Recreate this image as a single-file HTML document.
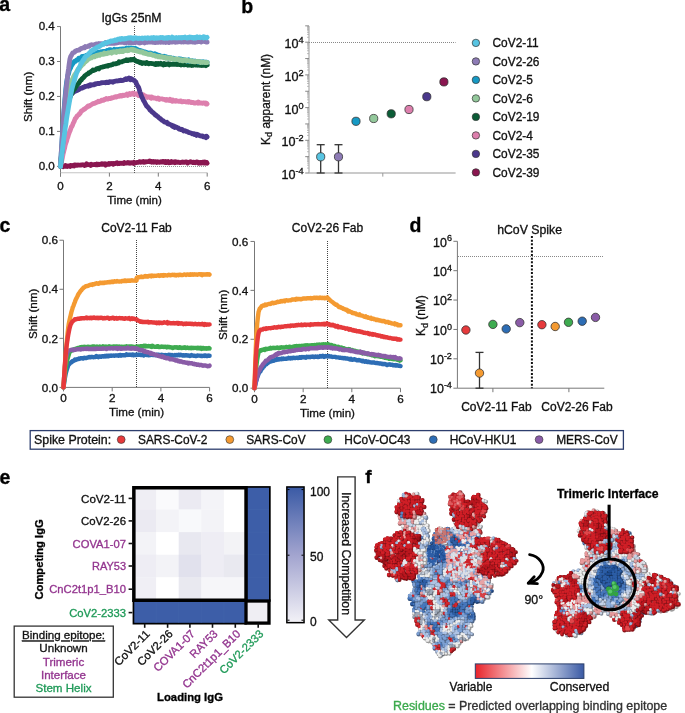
<!DOCTYPE html>
<html><head><meta charset="utf-8"><style>
html,body{margin:0;padding:0;background:#fff;width:685px;height:713px;overflow:hidden}
svg{position:absolute;left:0;top:0;font-family:"Liberation Sans", sans-serif;will-change:transform}
text{stroke-width:0.32px}
</style></head><body>
<svg width="685" height="713" viewBox="0 0 685 713">
<text x="-0.80" y="10.60" font-size="19.5" text-anchor="start" font-weight="bold" fill="#000" stroke="#000">a</text>
<text x="131.50" y="22.40" font-size="12.3" text-anchor="middle" font-weight="normal" fill="#111" stroke="#111">IgGs 25nM</text>
<line x1="60.50" y1="26.40" x2="60.50" y2="176.60" stroke="#7a7a7a" stroke-width="1"/>
<line x1="57.00" y1="26.55" x2="60.50" y2="26.55" stroke="#7a7a7a" stroke-width="1"/>
<text x="54.80" y="29.95" font-size="11.6" text-anchor="end" font-weight="normal" fill="#111" stroke="#111">0.4</text>
<line x1="57.00" y1="61.50" x2="60.50" y2="61.50" stroke="#7a7a7a" stroke-width="1"/>
<text x="54.80" y="64.90" font-size="11.6" text-anchor="end" font-weight="normal" fill="#111" stroke="#111">0.3</text>
<line x1="57.00" y1="96.45" x2="60.50" y2="96.45" stroke="#7a7a7a" stroke-width="1"/>
<text x="54.80" y="99.85" font-size="11.6" text-anchor="end" font-weight="normal" fill="#111" stroke="#111">0.2</text>
<line x1="57.00" y1="131.40" x2="60.50" y2="131.40" stroke="#7a7a7a" stroke-width="1"/>
<text x="54.80" y="134.80" font-size="11.6" text-anchor="end" font-weight="normal" fill="#111" stroke="#111">0.1</text>
<line x1="57.00" y1="166.35" x2="60.50" y2="166.35" stroke="#7a7a7a" stroke-width="1"/>
<text x="54.80" y="169.75" font-size="11.6" text-anchor="end" font-weight="normal" fill="#111" stroke="#111">0.0</text>
<line x1="60.50" y1="172.80" x2="207.30" y2="172.80" stroke="#c4c4c4" stroke-width="1.1"/>
<line x1="60.50" y1="172.80" x2="60.50" y2="176.60" stroke="#7a7a7a" stroke-width="1"/>
<text x="60.50" y="189.60" font-size="11.6" text-anchor="middle" font-weight="normal" fill="#111" stroke="#111">0</text>
<line x1="109.40" y1="172.80" x2="109.40" y2="176.60" stroke="#7a7a7a" stroke-width="1"/>
<text x="109.40" y="189.60" font-size="11.6" text-anchor="middle" font-weight="normal" fill="#111" stroke="#111">2</text>
<line x1="158.30" y1="172.80" x2="158.30" y2="176.60" stroke="#7a7a7a" stroke-width="1"/>
<text x="158.30" y="189.60" font-size="11.6" text-anchor="middle" font-weight="normal" fill="#111" stroke="#111">4</text>
<line x1="207.20" y1="172.80" x2="207.20" y2="176.60" stroke="#7a7a7a" stroke-width="1"/>
<text x="207.20" y="189.60" font-size="11.6" text-anchor="middle" font-weight="normal" fill="#111" stroke="#111">6</text>
<text x="134.50" y="203.70" font-size="11.5" text-anchor="middle" font-weight="normal" fill="#111" stroke="#111">Time (min)</text>
<text x="31.60" y="96.80" font-size="11.6" text-anchor="middle" font-weight="normal" fill="#111" stroke="#111" transform="rotate(-90 31.6 96.8)">Shift (nm)</text>
<line x1="134.50" y1="26.00" x2="134.50" y2="173.00" stroke="#555" stroke-width="1" stroke-dasharray="1,1"/>
<line x1="135.00" y1="166.50" x2="207.00" y2="166.50" stroke="#999" stroke-width="1" stroke-dasharray="1,1"/>
<path d="M60.50,166.35 L61.17,165.87 L61.85,166.25 L62.52,166.07 L63.19,166.68 L63.86,166.16 L64.54,166.14 L65.21,165.55 L65.88,166.34 L66.56,165.97 L67.23,166.55 L67.90,165.94 L68.58,166.09 L69.25,166.13 L69.92,166.53 L70.59,165.43 L71.27,165.56 L71.94,165.88 L72.61,165.52 L73.29,165.77 L73.96,165.98 L74.63,164.88 L75.30,164.83 L75.98,165.15 L76.65,165.28 L77.32,165.24 L78.00,165.02 L78.67,165.06 L79.34,165.08 L80.02,165.14 L80.69,165.02 L81.36,165.03 L82.03,164.84 L82.71,164.77 L83.38,164.81 L84.05,164.96 L84.73,165.47 L85.40,164.94 L86.07,165.07 L86.74,163.82 L87.42,164.57 L88.09,164.58 L88.76,164.66 L89.44,164.77 L90.11,164.68 L90.78,165.46 L91.46,164.27 L92.13,164.74 L92.80,164.69 L93.47,164.72 L94.15,164.72 L94.82,164.39 L95.49,164.43 L96.17,164.88 L96.84,164.17 L97.51,164.83 L98.18,164.50 L98.86,164.22 L99.53,164.55 L100.20,164.30 L100.88,164.37 L101.55,163.77 L102.22,164.29 L102.89,163.77 L103.57,163.88 L104.24,164.38 L104.91,163.85 L105.59,165.13 L106.26,164.52 L106.93,163.97 L107.61,164.22 L108.28,164.27 L108.95,163.47 L109.62,164.27 L110.30,163.52 L110.97,163.65 L111.64,163.44 L112.32,163.62 L112.99,164.27 L113.66,163.50 L114.33,163.82 L115.01,163.73 L115.68,163.43 L116.35,162.78 L117.03,162.77 L117.70,163.69 L118.37,163.26 L119.05,163.67 L119.72,163.11 L120.39,163.32 L121.06,163.44 L121.74,163.23 L122.41,163.22 L123.08,163.46 L123.76,163.53 L124.43,162.62 L125.10,163.17 L125.77,163.22 L126.45,162.98 L127.12,162.95 L127.79,162.48 L128.47,163.01 L129.14,162.77 L129.81,163.28 L130.49,163.21 L131.16,162.64 L131.83,162.97 L132.50,162.88 L133.18,163.30 L133.85,162.41 L133.85,163.66 L134.52,163.00 L135.20,162.93 L135.87,162.60 L136.54,162.54 L137.21,162.41 L137.89,162.35 L138.56,162.30 L139.23,161.76 L139.91,161.77 L140.58,162.26 L141.25,162.00 L141.93,161.99 L142.60,161.77 L143.27,161.50 L143.94,162.39 L144.62,162.01 L145.29,162.08 L145.96,161.77 L146.64,161.81 L147.31,161.72 L147.98,161.56 L148.65,161.56 L149.33,160.98 L150.00,161.75 L150.67,161.23 L151.35,161.39 L152.02,162.24 L152.69,162.14 L153.37,161.43 L154.04,162.20 L154.71,161.85 L155.38,161.68 L156.06,161.86 L156.73,162.45 L157.40,161.79 L158.08,161.98 L158.75,161.97 L159.42,162.34 L160.09,162.19 L160.77,161.75 L161.44,162.13 L162.11,161.72 L162.79,161.34 L163.46,161.55 L164.13,162.28 L164.81,162.50 L165.48,161.62 L166.15,162.57 L166.82,161.81 L167.50,162.32 L168.17,161.65 L168.84,162.84 L169.52,162.10 L170.19,162.16 L170.86,162.46 L171.53,161.61 L172.21,162.29 L172.88,162.44 L173.55,161.93 L174.23,161.92 L174.90,162.67 L175.57,161.74 L176.24,162.04 L176.92,162.45 L177.59,162.22 L178.26,162.11 L178.94,162.37 L179.61,162.62 L180.28,162.53 L180.96,162.43 L181.63,162.36 L182.30,161.88 L182.97,162.39 L183.65,162.18 L184.32,162.38 L184.99,162.17 L185.67,161.80 L186.34,161.90 L187.01,162.28 L187.68,162.99 L188.36,162.51 L189.03,162.03 L189.70,162.15 L190.38,161.62 L191.05,162.04 L191.72,162.07 L192.40,162.47 L193.07,162.15 L193.74,162.21 L194.41,162.58 L195.09,162.75 L195.76,162.66 L196.43,162.09 L197.11,161.82 L197.78,162.15 L198.45,163.11 L199.12,162.41 L199.80,162.97 L200.47,162.32 L201.14,162.29 L201.82,163.04 L202.49,162.31 L203.16,162.08 L203.84,162.85 L204.51,162.17 L205.18,162.85 L205.85,162.19 L206.53,162.39 L207.20,163.20" fill="none" stroke="#8a1650" stroke-width="4.8" stroke-linecap="round" stroke-linejoin="round"/>
<path d="M60.50,166.35 L61.17,163.36 L61.85,160.27 L62.52,157.13 L63.19,153.56 L63.86,150.85 L64.54,148.46 L65.21,145.13 L65.88,143.04 L66.56,141.13 L67.23,138.47 L67.90,136.90 L68.58,134.44 L69.25,132.60 L69.92,131.09 L70.59,129.17 L71.27,127.16 L71.94,126.36 L72.61,124.97 L73.29,122.99 L73.96,121.97 L74.63,120.10 L75.30,118.57 L75.98,117.94 L76.65,116.90 L77.32,115.62 L78.00,115.32 L78.67,114.86 L79.34,113.84 L80.02,113.59 L80.69,112.18 L81.36,111.00 L82.03,110.73 L82.71,110.34 L83.38,109.86 L84.05,109.04 L84.73,109.17 L85.40,108.12 L86.07,107.84 L86.74,107.40 L87.42,106.60 L88.09,105.90 L88.76,106.34 L89.44,106.08 L90.11,105.28 L90.78,105.10 L91.46,104.61 L92.13,104.14 L92.80,103.70 L93.47,103.56 L94.15,103.38 L94.82,103.27 L95.49,102.87 L96.17,102.69 L96.84,102.05 L97.51,101.97 L98.18,101.18 L98.86,101.77 L99.53,101.55 L100.20,101.04 L100.88,101.02 L101.55,100.13 L102.22,100.47 L102.89,100.03 L103.57,100.29 L104.24,99.38 L104.91,99.53 L105.59,99.18 L106.26,98.51 L106.93,99.12 L107.61,99.22 L108.28,98.79 L108.95,98.48 L109.62,98.44 L110.30,98.65 L110.97,98.09 L111.64,97.67 L112.32,98.08 L112.99,97.66 L113.66,97.42 L114.33,97.17 L115.01,96.76 L115.68,96.66 L116.35,96.97 L117.03,96.70 L117.70,96.33 L118.37,96.45 L119.05,96.35 L119.72,95.68 L120.39,95.50 L121.06,96.09 L121.74,96.04 L122.41,95.32 L123.08,95.20 L123.76,95.56 L124.43,95.43 L125.10,95.02 L125.77,95.03 L126.45,95.10 L127.12,94.07 L127.79,95.39 L128.47,94.48 L129.14,94.58 L129.81,93.52 L130.49,94.54 L131.16,94.30 L131.83,93.92 L132.50,93.25 L133.18,93.44 L133.85,93.18 L133.85,94.48 L134.52,94.02 L135.20,94.18 L135.87,94.14 L136.54,93.81 L137.21,94.57 L137.89,94.98 L138.56,95.52 L139.23,94.77 L139.91,95.26 L140.58,95.07 L141.25,95.60 L141.93,95.98 L142.60,95.73 L143.27,94.81 L143.94,96.47 L144.62,95.69 L145.29,95.98 L145.96,96.60 L146.64,96.58 L147.31,97.36 L147.98,96.83 L148.65,96.81 L149.33,97.04 L150.00,97.54 L150.67,97.07 L151.35,98.12 L152.02,97.10 L152.69,97.61 L153.37,98.01 L154.04,98.16 L154.71,97.95 L155.38,98.22 L156.06,98.40 L156.73,98.74 L157.40,98.78 L158.08,97.95 L158.75,98.18 L159.42,99.41 L160.09,98.91 L160.77,98.78 L161.44,98.84 L162.11,98.89 L162.79,99.03 L163.46,99.36 L164.13,99.45 L164.81,99.47 L165.48,100.02 L166.15,100.27 L166.82,99.53 L167.50,99.81 L168.17,100.16 L168.84,100.39 L169.52,100.47 L170.19,99.33 L170.86,100.49 L171.53,100.30 L172.21,101.27 L172.88,99.92 L173.55,101.15 L174.23,100.93 L174.90,100.87 L175.57,101.21 L176.24,100.56 L176.92,100.98 L177.59,101.19 L178.26,101.07 L178.94,101.41 L179.61,101.33 L180.28,101.00 L180.96,101.02 L181.63,101.86 L182.30,101.69 L182.97,101.73 L183.65,101.37 L184.32,101.64 L184.99,101.69 L185.67,101.76 L186.34,102.02 L187.01,101.84 L187.68,101.44 L188.36,102.21 L189.03,101.50 L189.70,102.12 L190.38,102.21 L191.05,102.50 L191.72,102.21 L192.40,102.64 L193.07,102.43 L193.74,102.78 L194.41,103.19 L195.09,103.09 L195.76,102.77 L196.43,102.66 L197.11,102.76 L197.78,103.17 L198.45,102.06 L199.12,103.11 L199.80,103.21 L200.47,102.95 L201.14,102.85 L201.82,103.18 L202.49,103.28 L203.16,102.97 L203.84,102.93 L204.51,103.40 L205.18,103.06 L205.85,103.89 L206.53,103.20 L207.20,103.86" fill="none" stroke="#dd7fad" stroke-width="4.8" stroke-linecap="round" stroke-linejoin="round"/>
<path d="M60.50,166.35 L61.17,158.16 L61.85,150.28 L62.52,142.02 L63.19,135.27 L63.86,128.37 L64.54,122.46 L65.21,116.59 L65.88,110.44 L66.56,106.27 L67.23,102.59 L67.90,99.37 L68.58,97.16 L69.25,96.68 L69.92,95.55 L70.59,94.59 L71.27,93.84 L71.94,93.69 L72.61,93.38 L73.29,92.11 L73.96,91.85 L74.63,91.09 L75.30,91.39 L75.98,90.92 L76.65,90.26 L77.32,90.32 L78.00,89.91 L78.67,89.70 L79.34,89.41 L80.02,88.71 L80.69,88.07 L81.36,88.03 L82.03,88.15 L82.71,87.52 L83.38,87.06 L84.05,87.26 L84.73,86.56 L85.40,86.33 L86.07,86.28 L86.74,86.24 L87.42,85.85 L88.09,86.29 L88.76,85.46 L89.44,85.04 L90.11,85.79 L90.78,84.70 L91.46,85.28 L92.13,84.88 L92.80,84.73 L93.47,84.74 L94.15,84.79 L94.82,83.98 L95.49,84.29 L96.17,83.60 L96.84,83.87 L97.51,83.38 L98.18,83.51 L98.86,83.51 L99.53,83.52 L100.20,83.31 L100.88,83.00 L101.55,82.66 L102.22,82.75 L102.89,82.56 L103.57,82.66 L104.24,82.62 L104.91,82.57 L105.59,82.88 L106.26,82.20 L106.93,82.22 L107.61,82.21 L108.28,82.69 L108.95,82.41 L109.62,81.74 L110.30,81.67 L110.97,81.94 L111.64,81.78 L112.32,81.60 L112.99,82.15 L113.66,81.59 L114.33,81.48 L115.01,81.18 L115.68,81.21 L116.35,80.84 L117.03,80.80 L117.70,80.99 L118.37,80.89 L119.05,80.43 L119.72,80.66 L120.39,80.33 L121.06,80.16 L121.74,80.70 L122.41,80.54 L123.08,80.26 L123.76,80.26 L124.43,79.52 L125.10,79.48 L125.77,78.85 L126.45,79.52 L127.12,78.62 L127.79,78.74 L128.47,79.02 L129.14,78.08 L129.81,78.60 L130.49,79.64 L131.16,78.56 L131.83,79.31 L132.50,79.43 L133.18,79.84 L133.85,80.45 L133.85,80.36 L134.52,80.56 L135.20,81.48 L135.87,81.95 L136.54,84.06 L137.21,85.09 L137.89,86.31 L138.56,87.34 L139.23,89.28 L139.91,91.86 L140.58,93.39 L141.25,95.59 L141.93,97.25 L142.60,98.44 L143.27,100.10 L143.94,101.07 L144.62,102.23 L145.29,103.54 L145.96,104.82 L146.64,106.10 L147.31,106.40 L147.98,107.38 L148.65,108.03 L149.33,108.84 L150.00,110.09 L150.67,110.27 L151.35,111.31 L152.02,111.92 L152.69,112.30 L153.37,112.98 L154.04,113.63 L154.71,114.04 L155.38,115.04 L156.06,115.07 L156.73,115.85 L157.40,116.42 L158.08,116.71 L158.75,117.48 L159.42,118.35 L160.09,118.44 L160.77,119.35 L161.44,119.58 L162.11,120.34 L162.79,120.52 L163.46,120.96 L164.13,121.91 L164.81,122.09 L165.48,122.08 L166.15,122.46 L166.82,122.24 L167.50,123.61 L168.17,123.33 L168.84,124.11 L169.52,124.04 L170.19,124.55 L170.86,124.75 L171.53,125.21 L172.21,126.17 L172.88,125.73 L173.55,126.84 L174.23,126.32 L174.90,127.46 L175.57,127.26 L176.24,126.96 L176.92,127.38 L177.59,127.91 L178.26,127.86 L178.94,129.02 L179.61,129.11 L180.28,129.50 L180.96,129.05 L181.63,129.39 L182.30,129.61 L182.97,130.30 L183.65,130.97 L184.32,130.61 L184.99,130.53 L185.67,131.15 L186.34,131.47 L187.01,131.42 L187.68,131.93 L188.36,132.31 L189.03,132.61 L189.70,132.63 L190.38,132.95 L191.05,133.13 L191.72,133.42 L192.40,133.78 L193.07,133.84 L193.74,133.61 L194.41,134.54 L195.09,134.05 L195.76,134.42 L196.43,135.36 L197.11,134.26 L197.78,134.77 L198.45,135.11 L199.12,135.22 L199.80,135.67 L200.47,135.88 L201.14,136.16 L201.82,135.87 L202.49,135.90 L203.16,136.72 L203.84,136.47 L204.51,137.00 L205.18,137.17 L205.85,137.62 L206.53,136.26 L207.20,136.99" fill="none" stroke="#4b388c" stroke-width="4.8" stroke-linecap="round" stroke-linejoin="round"/>
<path d="M60.50,166.35 L61.17,158.76 L61.85,152.15 L62.52,145.59 L63.19,138.87 L63.86,132.65 L64.54,125.98 L65.21,121.60 L65.88,116.97 L66.56,111.76 L67.23,107.38 L67.90,104.58 L68.58,101.61 L69.25,99.19 L69.92,97.57 L70.59,95.61 L71.27,94.32 L71.94,93.05 L72.61,91.95 L73.29,90.64 L73.96,88.60 L74.63,89.02 L75.30,87.34 L75.98,86.61 L76.65,85.90 L77.32,84.38 L78.00,83.98 L78.67,83.39 L79.34,82.32 L80.02,81.27 L80.69,80.05 L81.36,79.91 L82.03,78.77 L82.71,78.13 L83.38,77.70 L84.05,76.92 L84.73,76.03 L85.40,75.33 L86.07,74.91 L86.74,74.40 L87.42,73.92 L88.09,73.93 L88.76,72.92 L89.44,72.73 L90.11,72.33 L90.78,71.76 L91.46,71.22 L92.13,70.80 L92.80,70.10 L93.47,70.59 L94.15,70.32 L94.82,69.88 L95.49,69.90 L96.17,69.22 L96.84,68.58 L97.51,68.67 L98.18,68.23 L98.86,68.89 L99.53,67.79 L100.20,67.71 L100.88,67.36 L101.55,67.25 L102.22,67.11 L102.89,66.98 L103.57,66.53 L104.24,66.53 L104.91,66.44 L105.59,66.11 L106.26,65.99 L106.93,65.87 L107.61,66.18 L108.28,65.53 L108.95,65.31 L109.62,65.34 L110.30,65.22 L110.97,65.05 L111.64,64.77 L112.32,64.71 L112.99,64.11 L113.66,63.82 L114.33,63.96 L115.01,63.84 L115.68,63.77 L116.35,63.46 L117.03,63.57 L117.70,63.12 L118.37,63.06 L119.05,61.70 L119.72,62.34 L120.39,62.03 L121.06,61.98 L121.74,61.84 L122.41,61.50 L123.08,61.28 L123.76,60.94 L124.43,60.66 L125.10,60.55 L125.77,60.56 L126.45,59.77 L127.12,59.83 L127.79,60.57 L128.47,60.00 L129.14,60.01 L129.81,60.06 L130.49,59.48 L131.16,59.99 L131.83,59.43 L132.50,59.80 L133.18,59.88 L133.85,59.86 L133.85,59.19 L134.52,60.07 L135.20,60.33 L135.87,60.90 L136.54,61.33 L137.21,61.52 L137.89,61.39 L138.56,61.65 L139.23,62.30 L139.91,62.71 L140.58,62.22 L141.25,62.45 L141.93,63.44 L142.60,63.00 L143.27,63.09 L143.94,62.85 L144.62,63.10 L145.29,63.48 L145.96,63.15 L146.64,62.45 L147.31,62.79 L147.98,63.48 L148.65,63.77 L149.33,63.44 L150.00,63.51 L150.67,63.30 L151.35,63.48 L152.02,63.61 L152.69,63.63 L153.37,63.77 L154.04,64.07 L154.71,64.08 L155.38,64.54 L156.06,63.40 L156.73,64.20 L157.40,63.90 L158.08,63.47 L158.75,64.32 L159.42,64.09 L160.09,63.95 L160.77,63.23 L161.44,64.33 L162.11,64.37 L162.79,64.16 L163.46,64.97 L164.13,63.47 L164.81,64.58 L165.48,64.51 L166.15,64.18 L166.82,64.33 L167.50,64.27 L168.17,63.76 L168.84,64.10 L169.52,64.83 L170.19,63.89 L170.86,64.15 L171.53,64.47 L172.21,64.33 L172.88,64.31 L173.55,63.99 L174.23,64.43 L174.90,64.37 L175.57,64.26 L176.24,64.35 L176.92,64.60 L177.59,64.49 L178.26,64.29 L178.94,64.49 L179.61,64.70 L180.28,64.26 L180.96,64.88 L181.63,63.99 L182.30,64.16 L182.97,64.68 L183.65,64.78 L184.32,64.51 L184.99,64.82 L185.67,64.62 L186.34,64.37 L187.01,64.78 L187.68,65.16 L188.36,64.36 L189.03,64.68 L189.70,65.03 L190.38,65.12 L191.05,64.66 L191.72,65.37 L192.40,64.65 L193.07,65.21 L193.74,64.08 L194.41,64.57 L195.09,64.89 L195.76,65.03 L196.43,64.85 L197.11,65.07 L197.78,65.23 L198.45,64.59 L199.12,64.22 L199.80,64.55 L200.47,65.36 L201.14,64.95 L201.82,65.56 L202.49,64.93 L203.16,65.17 L203.84,65.35 L204.51,65.25 L205.18,64.95 L205.85,65.62 L206.53,65.07 L207.20,64.89" fill="none" stroke="#0b5c36" stroke-width="4.8" stroke-linecap="round" stroke-linejoin="round"/>
<path d="M60.50,166.35 L61.17,154.51 L61.85,143.35 L62.52,132.57 L63.19,122.34 L63.86,111.99 L64.54,103.32 L65.21,95.36 L65.88,88.26 L66.56,82.52 L67.23,78.87 L67.90,74.96 L68.58,73.74 L69.25,70.56 L69.92,69.20 L70.59,67.95 L71.27,65.96 L71.94,65.12 L72.61,63.82 L73.29,63.05 L73.96,61.93 L74.63,61.27 L75.30,61.33 L75.98,60.74 L76.65,59.97 L77.32,59.69 L78.00,59.92 L78.67,58.16 L79.34,59.10 L80.02,58.71 L80.69,58.11 L81.36,57.21 L82.03,56.51 L82.71,56.86 L83.38,56.64 L84.05,56.20 L84.73,56.12 L85.40,55.74 L86.07,55.90 L86.74,55.19 L87.42,55.00 L88.09,55.69 L88.76,54.77 L89.44,54.50 L90.11,54.19 L90.78,54.45 L91.46,54.44 L92.13,54.15 L92.80,53.51 L93.47,53.78 L94.15,53.60 L94.82,52.84 L95.49,53.29 L96.17,53.18 L96.84,52.78 L97.51,52.54 L98.18,52.14 L98.86,52.61 L99.53,52.69 L100.20,52.11 L100.88,51.74 L101.55,52.29 L102.22,51.85 L102.89,51.49 L103.57,51.40 L104.24,51.33 L104.91,51.33 L105.59,51.39 L106.26,51.33 L106.93,50.57 L107.61,51.19 L108.28,50.36 L108.95,51.06 L109.62,49.64 L110.30,51.01 L110.97,49.87 L111.64,50.57 L112.32,50.24 L112.99,50.14 L113.66,50.25 L114.33,49.26 L115.01,49.85 L115.68,50.22 L116.35,49.52 L117.03,49.43 L117.70,49.94 L118.37,49.33 L119.05,49.41 L119.72,49.10 L120.39,49.06 L121.06,49.22 L121.74,49.28 L122.41,48.80 L123.08,48.92 L123.76,49.42 L124.43,49.06 L125.10,48.98 L125.77,48.86 L126.45,48.00 L127.12,48.78 L127.79,48.46 L128.47,48.04 L129.14,48.35 L129.81,48.32 L130.49,48.01 L131.16,48.31 L131.83,48.27 L132.50,48.07 L133.18,48.12 L133.85,48.43 L133.85,48.59 L134.52,48.51 L135.20,48.29 L135.87,49.06 L136.54,48.88 L137.21,49.36 L137.89,49.83 L138.56,50.80 L139.23,50.15 L139.91,50.54 L140.58,51.19 L141.25,50.75 L141.93,51.15 L142.60,51.24 L143.27,51.76 L143.94,51.72 L144.62,52.14 L145.29,51.85 L145.96,52.34 L146.64,53.01 L147.31,52.69 L147.98,52.92 L148.65,53.19 L149.33,53.73 L150.00,53.15 L150.67,53.89 L151.35,53.34 L152.02,54.21 L152.69,54.16 L153.37,54.36 L154.04,54.46 L154.71,53.84 L155.38,54.99 L156.06,54.34 L156.73,54.95 L157.40,55.52 L158.08,55.06 L158.75,55.34 L159.42,55.46 L160.09,56.32 L160.77,55.89 L161.44,56.32 L162.11,56.37 L162.79,56.51 L163.46,56.59 L164.13,56.24 L164.81,56.75 L165.48,57.58 L166.15,56.74 L166.82,57.23 L167.50,57.34 L168.17,58.08 L168.84,57.50 L169.52,57.90 L170.19,57.56 L170.86,57.84 L171.53,57.84 L172.21,58.33 L172.88,58.91 L173.55,58.14 L174.23,58.43 L174.90,58.77 L175.57,58.95 L176.24,59.16 L176.92,59.55 L177.59,59.47 L178.26,59.22 L178.94,58.80 L179.61,59.26 L180.28,59.00 L180.96,59.91 L181.63,59.30 L182.30,59.92 L182.97,59.41 L183.65,59.58 L184.32,60.04 L184.99,60.09 L185.67,59.84 L186.34,60.55 L187.01,61.06 L187.68,60.20 L188.36,59.85 L189.03,61.20 L189.70,60.61 L190.38,61.13 L191.05,60.92 L191.72,61.21 L192.40,60.69 L193.07,61.21 L193.74,61.17 L194.41,61.51 L195.09,61.01 L195.76,61.46 L196.43,61.49 L197.11,61.45 L197.78,61.95 L198.45,61.56 L199.12,62.12 L199.80,61.74 L200.47,61.79 L201.14,61.90 L201.82,61.89 L202.49,62.09 L203.16,61.77 L203.84,61.98 L204.51,62.18 L205.18,62.15 L205.85,62.33 L206.53,62.20 L207.20,62.30" fill="none" stroke="#1699c4" stroke-width="4.8" stroke-linecap="round" stroke-linejoin="round"/>
<path d="M60.50,166.35 L61.17,158.07 L61.85,150.87 L62.52,142.30 L63.19,134.86 L63.86,128.21 L64.54,121.11 L65.21,114.75 L65.88,108.05 L66.56,103.68 L67.23,98.85 L67.90,95.05 L68.58,91.32 L69.25,88.51 L69.92,86.82 L70.59,84.66 L71.27,82.41 L71.94,80.63 L72.61,78.95 L73.29,77.47 L73.96,76.26 L74.63,74.78 L75.30,73.81 L75.98,73.29 L76.65,71.64 L77.32,70.77 L78.00,69.12 L78.67,69.08 L79.34,68.92 L80.02,67.12 L80.69,66.62 L81.36,65.87 L82.03,65.19 L82.71,64.10 L83.38,64.13 L84.05,62.95 L84.73,62.17 L85.40,61.80 L86.07,61.04 L86.74,60.91 L87.42,59.62 L88.09,59.22 L88.76,59.14 L89.44,58.37 L90.11,58.40 L90.78,57.69 L91.46,57.78 L92.13,57.23 L92.80,57.16 L93.47,56.62 L94.15,56.40 L94.82,56.80 L95.49,55.98 L96.17,55.52 L96.84,55.87 L97.51,55.25 L98.18,55.01 L98.86,54.96 L99.53,55.37 L100.20,54.65 L100.88,54.13 L101.55,54.35 L102.22,54.35 L102.89,54.36 L103.57,53.82 L104.24,53.06 L104.91,53.90 L105.59,53.35 L106.26,53.36 L106.93,53.75 L107.61,53.36 L108.28,52.74 L108.95,52.94 L109.62,52.65 L110.30,52.67 L110.97,52.18 L111.64,53.10 L112.32,52.15 L112.99,52.48 L113.66,51.76 L114.33,52.01 L115.01,52.05 L115.68,51.68 L116.35,52.44 L117.03,51.22 L117.70,51.42 L118.37,51.21 L119.05,51.90 L119.72,51.56 L120.39,50.67 L121.06,51.61 L121.74,51.45 L122.41,50.81 L123.08,51.50 L123.76,51.19 L124.43,50.41 L125.10,50.58 L125.77,50.29 L126.45,50.14 L127.12,50.63 L127.79,49.86 L128.47,50.60 L129.14,50.20 L129.81,50.02 L130.49,49.50 L131.16,49.87 L131.83,49.55 L132.50,49.34 L133.18,50.41 L133.85,50.29 L133.85,49.59 L134.52,49.89 L135.20,50.74 L135.87,50.62 L136.54,50.60 L137.21,51.13 L137.89,51.15 L138.56,51.60 L139.23,51.62 L139.91,51.89 L140.58,52.10 L141.25,51.71 L141.93,51.98 L142.60,51.84 L143.27,53.00 L143.94,53.09 L144.62,53.36 L145.29,52.92 L145.96,53.59 L146.64,53.76 L147.31,53.84 L147.98,54.34 L148.65,54.38 L149.33,54.37 L150.00,54.02 L150.67,54.16 L151.35,54.76 L152.02,54.91 L152.69,55.41 L153.37,55.44 L154.04,55.30 L154.71,55.51 L155.38,56.23 L156.06,56.06 L156.73,56.18 L157.40,56.40 L158.08,56.72 L158.75,56.51 L159.42,56.39 L160.09,57.10 L160.77,57.11 L161.44,56.60 L162.11,56.78 L162.79,57.31 L163.46,57.25 L164.13,57.80 L164.81,57.30 L165.48,57.53 L166.15,58.28 L166.82,57.99 L167.50,57.68 L168.17,57.96 L168.84,58.35 L169.52,58.45 L170.19,57.88 L170.86,58.67 L171.53,58.79 L172.21,58.55 L172.88,59.26 L173.55,59.08 L174.23,58.94 L174.90,59.59 L175.57,59.64 L176.24,58.92 L176.92,59.02 L177.59,59.18 L178.26,59.81 L178.94,59.53 L179.61,60.39 L180.28,59.93 L180.96,59.64 L181.63,60.46 L182.30,60.76 L182.97,60.13 L183.65,60.60 L184.32,59.67 L184.99,60.15 L185.67,60.44 L186.34,60.96 L187.01,60.27 L187.68,60.53 L188.36,60.56 L189.03,60.60 L189.70,61.27 L190.38,60.72 L191.05,60.74 L191.72,60.86 L192.40,61.62 L193.07,61.16 L193.74,61.73 L194.41,61.91 L195.09,61.92 L195.76,61.37 L196.43,61.66 L197.11,61.37 L197.78,61.83 L198.45,61.36 L199.12,61.92 L199.80,61.62 L200.47,62.56 L201.14,62.11 L201.82,62.26 L202.49,62.51 L203.16,62.38 L203.84,62.01 L204.51,62.20 L205.18,62.63 L205.85,62.63 L206.53,62.40 L207.20,62.61" fill="none" stroke="#93c89b" stroke-width="4.8" stroke-linecap="round" stroke-linejoin="round"/>
<path d="M60.50,166.35 L61.17,154.33 L61.85,143.70 L62.52,133.05 L63.19,122.80 L63.86,113.87 L64.54,105.84 L65.21,98.35 L65.88,91.83 L66.56,85.22 L67.23,79.36 L67.90,73.20 L68.58,68.64 L69.25,63.31 L69.92,58.91 L70.59,56.72 L71.27,55.72 L71.94,54.30 L72.61,53.00 L73.29,52.99 L73.96,52.24 L74.63,52.10 L75.30,51.11 L75.98,50.97 L76.65,50.51 L77.32,50.47 L78.00,50.23 L78.67,50.01 L79.34,50.06 L80.02,49.10 L80.69,48.78 L81.36,48.31 L82.03,48.39 L82.71,48.11 L83.38,47.70 L84.05,47.29 L84.73,47.65 L85.40,46.55 L86.07,46.87 L86.74,46.56 L87.42,46.49 L88.09,46.45 L88.76,45.82 L89.44,46.19 L90.11,45.25 L90.78,45.18 L91.46,44.66 L92.13,44.94 L92.80,44.86 L93.47,45.11 L94.15,44.70 L94.82,44.74 L95.49,44.29 L96.17,44.02 L96.84,44.28 L97.51,44.22 L98.18,43.86 L98.86,43.49 L99.53,43.61 L100.20,43.61 L100.88,44.00 L101.55,43.68 L102.22,44.11 L102.89,43.59 L103.57,43.83 L104.24,43.93 L104.91,43.59 L105.59,42.55 L106.26,43.33 L106.93,43.79 L107.61,42.86 L108.28,43.27 L108.95,43.14 L109.62,42.90 L110.30,43.26 L110.97,43.26 L111.64,43.33 L112.32,42.95 L112.99,43.41 L113.66,43.00 L114.33,43.38 L115.01,42.64 L115.68,42.61 L116.35,43.01 L117.03,42.76 L117.70,42.78 L118.37,42.60 L119.05,42.34 L119.72,42.37 L120.39,42.32 L121.06,42.44 L121.74,42.47 L122.41,42.00 L123.08,42.19 L123.76,42.43 L124.43,42.75 L125.10,42.16 L125.77,42.26 L126.45,42.55 L127.12,42.03 L127.79,42.01 L128.47,42.38 L129.14,42.64 L129.81,42.56 L130.49,42.05 L131.16,42.46 L131.83,42.67 L132.50,42.43 L133.18,42.05 L133.85,42.01 L133.85,42.53 L134.52,42.12 L135.20,42.58 L135.87,41.79 L136.54,42.22 L137.21,42.08 L137.89,41.88 L138.56,42.67 L139.23,42.19 L139.91,42.98 L140.58,42.78 L141.25,42.49 L141.93,42.47 L142.60,41.59 L143.27,42.00 L143.94,41.70 L144.62,42.94 L145.29,42.25 L145.96,41.96 L146.64,42.23 L147.31,42.35 L147.98,42.25 L148.65,42.07 L149.33,42.04 L150.00,42.01 L150.67,41.83 L151.35,42.06 L152.02,41.95 L152.69,42.15 L153.37,42.40 L154.04,42.13 L154.71,41.87 L155.38,42.59 L156.06,42.13 L156.73,42.28 L157.40,42.15 L158.08,41.44 L158.75,42.34 L159.42,41.91 L160.09,41.83 L160.77,42.29 L161.44,41.33 L162.11,41.54 L162.79,41.98 L163.46,42.31 L164.13,42.08 L164.81,42.02 L165.48,42.42 L166.15,41.55 L166.82,41.57 L167.50,42.08 L168.17,41.63 L168.84,42.59 L169.52,42.20 L170.19,41.59 L170.86,41.87 L171.53,42.17 L172.21,42.02 L172.88,41.92 L173.55,41.81 L174.23,41.60 L174.90,41.76 L175.57,42.26 L176.24,41.88 L176.92,42.06 L177.59,41.91 L178.26,41.95 L178.94,41.68 L179.61,41.41 L180.28,41.43 L180.96,41.99 L181.63,42.05 L182.30,41.81 L182.97,41.94 L183.65,42.06 L184.32,41.56 L184.99,41.43 L185.67,41.90 L186.34,41.70 L187.01,41.91 L187.68,42.11 L188.36,41.50 L189.03,41.95 L189.70,41.44 L190.38,41.86 L191.05,41.65 L191.72,41.92 L192.40,41.48 L193.07,42.04 L193.74,41.67 L194.41,42.07 L195.09,42.40 L195.76,41.49 L196.43,41.32 L197.11,41.93 L197.78,41.58 L198.45,41.58 L199.12,41.50 L199.80,41.45 L200.47,41.13 L201.14,42.08 L201.82,41.32 L202.49,41.11 L203.16,41.35 L203.84,41.49 L204.51,41.58 L205.18,41.63 L205.85,41.68 L206.53,42.10 L207.20,42.17" fill="none" stroke="#8d7bb5" stroke-width="4.8" stroke-linecap="round" stroke-linejoin="round"/>
<path d="M60.50,166.35 L61.17,160.76 L61.85,154.62 L62.52,149.34 L63.19,143.61 L63.86,138.28 L64.54,133.92 L65.21,128.24 L65.88,124.02 L66.56,118.63 L67.23,114.68 L67.90,110.89 L68.58,106.65 L69.25,102.82 L69.92,99.15 L70.59,95.38 L71.27,92.40 L71.94,88.99 L72.61,86.46 L73.29,84.07 L73.96,82.04 L74.63,79.77 L75.30,77.07 L75.98,74.92 L76.65,72.81 L77.32,71.72 L78.00,69.88 L78.67,68.64 L79.34,67.11 L80.02,66.38 L80.69,64.17 L81.36,63.43 L82.03,62.07 L82.71,60.81 L83.38,59.80 L84.05,59.34 L84.73,57.51 L85.40,56.88 L86.07,56.14 L86.74,55.74 L87.42,55.34 L88.09,54.69 L88.76,53.62 L89.44,52.90 L90.11,52.60 L90.78,51.26 L91.46,51.21 L92.13,50.48 L92.80,50.03 L93.47,50.18 L94.15,49.08 L94.82,48.81 L95.49,48.93 L96.17,47.89 L96.84,47.38 L97.51,47.02 L98.18,46.61 L98.86,47.00 L99.53,46.26 L100.20,45.97 L100.88,45.41 L101.55,45.02 L102.22,44.33 L102.89,44.09 L103.57,44.23 L104.24,43.35 L104.91,42.79 L105.59,42.89 L106.26,43.16 L106.93,42.61 L107.61,42.20 L108.28,42.41 L108.95,41.72 L109.62,41.88 L110.30,41.05 L110.97,40.94 L111.64,41.03 L112.32,41.25 L112.99,40.62 L113.66,40.77 L114.33,40.65 L115.01,39.95 L115.68,40.40 L116.35,40.46 L117.03,39.65 L117.70,39.21 L118.37,39.14 L119.05,39.28 L119.72,38.76 L120.39,39.41 L121.06,38.51 L121.74,38.43 L122.41,39.10 L123.08,38.76 L123.76,39.20 L124.43,39.04 L125.10,38.45 L125.77,38.92 L126.45,38.41 L127.12,38.27 L127.79,38.31 L128.47,37.99 L129.14,37.63 L129.81,38.15 L130.49,37.85 L131.16,37.66 L131.83,38.25 L132.50,38.30 L133.18,38.85 L133.85,37.94 L133.85,38.09 L134.52,38.27 L135.20,37.73 L135.87,37.90 L136.54,38.10 L137.21,38.36 L137.89,38.61 L138.56,38.28 L139.23,38.14 L139.91,38.30 L140.58,38.36 L141.25,38.37 L141.93,38.02 L142.60,38.76 L143.27,38.31 L143.94,38.17 L144.62,37.96 L145.29,37.94 L145.96,38.22 L146.64,38.32 L147.31,38.49 L147.98,37.74 L148.65,37.91 L149.33,38.01 L150.00,38.29 L150.67,38.41 L151.35,37.67 L152.02,38.03 L152.69,37.86 L153.37,37.43 L154.04,38.47 L154.71,38.22 L155.38,37.85 L156.06,37.75 L156.73,38.27 L157.40,37.95 L158.08,38.10 L158.75,38.08 L159.42,37.77 L160.09,37.82 L160.77,37.50 L161.44,37.67 L162.11,37.37 L162.79,38.09 L163.46,37.70 L164.13,38.26 L164.81,38.33 L165.48,38.24 L166.15,37.56 L166.82,37.72 L167.50,38.29 L168.17,37.35 L168.84,37.45 L169.52,37.80 L170.19,37.81 L170.86,37.73 L171.53,38.11 L172.21,36.97 L172.88,37.85 L173.55,37.76 L174.23,37.79 L174.90,37.89 L175.57,37.96 L176.24,37.56 L176.92,38.05 L177.59,37.98 L178.26,37.90 L178.94,37.38 L179.61,37.94 L180.28,37.93 L180.96,37.51 L181.63,37.96 L182.30,37.70 L182.97,37.31 L183.65,37.45 L184.32,37.56 L184.99,37.09 L185.67,37.69 L186.34,37.74 L187.01,38.10 L187.68,37.53 L188.36,37.33 L189.03,37.74 L189.70,36.93 L190.38,37.19 L191.05,37.21 L191.72,37.88 L192.40,37.40 L193.07,37.37 L193.74,38.13 L194.41,37.48 L195.09,37.55 L195.76,38.01 L196.43,37.30 L197.11,36.81 L197.78,37.21 L198.45,37.71 L199.12,37.52 L199.80,37.08 L200.47,37.69 L201.14,37.31 L201.82,37.41 L202.49,37.36 L203.16,36.89 L203.84,37.89 L204.51,37.03 L205.18,37.31 L205.85,37.42 L206.53,37.92 L207.20,37.29" fill="none" stroke="#57c4e2" stroke-width="4.8" stroke-linecap="round" stroke-linejoin="round"/>
<text x="241.30" y="13.40" font-size="19.5" text-anchor="start" font-weight="bold" fill="#000" stroke="#000">b</text>
<line x1="309.00" y1="26.00" x2="309.00" y2="173.00" stroke="#b8b8b8" stroke-width="1.4"/>
<line x1="309.00" y1="173.00" x2="455.60" y2="173.00" stroke="#b8b8b8" stroke-width="1.4"/>
<line x1="382.80" y1="173.00" x2="382.80" y2="176.60" stroke="#999" stroke-width="1"/>
<line x1="305.20" y1="173.00" x2="309.00" y2="173.00" stroke="#888" stroke-width="1"/>
<line x1="307.00" y1="168.08" x2="309.00" y2="168.08" stroke="#aaa" stroke-width="0.8"/>
<line x1="307.00" y1="165.20" x2="309.00" y2="165.20" stroke="#aaa" stroke-width="0.8"/>
<line x1="307.00" y1="163.16" x2="309.00" y2="163.16" stroke="#aaa" stroke-width="0.8"/>
<line x1="307.00" y1="161.57" x2="309.00" y2="161.57" stroke="#aaa" stroke-width="0.8"/>
<line x1="307.00" y1="160.28" x2="309.00" y2="160.28" stroke="#aaa" stroke-width="0.8"/>
<line x1="307.00" y1="159.18" x2="309.00" y2="159.18" stroke="#aaa" stroke-width="0.8"/>
<line x1="307.00" y1="158.23" x2="309.00" y2="158.23" stroke="#aaa" stroke-width="0.8"/>
<line x1="307.00" y1="157.40" x2="309.00" y2="157.40" stroke="#aaa" stroke-width="0.8"/>
<line x1="305.20" y1="156.65" x2="309.00" y2="156.65" stroke="#888" stroke-width="1"/>
<line x1="307.00" y1="151.73" x2="309.00" y2="151.73" stroke="#aaa" stroke-width="0.8"/>
<line x1="307.00" y1="148.85" x2="309.00" y2="148.85" stroke="#aaa" stroke-width="0.8"/>
<line x1="307.00" y1="146.81" x2="309.00" y2="146.81" stroke="#aaa" stroke-width="0.8"/>
<line x1="307.00" y1="145.22" x2="309.00" y2="145.22" stroke="#aaa" stroke-width="0.8"/>
<line x1="307.00" y1="143.93" x2="309.00" y2="143.93" stroke="#aaa" stroke-width="0.8"/>
<line x1="307.00" y1="142.83" x2="309.00" y2="142.83" stroke="#aaa" stroke-width="0.8"/>
<line x1="307.00" y1="141.88" x2="309.00" y2="141.88" stroke="#aaa" stroke-width="0.8"/>
<line x1="307.00" y1="141.05" x2="309.00" y2="141.05" stroke="#aaa" stroke-width="0.8"/>
<line x1="305.20" y1="140.30" x2="309.00" y2="140.30" stroke="#888" stroke-width="1"/>
<line x1="307.00" y1="135.38" x2="309.00" y2="135.38" stroke="#aaa" stroke-width="0.8"/>
<line x1="307.00" y1="132.50" x2="309.00" y2="132.50" stroke="#aaa" stroke-width="0.8"/>
<line x1="307.00" y1="130.46" x2="309.00" y2="130.46" stroke="#aaa" stroke-width="0.8"/>
<line x1="307.00" y1="128.87" x2="309.00" y2="128.87" stroke="#aaa" stroke-width="0.8"/>
<line x1="307.00" y1="127.58" x2="309.00" y2="127.58" stroke="#aaa" stroke-width="0.8"/>
<line x1="307.00" y1="126.48" x2="309.00" y2="126.48" stroke="#aaa" stroke-width="0.8"/>
<line x1="307.00" y1="125.53" x2="309.00" y2="125.53" stroke="#aaa" stroke-width="0.8"/>
<line x1="307.00" y1="124.70" x2="309.00" y2="124.70" stroke="#aaa" stroke-width="0.8"/>
<line x1="305.20" y1="123.95" x2="309.00" y2="123.95" stroke="#888" stroke-width="1"/>
<line x1="307.00" y1="119.03" x2="309.00" y2="119.03" stroke="#aaa" stroke-width="0.8"/>
<line x1="307.00" y1="116.15" x2="309.00" y2="116.15" stroke="#aaa" stroke-width="0.8"/>
<line x1="307.00" y1="114.11" x2="309.00" y2="114.11" stroke="#aaa" stroke-width="0.8"/>
<line x1="307.00" y1="112.52" x2="309.00" y2="112.52" stroke="#aaa" stroke-width="0.8"/>
<line x1="307.00" y1="111.23" x2="309.00" y2="111.23" stroke="#aaa" stroke-width="0.8"/>
<line x1="307.00" y1="110.13" x2="309.00" y2="110.13" stroke="#aaa" stroke-width="0.8"/>
<line x1="307.00" y1="109.18" x2="309.00" y2="109.18" stroke="#aaa" stroke-width="0.8"/>
<line x1="307.00" y1="108.35" x2="309.00" y2="108.35" stroke="#aaa" stroke-width="0.8"/>
<line x1="305.20" y1="107.60" x2="309.00" y2="107.60" stroke="#888" stroke-width="1"/>
<line x1="307.00" y1="102.68" x2="309.00" y2="102.68" stroke="#aaa" stroke-width="0.8"/>
<line x1="307.00" y1="99.80" x2="309.00" y2="99.80" stroke="#aaa" stroke-width="0.8"/>
<line x1="307.00" y1="97.76" x2="309.00" y2="97.76" stroke="#aaa" stroke-width="0.8"/>
<line x1="307.00" y1="96.17" x2="309.00" y2="96.17" stroke="#aaa" stroke-width="0.8"/>
<line x1="307.00" y1="94.88" x2="309.00" y2="94.88" stroke="#aaa" stroke-width="0.8"/>
<line x1="307.00" y1="93.78" x2="309.00" y2="93.78" stroke="#aaa" stroke-width="0.8"/>
<line x1="307.00" y1="92.83" x2="309.00" y2="92.83" stroke="#aaa" stroke-width="0.8"/>
<line x1="307.00" y1="92.00" x2="309.00" y2="92.00" stroke="#aaa" stroke-width="0.8"/>
<line x1="305.20" y1="91.25" x2="309.00" y2="91.25" stroke="#888" stroke-width="1"/>
<line x1="307.00" y1="86.33" x2="309.00" y2="86.33" stroke="#aaa" stroke-width="0.8"/>
<line x1="307.00" y1="83.45" x2="309.00" y2="83.45" stroke="#aaa" stroke-width="0.8"/>
<line x1="307.00" y1="81.41" x2="309.00" y2="81.41" stroke="#aaa" stroke-width="0.8"/>
<line x1="307.00" y1="79.82" x2="309.00" y2="79.82" stroke="#aaa" stroke-width="0.8"/>
<line x1="307.00" y1="78.53" x2="309.00" y2="78.53" stroke="#aaa" stroke-width="0.8"/>
<line x1="307.00" y1="77.43" x2="309.00" y2="77.43" stroke="#aaa" stroke-width="0.8"/>
<line x1="307.00" y1="76.48" x2="309.00" y2="76.48" stroke="#aaa" stroke-width="0.8"/>
<line x1="307.00" y1="75.65" x2="309.00" y2="75.65" stroke="#aaa" stroke-width="0.8"/>
<line x1="305.20" y1="74.90" x2="309.00" y2="74.90" stroke="#888" stroke-width="1"/>
<line x1="307.00" y1="69.98" x2="309.00" y2="69.98" stroke="#aaa" stroke-width="0.8"/>
<line x1="307.00" y1="67.10" x2="309.00" y2="67.10" stroke="#aaa" stroke-width="0.8"/>
<line x1="307.00" y1="65.06" x2="309.00" y2="65.06" stroke="#aaa" stroke-width="0.8"/>
<line x1="307.00" y1="63.47" x2="309.00" y2="63.47" stroke="#aaa" stroke-width="0.8"/>
<line x1="307.00" y1="62.18" x2="309.00" y2="62.18" stroke="#aaa" stroke-width="0.8"/>
<line x1="307.00" y1="61.08" x2="309.00" y2="61.08" stroke="#aaa" stroke-width="0.8"/>
<line x1="307.00" y1="60.13" x2="309.00" y2="60.13" stroke="#aaa" stroke-width="0.8"/>
<line x1="307.00" y1="59.30" x2="309.00" y2="59.30" stroke="#aaa" stroke-width="0.8"/>
<line x1="305.20" y1="58.55" x2="309.00" y2="58.55" stroke="#888" stroke-width="1"/>
<line x1="307.00" y1="53.63" x2="309.00" y2="53.63" stroke="#aaa" stroke-width="0.8"/>
<line x1="307.00" y1="50.75" x2="309.00" y2="50.75" stroke="#aaa" stroke-width="0.8"/>
<line x1="307.00" y1="48.71" x2="309.00" y2="48.71" stroke="#aaa" stroke-width="0.8"/>
<line x1="307.00" y1="47.12" x2="309.00" y2="47.12" stroke="#aaa" stroke-width="0.8"/>
<line x1="307.00" y1="45.83" x2="309.00" y2="45.83" stroke="#aaa" stroke-width="0.8"/>
<line x1="307.00" y1="44.73" x2="309.00" y2="44.73" stroke="#aaa" stroke-width="0.8"/>
<line x1="307.00" y1="43.78" x2="309.00" y2="43.78" stroke="#aaa" stroke-width="0.8"/>
<line x1="307.00" y1="42.95" x2="309.00" y2="42.95" stroke="#aaa" stroke-width="0.8"/>
<line x1="305.20" y1="42.20" x2="309.00" y2="42.20" stroke="#888" stroke-width="1"/>
<line x1="307.00" y1="37.28" x2="309.00" y2="37.28" stroke="#aaa" stroke-width="0.8"/>
<line x1="307.00" y1="34.40" x2="309.00" y2="34.40" stroke="#aaa" stroke-width="0.8"/>
<line x1="307.00" y1="32.36" x2="309.00" y2="32.36" stroke="#aaa" stroke-width="0.8"/>
<line x1="307.00" y1="30.77" x2="309.00" y2="30.77" stroke="#aaa" stroke-width="0.8"/>
<line x1="307.00" y1="29.48" x2="309.00" y2="29.48" stroke="#aaa" stroke-width="0.8"/>
<line x1="307.00" y1="28.38" x2="309.00" y2="28.38" stroke="#aaa" stroke-width="0.8"/>
<line x1="307.00" y1="27.43" x2="309.00" y2="27.43" stroke="#aaa" stroke-width="0.8"/>
<line x1="307.00" y1="26.60" x2="309.00" y2="26.60" stroke="#aaa" stroke-width="0.8"/>
<line x1="305.20" y1="25.85" x2="309.00" y2="25.85" stroke="#888" stroke-width="1"/>
<text x="303.6" y="48.20" font-size="12.6" text-anchor="end" fill="#111" stroke="#111">10<tspan font-size="9.2" dy="-4.9">4</tspan></text>
<text x="303.6" y="80.90" font-size="12.6" text-anchor="end" fill="#111" stroke="#111">10<tspan font-size="9.2" dy="-4.9">2</tspan></text>
<text x="303.6" y="113.60" font-size="12.6" text-anchor="end" fill="#111" stroke="#111">10<tspan font-size="9.2" dy="-4.9">0</tspan></text>
<text x="303.6" y="146.30" font-size="12.6" text-anchor="end" fill="#111" stroke="#111">10<tspan font-size="9.2" dy="-4.9">-2</tspan></text>
<text x="303.6" y="179.00" font-size="12.6" text-anchor="end" fill="#111" stroke="#111">10<tspan font-size="9.2" dy="-4.9">-4</tspan></text>
<line x1="309.00" y1="42.50" x2="455.60" y2="42.50" stroke="#888" stroke-width="1" stroke-dasharray="1,1"/>
<text x="269.70" y="99.40" font-size="11.9" text-anchor="middle" font-weight="normal" fill="#111" stroke="#111" transform="rotate(-90 269.7 99.4)">K<tspan font-size="9" dy="2.6">d</tspan><tspan dy="-2.6"> apparent (nM)</tspan></text>
<line x1="320.70" y1="144.70" x2="320.70" y2="173.00" stroke="#333" stroke-width="1.3"/>
<line x1="316.70" y1="144.70" x2="324.70" y2="144.70" stroke="#333" stroke-width="1.3"/>
<line x1="316.70" y1="173.00" x2="324.70" y2="173.00" stroke="#333" stroke-width="1.3"/>
<line x1="338.50" y1="144.70" x2="338.50" y2="173.00" stroke="#333" stroke-width="1.3"/>
<line x1="334.50" y1="144.70" x2="342.50" y2="144.70" stroke="#333" stroke-width="1.3"/>
<line x1="334.50" y1="173.00" x2="342.50" y2="173.00" stroke="#333" stroke-width="1.3"/>
<circle cx="320.7" cy="156.8" r="4.1" fill="#57c4e2" stroke="#333" stroke-width="0.8"/>
<circle cx="338.5" cy="156.8" r="4.1" fill="#8d7bb5" stroke="#333" stroke-width="0.8"/>
<circle cx="356.0" cy="121.3" r="4.1" fill="#1699c4" stroke="#333" stroke-width="0.8"/>
<circle cx="373.7" cy="118.5" r="4.1" fill="#93c89b" stroke="#333" stroke-width="0.8"/>
<circle cx="391.2" cy="113.8" r="4.1" fill="#0b5c36" stroke="#333" stroke-width="0.8"/>
<circle cx="409.0" cy="109.5" r="4.1" fill="#dd7fad" stroke="#333" stroke-width="0.8"/>
<circle cx="426.8" cy="96.7" r="4.1" fill="#4b388c" stroke="#333" stroke-width="0.8"/>
<circle cx="443.9" cy="81.9" r="4.1" fill="#8a1650" stroke="#333" stroke-width="0.8"/>
<circle cx="475.9" cy="42.90" r="3.7" fill="#57c4e2" stroke="#333" stroke-width="0.7"/>
<text x="492.50" y="47.20" font-size="11.9" text-anchor="start" font-weight="normal" fill="#111" stroke="#111">CoV2-11</text>
<circle cx="475.9" cy="61.40" r="3.7" fill="#8d7bb5" stroke="#333" stroke-width="0.7"/>
<text x="492.50" y="65.70" font-size="11.9" text-anchor="start" font-weight="normal" fill="#111" stroke="#111">CoV2-26</text>
<circle cx="475.9" cy="79.90" r="3.7" fill="#1699c4" stroke="#333" stroke-width="0.7"/>
<text x="492.50" y="84.20" font-size="11.9" text-anchor="start" font-weight="normal" fill="#111" stroke="#111">CoV2-5</text>
<circle cx="475.9" cy="98.40" r="3.7" fill="#93c89b" stroke="#333" stroke-width="0.7"/>
<text x="492.50" y="102.70" font-size="11.9" text-anchor="start" font-weight="normal" fill="#111" stroke="#111">CoV2-6</text>
<circle cx="475.9" cy="116.90" r="3.7" fill="#0b5c36" stroke="#333" stroke-width="0.7"/>
<text x="492.50" y="121.20" font-size="11.9" text-anchor="start" font-weight="normal" fill="#111" stroke="#111">CoV2-19</text>
<circle cx="475.9" cy="135.40" r="3.7" fill="#dd7fad" stroke="#333" stroke-width="0.7"/>
<text x="492.50" y="139.70" font-size="11.9" text-anchor="start" font-weight="normal" fill="#111" stroke="#111">CoV2-4</text>
<circle cx="475.9" cy="153.90" r="3.7" fill="#4b388c" stroke="#333" stroke-width="0.7"/>
<text x="492.50" y="158.20" font-size="11.9" text-anchor="start" font-weight="normal" fill="#111" stroke="#111">CoV2-35</text>
<circle cx="475.9" cy="172.40" r="3.7" fill="#8a1650" stroke="#333" stroke-width="0.7"/>
<text x="492.50" y="176.70" font-size="11.9" text-anchor="start" font-weight="normal" fill="#111" stroke="#111">CoV2-39</text>
<text x="-0.60" y="232.00" font-size="19.5" text-anchor="start" font-weight="bold" fill="#000" stroke="#000">c</text>
<text x="136.50" y="231.70" font-size="12.0" text-anchor="middle" font-weight="normal" fill="#111" stroke="#111">CoV2-11 Fab</text>
<line x1="63.50" y1="240.22" x2="63.50" y2="387.40" stroke="#777" stroke-width="1"/>
<line x1="63.50" y1="387.40" x2="209.60" y2="387.40" stroke="#777" stroke-width="1"/>
<line x1="59.50" y1="240.22" x2="63.50" y2="240.22" stroke="#777" stroke-width="1"/>
<text x="58.00" y="244.42" font-size="11.7" text-anchor="end" font-weight="normal" fill="#111" stroke="#111">0.6</text>
<line x1="59.50" y1="289.28" x2="63.50" y2="289.28" stroke="#777" stroke-width="1"/>
<text x="58.00" y="293.48" font-size="11.7" text-anchor="end" font-weight="normal" fill="#111" stroke="#111">0.4</text>
<line x1="59.50" y1="338.34" x2="63.50" y2="338.34" stroke="#777" stroke-width="1"/>
<text x="58.00" y="342.54" font-size="11.7" text-anchor="end" font-weight="normal" fill="#111" stroke="#111">0.2</text>
<line x1="59.50" y1="387.40" x2="63.50" y2="387.40" stroke="#777" stroke-width="1"/>
<text x="58.00" y="391.60" font-size="11.7" text-anchor="end" font-weight="normal" fill="#111" stroke="#111">0.0</text>
<line x1="63.50" y1="387.40" x2="63.50" y2="391.40" stroke="#777" stroke-width="1"/>
<text x="63.50" y="402.00" font-size="11.7" text-anchor="middle" font-weight="normal" fill="#111" stroke="#111">0</text>
<line x1="112.20" y1="387.40" x2="112.20" y2="391.40" stroke="#777" stroke-width="1"/>
<text x="112.20" y="402.00" font-size="11.7" text-anchor="middle" font-weight="normal" fill="#111" stroke="#111">2</text>
<line x1="160.90" y1="387.40" x2="160.90" y2="391.40" stroke="#777" stroke-width="1"/>
<text x="160.90" y="402.00" font-size="11.7" text-anchor="middle" font-weight="normal" fill="#111" stroke="#111">4</text>
<line x1="209.60" y1="387.40" x2="209.60" y2="391.40" stroke="#777" stroke-width="1"/>
<text x="209.60" y="402.00" font-size="11.7" text-anchor="middle" font-weight="normal" fill="#111" stroke="#111">6</text>
<text x="136.55" y="415.90" font-size="11.6" text-anchor="middle" font-weight="normal" fill="#111" stroke="#111">Time (min)</text>
<text x="37.00" y="313.81" font-size="11.6" text-anchor="middle" font-weight="normal" fill="#111" stroke="#111" transform="rotate(-90 37.0 313.80999999999995)">Shift (nm)</text>
<line x1="136.50" y1="240.00" x2="136.50" y2="387.40" stroke="#444" stroke-width="1" stroke-dasharray="1,1"/>
<path d="M63.50,387.40 L64.17,382.66 L64.84,378.28 L65.51,374.50 L66.18,371.83 L66.85,369.46 L67.52,367.45 L68.19,365.61 L68.86,364.23 L69.53,363.96 L70.20,363.15 L70.87,362.61 L71.54,362.12 L72.21,361.27 L72.88,361.22 L73.55,360.86 L74.22,360.40 L74.89,359.47 L75.56,359.94 L76.23,359.67 L76.90,359.13 L77.57,359.10 L78.24,359.14 L78.91,358.43 L79.58,358.72 L80.25,358.42 L80.92,358.13 L81.59,358.40 L82.27,358.26 L82.94,358.58 L83.61,357.92 L84.28,357.79 L84.95,358.12 L85.62,358.00 L86.29,358.01 L86.96,357.68 L87.63,357.65 L88.30,357.47 L88.97,357.02 L89.64,357.15 L90.31,357.30 L90.98,356.88 L91.65,357.05 L92.32,357.05 L92.99,357.14 L93.66,357.22 L94.33,357.01 L95.00,356.93 L95.67,356.95 L96.34,356.12 L97.01,356.69 L97.68,356.46 L98.35,357.12 L99.02,356.44 L99.69,356.47 L100.36,356.46 L101.03,356.84 L101.70,356.36 L102.37,356.23 L103.04,356.40 L103.71,356.49 L104.38,355.90 L105.05,355.88 L105.72,356.47 L106.39,355.76 L107.06,356.17 L107.73,355.69 L108.40,356.32 L109.07,355.93 L109.74,355.63 L110.41,355.82 L111.08,355.45 L111.75,355.75 L112.42,355.67 L113.09,355.53 L113.76,355.60 L114.43,355.75 L115.10,355.37 L115.77,355.37 L116.44,355.37 L117.11,355.52 L117.78,355.47 L118.46,355.72 L119.13,355.17 L119.80,355.04 L120.47,354.95 L121.14,355.68 L121.81,355.31 L122.48,355.09 L123.15,355.19 L123.82,355.39 L124.49,355.14 L125.16,355.31 L125.83,354.87 L126.50,354.34 L127.17,354.82 L127.84,354.95 L128.51,354.71 L129.18,354.82 L129.85,354.72 L130.52,354.61 L131.19,354.82 L131.86,355.02 L132.53,354.51 L133.20,354.66 L133.87,355.26 L134.54,355.04 L135.21,355.14 L135.88,354.68 L136.55,355.03 L136.55,354.51 L137.22,354.76 L137.89,354.60 L138.56,354.83 L139.23,354.67 L139.90,354.55 L140.57,354.84 L141.24,355.04 L141.91,354.89 L142.58,354.97 L143.25,354.91 L143.92,355.45 L144.59,354.83 L145.26,354.48 L145.93,354.71 L146.60,354.65 L147.27,355.15 L147.94,355.16 L148.61,355.27 L149.28,355.07 L149.95,355.00 L150.62,354.98 L151.29,354.87 L151.96,354.86 L152.63,354.93 L153.30,355.14 L153.97,354.81 L154.64,355.02 L155.32,355.27 L155.99,354.87 L156.66,355.04 L157.33,354.82 L158.00,354.61 L158.67,354.69 L159.34,355.03 L160.01,355.25 L160.68,355.07 L161.35,354.82 L162.02,355.32 L162.69,354.92 L163.36,355.36 L164.03,355.11 L164.70,355.42 L165.37,355.07 L166.04,355.16 L166.71,355.34 L167.38,355.64 L168.05,355.12 L168.72,354.78 L169.39,355.65 L170.06,354.92 L170.73,354.99 L171.40,355.55 L172.07,354.94 L172.74,355.20 L173.41,355.54 L174.08,355.48 L174.75,355.06 L175.42,355.52 L176.09,354.89 L176.76,355.29 L177.43,355.26 L178.10,354.87 L178.77,354.78 L179.44,355.30 L180.11,355.09 L180.78,354.78 L181.45,355.00 L182.12,355.34 L182.79,355.64 L183.46,355.22 L184.13,355.42 L184.80,355.63 L185.47,355.24 L186.14,355.27 L186.81,355.41 L187.48,355.62 L188.15,355.53 L188.82,355.52 L189.49,356.00 L190.16,355.39 L190.83,355.67 L191.51,355.05 L192.18,355.63 L192.85,355.51 L193.52,355.76 L194.19,355.74 L194.86,355.78 L195.53,356.09 L196.20,356.01 L196.87,355.88 L197.54,355.48 L198.21,355.62 L198.88,355.59 L199.55,355.69 L200.22,355.79 L200.89,356.03 L201.56,355.73 L202.23,356.02 L202.90,355.89 L203.57,355.72 L204.24,355.93 L204.91,355.48 L205.58,355.54 L206.25,355.86 L206.92,356.15 L207.59,356.09 L208.26,355.52 L208.93,355.71 L209.60,355.79" fill="none" stroke="#2d6db5" stroke-width="4.4" stroke-linecap="round" stroke-linejoin="round"/>
<path d="M63.50,387.40 L64.17,380.56 L64.84,375.47 L65.51,370.29 L66.18,365.24 L66.85,361.53 L67.52,358.89 L68.19,356.59 L68.86,354.28 L69.53,352.40 L70.20,350.94 L70.87,350.29 L71.54,350.65 L72.21,349.96 L72.88,350.10 L73.55,349.34 L74.22,349.20 L74.89,349.53 L75.56,348.85 L76.23,348.55 L76.90,348.31 L77.57,348.04 L78.24,348.18 L78.91,347.73 L79.58,347.83 L80.25,347.16 L80.92,347.51 L81.59,347.01 L82.27,347.25 L82.94,346.89 L83.61,347.16 L84.28,346.84 L84.95,347.29 L85.62,346.96 L86.29,347.09 L86.96,347.16 L87.63,346.91 L88.30,346.62 L88.97,347.04 L89.64,346.92 L90.31,346.94 L90.98,347.17 L91.65,346.88 L92.32,346.63 L92.99,346.44 L93.66,346.50 L94.33,346.49 L95.00,346.77 L95.67,347.11 L96.34,346.86 L97.01,346.55 L97.68,347.00 L98.35,346.85 L99.02,347.08 L99.69,346.50 L100.36,346.75 L101.03,346.91 L101.70,346.91 L102.37,347.25 L103.04,346.37 L103.71,346.98 L104.38,346.81 L105.05,346.68 L105.72,346.56 L106.39,346.92 L107.06,346.65 L107.73,346.96 L108.40,346.97 L109.07,346.38 L109.74,346.94 L110.41,346.67 L111.08,346.90 L111.75,347.04 L112.42,346.68 L113.09,346.61 L113.76,346.42 L114.43,346.46 L115.10,346.91 L115.77,346.61 L116.44,346.35 L117.11,346.38 L117.78,346.70 L118.46,347.01 L119.13,346.53 L119.80,347.30 L120.47,346.81 L121.14,346.71 L121.81,346.77 L122.48,347.13 L123.15,347.13 L123.82,346.90 L124.49,346.69 L125.16,346.78 L125.83,346.92 L126.50,346.25 L127.17,346.60 L127.84,346.61 L128.51,346.58 L129.18,346.42 L129.85,346.84 L130.52,346.34 L131.19,346.48 L131.86,346.48 L132.53,346.57 L133.20,346.85 L133.87,347.21 L134.54,346.97 L135.21,347.10 L135.88,346.77 L136.55,347.05 L136.55,347.03 L137.22,346.61 L137.89,346.45 L138.56,346.41 L139.23,346.84 L139.90,346.33 L140.57,346.20 L141.24,346.38 L141.91,346.12 L142.58,346.36 L143.25,346.50 L143.92,345.68 L144.59,346.15 L145.26,345.67 L145.93,346.38 L146.60,346.04 L147.27,346.17 L147.94,346.33 L148.61,345.98 L149.28,346.35 L149.95,346.32 L150.62,346.79 L151.29,345.99 L151.96,346.80 L152.63,345.88 L153.30,346.48 L153.97,346.44 L154.64,346.83 L155.32,346.91 L155.99,346.89 L156.66,346.65 L157.33,346.20 L158.00,346.29 L158.67,347.04 L159.34,346.66 L160.01,346.96 L160.68,346.65 L161.35,346.90 L162.02,346.75 L162.69,346.80 L163.36,346.69 L164.03,346.98 L164.70,346.74 L165.37,346.79 L166.04,347.07 L166.71,347.45 L167.38,346.80 L168.05,347.10 L168.72,347.18 L169.39,346.96 L170.06,347.28 L170.73,347.23 L171.40,347.54 L172.07,347.39 L172.74,347.94 L173.41,347.64 L174.08,347.52 L174.75,347.23 L175.42,347.41 L176.09,347.48 L176.76,347.19 L177.43,347.61 L178.10,347.82 L178.77,347.97 L179.44,347.12 L180.11,347.30 L180.78,347.57 L181.45,348.12 L182.12,347.84 L182.79,347.73 L183.46,347.79 L184.13,347.45 L184.80,347.24 L185.47,347.96 L186.14,347.94 L186.81,347.90 L187.48,347.58 L188.15,347.99 L188.82,347.89 L189.49,347.99 L190.16,347.78 L190.83,348.26 L191.51,347.68 L192.18,348.16 L192.85,347.95 L193.52,348.06 L194.19,347.89 L194.86,347.84 L195.53,347.84 L196.20,347.89 L196.87,348.17 L197.54,347.80 L198.21,348.33 L198.88,347.73 L199.55,348.24 L200.22,348.51 L200.89,347.81 L201.56,348.91 L202.23,348.71 L202.90,347.95 L203.57,347.85 L204.24,348.54 L204.91,348.46 L205.58,348.30 L206.25,348.70 L206.92,348.21 L207.59,348.61 L208.26,348.57 L208.93,348.02 L209.60,348.39" fill="none" stroke="#3eab50" stroke-width="4.4" stroke-linecap="round" stroke-linejoin="round"/>
<path d="M63.50,387.40 L64.17,376.72 L64.84,367.30 L65.51,360.56 L66.18,357.18 L66.85,354.45 L67.52,351.87 L68.19,351.22 L68.86,350.43 L69.53,350.54 L70.20,350.27 L70.87,350.00 L71.54,349.67 L72.21,349.78 L72.88,349.67 L73.55,350.20 L74.22,349.51 L74.89,349.83 L75.56,349.66 L76.23,349.65 L76.90,349.27 L77.57,349.13 L78.24,349.24 L78.91,349.30 L79.58,349.07 L80.25,349.08 L80.92,349.43 L81.59,348.84 L82.27,348.93 L82.94,348.94 L83.61,349.05 L84.28,348.93 L84.95,348.81 L85.62,348.72 L86.29,349.00 L86.96,348.55 L87.63,348.64 L88.30,348.94 L88.97,348.60 L89.64,348.98 L90.31,349.03 L90.98,348.97 L91.65,348.78 L92.32,349.04 L92.99,349.07 L93.66,349.00 L94.33,348.71 L95.00,348.63 L95.67,349.11 L96.34,348.69 L97.01,348.38 L97.68,348.87 L98.35,348.91 L99.02,348.86 L99.69,348.66 L100.36,348.63 L101.03,348.85 L101.70,348.73 L102.37,348.70 L103.04,348.29 L103.71,348.70 L104.38,348.65 L105.05,348.65 L105.72,348.69 L106.39,349.07 L107.06,348.46 L107.73,348.39 L108.40,348.43 L109.07,348.28 L109.74,348.53 L110.41,348.32 L111.08,348.25 L111.75,348.21 L112.42,348.41 L113.09,348.63 L113.76,348.41 L114.43,348.28 L115.10,348.10 L115.77,348.60 L116.44,348.17 L117.11,347.98 L117.78,348.85 L118.46,348.34 L119.13,348.58 L119.80,348.05 L120.47,348.83 L121.14,348.55 L121.81,348.85 L122.48,348.54 L123.15,348.53 L123.82,348.53 L124.49,348.26 L125.16,348.45 L125.83,348.55 L126.50,348.59 L127.17,348.41 L127.84,347.65 L128.51,348.20 L129.18,348.52 L129.85,348.60 L130.52,348.66 L131.19,348.74 L131.86,348.12 L132.53,348.59 L133.20,348.55 L133.87,348.27 L134.54,348.71 L135.21,348.34 L135.88,348.74 L136.55,348.50 L136.55,348.94 L137.22,348.51 L137.89,348.97 L138.56,349.37 L139.23,349.85 L139.90,349.88 L140.57,349.99 L141.24,350.31 L141.91,349.97 L142.58,350.35 L143.25,351.15 L143.92,350.84 L144.59,351.76 L145.26,351.27 L145.93,351.67 L146.60,352.19 L147.27,351.97 L147.94,352.20 L148.61,352.62 L149.28,352.68 L149.95,352.92 L150.62,353.66 L151.29,353.00 L151.96,353.63 L152.63,354.04 L153.30,353.95 L153.97,354.14 L154.64,354.87 L155.32,354.69 L155.99,354.70 L156.66,355.10 L157.33,355.23 L158.00,355.88 L158.67,356.00 L159.34,356.14 L160.01,356.02 L160.68,356.63 L161.35,356.70 L162.02,357.01 L162.69,356.34 L163.36,356.87 L164.03,356.94 L164.70,357.78 L165.37,357.64 L166.04,358.08 L166.71,358.33 L167.38,358.13 L168.05,357.87 L168.72,358.44 L169.39,358.68 L170.06,359.32 L170.73,359.28 L171.40,359.38 L172.07,359.05 L172.74,359.58 L173.41,359.49 L174.08,359.82 L174.75,359.89 L175.42,360.52 L176.09,360.55 L176.76,360.15 L177.43,360.58 L178.10,361.28 L178.77,360.97 L179.44,361.11 L180.11,361.79 L180.78,361.34 L181.45,361.62 L182.12,361.69 L182.79,362.21 L183.46,362.11 L184.13,362.26 L184.80,362.13 L185.47,362.65 L186.14,362.75 L186.81,362.90 L187.48,362.75 L188.15,363.38 L188.82,362.88 L189.49,362.93 L190.16,363.27 L190.83,363.11 L191.51,363.15 L192.18,363.36 L192.85,363.96 L193.52,364.10 L194.19,363.77 L194.86,364.35 L195.53,364.31 L196.20,364.25 L196.87,364.81 L197.54,364.60 L198.21,364.50 L198.88,364.76 L199.55,365.24 L200.22,365.00 L200.89,365.06 L201.56,364.95 L202.23,365.49 L202.90,365.72 L203.57,365.64 L204.24,365.38 L204.91,365.42 L205.58,365.63 L206.25,365.72 L206.92,366.05 L207.59,366.34 L208.26,365.96 L208.93,366.15 L209.60,365.66" fill="none" stroke="#8a5ca7" stroke-width="4.4" stroke-linecap="round" stroke-linejoin="round"/>
<path d="M63.50,387.40 L64.17,376.76 L64.84,366.72 L65.51,357.31 L66.18,348.63 L66.85,340.95 L67.52,334.02 L68.19,328.12 L68.86,323.39 L69.53,320.22 L70.20,317.17 L70.87,314.50 L71.54,311.59 L72.21,309.44 L72.88,306.94 L73.55,305.69 L74.22,303.63 L74.89,301.95 L75.56,300.03 L76.23,298.59 L76.90,297.34 L77.57,296.01 L78.24,294.49 L78.91,293.38 L79.58,292.53 L80.25,291.52 L80.92,290.59 L81.59,290.00 L82.27,289.05 L82.94,288.56 L83.61,287.52 L84.28,287.29 L84.95,286.87 L85.62,286.36 L86.29,286.10 L86.96,286.02 L87.63,285.96 L88.30,285.66 L88.97,285.43 L89.64,285.03 L90.31,284.73 L90.98,284.77 L91.65,284.41 L92.32,284.88 L92.99,284.24 L93.66,284.14 L94.33,284.39 L95.00,283.59 L95.67,283.69 L96.34,283.19 L97.01,283.34 L97.68,283.46 L98.35,283.88 L99.02,283.49 L99.69,282.93 L100.36,282.63 L101.03,282.91 L101.70,283.12 L102.37,282.67 L103.04,282.85 L103.71,283.02 L104.38,282.43 L105.05,282.82 L105.72,282.56 L106.39,282.66 L107.06,282.13 L107.73,282.34 L108.40,282.30 L109.07,282.14 L109.74,281.85 L110.41,282.19 L111.08,281.74 L111.75,282.11 L112.42,281.58 L113.09,282.02 L113.76,281.89 L114.43,281.29 L115.10,281.39 L115.77,281.50 L116.44,281.51 L117.11,280.94 L117.78,281.42 L118.46,281.39 L119.13,281.55 L119.80,281.45 L120.47,281.35 L121.14,281.43 L121.81,280.88 L122.48,280.98 L123.15,281.11 L123.82,281.12 L124.49,280.61 L125.16,281.05 L125.83,280.55 L126.50,281.05 L127.17,280.93 L127.84,280.53 L128.51,280.84 L129.18,280.57 L129.85,280.85 L130.52,280.60 L131.19,280.51 L131.86,280.19 L132.53,280.61 L133.20,280.61 L133.87,280.60 L134.54,280.65 L135.21,280.69 L135.88,280.58 L136.55,280.48 L136.55,278.11 L137.22,277.30 L137.89,277.17 L138.56,277.20 L139.23,277.33 L139.90,277.04 L140.57,276.99 L141.24,276.58 L141.91,276.83 L142.58,277.05 L143.25,276.97 L143.92,276.75 L144.59,276.29 L145.26,276.00 L145.93,276.59 L146.60,276.33 L147.27,276.17 L147.94,276.60 L148.61,275.86 L149.28,276.04 L149.95,275.83 L150.62,275.73 L151.29,276.32 L151.96,275.64 L152.63,276.13 L153.30,275.79 L153.97,276.01 L154.64,275.76 L155.32,275.89 L155.99,275.89 L156.66,275.71 L157.33,275.55 L158.00,275.56 L158.67,275.32 L159.34,275.92 L160.01,275.80 L160.68,275.32 L161.35,275.59 L162.02,275.13 L162.69,275.39 L163.36,275.82 L164.03,275.08 L164.70,275.44 L165.37,275.22 L166.04,275.35 L166.71,275.37 L167.38,275.44 L168.05,274.91 L168.72,275.09 L169.39,274.90 L170.06,275.18 L170.73,275.22 L171.40,275.17 L172.07,274.83 L172.74,274.78 L173.41,274.96 L174.08,274.64 L174.75,275.28 L175.42,275.01 L176.09,275.48 L176.76,274.88 L177.43,274.83 L178.10,274.94 L178.77,275.24 L179.44,274.78 L180.11,274.71 L180.78,274.84 L181.45,275.15 L182.12,275.10 L182.79,275.02 L183.46,274.77 L184.13,274.42 L184.80,274.64 L185.47,274.65 L186.14,274.91 L186.81,274.34 L187.48,274.33 L188.15,274.66 L188.82,274.71 L189.49,274.82 L190.16,274.33 L190.83,274.80 L191.51,274.46 L192.18,274.29 L192.85,274.68 L193.52,274.33 L194.19,274.30 L194.86,274.54 L195.53,274.51 L196.20,274.37 L196.87,274.58 L197.54,274.73 L198.21,274.52 L198.88,274.13 L199.55,274.25 L200.22,274.27 L200.89,274.74 L201.56,274.34 L202.23,275.13 L202.90,274.40 L203.57,274.31 L204.24,274.41 L204.91,274.60 L205.58,274.48 L206.25,274.64 L206.92,274.13 L207.59,274.14 L208.26,274.49 L208.93,274.19 L209.60,274.62" fill="none" stroke="#f49a31" stroke-width="4.4" stroke-linecap="round" stroke-linejoin="round"/>
<path d="M63.50,387.40 L64.17,376.43 L64.84,366.03 L65.51,356.45 L66.18,349.00 L66.85,343.93 L67.52,339.38 L68.19,335.13 L68.86,331.60 L69.53,328.35 L70.20,325.91 L70.87,323.96 L71.54,322.93 L72.21,321.75 L72.88,321.22 L73.55,320.62 L74.22,320.02 L74.89,319.16 L75.56,319.39 L76.23,319.29 L76.90,318.99 L77.57,318.91 L78.24,318.67 L78.91,318.86 L79.58,318.73 L80.25,318.31 L80.92,318.53 L81.59,318.14 L82.27,318.34 L82.94,318.13 L83.61,318.36 L84.28,318.22 L84.95,318.23 L85.62,318.07 L86.29,317.51 L86.96,318.25 L87.63,317.88 L88.30,317.89 L88.97,318.02 L89.64,318.20 L90.31,317.68 L90.98,317.64 L91.65,318.18 L92.32,317.76 L92.99,317.94 L93.66,317.51 L94.33,317.50 L95.00,318.00 L95.67,318.03 L96.34,318.15 L97.01,317.73 L97.68,317.85 L98.35,318.16 L99.02,317.76 L99.69,318.05 L100.36,317.87 L101.03,317.64 L101.70,317.85 L102.37,317.95 L103.04,318.48 L103.71,318.30 L104.38,317.92 L105.05,318.32 L105.72,318.20 L106.39,317.95 L107.06,317.65 L107.73,317.63 L108.40,318.12 L109.07,318.71 L109.74,318.35 L110.41,318.27 L111.08,318.20 L111.75,318.21 L112.42,317.74 L113.09,317.65 L113.76,318.09 L114.43,318.81 L115.10,318.35 L115.77,318.20 L116.44,317.93 L117.11,318.67 L117.78,318.55 L118.46,318.26 L119.13,318.13 L119.80,318.06 L120.47,318.30 L121.14,318.30 L121.81,318.08 L122.48,318.20 L123.15,318.58 L123.82,318.63 L124.49,318.81 L125.16,318.20 L125.83,318.38 L126.50,318.34 L127.17,318.35 L127.84,318.57 L128.51,318.33 L129.18,318.07 L129.85,318.89 L130.52,319.19 L131.19,318.81 L131.86,318.31 L132.53,318.90 L133.20,318.52 L133.87,318.77 L134.54,318.73 L135.21,319.24 L135.88,319.18 L136.55,319.24 L136.55,319.71 L137.22,319.95 L137.89,320.52 L138.56,320.80 L139.23,321.08 L139.90,321.37 L140.57,321.88 L141.24,321.56 L141.91,321.92 L142.58,321.68 L143.25,322.05 L143.92,322.02 L144.59,321.84 L145.26,322.14 L145.93,321.96 L146.60,322.03 L147.27,322.12 L147.94,321.74 L148.61,322.56 L149.28,322.39 L149.95,322.10 L150.62,322.29 L151.29,322.39 L151.96,322.30 L152.63,322.48 L153.30,322.42 L153.97,322.41 L154.64,322.60 L155.32,322.71 L155.99,322.55 L156.66,323.13 L157.33,322.73 L158.00,322.92 L158.67,322.51 L159.34,323.17 L160.01,322.54 L160.68,322.68 L161.35,322.96 L162.02,323.06 L162.69,322.86 L163.36,322.75 L164.03,322.27 L164.70,322.63 L165.37,322.64 L166.04,322.70 L166.71,322.96 L167.38,322.16 L168.05,323.37 L168.72,322.95 L169.39,322.76 L170.06,323.25 L170.73,323.19 L171.40,323.19 L172.07,323.13 L172.74,323.23 L173.41,322.86 L174.08,323.36 L174.75,323.44 L175.42,323.23 L176.09,323.34 L176.76,323.16 L177.43,322.89 L178.10,323.74 L178.77,322.98 L179.44,323.61 L180.11,323.30 L180.78,323.45 L181.45,323.63 L182.12,323.46 L182.79,323.59 L183.46,324.22 L184.13,323.78 L184.80,323.79 L185.47,324.03 L186.14,323.43 L186.81,323.84 L187.48,323.60 L188.15,323.60 L188.82,323.87 L189.49,323.82 L190.16,323.66 L190.83,323.89 L191.51,324.08 L192.18,323.65 L192.85,324.15 L193.52,324.20 L194.19,323.87 L194.86,324.13 L195.53,323.79 L196.20,324.19 L196.87,324.30 L197.54,324.19 L198.21,324.14 L198.88,324.01 L199.55,324.38 L200.22,324.31 L200.89,324.13 L201.56,324.21 L202.23,323.74 L202.90,324.41 L203.57,324.15 L204.24,324.82 L204.91,324.04 L205.58,324.27 L206.25,324.72 L206.92,324.66 L207.59,324.39 L208.26,324.67 L208.93,324.57 L209.60,324.45" fill="none" stroke="#e63a3c" stroke-width="4.4" stroke-linecap="round" stroke-linejoin="round"/>
<text x="327.50" y="231.70" font-size="12.0" text-anchor="middle" font-weight="normal" fill="#111" stroke="#111">CoV2-26 Fab</text>
<line x1="254.50" y1="241.44" x2="254.50" y2="388.20" stroke="#777" stroke-width="1"/>
<line x1="254.50" y1="388.20" x2="400.48" y2="388.20" stroke="#777" stroke-width="1"/>
<line x1="250.50" y1="241.44" x2="254.50" y2="241.44" stroke="#777" stroke-width="1"/>
<text x="248.30" y="245.64" font-size="11.7" text-anchor="end" font-weight="normal" fill="#111" stroke="#111">0.6</text>
<line x1="250.50" y1="290.36" x2="254.50" y2="290.36" stroke="#777" stroke-width="1"/>
<text x="248.30" y="294.56" font-size="11.7" text-anchor="end" font-weight="normal" fill="#111" stroke="#111">0.4</text>
<line x1="250.50" y1="339.28" x2="254.50" y2="339.28" stroke="#777" stroke-width="1"/>
<text x="248.30" y="343.48" font-size="11.7" text-anchor="end" font-weight="normal" fill="#111" stroke="#111">0.2</text>
<line x1="250.50" y1="388.20" x2="254.50" y2="388.20" stroke="#777" stroke-width="1"/>
<text x="248.30" y="392.40" font-size="11.7" text-anchor="end" font-weight="normal" fill="#111" stroke="#111">0.0</text>
<line x1="254.50" y1="388.20" x2="254.50" y2="392.20" stroke="#777" stroke-width="1"/>
<text x="254.50" y="402.80" font-size="11.7" text-anchor="middle" font-weight="normal" fill="#111" stroke="#111">0</text>
<line x1="303.16" y1="388.20" x2="303.16" y2="392.20" stroke="#777" stroke-width="1"/>
<text x="303.16" y="402.80" font-size="11.7" text-anchor="middle" font-weight="normal" fill="#111" stroke="#111">2</text>
<line x1="351.82" y1="388.20" x2="351.82" y2="392.20" stroke="#777" stroke-width="1"/>
<text x="351.82" y="402.80" font-size="11.7" text-anchor="middle" font-weight="normal" fill="#111" stroke="#111">4</text>
<line x1="400.48" y1="388.20" x2="400.48" y2="392.20" stroke="#777" stroke-width="1"/>
<text x="400.48" y="402.80" font-size="11.7" text-anchor="middle" font-weight="normal" fill="#111" stroke="#111">6</text>
<text x="327.49" y="416.70" font-size="11.6" text-anchor="middle" font-weight="normal" fill="#111" stroke="#111">Time (min)</text>
<text x="227.50" y="314.82" font-size="11.6" text-anchor="middle" font-weight="normal" fill="#111" stroke="#111" transform="rotate(-90 227.5 314.82)">Shift (nm)</text>
<line x1="327.50" y1="241.00" x2="327.50" y2="388.20" stroke="#444" stroke-width="1" stroke-dasharray="1,1"/>
<path d="M254.50,388.20 L255.17,385.36 L255.84,382.27 L256.51,380.17 L257.18,377.45 L257.85,375.92 L258.52,374.11 L259.19,372.62 L259.86,371.83 L260.53,371.24 L261.20,369.38 L261.87,368.89 L262.54,368.25 L263.21,366.89 L263.87,366.51 L264.54,365.45 L265.21,364.51 L265.88,364.33 L266.55,364.24 L267.22,363.07 L267.89,362.99 L268.56,362.28 L269.23,362.06 L269.90,361.80 L270.57,361.46 L271.24,361.37 L271.91,361.08 L272.58,360.53 L273.25,360.89 L273.92,360.64 L274.59,360.07 L275.26,359.73 L275.93,359.98 L276.60,359.12 L277.27,359.75 L277.94,359.30 L278.61,359.61 L279.28,359.02 L279.95,359.01 L280.62,359.11 L281.29,359.26 L281.95,358.60 L282.62,359.04 L283.29,358.40 L283.96,358.83 L284.63,358.88 L285.30,358.83 L285.97,358.66 L286.64,358.81 L287.31,358.56 L287.98,358.59 L288.65,357.83 L289.32,358.28 L289.99,358.45 L290.66,357.89 L291.33,357.89 L292.00,358.30 L292.67,358.10 L293.34,357.68 L294.01,357.89 L294.68,357.94 L295.35,357.99 L296.02,357.88 L296.69,357.90 L297.36,357.65 L298.03,357.98 L298.70,357.70 L299.37,357.33 L300.04,357.71 L300.70,357.17 L301.37,357.72 L302.04,357.05 L302.71,357.38 L303.38,357.34 L304.05,357.05 L304.72,357.43 L305.39,357.34 L306.06,357.64 L306.73,356.65 L307.40,356.98 L308.07,356.84 L308.74,357.11 L309.41,357.00 L310.08,357.22 L310.75,356.78 L311.42,356.79 L312.09,356.82 L312.76,356.55 L313.43,356.92 L314.10,357.13 L314.77,356.57 L315.44,356.52 L316.11,356.88 L316.78,356.70 L317.45,356.54 L318.12,357.09 L318.78,356.78 L319.45,356.87 L320.12,356.06 L320.79,356.55 L321.46,356.64 L322.13,356.05 L322.80,355.78 L323.47,356.28 L324.14,356.93 L324.81,356.72 L325.48,356.04 L326.15,356.23 L326.82,356.14 L327.49,356.09 L327.49,356.61 L328.16,356.42 L328.83,356.06 L329.50,356.31 L330.17,356.66 L330.84,356.44 L331.51,356.53 L332.18,356.93 L332.85,356.91 L333.52,356.88 L334.19,356.89 L334.86,356.82 L335.53,356.96 L336.20,357.34 L336.86,357.42 L337.53,357.39 L338.20,357.37 L338.87,357.36 L339.54,357.72 L340.21,357.81 L340.88,357.77 L341.55,357.93 L342.22,357.90 L342.89,357.93 L343.56,358.30 L344.23,358.29 L344.90,358.05 L345.57,358.49 L346.24,358.47 L346.91,358.44 L347.58,358.63 L348.25,358.67 L348.92,359.15 L349.59,358.94 L350.26,359.44 L350.93,358.82 L351.60,359.71 L352.27,359.84 L352.94,359.64 L353.61,359.64 L354.28,359.25 L354.94,359.39 L355.61,359.73 L356.28,359.95 L356.95,360.31 L357.62,360.27 L358.29,360.33 L358.96,359.92 L359.63,360.28 L360.30,360.47 L360.97,360.59 L361.64,360.90 L362.31,361.23 L362.98,360.72 L363.65,361.36 L364.32,361.34 L364.99,361.70 L365.66,361.09 L366.33,361.29 L367.00,361.94 L367.67,362.14 L368.34,361.65 L369.01,361.79 L369.68,362.32 L370.35,362.24 L371.02,362.50 L371.69,362.37 L372.36,362.35 L373.03,362.63 L373.69,362.34 L374.36,362.65 L375.03,362.81 L375.70,363.05 L376.37,362.85 L377.04,362.97 L377.71,363.10 L378.38,363.28 L379.05,363.41 L379.72,363.57 L380.39,363.57 L381.06,363.54 L381.73,363.95 L382.40,363.70 L383.07,364.21 L383.74,363.97 L384.41,364.01 L385.08,363.87 L385.75,364.55 L386.42,364.49 L387.09,365.03 L387.76,364.60 L388.43,364.67 L389.10,364.47 L389.77,364.30 L390.44,364.77 L391.11,364.81 L391.77,364.87 L392.44,364.74 L393.11,365.24 L393.78,365.40 L394.45,365.22 L395.12,365.44 L395.79,364.99 L396.46,365.52 L397.13,365.32 L397.80,365.56 L398.47,365.77 L399.14,365.61 L399.81,365.88 L400.48,366.07" fill="none" stroke="#2d6db5" stroke-width="4.4" stroke-linecap="round" stroke-linejoin="round"/>
<path d="M254.50,388.20 L255.17,378.82 L255.84,370.96 L256.51,364.55 L257.18,359.57 L257.85,355.69 L258.52,352.49 L259.19,351.32 L259.86,351.16 L260.53,350.23 L261.20,350.48 L261.87,350.13 L262.54,349.68 L263.21,349.71 L263.87,349.27 L264.54,349.89 L265.21,349.09 L265.88,348.78 L266.55,349.30 L267.22,348.99 L267.89,348.93 L268.56,348.51 L269.23,348.69 L269.90,348.44 L270.57,347.76 L271.24,348.44 L271.91,348.18 L272.58,348.08 L273.25,347.72 L273.92,347.96 L274.59,348.12 L275.26,347.95 L275.93,348.05 L276.60,347.80 L277.27,347.43 L277.94,347.83 L278.61,348.33 L279.28,347.81 L279.95,347.96 L280.62,347.45 L281.29,347.25 L281.95,347.59 L282.62,347.36 L283.29,347.56 L283.96,347.61 L284.63,347.47 L285.30,347.40 L285.97,346.85 L286.64,347.06 L287.31,347.08 L287.98,347.22 L288.65,346.94 L289.32,346.63 L289.99,346.87 L290.66,346.94 L291.33,347.06 L292.00,347.48 L292.67,346.80 L293.34,346.61 L294.01,346.56 L294.68,346.31 L295.35,346.80 L296.02,346.93 L296.69,345.97 L297.36,346.34 L298.03,346.20 L298.70,346.04 L299.37,346.18 L300.04,345.98 L300.70,346.67 L301.37,346.10 L302.04,345.73 L302.71,346.28 L303.38,345.67 L304.05,345.80 L304.72,345.40 L305.39,345.67 L306.06,345.33 L306.73,345.86 L307.40,345.32 L308.07,345.55 L308.74,345.56 L309.41,345.49 L310.08,345.40 L310.75,345.81 L311.42,345.31 L312.09,345.61 L312.76,345.13 L313.43,345.09 L314.10,345.41 L314.77,345.06 L315.44,345.26 L316.11,345.26 L316.78,344.70 L317.45,344.59 L318.12,344.61 L318.78,345.03 L319.45,344.55 L320.12,345.12 L320.79,344.93 L321.46,344.50 L322.13,344.66 L322.80,344.57 L323.47,344.20 L324.14,345.07 L324.81,344.94 L325.48,344.27 L326.15,344.89 L326.82,344.56 L327.49,344.78 L327.49,344.88 L328.16,344.18 L328.83,344.74 L329.50,344.97 L330.17,344.94 L330.84,345.38 L331.51,344.93 L332.18,345.81 L332.85,345.78 L333.52,346.08 L334.19,346.06 L334.86,345.88 L335.53,346.74 L336.20,346.64 L336.86,346.96 L337.53,347.29 L338.20,346.76 L338.87,347.12 L339.54,347.11 L340.21,347.88 L340.88,347.72 L341.55,347.51 L342.22,348.17 L342.89,348.34 L343.56,348.22 L344.23,348.41 L344.90,348.69 L345.57,349.03 L346.24,349.34 L346.91,349.32 L347.58,349.58 L348.25,349.69 L348.92,349.07 L349.59,349.21 L350.26,349.82 L350.93,350.02 L351.60,350.25 L352.27,349.99 L352.94,350.55 L353.61,350.50 L354.28,350.80 L354.94,350.60 L355.61,351.30 L356.28,351.48 L356.95,351.43 L357.62,351.35 L358.29,351.70 L358.96,351.71 L359.63,352.25 L360.30,352.08 L360.97,352.80 L361.64,352.37 L362.31,353.33 L362.98,352.74 L363.65,353.01 L364.32,352.83 L364.99,353.34 L365.66,353.68 L366.33,353.82 L367.00,353.86 L367.67,354.31 L368.34,353.89 L369.01,354.07 L369.68,354.56 L370.35,354.68 L371.02,354.56 L371.69,355.14 L372.36,354.66 L373.03,355.27 L373.69,355.72 L374.36,355.70 L375.03,356.23 L375.70,355.60 L376.37,355.95 L377.04,356.12 L377.71,355.93 L378.38,356.36 L379.05,356.21 L379.72,356.57 L380.39,356.66 L381.06,356.87 L381.73,356.74 L382.40,356.71 L383.07,357.19 L383.74,357.38 L384.41,357.17 L385.08,357.86 L385.75,357.81 L386.42,358.16 L387.09,358.08 L387.76,358.04 L388.43,358.45 L389.10,358.86 L389.77,358.27 L390.44,358.30 L391.11,358.72 L391.77,358.81 L392.44,359.12 L393.11,359.02 L393.78,359.27 L394.45,359.12 L395.12,359.04 L395.79,359.30 L396.46,359.23 L397.13,359.76 L397.80,359.99 L398.47,360.16 L399.14,360.02 L399.81,360.65 L400.48,360.30" fill="none" stroke="#3eab50" stroke-width="4.4" stroke-linecap="round" stroke-linejoin="round"/>
<path d="M254.50,388.20 L255.17,385.36 L255.84,381.82 L256.51,379.14 L257.18,377.02 L257.85,374.06 L258.52,371.62 L259.19,370.74 L259.86,369.38 L260.53,368.20 L261.20,366.64 L261.87,366.09 L262.54,364.97 L263.21,363.93 L263.87,363.38 L264.54,362.40 L265.21,361.81 L265.88,360.74 L266.55,360.34 L267.22,360.43 L267.89,359.87 L268.56,358.81 L269.23,358.72 L269.90,357.59 L270.57,357.21 L271.24,357.17 L271.91,356.64 L272.58,356.60 L273.25,356.42 L273.92,356.03 L274.59,355.38 L275.26,355.05 L275.93,354.32 L276.60,353.94 L277.27,354.56 L277.94,353.36 L278.61,353.82 L279.28,353.14 L279.95,353.35 L280.62,353.19 L281.29,353.06 L281.95,352.62 L282.62,352.52 L283.29,352.05 L283.96,352.30 L284.63,352.24 L285.30,351.89 L285.97,351.71 L286.64,351.51 L287.31,351.94 L287.98,351.33 L288.65,351.16 L289.32,351.32 L289.99,351.36 L290.66,351.27 L291.33,350.59 L292.00,350.61 L292.67,350.72 L293.34,350.80 L294.01,350.37 L294.68,350.58 L295.35,350.15 L296.02,349.94 L296.69,349.94 L297.36,349.99 L298.03,349.75 L298.70,349.59 L299.37,349.90 L300.04,349.59 L300.70,349.83 L301.37,349.79 L302.04,349.66 L302.71,348.98 L303.38,348.84 L304.05,349.07 L304.72,349.02 L305.39,349.44 L306.06,349.31 L306.73,348.81 L307.40,348.77 L308.07,348.60 L308.74,349.28 L309.41,348.63 L310.08,348.43 L310.75,348.03 L311.42,348.26 L312.09,348.29 L312.76,348.27 L313.43,348.12 L314.10,348.39 L314.77,348.20 L315.44,348.39 L316.11,347.99 L316.78,347.91 L317.45,348.21 L318.12,347.86 L318.78,347.33 L319.45,347.76 L320.12,347.81 L320.79,347.54 L321.46,347.26 L322.13,347.74 L322.80,347.77 L323.47,347.74 L324.14,347.25 L324.81,347.10 L325.48,347.52 L326.15,347.42 L326.82,347.61 L327.49,347.45 L327.49,347.28 L328.16,347.32 L328.83,347.61 L329.50,347.56 L330.17,347.63 L330.84,347.99 L331.51,347.66 L332.18,347.90 L332.85,348.45 L333.52,348.40 L334.19,348.27 L334.86,348.54 L335.53,348.59 L336.20,348.13 L336.86,348.64 L337.53,348.66 L338.20,348.94 L338.87,349.03 L339.54,349.52 L340.21,348.88 L340.88,349.07 L341.55,349.25 L342.22,350.01 L342.89,349.86 L343.56,349.91 L344.23,350.17 L344.90,349.82 L345.57,350.06 L346.24,349.81 L346.91,350.12 L347.58,349.86 L348.25,350.48 L348.92,350.65 L349.59,350.15 L350.26,351.01 L350.93,351.07 L351.60,350.59 L352.27,351.16 L352.94,351.20 L353.61,351.39 L354.28,351.35 L354.94,351.76 L355.61,352.01 L356.28,351.86 L356.95,351.86 L357.62,352.28 L358.29,352.13 L358.96,352.41 L359.63,352.19 L360.30,351.52 L360.97,352.60 L361.64,352.66 L362.31,352.35 L362.98,352.98 L363.65,352.68 L364.32,353.43 L364.99,353.07 L365.66,353.38 L366.33,353.50 L367.00,353.46 L367.67,353.20 L368.34,353.59 L369.01,353.87 L369.68,354.21 L370.35,354.47 L371.02,354.30 L371.69,353.97 L372.36,354.30 L373.03,354.45 L373.69,354.21 L374.36,354.48 L375.03,354.69 L375.70,354.95 L376.37,355.16 L377.04,354.93 L377.71,355.18 L378.38,354.73 L379.05,355.25 L379.72,355.45 L380.39,355.31 L381.06,355.93 L381.73,355.74 L382.40,355.96 L383.07,355.85 L383.74,356.00 L384.41,356.54 L385.08,356.06 L385.75,356.39 L386.42,356.43 L387.09,356.69 L387.76,356.88 L388.43,356.86 L389.10,356.92 L389.77,357.04 L390.44,356.77 L391.11,357.13 L391.77,357.35 L392.44,357.35 L393.11,357.04 L393.78,357.35 L394.45,357.56 L395.12,357.08 L395.79,358.28 L396.46,358.17 L397.13,358.09 L397.80,358.58 L398.47,358.36 L399.14,358.61 L399.81,358.25 L400.48,358.47" fill="none" stroke="#8a5ca7" stroke-width="4.4" stroke-linecap="round" stroke-linejoin="round"/>
<path d="M254.50,388.20 L255.17,366.12 L255.84,347.81 L256.51,333.36 L257.18,323.73 L257.85,317.60 L258.52,312.15 L259.19,310.09 L259.86,308.41 L260.53,308.02 L261.20,306.92 L261.87,305.86 L262.54,305.86 L263.21,305.43 L263.87,305.35 L264.54,305.47 L265.21,304.59 L265.88,305.04 L266.55,304.98 L267.22,304.34 L267.89,304.21 L268.56,304.04 L269.23,303.97 L269.90,303.82 L270.57,303.96 L271.24,303.48 L271.91,302.91 L272.58,302.77 L273.25,303.29 L273.92,302.98 L274.59,303.12 L275.26,302.60 L275.93,302.70 L276.60,302.20 L277.27,301.88 L277.94,301.72 L278.61,302.04 L279.28,301.78 L279.95,301.75 L280.62,301.06 L281.29,300.97 L281.95,301.42 L282.62,300.83 L283.29,300.83 L283.96,300.73 L284.63,301.24 L285.30,300.49 L285.97,300.40 L286.64,300.28 L287.31,300.44 L287.98,300.63 L288.65,300.33 L289.32,300.36 L289.99,300.32 L290.66,300.27 L291.33,300.12 L292.00,299.40 L292.67,299.56 L293.34,299.58 L294.01,299.41 L294.68,299.32 L295.35,299.67 L296.02,299.14 L296.69,298.67 L297.36,299.37 L298.03,299.14 L298.70,298.93 L299.37,298.97 L300.04,299.20 L300.70,298.98 L301.37,299.23 L302.04,298.97 L302.71,298.60 L303.38,298.44 L304.05,298.60 L304.72,298.52 L305.39,298.51 L306.06,298.67 L306.73,298.34 L307.40,298.15 L308.07,298.13 L308.74,298.29 L309.41,298.32 L310.08,298.24 L310.75,297.98 L311.42,298.57 L312.09,298.16 L312.76,298.19 L313.43,298.01 L314.10,297.69 L314.77,297.61 L315.44,298.11 L316.11,297.92 L316.78,297.68 L317.45,297.86 L318.12,298.05 L318.78,298.14 L319.45,297.83 L320.12,297.49 L320.79,297.98 L321.46,297.84 L322.13,297.77 L322.80,298.10 L323.47,297.96 L324.14,297.74 L324.81,298.30 L325.48,297.94 L326.15,297.74 L326.82,297.84 L327.49,298.22 L327.49,297.52 L328.16,298.74 L328.83,298.85 L329.50,299.60 L330.17,300.36 L330.84,300.98 L331.51,301.42 L332.18,301.80 L332.85,302.39 L333.52,303.02 L334.19,303.64 L334.86,303.91 L335.53,304.70 L336.20,304.78 L336.86,304.81 L337.53,305.70 L338.20,306.09 L338.87,307.05 L339.54,306.75 L340.21,307.31 L340.88,307.24 L341.55,307.91 L342.22,308.18 L342.89,308.24 L343.56,308.95 L344.23,309.13 L344.90,309.13 L345.57,309.84 L346.24,309.71 L346.91,309.92 L347.58,310.93 L348.25,311.49 L348.92,310.89 L349.59,311.30 L350.26,311.71 L350.93,312.01 L351.60,312.11 L352.27,312.96 L352.94,312.91 L353.61,312.88 L354.28,313.33 L354.94,313.36 L355.61,313.51 L356.28,314.29 L356.95,314.20 L357.62,314.55 L358.29,314.78 L358.96,315.06 L359.63,314.45 L360.30,315.32 L360.97,315.36 L361.64,315.52 L362.31,315.72 L362.98,315.87 L363.65,316.43 L364.32,316.66 L364.99,316.89 L365.66,316.39 L366.33,317.36 L367.00,317.09 L367.67,317.25 L368.34,317.83 L369.01,317.77 L369.68,317.97 L370.35,318.43 L371.02,317.86 L371.69,318.87 L372.36,318.56 L373.03,318.91 L373.69,318.74 L374.36,319.35 L375.03,319.15 L375.70,319.45 L376.37,320.06 L377.04,319.66 L377.71,319.76 L378.38,320.20 L379.05,320.26 L379.72,320.63 L380.39,320.41 L381.06,320.74 L381.73,321.16 L382.40,320.90 L383.07,321.18 L383.74,321.04 L384.41,321.13 L385.08,321.76 L385.75,322.18 L386.42,321.92 L387.09,322.07 L387.76,321.94 L388.43,322.18 L389.10,322.87 L389.77,322.76 L390.44,322.79 L391.11,323.31 L391.77,323.36 L392.44,323.57 L393.11,323.68 L393.78,323.77 L394.45,323.39 L395.12,324.48 L395.79,323.79 L396.46,324.03 L397.13,324.35 L397.80,325.27 L398.47,324.68 L399.14,325.19 L399.81,325.19 L400.48,325.26" fill="none" stroke="#f49a31" stroke-width="4.4" stroke-linecap="round" stroke-linejoin="round"/>
<path d="M254.50,388.20 L255.17,373.07 L255.84,358.62 L256.51,348.65 L257.18,342.79 L257.85,337.19 L258.52,333.47 L259.19,331.27 L259.86,330.71 L260.53,329.77 L261.20,329.68 L261.87,329.52 L262.54,329.52 L263.21,329.10 L263.87,328.63 L264.54,328.71 L265.21,328.65 L265.88,328.96 L266.55,328.23 L267.22,328.47 L267.89,328.36 L268.56,328.20 L269.23,328.15 L269.90,328.16 L270.57,328.20 L271.24,327.98 L271.91,327.88 L272.58,327.86 L273.25,327.75 L273.92,327.41 L274.59,327.28 L275.26,327.46 L275.93,327.60 L276.60,327.28 L277.27,327.46 L277.94,327.22 L278.61,326.68 L279.28,327.03 L279.95,326.97 L280.62,327.18 L281.29,326.72 L281.95,326.61 L282.62,326.70 L283.29,326.88 L283.96,326.36 L284.63,326.32 L285.30,326.24 L285.97,326.18 L286.64,326.22 L287.31,326.11 L287.98,325.96 L288.65,326.00 L289.32,326.05 L289.99,326.22 L290.66,325.56 L291.33,325.75 L292.00,325.43 L292.67,325.56 L293.34,325.80 L294.01,325.35 L294.68,325.50 L295.35,325.65 L296.02,325.20 L296.69,325.02 L297.36,325.37 L298.03,325.05 L298.70,324.79 L299.37,325.17 L300.04,325.13 L300.70,324.98 L301.37,324.54 L302.04,325.17 L302.71,324.93 L303.38,325.03 L304.05,324.73 L304.72,324.53 L305.39,324.64 L306.06,324.98 L306.73,324.60 L307.40,324.67 L308.07,324.67 L308.74,324.69 L309.41,324.61 L310.08,325.05 L310.75,324.24 L311.42,324.32 L312.09,324.54 L312.76,324.46 L313.43,324.46 L314.10,324.16 L314.77,324.20 L315.44,324.16 L316.11,324.26 L316.78,324.35 L317.45,324.25 L318.12,323.88 L318.78,324.18 L319.45,324.16 L320.12,324.28 L320.79,324.36 L321.46,324.40 L322.13,324.01 L322.80,324.29 L323.47,324.06 L324.14,323.69 L324.81,324.53 L325.48,324.22 L326.15,324.15 L326.82,323.43 L327.49,324.07 L327.49,324.14 L328.16,324.43 L328.83,324.03 L329.50,324.79 L330.17,325.19 L330.84,324.71 L331.51,325.19 L332.18,325.12 L332.85,324.83 L333.52,325.51 L334.19,325.64 L334.86,325.42 L335.53,326.45 L336.20,326.13 L336.86,326.13 L337.53,326.05 L338.20,327.25 L338.87,326.64 L339.54,326.95 L340.21,327.25 L340.88,327.06 L341.55,327.56 L342.22,327.53 L342.89,327.92 L343.56,327.81 L344.23,328.04 L344.90,328.16 L345.57,328.68 L346.24,328.41 L346.91,328.58 L347.58,328.53 L348.25,329.12 L348.92,329.67 L349.59,328.98 L350.26,329.52 L350.93,329.30 L351.60,329.93 L352.27,330.25 L352.94,330.48 L353.61,330.09 L354.28,330.70 L354.94,330.69 L355.61,330.53 L356.28,330.88 L356.95,331.35 L357.62,331.38 L358.29,331.26 L358.96,331.57 L359.63,331.20 L360.30,331.74 L360.97,331.87 L361.64,332.11 L362.31,331.95 L362.98,332.49 L363.65,332.77 L364.32,332.76 L364.99,332.70 L365.66,333.09 L366.33,333.11 L367.00,333.10 L367.67,332.96 L368.34,333.70 L369.01,333.40 L369.68,334.20 L370.35,333.78 L371.02,334.07 L371.69,334.50 L372.36,334.05 L373.03,334.77 L373.69,334.45 L374.36,334.46 L375.03,334.49 L375.70,334.86 L376.37,335.39 L377.04,335.32 L377.71,335.12 L378.38,335.70 L379.05,335.54 L379.72,335.68 L380.39,335.88 L381.06,336.55 L381.73,336.17 L382.40,336.27 L383.07,336.52 L383.74,337.07 L384.41,336.68 L385.08,337.07 L385.75,337.35 L386.42,337.09 L387.09,337.38 L387.76,337.61 L388.43,337.76 L389.10,337.99 L389.77,337.84 L390.44,337.99 L391.11,338.19 L391.77,338.33 L392.44,338.67 L393.11,338.74 L393.78,338.53 L394.45,338.90 L395.12,338.85 L395.79,338.68 L396.46,338.75 L397.13,339.45 L397.80,339.26 L398.47,339.62 L399.14,339.30 L399.81,339.68 L400.48,339.65" fill="none" stroke="#e63a3c" stroke-width="4.4" stroke-linecap="round" stroke-linejoin="round"/>
<text x="409.40" y="231.90" font-size="19.5" text-anchor="start" font-weight="bold" fill="#000" stroke="#000">d</text>
<text x="529.60" y="233.70" font-size="12.3" text-anchor="middle" font-weight="normal" fill="#111" stroke="#111">hCoV Spike</text>
<line x1="457.40" y1="241.30" x2="457.40" y2="388.20" stroke="#777" stroke-width="1"/>
<line x1="457.40" y1="388.20" x2="604.30" y2="388.20" stroke="#777" stroke-width="1"/>
<line x1="492.90" y1="388.20" x2="492.90" y2="392.20" stroke="#777" stroke-width="1"/>
<line x1="568.90" y1="388.20" x2="568.90" y2="392.20" stroke="#777" stroke-width="1"/>
<line x1="453.40" y1="241.30" x2="457.40" y2="241.30" stroke="#777" stroke-width="1"/>
<text x="451.9" y="246.50" font-size="12.4" text-anchor="end" fill="#111" stroke="#111">10<tspan font-size="9.0" dy="-5.1">6</tspan></text>
<line x1="453.40" y1="270.68" x2="457.40" y2="270.68" stroke="#777" stroke-width="1"/>
<text x="451.9" y="275.88" font-size="12.4" text-anchor="end" fill="#111" stroke="#111">10<tspan font-size="9.0" dy="-5.1">4</tspan></text>
<line x1="453.40" y1="300.06" x2="457.40" y2="300.06" stroke="#777" stroke-width="1"/>
<text x="451.9" y="305.26" font-size="12.4" text-anchor="end" fill="#111" stroke="#111">10<tspan font-size="9.0" dy="-5.1">2</tspan></text>
<line x1="453.40" y1="329.44" x2="457.40" y2="329.44" stroke="#777" stroke-width="1"/>
<text x="451.9" y="334.64" font-size="12.4" text-anchor="end" fill="#111" stroke="#111">10<tspan font-size="9.0" dy="-5.1">0</tspan></text>
<line x1="453.40" y1="358.82" x2="457.40" y2="358.82" stroke="#777" stroke-width="1"/>
<text x="451.9" y="364.02" font-size="12.4" text-anchor="end" fill="#111" stroke="#111">10<tspan font-size="9.0" dy="-5.1">-2</tspan></text>
<line x1="453.40" y1="388.20" x2="457.40" y2="388.20" stroke="#777" stroke-width="1"/>
<text x="451.9" y="393.40" font-size="12.4" text-anchor="end" fill="#111" stroke="#111">10<tspan font-size="9.0" dy="-5.1">-4</tspan></text>
<line x1="458.00" y1="256.50" x2="604.00" y2="256.50" stroke="#888" stroke-width="1" stroke-dasharray="1,1"/>
<line x1="531.90" y1="236.10" x2="531.90" y2="388.20" stroke="#111" stroke-width="2" stroke-dasharray="2,1.6"/>
<text x="425.00" y="315.60" font-size="11.9" text-anchor="middle" font-weight="normal" fill="#111" stroke="#111" transform="rotate(-90 425.0 315.6)">K<tspan font-size="9" dy="2.6">d</tspan><tspan dy="-2.6"> (nM)</tspan></text>
<text x="496.40" y="411.20" font-size="12.0" text-anchor="middle" font-weight="normal" fill="#111" stroke="#111">CoV2-11 Fab</text>
<text x="577.00" y="411.20" font-size="12.0" text-anchor="middle" font-weight="normal" fill="#111" stroke="#111">CoV2-26 Fab</text>
<line x1="479.50" y1="352.40" x2="479.50" y2="388.20" stroke="#333" stroke-width="1.3"/>
<line x1="475.50" y1="352.40" x2="483.50" y2="352.40" stroke="#333" stroke-width="1.3"/>
<line x1="475.50" y1="388.20" x2="483.50" y2="388.20" stroke="#333" stroke-width="1.3"/>
<circle cx="465.9" cy="330.0" r="4.2" fill="#e63a3c" stroke="#333" stroke-width="0.8"/>
<circle cx="479.5" cy="373.1" r="4.2" fill="#f49a31" stroke="#333" stroke-width="0.8"/>
<circle cx="492.9" cy="324.4" r="4.2" fill="#3eab50" stroke="#333" stroke-width="0.8"/>
<circle cx="506.2" cy="328.9" r="4.2" fill="#2d6db5" stroke="#333" stroke-width="0.8"/>
<circle cx="519.8" cy="322.6" r="4.2" fill="#8a5ca7" stroke="#333" stroke-width="0.8"/>
<circle cx="541.9" cy="324.7" r="4.2" fill="#e63a3c" stroke="#333" stroke-width="0.8"/>
<circle cx="555.2" cy="326.5" r="4.2" fill="#f49a31" stroke="#333" stroke-width="0.8"/>
<circle cx="568.5" cy="322.3" r="4.2" fill="#3eab50" stroke="#333" stroke-width="0.8"/>
<circle cx="582.2" cy="321.2" r="4.2" fill="#2d6db5" stroke="#333" stroke-width="0.8"/>
<circle cx="595.5" cy="317.4" r="4.2" fill="#8a5ca7" stroke="#333" stroke-width="0.8"/>
<rect x="30.2" y="430.6" width="593.2" height="18.6" fill="none" stroke="#2d3e6e" stroke-width="1.3"/>
<text x="34.00" y="444.00" font-size="12.4" text-anchor="start" font-weight="normal" fill="#111" stroke="#111">Spike Protein:</text>
<circle cx="121.2" cy="439.6" r="3.9" fill="#e63a3c" stroke="#333" stroke-width="0.6"/>
<text x="138.00" y="444.00" font-size="11.9" text-anchor="start" font-weight="normal" fill="#111" stroke="#111">SARS-CoV-2</text>
<circle cx="229.8" cy="439.6" r="3.9" fill="#f49a31" stroke="#333" stroke-width="0.6"/>
<text x="246.20" y="444.00" font-size="11.9" text-anchor="start" font-weight="normal" fill="#111" stroke="#111">SARS-CoV</text>
<circle cx="327.9" cy="439.6" r="3.9" fill="#3eab50" stroke="#333" stroke-width="0.6"/>
<text x="344.30" y="444.00" font-size="11.9" text-anchor="start" font-weight="normal" fill="#111" stroke="#111">HCoV-OC43</text>
<circle cx="433.3" cy="439.6" r="3.9" fill="#2d6db5" stroke="#333" stroke-width="0.6"/>
<text x="449.70" y="444.00" font-size="11.9" text-anchor="start" font-weight="normal" fill="#111" stroke="#111">HCoV-HKU1</text>
<circle cx="539.1" cy="439.6" r="3.9" fill="#8a5ca7" stroke="#333" stroke-width="0.6"/>
<text x="556.20" y="444.00" font-size="11.9" text-anchor="start" font-weight="normal" fill="#111" stroke="#111">MERS-CoV</text>
<text x="-0.60" y="483.80" font-size="19.5" text-anchor="start" font-weight="bold" fill="#000" stroke="#000">e</text>
<rect x="133.50" y="486.90" width="22.90" height="22.90" fill="#efeef4"/>
<rect x="156.10" y="486.90" width="22.90" height="22.90" fill="#fafafc"/>
<rect x="178.70" y="486.90" width="22.90" height="22.90" fill="#ebeaf2"/>
<rect x="201.30" y="486.90" width="22.90" height="22.90" fill="#f4f4f8"/>
<rect x="223.90" y="486.90" width="22.90" height="22.90" fill="#ffffff"/>
<rect x="133.50" y="509.50" width="22.90" height="22.90" fill="#ebeaf2"/>
<rect x="156.10" y="509.50" width="22.90" height="22.90" fill="#f3f3f7"/>
<rect x="178.70" y="509.50" width="22.90" height="22.90" fill="#f8f9fb"/>
<rect x="201.30" y="509.50" width="22.90" height="22.90" fill="#f3f3f7"/>
<rect x="223.90" y="509.50" width="22.90" height="22.90" fill="#ffffff"/>
<rect x="133.50" y="532.10" width="22.90" height="22.90" fill="#f3f3f7"/>
<rect x="156.10" y="532.10" width="22.90" height="22.90" fill="#ffffff"/>
<rect x="178.70" y="532.10" width="22.90" height="22.90" fill="#e8e8f0"/>
<rect x="201.30" y="532.10" width="22.90" height="22.90" fill="#eeedf4"/>
<rect x="223.90" y="532.10" width="22.90" height="22.90" fill="#f3f3f6"/>
<rect x="133.50" y="554.70" width="22.90" height="22.90" fill="#eeedf4"/>
<rect x="156.10" y="554.70" width="22.90" height="22.90" fill="#f3f3f7"/>
<rect x="178.70" y="554.70" width="22.90" height="22.90" fill="#e1e1ed"/>
<rect x="201.30" y="554.70" width="22.90" height="22.90" fill="#eeedf4"/>
<rect x="223.90" y="554.70" width="22.90" height="22.90" fill="#e9e9f0"/>
<rect x="133.50" y="577.30" width="22.90" height="22.90" fill="#f0eff5"/>
<rect x="156.10" y="577.30" width="22.90" height="22.90" fill="#ffffff"/>
<rect x="178.70" y="577.30" width="22.90" height="22.90" fill="#e9e9f0"/>
<rect x="201.30" y="577.30" width="22.90" height="22.90" fill="#f6f6f9"/>
<rect x="223.90" y="577.30" width="22.90" height="22.90" fill="#f6f6f9"/>
<rect x="246.0" y="486.95" width="23.85" height="114" fill="#3d5ea8" stroke="#000" stroke-width="1.7"/>
<rect x="133.45" y="600.5" width="112.55" height="23.15" fill="#3d5ea8" stroke="#000" stroke-width="1.7"/>
<line x1="248.00" y1="509.50" x2="269.00" y2="509.50" stroke="#4566ad" stroke-width="0.5"/>
<line x1="248.00" y1="532.10" x2="269.00" y2="532.10" stroke="#4566ad" stroke-width="0.5"/>
<line x1="248.00" y1="554.70" x2="269.00" y2="554.70" stroke="#4566ad" stroke-width="0.5"/>
<line x1="248.00" y1="577.30" x2="269.00" y2="577.30" stroke="#4566ad" stroke-width="0.5"/>
<line x1="156.10" y1="602.30" x2="156.10" y2="622.80" stroke="#4566ad" stroke-width="0.5"/>
<line x1="178.70" y1="602.30" x2="178.70" y2="622.80" stroke="#4566ad" stroke-width="0.5"/>
<line x1="201.30" y1="602.30" x2="201.30" y2="622.80" stroke="#4566ad" stroke-width="0.5"/>
<line x1="223.90" y1="602.30" x2="223.90" y2="622.80" stroke="#4566ad" stroke-width="0.5"/>
<rect x="133.85" y="487.75" width="112.2" height="112.5" fill="none" stroke="#000" stroke-width="3.5"/>
<rect x="246.0" y="601.0" width="23.0" height="22.1" fill="#efeef3" stroke="#000" stroke-width="3.3"/>
<line x1="128.60" y1="498.40" x2="132.40" y2="498.40" stroke="#111" stroke-width="1.6"/>
<text x="126.00" y="502.60" font-size="11.3" text-anchor="end" font-weight="normal" fill="#111" stroke="#111" textLength="45.0" lengthAdjust="spacingAndGlyphs">CoV2-11</text>
<line x1="144.70" y1="623.60" x2="144.70" y2="627.80" stroke="#111" stroke-width="1.6"/>
<text x="150.60" y="634.60" font-size="11.3" text-anchor="end" font-weight="normal" fill="#111" stroke="#111" transform="rotate(-45 150.6 634.6)" textLength="45.0" lengthAdjust="spacingAndGlyphs">CoV2-11</text>
<line x1="128.60" y1="520.90" x2="132.40" y2="520.90" stroke="#111" stroke-width="1.6"/>
<text x="126.00" y="525.10" font-size="11.3" text-anchor="end" font-weight="normal" fill="#111" stroke="#111" textLength="45.0" lengthAdjust="spacingAndGlyphs">CoV2-26</text>
<line x1="167.60" y1="623.60" x2="167.60" y2="627.80" stroke="#111" stroke-width="1.6"/>
<text x="173.50" y="634.60" font-size="11.3" text-anchor="end" font-weight="normal" fill="#111" stroke="#111" transform="rotate(-45 173.5 634.6)" textLength="45.0" lengthAdjust="spacingAndGlyphs">CoV2-26</text>
<line x1="128.60" y1="543.50" x2="132.40" y2="543.50" stroke="#111" stroke-width="1.6"/>
<text x="126.00" y="547.70" font-size="11.3" text-anchor="end" font-weight="normal" fill="#93358f" stroke="#93358f" textLength="53.4" lengthAdjust="spacingAndGlyphs">COVA1-07</text>
<line x1="189.90" y1="623.60" x2="189.90" y2="627.80" stroke="#111" stroke-width="1.6"/>
<text x="195.80" y="634.60" font-size="11.3" text-anchor="end" font-weight="normal" fill="#93358f" stroke="#93358f" transform="rotate(-45 195.8 634.6)" textLength="53.4" lengthAdjust="spacingAndGlyphs">COVA1-07</text>
<line x1="128.60" y1="566.00" x2="132.40" y2="566.00" stroke="#111" stroke-width="1.6"/>
<text x="126.00" y="570.20" font-size="11.3" text-anchor="end" font-weight="normal" fill="#93358f" stroke="#93358f" textLength="34.0" lengthAdjust="spacingAndGlyphs">RAY53</text>
<line x1="212.50" y1="623.60" x2="212.50" y2="627.80" stroke="#111" stroke-width="1.6"/>
<text x="218.40" y="634.60" font-size="11.3" text-anchor="end" font-weight="normal" fill="#93358f" stroke="#93358f" transform="rotate(-45 218.4 634.6)" textLength="34.0" lengthAdjust="spacingAndGlyphs">RAY53</text>
<line x1="128.60" y1="589.20" x2="132.40" y2="589.20" stroke="#111" stroke-width="1.6"/>
<text x="126.00" y="593.40" font-size="11.3" text-anchor="end" font-weight="normal" fill="#93358f" stroke="#93358f" textLength="76.8" lengthAdjust="spacingAndGlyphs">CnC2t1p1_B10</text>
<line x1="235.30" y1="623.60" x2="235.30" y2="627.80" stroke="#111" stroke-width="1.6"/>
<text x="241.20" y="634.60" font-size="11.3" text-anchor="end" font-weight="normal" fill="#93358f" stroke="#93358f" transform="rotate(-45 241.20000000000002 634.6)" textLength="76.8" lengthAdjust="spacingAndGlyphs">CnC2t1p1_B10</text>
<line x1="128.60" y1="612.60" x2="132.40" y2="612.60" stroke="#111" stroke-width="1.6"/>
<text x="126.00" y="616.80" font-size="11.3" text-anchor="end" font-weight="normal" fill="#1f9a58" stroke="#1f9a58" textLength="56.8" lengthAdjust="spacingAndGlyphs">CoV2-2333</text>
<line x1="258.20" y1="623.60" x2="258.20" y2="627.80" stroke="#111" stroke-width="1.6"/>
<text x="264.10" y="634.60" font-size="11.3" text-anchor="end" font-weight="normal" fill="#1f9a58" stroke="#1f9a58" transform="rotate(-45 264.09999999999997 634.6)" textLength="56.8" lengthAdjust="spacingAndGlyphs">CoV2-2333</text>
<text x="43.40" y="559.40" font-size="11.2" text-anchor="middle" font-weight="bold" fill="#000" stroke="#000" transform="rotate(-90 43.4 559.4)">Competing IgG</text>
<text x="190.00" y="700.60" font-size="11.3" text-anchor="middle" font-weight="bold" fill="#000" stroke="#000">Loading IgG</text>
<rect x="14.2" y="626.1" width="99.1" height="71.1" fill="none" stroke="#333" stroke-width="1.3"/>
<text x="63.50" y="639.40" font-size="11.6" text-anchor="middle" font-weight="normal" fill="#111" stroke="#111" text-decoration="underline">Binding epitope:</text>
<text x="63.50" y="652.40" font-size="11.6" text-anchor="middle" font-weight="normal" fill="#111" stroke="#111">Unknown</text>
<text x="63.50" y="665.80" font-size="11.6" text-anchor="middle" font-weight="normal" fill="#93358f" stroke="#93358f">Trimeric</text>
<text x="63.50" y="679.00" font-size="11.6" text-anchor="middle" font-weight="normal" fill="#93358f" stroke="#93358f">Interface</text>
<text x="63.50" y="692.20" font-size="11.6" text-anchor="middle" font-weight="normal" fill="#1f9a58" stroke="#1f9a58">Stem Helix</text>
<defs><linearGradient id="cb" x1="0" y1="0" x2="0" y2="1"><stop offset="0" stop-color="#3a5aa5"/><stop offset="0.5" stop-color="#a2a4cf"/><stop offset="1" stop-color="#f3f2f7"/></linearGradient><linearGradient id="rb" x1="0" y1="0" x2="1" y2="0"><stop offset="0" stop-color="#e8222a"/><stop offset="0.52" stop-color="#ffffff"/><stop offset="1" stop-color="#3a5aa5"/></linearGradient></defs>
<rect x="286.85" y="486.95" width="17.2" height="135.7" fill="url(#cb)" stroke="#000" stroke-width="1.5"/>
<line x1="287.50" y1="489.60" x2="289.50" y2="489.60" stroke="#000" stroke-width="1"/>
<line x1="301.50" y1="489.60" x2="303.50" y2="489.60" stroke="#000" stroke-width="1"/>
<line x1="287.50" y1="555.20" x2="289.50" y2="555.20" stroke="#000" stroke-width="1"/>
<line x1="301.50" y1="555.20" x2="303.50" y2="555.20" stroke="#000" stroke-width="1"/>
<line x1="287.50" y1="620.20" x2="289.50" y2="620.20" stroke="#000" stroke-width="1"/>
<line x1="301.50" y1="620.20" x2="303.50" y2="620.20" stroke="#000" stroke-width="1"/>
<text x="310.00" y="495.90" font-size="12.0" text-anchor="start" font-weight="normal" fill="#111" stroke="#111">100</text>
<text x="310.00" y="561.00" font-size="12.0" text-anchor="start" font-weight="normal" fill="#111" stroke="#111">50</text>
<text x="310.00" y="625.50" font-size="12.0" text-anchor="start" font-weight="normal" fill="#111" stroke="#111">0</text>
<path d="M337.7,476.9 L355.1,476.9 L355.1,620 L364.3,620 L346.5,637.4 L328.8,620 L337.7,620 Z" fill="#fff" stroke="#333" stroke-width="1.4" stroke-linejoin="miter"/>
<text x="341.80" y="492.00" font-size="12.3" text-anchor="start" font-weight="normal" fill="#111" stroke="#111" transform="rotate(90 341.8 492.0)">Increased Competition</text>
<text x="365.20" y="483.00" font-size="19.0" text-anchor="start" font-weight="bold" fill="#000" stroke="#000">f</text>
<path d="M462.0 522.3h0M457.3 526.9h0M459.3 526.7h0M441.2 529.0h0M456.3 529.3h0M464.7 528.4h0M446.3 543.5h0M478.6 546.6h0M471.5 548.7h0M474.3 549.8h0M476.2 549.2h0M479.0 549.3h0M482.6 549.6h0M485.0 549.4h0M487.0 548.7h0M471.2 550.9h0M477.0 552.1h0M472.4 553.7h0M476.6 554.7h0M457.2 555.9h0M471.2 556.8h0M473.9 557.3h0M454.4 559.1h0M474.5 559.3h0M464.2 561.1h0M476.7 561.3h0M467.0 564.4h0M477.3 564.1h0M466.6 566.8h0M469.5 567.1h0M473.8 566.9h0M446.2 569.7h0M424.3 571.0h0M429.7 574.0h0M446.8 574.3h0M421.6 576.4h0M424.0 576.9h0M426.9 576.3h0M429.0 576.2h0M471.6 577.3h0M471.9 581.9h0M474.4 584.7h0M476.6 583.5h0M471.7 586.1h0M474.6 586.4h0M427.6 589.3h0M428.9 589.2h0M451.5 589.3h0M436.7 591.8h0M456.1 592.1h0M471.2 591.5h0M436.5 593.9h0M431.6 597.3h0M429.9 598.5h0M431.2 599.7h0M434.7 602.3h0M437.4 601.9h0M434.4 607.0h0M439.1 606.3h0M434.5 608.8h0M438.9 608.7h0M443.8 608.5h0M418.8 611.7h0M421.7 613.7h0M424.5 617.1h0M437.6 619.1h0M423.7 622.2h0M457.4 622.2h0M459.6 621.9h0M424.2 624.4h0M457.4 624.0h0M421.9 627.3h0M424.5 626.0h0M444.6 626.9h0M452.1 625.9h0M470.0 626.0h0M422.1 629.3h0M444.7 628.9h0M446.4 629.8h0M449.0 628.7h0M452.4 629.1h0M469.2 628.8h0M444.2 631.4h0M449.4 632.4h0M462.6 634.4h0M432.4 636.6h0M433.9 637.3h0M459.1 637.0h0M466.3 637.4h0M427.2 638.6h0M431.6 639.2h0M459.0 638.5h0M428.7 641.1h0M432.5 642.4h0M437.2 640.9h0M457.2 644.1h0M459.3 643.5h0M449.1 647.3h0M457.6 646.2h0M449.3 649.8h0M439.6 651.7h0M444.0 651.9h0M449.7 652.2h0M438.8 653.9h0M440.2 656.3h0" stroke="#9b9b9b" stroke-width="4.6" stroke-linecap="round"/>
<path d="M459.5 524.1h0M461.5 524.1h0M462.0 526.3h0M463.7 526.1h0M467.0 526.4h0M469.9 526.6h0M454.4 528.5h0M459.2 529.6h0M461.4 528.9h0M466.9 528.6h0M464.6 531.3h0M444.7 541.7h0M442.1 544.6h0M444.6 543.4h0M473.7 551.8h0M484.1 551.0h0M455.2 554.9h0M454.1 556.8h0M476.4 556.3h0M467.0 559.9h0M470.1 558.7h0M477.3 559.7h0M466.3 561.2h0M475.1 561.0h0M464.5 564.4h0M471.7 566.9h0M476.3 566.2h0M426.2 569.8h0M471.5 569.8h0M421.2 572.2h0M444.5 571.6h0M446.2 571.5h0M444.7 573.9h0M458.6 574.5h0M445.0 575.9h0M477.3 581.8h0M471.6 583.7h0M478.9 583.4h0M478.9 586.5h0M431.2 588.7h0M436.5 588.6h0M453.8 589.0h0M456.4 589.0h0M471.9 589.9h0M434.9 591.1h0M455.1 591.6h0M458.8 592.2h0M473.9 592.4h0M481.5 591.8h0M426.4 594.4h0M435.0 593.8h0M459.5 594.1h0M426.3 596.0h0M428.7 597.1h0M434.7 595.9h0M433.6 599.1h0M434.8 603.9h0M437.2 604.6h0M437.0 606.9h0M441.3 606.8h0M437.6 609.1h0M442.5 608.8h0M416.5 611.7h0M434.6 612.1h0M442.6 611.0h0M413.9 613.8h0M432.5 614.7h0M434.8 613.5h0M441.1 614.3h0M434.0 615.9h0M433.8 619.1h0M454.6 624.1h0M471.1 624.5h0M449.0 626.4h0M471.6 626.2h0M420.1 629.3h0M446.7 632.0h0M451.9 631.0h0M464.6 634.8h0M436.6 636.9h0M461.2 636.8h0M464.9 636.4h0M424.7 638.5h0M430.2 638.9h0M437.3 638.5h0M438.9 639.5h0M467.5 638.9h0M427.4 641.1h0M454.6 644.1h0M442.5 651.5h0M443.6 654.4h0M446.4 654.0h0M449.6 653.8h0M441.2 655.8h0" stroke="#9b9b9b" stroke-width="3.8" stroke-linecap="round"/>
<path d="M438.6 529.2h0M437.5 530.9h0M456.5 539.9h0M471.6 544.2h0M476.3 546.0h0M447.5 549.9h0M449.6 549.3h0M431.4 556.4h0M481.3 558.4h0M482.5 561.0h0M483.9 562.2h0M474.4 563.8h0M460.0 566.0h0M462.3 566.2h0M489.5 566.1h0M470.0 568.4h0M436.3 572.3h0M487.2 573.8h0M474.8 579.6h0M422.0 589.7h0M467.3 589.7h0M439.0 591.3h0M438.8 593.9h0M422.3 597.1h0M424.9 596.7h0M452.2 597.2h0M454.8 595.9h0M441.6 599.7h0M443.8 598.8h0M447.1 599.9h0M431.2 601.3h0M446.5 601.6h0M429.8 604.7h0M446.4 605.9h0M454.2 606.4h0M470.1 607.0h0M421.4 608.9h0M459.9 613.9h0M462.3 613.6h0M416.2 618.8h0M449.7 619.0h0M438.9 623.5h0M446.2 624.2h0M447.0 627.4h0M466.2 627.3h0M429.6 628.8h0M431.2 630.9h0M434.2 631.1h0M432.2 634.0h0M450.0 638.6h0M452.5 639.9h0M434.8 646.3h0M439.0 649.6h0M454.3 649.0h0M451.3 651.4h0" stroke="#8b191d" stroke-width="3.8" stroke-linecap="round"/>
<path d="M447.6 528.7h0M448.6 529.0h0M470.0 532.2h0M435.1 533.9h0M436.9 534.9h0M446.7 533.8h0M469.9 533.8h0M471.8 533.8h0M476.7 534.1h0M451.7 536.3h0M476.7 536.6h0M441.8 539.0h0M459.7 539.2h0M466.5 539.4h0M469.9 538.5h0M439.1 542.1h0M468.8 542.1h0M459.4 544.0h0M467.1 543.7h0M466.3 546.2h0M434.1 548.4h0M438.6 549.8h0M455.1 548.9h0M460.1 548.4h0M461.5 548.7h0M464.4 549.0h0M440.1 551.2h0M441.9 552.2h0M459.6 551.7h0M462.4 552.2h0M464.7 552.2h0M446.5 554.6h0M436.8 558.4h0M442.2 559.1h0M446.3 562.1h0M486.4 568.7h0M479.5 571.7h0M486.5 571.8h0M488.7 571.2h0M491.5 571.7h0M436.6 573.9h0M481.7 573.9h0M484.8 574.0h0M480.1 576.3h0M483.9 579.8h0M465.1 581.0h0M466.1 582.1h0M417.6 584.0h0M418.9 584.3h0M427.2 584.5h0M446.9 584.2h0M462.3 584.0h0M484.2 583.4h0M417.2 586.1h0M447.4 586.7h0M486.7 586.1h0M489.0 586.3h0M417.1 589.2h0M486.5 589.9h0M488.9 589.7h0M416.6 591.1h0M489.0 592.4h0M417.1 594.3h0M418.6 593.5h0M474.6 597.3h0M469.9 599.8h0M452.6 602.1h0M456.9 600.9h0M414.1 604.6h0M426.6 604.5h0M454.7 603.5h0M462.3 603.6h0M464.6 603.9h0M415.1 607.2h0M426.8 606.2h0M461.9 606.1h0M466.2 605.9h0M471.9 606.8h0M414.2 609.3h0M427.4 609.5h0M462.3 608.8h0M464.3 608.4h0M423.9 612.1h0M449.9 611.4h0M451.8 614.0h0M466.8 614.3h0M468.7 613.5h0M472.3 613.4h0M473.6 613.9h0M448.8 616.5h0M456.4 617.2h0M469.9 618.6h0M471.8 619.0h0M473.9 618.9h0M441.9 622.3h0M432.4 623.5h0M429.7 626.5h0M434.5 627.3h0M436.1 626.6h0M437.4 631.1h0M438.7 632.1h0M453.8 639.8h0M441.4 644.4h0M441.6 646.4h0" stroke="#2e4e7c" stroke-width="3.8" stroke-linecap="round"/>
<path d="M452.7 529.2h0M469.0 529.5h0M454.2 531.9h0M461.2 531.4h0M481.7 542.4h0M481.8 544.6h0M441.1 546.9h0M482.6 547.1h0M443.7 548.8h0M480.1 551.1h0M452.3 553.5h0M468.8 554.2h0M479.4 553.8h0M481.1 554.3h0M483.6 554.2h0M426.2 556.0h0M451.6 556.2h0M458.8 556.2h0M478.8 556.7h0M457.5 559.5h0M479.7 558.5h0M486.6 559.2h0M461.8 561.2h0M480.0 561.3h0M486.5 561.3h0M436.5 563.6h0M439.9 564.8h0M480.0 564.5h0M482.1 563.6h0M434.7 567.2h0M423.7 569.6h0M429.2 569.4h0M432.3 569.6h0M444.3 568.8h0M459.9 569.7h0M464.5 569.6h0M476.9 568.5h0M456.1 571.6h0M460.1 570.9h0M464.6 571.5h0M466.4 571.6h0M469.5 572.1h0M471.6 571.8h0M451.7 573.6h0M453.8 573.7h0M469.4 574.7h0M431.7 577.4h0M452.5 576.0h0M457.2 576.9h0M459.3 577.0h0M470.1 576.4h0M490.2 577.3h0M489.2 579.9h0M478.9 581.0h0M437.0 584.6h0M454.9 584.3h0M456.9 586.3h0M449.9 588.9h0M460.1 589.9h0M464.2 588.3h0M482.0 589.3h0M424.5 592.1h0M448.6 592.3h0M464.3 590.9h0M442.4 594.6h0M447.4 594.8h0M457.0 594.3h0M462.6 593.4h0M468.6 594.5h0M484.6 594.4h0M439.3 596.8h0M442.1 596.8h0M459.2 596.8h0M439.0 599.2h0M462.2 598.8h0M467.1 598.4h0M441.7 604.3h0M431.5 606.3h0M446.4 608.9h0M431.3 612.1h0M446.5 612.1h0M431.6 616.3h0M431.5 618.6h0M439.8 619.4h0M459.3 618.6h0M463.9 618.9h0M426.8 621.2h0M435.0 621.4h0M436.4 620.9h0M463.8 622.2h0M426.2 623.8h0M448.7 623.8h0M452.2 623.6h0M461.9 624.5h0M466.7 624.5h0M442.1 626.4h0M457.0 625.9h0M424.5 629.2h0M441.8 629.6h0M419.6 631.8h0M422.4 631.8h0M467.2 631.2h0M468.8 631.7h0M443.8 633.5h0M450.2 634.1h0M472.2 634.4h0M429.0 636.8h0M469.0 637.0h0M438.9 641.5h0M458.9 641.9h0M446.3 651.2h0" stroke="#728096" stroke-width="3.8" stroke-linecap="round"/>
<path d="M471.5 529.2h0M445.0 531.7h0M444.5 533.9h0M457.0 534.7h0M459.4 534.3h0M479.2 534.8h0M446.2 536.9h0M448.7 539.0h0M473.6 539.2h0M449.6 541.9h0M472.5 541.1h0M477.0 540.9h0M438.8 543.5h0M437.1 547.2h0M438.9 546.7h0M450.0 546.0h0M468.9 547.3h0M452.2 549.9h0M467.2 549.5h0M435.1 552.1h0M455.0 551.3h0M431.5 553.4h0M435.1 554.0h0M448.9 554.1h0M459.8 554.0h0M462.5 554.5h0M486.4 556.9h0M449.7 559.6h0M432.3 561.0h0M436.5 561.8h0M424.1 563.9h0M428.7 563.7h0M431.8 564.2h0M444.9 564.9h0M449.0 563.4h0M486.5 564.1h0M422.4 567.2h0M424.4 566.9h0M429.2 566.4h0M441.6 566.8h0M449.4 566.9h0M454.5 565.9h0M481.4 566.0h0M484.0 565.8h0M434.0 569.6h0M439.0 568.8h0M452.0 568.5h0M462.0 568.3h0M480.0 569.6h0M433.8 574.1h0M440.1 573.4h0M461.3 577.4h0M467.1 577.3h0M486.6 576.6h0M424.3 578.5h0M430.0 579.7h0M431.6 579.8h0M448.6 579.0h0M452.0 578.6h0M453.9 578.4h0M457.3 579.7h0M458.8 579.3h0M487.5 578.7h0M446.1 580.9h0M451.6 581.6h0M454.5 581.2h0M469.2 581.0h0M489.0 581.5h0M451.8 583.3h0M457.2 584.7h0M458.7 584.9h0M466.2 584.7h0M414.6 586.0h0M427.3 586.5h0M448.6 587.2h0M461.5 587.2h0M484.2 587.1h0M414.4 589.2h0M444.1 589.2h0M446.6 589.6h0M413.8 591.6h0M422.5 591.9h0M444.6 590.9h0M484.2 590.9h0M486.1 592.4h0M449.7 594.8h0M486.9 593.7h0M489.7 593.7h0M418.8 596.9h0M448.8 596.8h0M477.2 596.1h0M416.6 600.9h0M419.1 600.9h0M422.5 602.4h0M426.3 600.9h0M449.8 601.5h0M461.2 601.4h0M464.5 601.7h0M466.3 601.5h0M419.3 603.7h0M444.1 603.7h0M419.6 606.1h0M416.8 608.7h0M427.5 612.2h0M429.2 611.6h0M469.3 612.4h0M427.4 613.3h0M429.8 614.7h0M444.0 616.6h0M447.2 616.4h0M464.3 616.4h0M442.6 619.9h0M444.5 619.8h0M451.5 619.2h0M466.4 619.3h0M432.3 621.7h0M440.0 622.0h0M444.6 622.0h0M466.4 621.7h0M464.9 624.4h0M439.2 626.8h0M464.5 626.5h0M459.9 629.9h0M461.3 628.6h0M464.1 629.1h0M426.2 631.3h0M429.3 634.1h0M441.3 637.0h0M446.5 636.3h0M448.7 636.3h0M441.2 639.0h0M446.1 639.1h0M457.3 639.3h0M447.5 642.2h0M454.6 641.7h0M456.8 640.9h0M439.9 643.5h0M444.3 646.5h0M442.2 648.5h0" stroke="#51688b" stroke-width="3.8" stroke-linecap="round"/>
<path d="M440.0 532.3h0M448.8 533.6h0M467.6 534.6h0M463.9 536.8h0M462.2 539.9h0M464.2 539.8h0M459.7 541.9h0M476.7 544.5h0M480.0 544.4h0M471.7 546.9h0M473.8 546.4h0M446.3 551.8h0M481.2 557.1h0M433.7 559.1h0M439.7 561.4h0M441.3 561.7h0M451.9 561.4h0M459.2 564.7h0M472.4 564.0h0M485.2 568.9h0M448.9 571.9h0M451.8 571.7h0M449.6 573.6h0M457.0 574.5h0M439.0 576.9h0M439.1 579.0h0M469.9 579.0h0M472.3 578.4h0M431.7 582.2h0M439.7 581.4h0M442.0 583.8h0M444.7 584.4h0M442.5 586.1h0M444.3 586.8h0M454.5 587.1h0M467.7 585.9h0M435.0 589.5h0M441.7 588.9h0M476.5 589.9h0M477.6 592.0h0M451.7 594.1h0M454.3 594.2h0M467.3 594.6h0M475.1 593.6h0M413.8 596.0h0M466.7 596.4h0M429.2 601.9h0M444.0 602.0h0M431.8 604.3h0M447.7 604.0h0M449.4 604.0h0M456.5 604.7h0M456.9 607.2h0M432.1 608.3h0M445.0 613.6h0M419.4 619.0h0M416.5 621.3h0M417.4 624.7h0M418.7 624.5h0M419.9 627.3h0M459.2 626.9h0M434.7 634.8h0M423.7 636.4h0M451.8 641.9h0M436.3 646.6h0M439.6 646.5h0M436.7 649.4h0M452.3 649.9h0" stroke="#8b191d" stroke-width="4.6" stroke-linecap="round"/>
<path d="M441.7 532.3h0M452.3 531.0h0M456.3 531.4h0M459.5 532.4h0M467.4 531.9h0M462.5 533.4h0M447.3 542.3h0M474.4 544.5h0M484.3 544.7h0M484.2 546.6h0M469.9 549.1h0M450.0 552.3h0M470.1 551.6h0M482.2 551.8h0M428.8 554.4h0M457.6 553.9h0M486.5 554.4h0M429.8 557.1h0M467.6 557.3h0M468.8 556.8h0M425.0 559.5h0M427.2 558.3h0M428.9 559.3h0M452.0 558.7h0M458.8 559.6h0M461.4 558.9h0M464.5 558.4h0M484.5 559.4h0M423.9 560.9h0M427.0 562.0h0M429.9 561.9h0M454.1 561.0h0M456.6 561.4h0M459.7 561.8h0M434.6 564.7h0M462.4 564.1h0M437.2 567.2h0M464.5 567.1h0M478.7 567.0h0M449.3 568.4h0M466.2 569.9h0M474.5 569.4h0M432.0 572.3h0M454.3 572.2h0M461.4 571.1h0M474.1 571.1h0M432.1 573.9h0M462.5 574.1h0M464.9 573.4h0M466.7 574.8h0M471.9 573.8h0M441.9 577.3h0M447.5 576.5h0M449.7 576.8h0M475.0 576.6h0M435.0 578.4h0M436.5 578.7h0M441.1 578.3h0M443.8 579.4h0M477.2 579.7h0M434.4 582.1h0M436.4 582.2h0M432.2 583.7h0M434.4 583.8h0M438.9 584.9h0M468.8 584.8h0M429.9 587.0h0M431.3 586.6h0M433.6 587.0h0M437.3 585.8h0M440.1 586.0h0M451.2 587.2h0M464.3 587.3h0M469.1 585.8h0M482.2 586.9h0M438.8 588.7h0M461.8 589.4h0M470.1 589.1h0M447.1 592.1h0M451.9 591.0h0M461.2 591.4h0M466.7 592.0h0M470.0 592.0h0M412.1 594.2h0M424.5 593.9h0M444.8 594.6h0M464.0 593.5h0M471.4 593.8h0M476.5 594.2h0M479.4 594.7h0M482.5 593.4h0M437.3 597.3h0M445.0 596.4h0M447.5 596.1h0M461.3 597.3h0M464.3 595.8h0M469.2 596.0h0M481.3 597.1h0M483.7 597.0h0M486.7 597.3h0M417.7 598.5h0M419.7 599.3h0M427.3 599.2h0M437.6 599.6h0M460.0 598.4h0M464.3 598.9h0M482.1 598.6h0M483.7 599.0h0M438.7 602.2h0M441.9 601.9h0M440.1 603.9h0M471.2 609.0h0M445.1 611.0h0M425.0 614.8h0M427.3 617.3h0M441.1 617.1h0M426.1 618.5h0M456.5 619.1h0M462.4 618.4h0M449.9 622.0h0M451.6 622.4h0M453.6 621.0h0M462.2 622.3h0M445.1 624.7h0M458.9 624.4h0M469.2 624.6h0M454.6 627.4h0M453.8 629.1h0M467.5 628.5h0M424.2 631.9h0M441.7 631.3h0M453.9 631.8h0M457.3 631.5h0M465.1 632.1h0M424.4 634.2h0M427.5 634.6h0M446.1 633.6h0M451.2 634.3h0M455.0 634.9h0M456.7 633.5h0M458.7 633.4h0M466.7 633.5h0M469.9 633.8h0M426.2 636.8h0M456.7 637.1h0M434.3 644.8h0M449.9 643.6h0M452.2 643.9h0M447.3 646.3h0M443.8 649.9h0M446.7 648.6h0M437.4 651.8h0" stroke="#728096" stroke-width="4.6" stroke-linecap="round"/>
<path d="M447.6 531.1h0M471.8 531.7h0M451.1 534.8h0M474.4 533.5h0M442.0 536.8h0M443.9 537.1h0M448.8 536.4h0M457.0 536.7h0M467.0 537.2h0M468.6 536.7h0M471.7 536.4h0M474.1 536.6h0M478.7 536.8h0M476.5 539.4h0M478.6 538.8h0M462.5 542.4h0M437.5 544.8h0M452.0 544.9h0M461.6 543.6h0M469.4 544.8h0M434.3 546.6h0M451.5 546.2h0M462.6 547.0h0M463.8 546.5h0M431.6 548.7h0M437.2 551.9h0M436.6 553.6h0M445.0 553.6h0M465.2 554.1h0M436.8 556.2h0M449.0 557.2h0M444.4 561.6h0M487.1 566.4h0M482.0 568.5h0M489.6 568.9h0M482.0 572.1h0M484.7 572.0h0M479.1 573.6h0M464.7 576.7h0M482.7 576.6h0M483.7 576.7h0M422.4 579.3h0M464.0 579.7h0M481.6 579.6h0M413.7 581.4h0M416.6 581.8h0M419.8 580.8h0M429.2 582.0h0M449.4 582.3h0M461.7 582.2h0M484.8 582.1h0M486.7 582.2h0M487.5 583.5h0M489.0 583.7h0M419.7 591.2h0M409.8 598.7h0M412.1 599.1h0M452.4 598.9h0M454.1 598.6h0M457.3 599.9h0M480.0 598.6h0M413.8 601.1h0M454.0 601.1h0M469.7 602.0h0M478.9 601.3h0M424.7 604.8h0M451.7 603.5h0M460.1 604.9h0M466.5 604.4h0M469.9 603.5h0M422.3 607.2h0M424.7 606.7h0M451.4 606.2h0M464.5 606.8h0M423.7 608.3h0M449.6 609.6h0M451.3 608.8h0M461.8 611.5h0M463.8 612.1h0M449.1 613.5h0M452.1 615.9h0M454.0 616.0h0M459.4 616.5h0M473.6 616.5h0M429.3 624.1h0M434.9 624.0h0M436.2 624.4h0M436.9 629.8h0M438.7 629.8h0" stroke="#2e4e7c" stroke-width="4.6" stroke-linecap="round"/>
<path d="M449.2 531.2h0M441.3 533.6h0M454.2 533.9h0M460.0 537.1h0M461.7 535.8h0M444.4 539.2h0M447.3 539.3h0M471.5 539.3h0M441.7 542.1h0M474.7 540.9h0M479.7 541.6h0M449.9 543.8h0M437.4 549.5h0M441.1 549.2h0M427.2 552.3h0M428.6 552.3h0M432.1 551.8h0M444.9 551.8h0M451.8 551.7h0M456.6 551.5h0M467.1 551.5h0M427.6 553.6h0M467.0 554.6h0M434.8 557.2h0M461.8 555.9h0M464.5 556.8h0M483.9 556.1h0M439.2 559.8h0M435.1 562.0h0M422.5 563.6h0M426.3 564.1h0M441.5 564.1h0M446.1 564.9h0M451.3 564.4h0M454.3 563.7h0M456.6 564.3h0M484.3 564.2h0M426.4 566.2h0M431.2 566.0h0M438.6 567.2h0M444.8 566.2h0M446.4 566.5h0M452.4 566.5h0M456.3 566.7h0M437.3 568.5h0M441.5 569.3h0M454.9 568.8h0M456.2 568.9h0M434.6 571.4h0M439.1 571.7h0M441.2 571.6h0M441.2 573.4h0M475.1 573.3h0M489.3 574.8h0M491.1 573.9h0M419.3 576.6h0M435.1 577.1h0M436.8 576.9h0M454.8 577.4h0M476.4 577.1h0M420.1 578.6h0M427.3 579.4h0M447.0 579.0h0M461.4 578.9h0M479.4 578.8h0M442.5 581.0h0M444.9 581.9h0M456.2 580.9h0M459.7 582.2h0M481.6 582.1h0M414.5 584.5h0M429.7 583.8h0M449.7 584.7h0M464.0 584.1h0M482.3 583.4h0M459.9 585.9h0M424.2 589.3h0M484.0 589.1h0M414.6 593.9h0M410.1 596.1h0M411.4 597.0h0M416.5 596.6h0M457.5 596.7h0M472.4 596.3h0M479.6 596.4h0M414.8 599.4h0M422.5 598.7h0M425.1 599.9h0M448.6 598.3h0M424.6 601.2h0M482.3 601.7h0M417.3 604.7h0M421.8 604.0h0M417.4 606.3h0M428.8 607.1h0M450.1 607.4h0M419.7 609.8h0M428.7 608.5h0M467.6 609.1h0M468.6 609.4h0M414.3 611.5h0M421.4 611.3h0M467.4 611.9h0M471.8 611.6h0M446.7 614.0h0M464.0 614.8h0M430.2 617.0h0M461.8 616.9h0M466.3 616.6h0M428.6 618.6h0M447.4 618.7h0M454.6 619.6h0M429.6 620.9h0M446.8 622.1h0M469.6 621.9h0M472.3 621.2h0M442.2 624.3h0M461.3 626.7h0M456.4 628.5h0M428.8 631.1h0M459.4 631.1h0M461.6 631.4h0M418.7 634.3h0M436.4 633.8h0M439.5 633.8h0M441.8 634.2h0M439.9 636.8h0M444.0 637.0h0M452.3 636.8h0M454.1 636.0h0M445.0 639.0h0M441.9 641.3h0M443.9 642.1h0M448.8 642.0h0M437.0 644.3h0M444.3 644.1h0M446.9 644.6h0M434.8 648.4h0" stroke="#51688b" stroke-width="4.6" stroke-linecap="round"/>
<path d="M473.8 531.0h0M439.1 534.8h0M465.0 534.0h0M439.9 554.6h0M476.8 571.3h0M476.1 574.1h0M467.0 578.5h0M422.3 586.8h0M459.1 602.3h0M419.1 616.1h0M426.9 629.3h0M432.1 629.7h0M421.8 634.8h0M461.5 641.4h0" stroke="#996466" stroke-width="3.8" stroke-linecap="round"/>
<path d="M434.8 537.2h0M436.1 536.6h0M438.6 536.6h0M454.1 536.4h0M439.7 538.7h0M451.4 541.4h0M453.9 542.1h0M431.9 543.5h0M434.9 544.6h0M456.4 544.0h0M432.2 547.0h0M454.9 546.3h0M429.5 548.5h0M446.2 557.0h0M443.7 559.1h0M421.6 581.6h0M424.7 581.6h0M424.1 586.5h0M419.9 589.5h0M492.0 591.1h0M476.1 599.0h0M472.3 602.1h0M477.0 602.1h0M472.5 603.4h0M459.0 606.9h0M454.5 609.2h0M457.2 608.7h0M458.8 608.5h0M451.8 611.0h0M454.7 611.7h0M457.1 611.3h0M459.7 610.9h0M469.5 617.1h0" stroke="#1f3e6d" stroke-width="3.8" stroke-linecap="round"/>
<path d="M433.9 538.9h0M452.2 539.5h0M453.7 539.7h0M434.7 542.0h0M437.5 541.0h0M457.3 541.6h0M464.8 541.9h0M466.8 542.1h0M455.1 543.4h0M464.6 544.9h0M429.7 547.1h0M457.7 546.7h0M460.0 545.9h0M456.4 548.6h0M441.2 553.4h0M438.6 555.8h0M442.0 556.3h0M444.3 557.0h0M446.5 558.4h0M426.3 581.8h0M422.5 584.4h0M425.0 584.3h0M418.7 586.9h0M472.2 599.6h0M474.0 599.2h0M473.8 601.1h0M412.4 604.2h0M454.2 614.2h0M457.5 614.8h0M472.5 616.9h0M434.3 628.7h0" stroke="#1f3e6d" stroke-width="4.6" stroke-linecap="round"/>
<path d="M436.7 539.3h0M474.2 554.2h0M431.1 558.4h0M449.4 562.3h0M474.9 581.7h0M441.1 591.3h0M422.1 593.9h0M444.1 606.6h0M426.3 627.0h0M431.5 627.2h0" stroke="#996466" stroke-width="4.6" stroke-linecap="round"/>
<path d="M444.7 545.8h0M446.8 546.6h0M472.6 558.4h0M469.0 562.2h0M472.4 562.0h0M469.2 563.6h0M422.0 574.5h0M479.1 589.4h0M429.0 591.1h0M432.3 591.3h0M478.6 591.7h0M431.5 593.4h0M436.8 611.1h0M438.6 611.0h0M417.6 614.4h0M436.6 613.3h0M417.1 615.9h0M421.4 616.0h0M438.9 616.1h0M422.5 619.0h0M422.0 621.5h0M422.1 623.5h0M461.5 639.4h0M442.1 654.3h0" stroke="#686e79" stroke-width="4.6" stroke-linecap="round"/>
<path d="M426.8 572.0h0M428.9 572.1h0M477.7 586.9h0M474.9 588.5h0M427.2 592.3h0M429.2 594.2h0M419.3 614.1h0M440.1 614.4h0M414.3 617.2h0M436.2 617.4h0M423.7 619.6h0M418.8 621.2h0M434.3 638.3h0M465.2 639.6h0M433.6 641.5h0M451.4 646.6h0M454.0 646.3h0" stroke="#686e79" stroke-width="3.8" stroke-linecap="round"/>
<path d="M423.8 573.7h0" stroke="#848990" stroke-width="3.8" stroke-linecap="round"/>
<path d="M426.9 573.4h0" stroke="#848990" stroke-width="4.6" stroke-linecap="round"/>
<path d="M404.8 511.4h0M405.1 514.2h0M412.6 513.2h0M407.8 515.3h0M418.5 515.8h0M419.8 515.6h0M423.0 515.9h0M418.0 518.5h0M420.0 518.0h0M422.7 519.1h0M416.0 521.5h0M425.3 521.1h0M415.6 523.3h0M423.2 523.1h0M425.4 523.6h0M417.8 526.8h0M419.8 526.8h0M422.0 526.8h0M426.0 526.5h0M417.3 528.6h0M427.6 528.3h0M408.5 533.6h0M410.0 533.4h0M416.1 533.2h0M414.5 536.8h0M422.6 535.9h0M415.3 538.5h0M424.9 538.3h0M427.6 538.7h0M410.8 540.5h0M418.4 541.5h0M423.2 541.0h0M425.6 541.8h0M426.0 548.9h0M423.3 550.4h0M425.0 551.0h0M422.1 553.1h0M424.9 554.1h0M425.4 555.3h0" stroke="#9d9d9d" stroke-width="3.8" stroke-linecap="round"/>
<path d="M409.6 510.6h0M414.9 511.3h0M399.6 513.7h0M407.0 513.8h0M423.3 513.9h0M409.7 515.5h0M425.6 516.8h0M417.7 521.4h0M421.0 520.8h0M418.3 523.4h0M403.4 526.8h0M427.6 525.8h0M410.5 529.0h0M420.6 528.6h0M409.7 531.5h0M413.0 531.2h0M417.4 531.3h0M420.6 531.4h0M428.5 530.9h0M419.7 534.2h0M422.0 533.6h0M408.4 535.7h0M411.0 535.3h0M412.0 536.5h0M425.5 536.5h0M412.3 538.1h0M412.0 541.6h0M420.0 541.8h0M428.2 540.6h0M419.8 543.0h0M422.3 543.3h0M425.7 543.4h0M417.5 550.7h0" stroke="#9d9d9d" stroke-width="4.6" stroke-linecap="round"/>
<path d="M412.4 510.4h0M414.6 514.1h0M424.5 513.7h0M399.5 516.4h0M405.8 516.0h0M407.8 517.9h0M413.2 519.0h0M415.1 518.1h0M412.9 523.2h0M405.9 526.7h0M408.0 526.3h0M405.5 528.3h0M408.1 529.3h0M412.7 528.9h0M415.9 530.9h0" stroke="#996566" stroke-width="3.8" stroke-linecap="round"/>
<path d="M417.7 510.3h0M418.2 513.3h0M426.1 518.0h0M423.3 521.8h0M424.6 528.9h0M425.8 530.8h0M418.0 533.9h0M424.6 534.1h0M427.8 536.3h0M410.8 538.0h0M414.7 544.2h0M417.5 543.7h0M427.5 543.8h0M418.0 548.1h0M420.1 548.9h0" stroke="#6f7e95" stroke-width="4.6" stroke-linecap="round"/>
<path d="M420.6 511.1h0M418.0 535.6h0M420.5 539.1h0M422.2 537.9h0M420.4 546.4h0" stroke="#3b5881" stroke-width="4.6" stroke-linecap="round"/>
<path d="M422.1 511.5h0M409.7 513.6h0M419.8 514.1h0M421.0 523.2h0M422.4 529.3h0M402.5 531.3h0M423.4 531.5h0M427.1 532.9h0M415.7 541.6h0M423.4 546.0h0M425.9 545.4h0M422.8 549.0h0" stroke="#6f7e95" stroke-width="3.8" stroke-linecap="round"/>
<path d="M403.0 513.5h0M412.4 515.3h0M415.2 516.2h0M400.2 518.1h0M401.0 521.5h0M405.8 521.7h0M412.8 521.0h0M400.0 523.6h0M402.7 523.3h0M405.3 523.5h0M415.7 528.0h0M405.3 530.9h0M407.1 531.8h0M405.3 533.2h0M412.4 534.0h0" stroke="#996566" stroke-width="4.6" stroke-linecap="round"/>
<path d="M403.3 515.6h0M402.7 518.9h0M405.4 517.9h0M409.6 518.8h0M403.3 521.1h0M408.4 524.4h0M411.0 526.1h0M412.1 525.5h0M414.6 526.3h0" stroke="#848b97" stroke-width="3.8" stroke-linecap="round"/>
<path d="M408.3 521.7h0M410.0 521.1h0M410.3 524.4h0" stroke="#848b97" stroke-width="4.6" stroke-linecap="round"/>
<path d="M419.6 536.5h0M418.3 538.1h0M418.1 546.5h0" stroke="#3b5881" stroke-width="3.8" stroke-linecap="round"/>
<path d="M465.4 513.8h0M474.0 515.2h0M463.4 517.7h0M465.9 520.7h0M458.1 522.9h0M465.0 523.6h0M469.0 523.3h0M459.0 525.4h0M463.7 525.6h0M475.0 525.7h0M465.2 528.9h0M468.7 528.6h0M473.4 528.7h0M475.7 527.7h0M468.6 530.6h0M479.0 530.9h0M465.2 534.0h0M468.4 533.0h0M480.4 532.7h0M446.6 551.0h0M462.1 553.8h0M471.4 555.2h0M456.7 558.8h0M469.1 558.2h0M457.9 560.2h0M458.9 561.0h0M472.6 560.2h0M467.2 567.5h0M475.0 567.3h0M454.2 570.1h0M451.4 572.7h0M452.8 575.8h0M474.2 578.8h0M480.8 589.5h0M476.5 592.3h0M478.8 592.1h0M481.7 595.0h0M484.7 595.0h0M483.9 597.1h0" stroke="#8e2a2d" stroke-width="4.6" stroke-linecap="round"/>
<path d="M456.0 516.4h0M460.4 515.1h0M467.5 515.7h0M466.5 518.1h0M471.0 519.1h0M470.4 520.9h0M473.7 520.0h0M476.0 520.4h0M478.0 520.6h0M473.9 522.7h0M476.6 522.8h0M465.6 525.0h0M468.6 526.3h0M478.2 525.9h0M481.1 526.6h0M456.4 528.4h0M478.4 528.5h0M480.6 527.7h0M456.4 530.2h0M458.7 530.2h0M460.6 530.2h0M471.2 530.6h0M455.4 533.1h0M457.5 532.9h0M461.6 533.5h0M462.9 532.7h0M466.2 535.5h0M473.8 538.1h0M475.5 537.8h0M477.8 540.4h0M473.3 543.6h0M467.8 545.9h0M469.2 545.6h0M450.2 547.5h0M467.7 547.5h0M454.4 553.4h0M459.6 553.7h0M464.1 553.1h0M466.5 552.6h0M469.8 553.1h0M454.4 558.6h0M455.3 561.2h0M456.8 563.7h0M457.2 564.9h0M458.9 565.8h0M450.0 568.0h0M451.5 567.3h0M455.0 568.1h0M464.0 568.4h0M459.6 571.2h0M467.8 569.8h0M461.6 572.3h0M464.5 573.3h0M469.2 572.7h0M459.7 574.8h0M462.6 576.2h0M451.5 578.3h0M469.3 577.5h0M454.6 580.0h0M484.3 574.0h0M486.5 574.9h0M488.7 574.2h0M478.6 581.4h0M489.2 581.8h0M479.6 585.3h0M491.9 584.9h0M479.4 586.5h0M484.6 592.3h0M479.0 594.7h0M486.8 596.6h0" stroke="#919397" stroke-width="3.8" stroke-linecap="round"/>
<path d="M457.6 515.3h0M471.5 533.9h0M462.5 536.4h0M471.6 535.8h0M461.2 538.7h0M463.3 537.8h0M465.2 538.2h0M468.5 538.1h0M470.5 538.7h0M468.8 540.9h0M465.2 543.5h0M465.4 550.0h0M467.6 549.9h0M449.5 553.0h0M451.4 552.7h0M456.7 553.3h0M449.3 555.4h0M447.4 558.0h0M447.3 561.1h0M449.1 560.6h0M447.9 565.4h0M449.7 564.8h0M455.0 565.5h0M447.6 568.1h0M462.0 567.9h0M472.4 573.3h0M456.9 575.1h0M456.5 577.7h0M459.2 577.3h0M461.5 578.6h0M459.4 580.5h0M462.5 581.1h0M464.3 580.1h0M480.6 574.9h0M476.2 577.6h0M484.5 576.6h0M486.3 577.2h0M489.5 576.7h0M488.8 580.1h0M483.4 586.6h0M489.5 587.0h0M483.9 589.2h0" stroke="#996b6c" stroke-width="3.8" stroke-linecap="round"/>
<path d="M463.0 515.9h0M465.9 515.5h0M475.0 515.7h0M460.2 520.4h0M468.9 521.5h0M461.0 522.5h0M462.5 522.7h0M461.6 525.2h0M473.0 525.8h0M460.4 528.1h0M463.9 530.8h0M480.2 531.1h0M447.5 547.7h0M459.4 556.0h0M461.7 555.7h0M466.6 555.0h0M469.4 555.8h0M459.7 557.6h0M464.8 563.7h0M457.8 568.7h0M457.6 569.8h0M447.6 572.7h0M449.3 572.4h0M476.0 581.3h0M474.7 586.6h0M476.5 587.5h0M474.2 589.5h0M481.1 592.1h0M485.8 594.4h0M481.8 596.7h0" stroke="#8e2a2d" stroke-width="3.8" stroke-linecap="round"/>
<path d="M470.3 515.1h0M455.4 518.1h0M460.5 517.9h0M467.6 518.4h0M472.5 518.7h0M475.6 518.8h0M456.0 520.3h0M458.3 520.5h0M462.6 521.3h0M455.4 522.5h0M470.8 524.0h0M477.7 522.6h0M470.0 525.9h0M457.6 527.8h0M471.1 528.7h0M473.1 531.5h0M476.4 531.2h0M476.4 533.2h0M477.8 532.5h0M478.8 535.6h0M470.5 541.2h0M473.8 541.2h0M476.2 540.7h0M471.3 542.5h0M448.9 551.1h0M447.1 552.5h0M452.9 555.2h0M455.2 554.8h0M457.1 556.1h0M464.7 556.0h0M452.2 557.9h0M462.0 558.5h0M464.5 558.7h0M466.8 558.0h0M462.7 560.0h0M464.2 560.6h0M458.9 563.5h0M462.7 562.5h0M472.8 562.3h0M474.3 563.0h0M451.4 566.1h0M464.8 565.7h0M475.0 565.2h0M460.3 568.6h0M469.0 568.3h0M450.0 570.5h0M452.1 569.8h0M464.5 571.2h0M469.5 570.0h0M472.3 570.8h0M454.1 572.8h0M457.0 573.1h0M460.0 573.4h0M467.3 573.7h0M454.2 575.6h0M463.9 575.8h0M466.7 574.8h0M469.9 576.0h0M454.3 577.8h0M464.0 577.4h0M467.6 578.2h0M456.9 579.7h0M476.6 579.2h0M486.1 582.1h0M486.4 584.0h0M488.8 585.2h0M480.9 587.0h0M478.7 596.4h0M488.3 597.4h0M481.7 599.8h0" stroke="#919397" stroke-width="4.6" stroke-linecap="round"/>
<path d="M458.5 518.2h0M473.9 533.8h0M458.0 535.7h0M461.0 536.5h0M467.7 536.6h0M472.9 535.1h0M475.8 535.0h0M452.2 547.9h0M452.7 551.2h0M455.2 550.9h0M457.7 551.2h0M447.7 555.9h0M450.2 557.8h0M449.7 562.6h0M452.0 563.1h0M455.3 562.9h0M461.9 565.0h0M462.5 569.9h0M471.7 574.9h0M452.3 580.7h0M479.4 574.1h0M473.6 576.5h0M479.5 579.9h0M484.4 580.0h0M486.7 580.0h0M482.2 582.2h0M484.2 581.4h0M481.3 584.1h0M484.0 583.9h0M486.1 586.7h0M491.2 587.0h0M486.4 591.4h0M478.8 599.4h0" stroke="#996b6c" stroke-width="4.6" stroke-linecap="round"/>
<path d="M463.1 527.6h0M465.5 530.2h0M450.4 574.8h0M474.5 584.3h0M475.7 584.8h0" stroke="#667791" stroke-width="4.6" stroke-linecap="round"/>
<path d="M463.4 540.6h0M466.0 541.3h0M463.7 542.9h0M457.5 548.1h0M464.1 548.3h0M459.3 550.1h0M481.7 579.0h0M489.2 590.3h0M488.3 591.4h0" stroke="#9e9d9d" stroke-width="4.6" stroke-linecap="round"/>
<path d="M439.7 528.4h0M439.3 531.0h0M441.7 529.6h0M443.4 529.9h0M439.2 532.2h0M441.1 532.9h0M449.5 539.7h0" stroke="#906a66" stroke-width="3.8" stroke-linecap="round"/>
<path d="M436.6 530.0h0M448.4 529.5h0M449.1 533.3h0M434.2 535.6h0M441.8 535.0h0M443.5 535.5h0M448.4 534.5h0M441.6 537.8h0M443.7 537.8h0M440.7 540.4h0M447.1 540.3h0M436.4 543.4h0" stroke="#844d49" stroke-width="3.8" stroke-linecap="round"/>
<path d="M445.8 529.9h0M437.1 532.9h0M444.2 532.8h0M445.8 532.8h0M436.1 535.8h0M439.0 534.9h0M445.7 534.8h0M452.0 535.5h0M436.6 537.2h0M445.9 538.5h0M439.7 540.9h0M444.5 539.5h0M438.7 543.1h0M441.5 543.6h0M443.2 542.8h0M445.7 542.3h0" stroke="#844d49" stroke-width="4.6" stroke-linecap="round"/>
<path d="M438.3 537.9h0M436.6 540.5h0" stroke="#743231" stroke-width="3.8" stroke-linecap="round"/>
<path d="M449.3 537.1h0" stroke="#906a66" stroke-width="4.6" stroke-linecap="round"/>
<path d="M441.2 545.3h0M436.1 547.6h0M441.2 546.8h0M436.6 549.2h0M438.7 549.1h0M441.3 549.5h0M443.3 549.9h0M428.5 551.7h0M433.7 552.1h0M444.1 551.6h0M431.6 556.8h0M431.3 560.2h0M436.5 559.6h0M438.2 559.3h0M441.3 560.4h0M439.2 561.8h0M441.0 561.9h0" stroke="#1d3e6e" stroke-width="3.8" stroke-linecap="round"/>
<path d="M431.8 547.4h0M431.3 549.3h0M436.7 551.7h0M436.2 554.1h0M442.2 554.8h0M444.2 560.2h0" stroke="#143463" stroke-width="3.8" stroke-linecap="round"/>
<path d="M434.3 547.0h0M429.0 550.0h0M434.6 549.4h0M439.0 552.4h0M440.7 551.9h0M438.5 554.8h0M436.0 556.6h0M438.6 557.0h0M444.2 556.4h0" stroke="#143463" stroke-width="4.6" stroke-linecap="round"/>
<path d="M438.3 547.4h0M444.3 547.4h0M430.8 552.0h0M429.3 554.2h0M431.0 554.5h0M433.3 555.1h0M444.2 554.3h0M429.5 557.0h0M433.2 557.0h0M442.1 557.9h0M429.5 559.6h0M434.7 560.1h0M429.2 561.5h0M430.8 562.0h0M433.2 562.1h0M435.8 561.9h0M434.2 564.8h0" stroke="#1d3e6e" stroke-width="4.6" stroke-linecap="round"/>
<path d="M459.5 548.5h0M461.4 547.8h0M462.8 550.5h0M479.7 577.2h0M481.2 576.7h0M485.9 589.4h0" stroke="#9e9d9d" stroke-width="3.8" stroke-linecap="round"/>
<path d="M472.6 558.5h0M474.4 582.8h0M475.9 590.3h0M478.9 589.6h0" stroke="#667791" stroke-width="3.8" stroke-linecap="round"/>
<path d="M452.0 561.0h0M469.2 561.1h0M467.2 562.8h0M469.8 563.0h0" stroke="#88161b" stroke-width="4.6" stroke-linecap="round"/>
<path d="M467.8 560.8h0M467.7 565.4h0M469.9 565.1h0M472.4 565.4h0M472.2 567.5h0" stroke="#88161b" stroke-width="3.8" stroke-linecap="round"/>
<path d="M461.2 521.5h0M456.6 526.2h0M458.6 526.0h0M440.5 528.3h0M455.5 528.6h0M464.0 527.7h0M445.6 542.8h0M477.9 545.9h0M470.7 548.0h0M473.6 549.0h0M475.4 548.5h0M478.3 548.5h0M481.9 548.9h0M484.3 548.7h0M486.3 548.0h0M470.5 550.2h0M476.2 551.4h0M471.7 553.0h0M475.8 553.9h0M456.5 555.2h0M470.5 556.0h0M473.1 556.5h0M453.7 558.3h0M473.8 558.6h0M463.5 560.3h0M475.9 560.6h0M466.3 563.7h0M476.5 563.4h0M465.9 566.1h0M468.8 566.4h0M473.0 566.1h0M445.5 569.0h0M423.6 570.3h0M428.9 573.3h0M446.0 573.5h0M420.8 575.7h0M423.3 576.2h0M426.2 575.6h0M428.2 575.5h0M470.9 576.6h0M471.1 581.2h0M473.7 584.0h0M475.9 582.8h0M471.0 585.4h0M473.8 585.7h0M426.9 588.6h0M428.1 588.5h0M450.8 588.5h0M436.0 591.1h0M455.4 591.3h0M470.4 590.7h0M435.8 593.2h0M430.9 596.6h0M429.1 597.8h0M430.5 598.9h0M434.0 601.6h0M436.7 601.1h0M433.7 606.2h0M438.3 605.6h0M433.7 608.0h0M438.1 608.0h0M443.1 607.8h0M418.0 611.0h0M421.0 613.0h0M423.8 616.4h0M436.9 618.3h0M422.9 621.5h0M456.7 621.5h0M458.9 621.2h0M423.4 623.7h0M456.6 623.2h0M421.2 626.6h0M423.8 625.2h0M443.9 626.1h0M451.4 625.1h0M469.3 625.3h0M421.4 628.5h0M443.9 628.2h0M445.7 629.1h0M448.3 627.9h0M451.6 628.4h0M468.5 628.0h0M443.5 630.7h0M448.7 631.6h0M461.9 633.7h0M431.7 635.9h0M433.2 636.6h0M458.4 636.3h0M465.6 636.6h0M426.5 637.9h0M430.9 638.5h0M458.3 637.7h0M428.0 640.3h0M431.8 641.6h0M436.5 640.2h0M456.4 643.4h0M458.6 642.8h0M448.3 646.5h0M456.9 645.4h0M448.6 649.0h0M438.8 651.0h0M443.2 651.2h0M448.9 651.5h0M438.1 653.2h0M439.4 655.6h0" stroke="#ececec" stroke-width="3.0" stroke-linecap="round"/>
<path d="M458.9 523.5h0M460.9 523.5h0M461.4 525.7h0M463.1 525.5h0M466.4 525.8h0M469.3 526.0h0M453.8 527.9h0M458.6 529.0h0M460.8 528.2h0M466.3 527.9h0M464.0 530.7h0M444.1 541.1h0M441.5 544.0h0M444.0 542.7h0M473.1 551.2h0M483.5 550.4h0M454.6 554.3h0M453.5 556.2h0M475.8 555.7h0M466.4 559.3h0M469.5 558.1h0M476.7 559.1h0M465.7 560.6h0M474.5 560.4h0M463.9 563.8h0M471.1 566.3h0M475.7 565.6h0M425.6 569.2h0M470.9 569.2h0M420.6 571.6h0M443.9 571.0h0M445.6 570.9h0M444.1 573.3h0M458.0 573.9h0M444.4 575.3h0M476.7 581.2h0M471.0 583.1h0M478.3 582.8h0M478.3 585.9h0M430.5 588.1h0M435.9 588.0h0M453.2 588.4h0M455.8 588.4h0M471.3 589.3h0M434.3 590.5h0M454.5 591.0h0M458.2 591.6h0M473.3 591.8h0M480.9 591.2h0M425.8 593.8h0M434.4 593.2h0M458.9 593.5h0M425.7 595.4h0M428.1 596.5h0M434.1 595.3h0M433.0 598.5h0M434.2 603.3h0M436.6 604.0h0M436.4 606.3h0M440.7 606.2h0M437.0 608.5h0M441.9 608.2h0M415.9 611.1h0M434.0 611.5h0M442.0 610.4h0M413.3 613.2h0M431.9 614.1h0M434.1 612.9h0M440.5 613.6h0M433.4 615.3h0M433.2 618.5h0M454.0 623.5h0M470.5 623.9h0M448.4 625.7h0M471.0 625.6h0M419.5 628.7h0M446.1 631.4h0M451.3 630.4h0M464.0 634.1h0M436.0 636.3h0M460.6 636.2h0M464.3 635.7h0M424.0 637.9h0M429.6 638.3h0M436.7 637.9h0M438.3 638.8h0M466.9 638.2h0M426.8 640.5h0M454.0 643.5h0M441.9 650.8h0M443.0 653.8h0M445.8 653.4h0M449.0 653.2h0M440.6 655.2h0" stroke="#ececec" stroke-width="2.4" stroke-linecap="round"/>
<path d="M438.0 528.6h0M436.9 530.3h0M455.9 539.3h0M471.0 543.6h0M475.7 545.4h0M446.9 549.3h0M449.0 548.7h0M430.8 555.8h0M480.7 557.8h0M481.9 560.4h0M483.3 561.6h0M473.8 563.2h0M459.4 565.4h0M461.7 565.6h0M488.9 565.5h0M469.4 567.8h0M435.7 571.7h0M486.6 573.2h0M474.2 579.0h0M421.4 589.1h0M466.7 589.1h0M438.3 590.7h0M438.2 593.3h0M421.7 596.5h0M424.3 596.1h0M451.6 596.6h0M454.2 595.2h0M441.0 599.1h0M443.2 598.2h0M446.5 599.3h0M430.6 600.7h0M445.9 600.9h0M429.2 604.1h0M445.8 605.3h0M453.6 605.8h0M469.5 606.4h0M420.8 608.3h0M459.3 613.3h0M461.7 613.0h0M415.6 618.2h0M449.1 618.4h0M438.3 622.9h0M445.6 623.6h0M446.4 626.8h0M465.6 626.7h0M429.0 628.2h0M430.6 630.3h0M433.6 630.5h0M431.6 633.4h0M449.4 638.0h0M451.9 639.3h0M434.2 645.7h0M438.4 649.0h0M453.6 648.4h0M450.7 650.8h0" stroke="#d3262d" stroke-width="2.4" stroke-linecap="round"/>
<path d="M447.0 528.1h0M448.0 528.3h0M469.4 531.6h0M434.5 533.3h0M436.3 534.3h0M446.1 533.2h0M469.2 533.2h0M471.2 533.2h0M476.1 533.5h0M451.1 535.7h0M476.1 536.0h0M441.2 538.4h0M459.1 538.6h0M465.9 538.8h0M469.3 537.9h0M438.4 541.5h0M468.2 541.5h0M458.8 543.4h0M466.4 543.1h0M465.7 545.6h0M433.5 547.8h0M438.0 549.2h0M454.5 548.3h0M459.4 547.8h0M460.9 548.1h0M463.8 548.4h0M439.5 550.6h0M441.3 551.6h0M459.0 551.1h0M461.8 551.6h0M464.1 551.6h0M445.8 553.9h0M436.2 557.7h0M441.6 558.5h0M445.6 561.5h0M485.8 568.1h0M478.9 571.1h0M485.9 571.2h0M488.1 570.6h0M490.9 571.1h0M436.0 573.3h0M481.1 573.3h0M484.2 573.4h0M479.5 575.6h0M483.3 579.2h0M464.5 580.4h0M465.5 581.4h0M417.0 583.4h0M418.3 583.7h0M426.6 583.9h0M446.2 583.6h0M461.7 583.4h0M483.6 582.8h0M416.6 585.5h0M446.8 586.1h0M486.1 585.5h0M488.4 585.7h0M416.5 588.6h0M485.9 589.3h0M488.3 589.0h0M416.0 590.5h0M488.4 591.8h0M416.5 593.7h0M418.0 592.9h0M474.0 596.7h0M469.3 599.2h0M452.0 601.5h0M456.3 600.3h0M413.5 604.0h0M426.0 603.9h0M454.1 602.9h0M461.7 603.0h0M464.0 603.3h0M414.5 606.6h0M426.2 605.6h0M461.3 605.5h0M465.5 605.2h0M471.3 606.2h0M413.6 608.7h0M426.8 608.9h0M461.7 608.2h0M463.6 607.8h0M423.3 611.5h0M449.3 610.8h0M451.2 613.4h0M466.2 613.7h0M468.1 612.9h0M471.7 612.8h0M473.0 613.3h0M448.2 615.9h0M455.8 616.6h0M469.3 618.0h0M471.2 618.4h0M473.2 618.3h0M441.3 621.7h0M431.8 622.9h0M429.1 625.9h0M433.9 626.7h0M435.5 626.0h0M436.8 630.5h0M438.1 631.5h0M453.2 639.2h0M440.7 643.8h0M441.0 645.8h0" stroke="#4677bd" stroke-width="2.4" stroke-linecap="round"/>
<path d="M452.1 528.6h0M468.4 528.9h0M453.6 531.3h0M460.6 530.8h0M481.1 541.8h0M481.2 544.0h0M440.5 546.3h0M482.0 546.4h0M443.1 548.2h0M479.5 550.5h0M451.7 552.9h0M468.2 553.6h0M478.8 553.2h0M480.5 553.7h0M483.0 553.6h0M425.6 555.4h0M451.0 555.5h0M458.2 555.6h0M478.2 556.1h0M456.9 558.9h0M479.1 557.9h0M486.0 558.6h0M461.2 560.6h0M479.4 560.6h0M485.9 560.7h0M435.9 563.0h0M439.3 564.2h0M479.4 563.9h0M481.4 562.9h0M434.0 566.6h0M423.1 569.0h0M428.6 568.8h0M431.7 569.0h0M443.7 568.2h0M459.2 569.0h0M463.9 569.0h0M476.3 567.9h0M455.5 571.0h0M459.5 570.3h0M463.9 570.9h0M465.8 571.0h0M468.9 571.5h0M471.0 571.2h0M451.1 573.0h0M453.2 573.1h0M468.8 574.1h0M431.1 576.7h0M451.9 575.4h0M456.6 576.3h0M458.7 576.4h0M469.5 575.8h0M489.6 576.7h0M488.6 579.3h0M478.3 580.4h0M436.4 584.0h0M454.3 583.7h0M456.3 585.7h0M449.3 588.3h0M459.5 589.3h0M463.5 587.7h0M481.4 588.7h0M423.9 591.4h0M448.0 591.7h0M463.7 590.3h0M441.7 594.0h0M446.8 594.2h0M456.4 593.7h0M462.0 592.8h0M468.0 593.9h0M484.0 593.8h0M438.7 596.2h0M441.5 596.2h0M458.6 596.2h0M438.4 598.6h0M461.6 598.2h0M466.5 597.8h0M441.1 603.6h0M430.9 605.7h0M445.7 608.3h0M430.7 611.5h0M445.9 611.5h0M431.0 615.7h0M430.9 618.0h0M439.2 618.8h0M458.7 618.0h0M463.3 618.3h0M426.2 620.5h0M434.4 620.8h0M435.8 620.3h0M463.2 621.6h0M425.6 623.2h0M448.1 623.2h0M451.6 623.0h0M461.3 623.9h0M466.1 623.9h0M441.5 625.8h0M456.4 625.3h0M423.8 628.6h0M441.2 629.0h0M419.0 631.2h0M421.8 631.2h0M466.6 630.6h0M468.2 631.1h0M443.2 632.9h0M449.6 633.5h0M471.6 633.8h0M428.4 636.2h0M468.4 636.4h0M438.3 640.9h0M458.3 641.3h0M445.7 650.5h0" stroke="#aec3e4" stroke-width="2.4" stroke-linecap="round"/>
<path d="M470.9 528.6h0M444.4 531.0h0M443.9 533.3h0M456.4 534.1h0M458.8 533.7h0M478.6 534.2h0M445.6 536.3h0M448.1 538.4h0M473.0 538.6h0M449.0 541.3h0M471.9 540.5h0M476.4 540.3h0M438.2 542.9h0M436.5 546.6h0M438.3 546.1h0M449.4 545.3h0M468.3 546.7h0M451.6 549.2h0M466.6 548.9h0M434.4 551.5h0M454.4 550.7h0M430.9 552.8h0M434.5 553.4h0M448.3 553.5h0M459.2 553.4h0M461.9 553.9h0M485.8 556.3h0M449.1 559.0h0M431.7 560.4h0M435.9 561.2h0M423.5 563.3h0M428.1 563.1h0M431.2 563.6h0M444.3 564.3h0M448.4 562.8h0M485.9 563.5h0M421.8 566.6h0M423.8 566.3h0M428.6 565.8h0M441.0 566.2h0M448.8 566.3h0M453.9 565.3h0M480.7 565.4h0M483.4 565.2h0M433.4 569.0h0M438.3 568.2h0M451.4 567.9h0M461.4 567.7h0M479.4 569.0h0M433.2 573.5h0M439.5 572.8h0M460.7 576.8h0M466.5 576.7h0M486.0 576.0h0M423.7 577.9h0M429.4 579.1h0M430.9 579.2h0M448.0 578.4h0M451.3 578.0h0M453.2 577.8h0M456.7 579.1h0M458.2 578.7h0M486.9 578.1h0M445.5 580.3h0M451.0 581.0h0M453.9 580.6h0M468.6 580.4h0M488.4 580.9h0M451.2 582.7h0M456.6 584.1h0M458.1 584.3h0M465.6 584.1h0M414.0 585.4h0M426.7 585.9h0M448.0 586.6h0M460.8 586.6h0M483.6 586.5h0M413.8 588.6h0M443.5 588.6h0M446.0 589.0h0M413.2 591.0h0M421.8 591.3h0M444.0 590.3h0M483.6 590.3h0M485.5 591.7h0M449.1 594.2h0M486.3 593.1h0M489.1 593.1h0M418.2 596.3h0M448.2 596.2h0M476.6 595.5h0M416.0 600.3h0M418.5 600.3h0M421.9 601.8h0M425.7 600.3h0M449.2 600.9h0M460.6 600.8h0M463.9 601.1h0M465.7 600.8h0M418.7 603.1h0M443.5 603.0h0M419.0 605.5h0M416.2 608.1h0M426.9 611.6h0M428.6 611.0h0M468.7 611.8h0M426.7 612.7h0M429.2 614.0h0M443.4 616.0h0M446.6 615.8h0M463.7 615.7h0M442.0 619.3h0M443.9 619.2h0M450.9 618.6h0M465.7 618.7h0M431.7 621.1h0M439.4 621.4h0M444.0 621.4h0M465.8 621.1h0M464.3 623.8h0M438.6 626.2h0M463.9 625.9h0M459.3 629.3h0M460.7 628.0h0M463.5 628.5h0M425.6 630.7h0M428.7 633.5h0M440.7 636.4h0M445.9 635.7h0M448.0 635.7h0M440.6 638.4h0M445.5 638.5h0M456.7 638.7h0M446.9 641.6h0M453.9 641.1h0M456.2 640.3h0M439.3 642.9h0M443.7 645.9h0M441.6 647.8h0" stroke="#7b9fd3" stroke-width="2.4" stroke-linecap="round"/>
<path d="M439.3 531.5h0M448.0 532.9h0M466.8 533.8h0M463.1 536.1h0M461.4 539.1h0M463.5 539.1h0M459.0 541.2h0M475.9 543.8h0M479.3 543.7h0M470.9 546.1h0M473.0 545.6h0M445.6 551.0h0M480.5 556.4h0M433.0 558.4h0M439.0 560.7h0M440.5 561.0h0M451.2 560.6h0M458.5 564.0h0M471.6 563.3h0M484.4 568.2h0M448.2 571.2h0M451.1 570.9h0M448.8 572.9h0M456.2 573.8h0M438.2 576.1h0M438.4 578.3h0M469.1 578.2h0M471.5 577.7h0M431.0 581.5h0M439.0 580.7h0M441.2 583.1h0M443.9 583.6h0M441.8 585.4h0M443.5 586.0h0M453.8 586.4h0M466.9 585.1h0M434.3 588.8h0M441.0 588.1h0M475.8 589.1h0M476.8 591.2h0M451.0 593.4h0M453.6 593.5h0M466.6 593.9h0M474.4 592.9h0M413.1 595.2h0M465.9 595.7h0M428.5 601.1h0M443.2 601.3h0M431.1 603.5h0M446.9 603.2h0M448.7 603.3h0M455.7 604.0h0M456.2 606.5h0M431.4 607.6h0M444.3 612.9h0M418.7 618.2h0M415.8 620.5h0M416.7 624.0h0M417.9 623.8h0M419.2 626.6h0M458.4 626.2h0M433.9 634.0h0M423.0 635.7h0M451.1 641.2h0M435.6 645.8h0M438.9 645.8h0M436.0 648.6h0M451.6 649.1h0" stroke="#d3262d" stroke-width="3.0" stroke-linecap="round"/>
<path d="M440.9 531.5h0M451.5 530.3h0M455.6 530.7h0M458.8 531.7h0M466.6 531.2h0M461.8 532.7h0M446.6 541.6h0M473.6 543.7h0M483.6 544.0h0M483.4 545.9h0M469.1 548.3h0M449.3 551.6h0M469.4 550.9h0M481.4 551.1h0M428.1 553.7h0M456.9 553.2h0M485.8 553.7h0M429.1 556.3h0M466.9 556.5h0M468.0 556.0h0M424.2 558.8h0M426.5 557.6h0M428.2 558.6h0M451.3 558.0h0M458.0 558.8h0M460.7 558.2h0M463.7 557.7h0M483.8 558.7h0M423.1 560.2h0M426.3 561.3h0M429.2 561.2h0M453.4 560.2h0M455.9 560.7h0M459.0 561.0h0M433.9 563.9h0M461.7 563.3h0M436.5 566.5h0M463.7 566.4h0M477.9 566.2h0M448.6 567.7h0M465.4 569.1h0M473.7 568.6h0M431.3 571.5h0M453.6 571.5h0M460.7 570.3h0M473.4 570.4h0M431.3 573.1h0M461.7 573.4h0M464.1 572.7h0M465.9 574.1h0M471.2 573.1h0M441.2 576.6h0M446.7 575.8h0M448.9 576.1h0M474.2 575.9h0M434.2 577.7h0M435.8 578.0h0M440.4 577.6h0M443.1 578.7h0M476.4 579.0h0M433.7 581.4h0M435.7 581.5h0M431.4 583.0h0M433.7 583.0h0M438.2 584.1h0M468.0 584.1h0M429.2 586.3h0M430.5 585.9h0M432.9 586.2h0M436.6 585.1h0M439.4 585.2h0M450.4 586.5h0M463.6 586.6h0M468.3 585.1h0M481.4 586.1h0M438.1 588.0h0M461.0 588.6h0M469.3 588.4h0M446.4 591.3h0M451.2 590.3h0M460.4 590.6h0M466.0 591.3h0M469.2 591.2h0M411.3 593.5h0M423.8 593.1h0M444.1 593.9h0M463.3 592.8h0M470.6 593.1h0M475.7 593.5h0M478.7 593.9h0M481.8 592.7h0M436.6 596.5h0M444.3 595.7h0M446.8 595.3h0M460.6 596.6h0M463.6 595.1h0M468.5 595.3h0M480.6 596.4h0M482.9 596.3h0M486.0 596.6h0M416.9 597.8h0M419.0 598.6h0M426.5 598.5h0M436.8 598.8h0M459.3 597.6h0M463.5 598.2h0M481.3 597.8h0M482.9 598.2h0M438.0 601.5h0M441.1 601.1h0M439.4 603.1h0M470.5 608.3h0M444.4 610.2h0M424.3 614.0h0M426.6 616.6h0M440.4 616.4h0M425.4 617.7h0M455.8 618.4h0M461.7 617.7h0M449.2 621.3h0M450.8 621.6h0M452.9 620.3h0M461.5 621.6h0M444.4 624.0h0M458.2 623.7h0M468.5 623.8h0M453.9 626.6h0M453.1 628.4h0M466.8 627.7h0M423.5 631.2h0M441.0 630.6h0M453.2 631.0h0M456.6 630.8h0M464.4 631.3h0M423.7 633.5h0M426.8 633.9h0M445.4 632.8h0M450.5 633.6h0M454.3 634.2h0M455.9 632.8h0M458.0 632.7h0M466.0 632.7h0M469.2 633.1h0M425.4 636.1h0M456.0 636.4h0M433.6 644.1h0M449.2 642.9h0M451.5 643.1h0M446.6 645.5h0M443.0 649.2h0M445.9 647.9h0M436.7 651.0h0" stroke="#aec3e4" stroke-width="3.0" stroke-linecap="round"/>
<path d="M446.8 530.3h0M471.1 530.9h0M450.4 534.1h0M473.7 532.7h0M441.3 536.1h0M443.2 536.4h0M448.0 535.6h0M456.2 535.9h0M466.3 536.4h0M467.8 536.0h0M471.0 535.7h0M473.3 535.8h0M477.9 536.1h0M475.7 538.7h0M477.9 538.0h0M461.8 541.7h0M436.7 544.1h0M451.2 544.2h0M460.9 542.9h0M468.7 544.0h0M433.6 545.8h0M450.8 545.4h0M461.9 546.2h0M463.1 545.7h0M430.9 548.0h0M436.4 551.1h0M435.9 552.9h0M444.3 552.9h0M464.4 553.4h0M436.1 555.5h0M448.3 556.4h0M443.7 560.9h0M486.4 565.6h0M481.3 567.8h0M488.9 568.2h0M481.3 571.4h0M483.9 571.2h0M478.3 572.9h0M464.0 576.0h0M481.9 575.8h0M482.9 576.0h0M421.6 578.5h0M463.3 579.0h0M480.9 578.9h0M413.0 580.6h0M415.9 581.0h0M419.0 580.1h0M428.5 581.3h0M448.6 581.6h0M461.0 581.4h0M484.0 581.3h0M486.0 581.4h0M486.7 582.7h0M488.2 583.0h0M419.0 590.5h0M409.1 597.9h0M411.3 598.4h0M451.6 598.2h0M453.3 597.8h0M456.5 599.2h0M479.2 597.9h0M413.1 600.3h0M453.3 600.4h0M468.9 601.3h0M478.2 600.6h0M424.0 604.0h0M451.0 602.8h0M459.4 604.2h0M465.8 603.7h0M469.1 602.8h0M421.5 606.5h0M423.9 605.9h0M450.7 605.5h0M463.7 606.1h0M422.9 607.6h0M448.9 608.9h0M450.6 608.1h0M461.0 610.7h0M463.1 611.4h0M448.4 612.7h0M451.4 615.2h0M453.3 615.3h0M458.6 615.8h0M472.9 615.7h0M428.6 623.4h0M434.1 623.3h0M435.5 623.6h0M436.2 629.1h0M438.0 629.1h0" stroke="#4677bd" stroke-width="3.0" stroke-linecap="round"/>
<path d="M448.5 530.4h0M440.6 532.9h0M453.5 533.2h0M459.3 536.4h0M460.9 535.1h0M443.7 538.5h0M446.6 538.6h0M470.8 538.6h0M440.9 541.4h0M474.0 540.1h0M478.9 540.8h0M449.2 543.1h0M436.7 548.7h0M440.4 548.5h0M426.4 551.6h0M427.9 551.5h0M431.4 551.0h0M444.1 551.1h0M451.0 551.0h0M455.9 550.8h0M466.3 550.7h0M426.8 552.8h0M466.2 553.9h0M434.1 556.5h0M461.1 555.2h0M463.8 556.1h0M483.2 555.4h0M438.4 559.0h0M434.3 561.2h0M421.7 562.9h0M425.5 563.4h0M440.8 563.4h0M445.4 564.1h0M450.6 563.7h0M453.6 563.0h0M455.9 563.6h0M483.5 563.5h0M425.7 565.4h0M430.5 565.3h0M437.9 566.5h0M444.1 565.5h0M445.7 565.8h0M451.6 565.8h0M455.5 565.9h0M436.5 567.8h0M440.8 568.6h0M454.2 568.1h0M455.4 568.1h0M433.9 570.7h0M438.3 571.0h0M440.4 570.8h0M440.5 572.7h0M474.4 572.6h0M488.5 574.0h0M490.4 573.2h0M418.6 575.9h0M434.3 576.4h0M436.1 576.2h0M454.1 576.7h0M475.7 576.3h0M419.4 577.9h0M426.6 578.7h0M446.2 578.3h0M460.7 578.1h0M478.7 578.0h0M441.8 580.3h0M444.1 581.1h0M455.5 580.1h0M459.0 581.4h0M480.8 581.4h0M413.7 583.8h0M428.9 583.1h0M448.9 584.0h0M463.3 583.4h0M481.6 582.6h0M459.2 585.2h0M423.5 588.6h0M483.2 588.4h0M413.9 593.2h0M409.3 595.3h0M410.6 596.3h0M415.8 595.9h0M456.8 596.0h0M471.6 595.6h0M478.9 595.7h0M414.1 598.7h0M421.7 597.9h0M424.4 599.1h0M447.9 597.6h0M423.9 600.5h0M481.6 601.0h0M416.6 604.0h0M421.1 603.3h0M416.7 605.5h0M428.0 606.3h0M449.3 606.6h0M418.9 609.1h0M428.0 607.8h0M466.9 608.3h0M467.9 608.7h0M413.6 610.8h0M420.7 610.6h0M466.6 611.2h0M471.0 610.8h0M446.0 613.3h0M463.2 614.1h0M429.4 616.3h0M461.0 616.2h0M465.5 615.9h0M427.9 617.9h0M446.7 618.0h0M453.9 618.8h0M428.8 620.2h0M446.1 621.4h0M468.8 621.1h0M471.5 620.5h0M441.5 623.5h0M460.6 626.0h0M455.7 627.8h0M428.1 630.4h0M458.7 630.4h0M460.9 630.6h0M418.0 633.6h0M435.6 633.0h0M438.7 633.1h0M441.1 633.5h0M439.2 636.0h0M443.3 636.2h0M451.5 636.1h0M453.4 635.3h0M444.3 638.3h0M441.2 640.5h0M443.1 641.4h0M448.1 641.3h0M436.3 643.6h0M443.6 643.4h0M446.2 643.9h0M434.1 647.6h0" stroke="#7b9fd3" stroke-width="3.0" stroke-linecap="round"/>
<path d="M473.2 530.4h0M438.5 534.2h0M464.4 533.4h0M439.3 554.0h0M476.2 570.7h0M475.5 573.5h0M466.4 577.9h0M421.7 586.2h0M458.5 601.7h0M418.5 615.4h0M426.3 628.7h0M431.4 629.1h0M421.2 634.2h0M460.9 640.8h0" stroke="#e8999b" stroke-width="2.4" stroke-linecap="round"/>
<path d="M434.2 536.6h0M435.5 535.9h0M438.0 536.0h0M453.5 535.7h0M439.1 538.1h0M450.8 540.8h0M453.3 541.5h0M431.3 542.8h0M434.3 544.0h0M455.8 543.4h0M431.6 546.4h0M454.3 545.7h0M428.9 547.9h0M445.6 556.4h0M443.1 558.5h0M421.0 581.0h0M424.1 581.0h0M423.5 585.9h0M419.3 588.9h0M491.4 590.5h0M475.5 598.4h0M471.7 601.5h0M476.4 601.4h0M471.9 602.8h0M458.4 606.3h0M453.9 608.6h0M456.6 608.0h0M458.2 607.9h0M451.2 610.4h0M454.0 611.1h0M456.5 610.7h0M459.1 610.3h0M468.9 616.5h0" stroke="#2f5fa6" stroke-width="2.4" stroke-linecap="round"/>
<path d="M433.2 538.1h0M451.4 538.8h0M452.9 539.0h0M433.9 541.3h0M436.8 540.2h0M456.6 540.9h0M464.1 541.2h0M466.0 541.3h0M454.4 542.7h0M463.9 544.1h0M429.0 546.4h0M456.9 546.0h0M459.3 545.2h0M455.7 547.8h0M440.4 552.7h0M437.9 555.1h0M441.2 555.6h0M443.6 556.2h0M445.7 557.7h0M425.5 581.1h0M421.8 583.6h0M424.3 583.5h0M418.0 586.2h0M471.5 598.8h0M473.2 598.4h0M473.1 600.4h0M411.7 603.5h0M453.5 613.4h0M456.7 614.0h0M471.8 616.1h0M433.6 627.9h0" stroke="#2f5fa6" stroke-width="3.0" stroke-linecap="round"/>
<path d="M436.0 538.5h0M473.5 553.4h0M430.4 557.7h0M448.7 561.6h0M474.2 580.9h0M440.4 590.6h0M421.4 593.1h0M443.4 605.9h0M425.6 626.2h0M430.8 626.4h0" stroke="#e8999b" stroke-width="3.0" stroke-linecap="round"/>
<path d="M443.9 545.1h0M446.1 545.9h0M471.9 557.7h0M468.3 561.4h0M471.7 561.2h0M468.5 562.9h0M421.3 573.8h0M478.4 588.6h0M428.2 590.3h0M431.6 590.6h0M477.9 591.0h0M430.7 592.6h0M436.1 610.4h0M437.9 610.3h0M416.8 613.7h0M435.8 612.6h0M416.3 615.2h0M420.7 615.3h0M438.2 615.4h0M421.8 618.3h0M421.3 620.8h0M421.4 622.8h0M460.8 638.7h0M441.4 653.6h0" stroke="#9ea8b8" stroke-width="3.0" stroke-linecap="round"/>
<path d="M426.2 571.4h0M428.3 571.5h0M477.1 586.3h0M474.3 587.9h0M426.6 591.7h0M428.6 593.6h0M418.7 613.5h0M439.5 613.7h0M413.7 616.6h0M435.6 616.8h0M423.1 619.0h0M418.2 620.6h0M433.7 637.7h0M464.5 639.0h0M433.0 640.9h0M450.7 646.0h0M453.4 645.7h0" stroke="#9ea8b8" stroke-width="2.4" stroke-linecap="round"/>
<path d="M423.1 573.1h0" stroke="#c9d0db" stroke-width="2.4" stroke-linecap="round"/>
<path d="M426.2 572.6h0" stroke="#c9d0db" stroke-width="3.0" stroke-linecap="round"/>
<path d="M404.2 510.7h0M404.5 513.6h0M411.9 512.6h0M407.2 514.7h0M417.9 515.2h0M419.2 515.0h0M422.4 515.3h0M417.4 517.9h0M419.4 517.4h0M422.1 518.5h0M415.3 520.9h0M424.6 520.5h0M415.0 522.7h0M422.5 522.5h0M424.8 523.0h0M417.2 526.2h0M419.2 526.2h0M421.4 526.2h0M425.4 525.9h0M416.7 528.0h0M427.0 527.7h0M407.9 533.0h0M409.4 532.8h0M415.5 532.6h0M413.9 536.2h0M422.0 535.2h0M414.7 537.9h0M424.3 537.7h0M427.0 538.1h0M410.2 539.9h0M417.8 540.8h0M422.6 540.4h0M425.0 541.2h0M425.4 548.3h0M422.7 549.8h0M424.4 550.4h0M421.5 552.5h0M424.3 553.5h0M424.8 554.7h0" stroke="#eeeeee" stroke-width="2.4" stroke-linecap="round"/>
<path d="M408.8 509.9h0M414.2 510.6h0M398.9 513.0h0M406.3 513.1h0M422.5 513.2h0M408.9 514.8h0M424.9 516.1h0M417.0 520.7h0M420.2 520.1h0M417.5 522.7h0M402.6 526.1h0M426.9 525.1h0M409.7 528.3h0M419.8 527.8h0M409.0 530.8h0M412.3 530.4h0M416.7 530.6h0M419.8 530.7h0M427.8 530.2h0M419.0 533.5h0M421.3 532.9h0M407.6 534.9h0M410.3 534.6h0M411.3 535.8h0M424.8 535.7h0M411.6 537.4h0M411.2 540.9h0M419.3 541.1h0M427.5 539.9h0M419.1 542.3h0M421.6 542.5h0M425.0 542.6h0M416.7 550.0h0" stroke="#eeeeee" stroke-width="3.0" stroke-linecap="round"/>
<path d="M411.8 509.8h0M414.0 513.5h0M423.9 513.1h0M398.9 515.8h0M405.1 515.4h0M407.2 517.2h0M412.6 518.4h0M414.5 517.5h0M412.3 522.6h0M405.3 526.0h0M407.4 525.7h0M404.9 527.7h0M407.5 528.7h0M412.1 528.3h0M415.3 530.3h0" stroke="#e89a9c" stroke-width="2.4" stroke-linecap="round"/>
<path d="M417.0 509.6h0M417.5 512.6h0M425.3 517.3h0M422.5 521.1h0M423.8 528.1h0M425.1 530.1h0M417.3 533.2h0M423.9 533.3h0M427.1 535.5h0M410.1 537.3h0M413.9 543.5h0M416.8 543.0h0M426.8 543.1h0M417.3 547.4h0M419.4 548.2h0" stroke="#a9c0e2" stroke-width="3.0" stroke-linecap="round"/>
<path d="M419.8 510.3h0M417.2 534.9h0M419.8 538.3h0M421.5 537.1h0M419.6 545.7h0" stroke="#5a86c4" stroke-width="3.0" stroke-linecap="round"/>
<path d="M421.5 510.9h0M409.1 513.0h0M419.2 513.5h0M420.4 522.6h0M421.8 528.7h0M401.9 530.7h0M422.8 530.9h0M426.5 532.3h0M415.1 541.0h0M422.8 545.4h0M425.2 544.8h0M422.2 548.4h0" stroke="#a9c0e2" stroke-width="2.4" stroke-linecap="round"/>
<path d="M402.3 512.8h0M411.7 514.6h0M414.5 515.5h0M399.4 517.4h0M400.3 520.7h0M405.1 520.9h0M412.0 520.3h0M399.3 522.9h0M401.9 522.6h0M404.6 522.8h0M414.9 527.3h0M404.5 530.2h0M406.4 531.1h0M404.5 532.5h0M411.7 533.2h0" stroke="#e89a9c" stroke-width="3.0" stroke-linecap="round"/>
<path d="M402.7 515.0h0M402.1 518.3h0M404.8 517.3h0M409.0 518.2h0M402.7 520.5h0M407.8 523.7h0M410.4 525.5h0M411.4 524.9h0M414.0 525.7h0" stroke="#c9d4e6" stroke-width="2.4" stroke-linecap="round"/>
<path d="M407.6 520.9h0M409.3 520.4h0M409.5 523.6h0" stroke="#c9d4e6" stroke-width="3.0" stroke-linecap="round"/>
<path d="M419.0 535.9h0M417.7 537.5h0M417.5 545.9h0" stroke="#5a86c4" stroke-width="2.4" stroke-linecap="round"/>
<path d="M464.7 513.1h0M473.2 514.5h0M462.6 517.0h0M465.1 520.0h0M457.3 522.1h0M464.3 522.9h0M468.2 522.5h0M458.3 524.6h0M462.9 524.8h0M474.3 525.0h0M464.4 528.1h0M467.9 527.8h0M472.7 528.0h0M474.9 526.9h0M467.8 529.8h0M478.3 530.2h0M464.5 533.2h0M467.7 532.3h0M479.7 531.9h0M445.9 550.3h0M461.4 553.0h0M470.7 554.4h0M456.0 558.0h0M468.4 557.4h0M457.1 559.5h0M458.2 560.3h0M471.8 559.5h0M466.5 566.7h0M474.3 566.6h0M453.5 569.3h0M450.7 572.0h0M452.1 575.1h0M473.5 578.1h0M480.1 588.8h0M475.8 591.6h0M478.0 591.4h0M481.0 594.3h0M483.9 594.3h0M483.1 596.4h0" stroke="#d84045" stroke-width="3.0" stroke-linecap="round"/>
<path d="M455.4 515.8h0M459.8 514.5h0M466.9 515.1h0M465.9 517.5h0M470.4 518.5h0M469.8 520.3h0M473.1 519.4h0M475.4 519.7h0M477.4 520.0h0M473.3 522.1h0M476.0 522.2h0M465.0 524.4h0M467.9 525.7h0M477.5 525.2h0M480.5 525.9h0M455.8 527.8h0M477.8 527.9h0M480.0 527.1h0M455.8 529.6h0M458.1 529.6h0M460.0 529.6h0M470.5 530.0h0M454.8 532.4h0M456.9 532.3h0M460.9 532.9h0M462.3 532.1h0M465.6 534.9h0M473.2 537.4h0M474.9 537.2h0M477.2 539.8h0M472.7 543.0h0M467.2 545.3h0M468.6 545.0h0M449.6 546.9h0M467.1 546.9h0M453.7 552.8h0M459.0 553.1h0M463.5 552.5h0M465.9 552.0h0M469.2 552.5h0M453.8 558.0h0M454.7 560.6h0M456.2 563.1h0M456.6 564.3h0M458.3 565.2h0M449.4 567.4h0M450.9 566.7h0M454.4 567.5h0M463.4 567.8h0M459.0 570.6h0M467.2 569.2h0M461.0 571.6h0M463.9 572.7h0M468.6 572.1h0M459.1 574.1h0M462.0 575.6h0M450.9 577.7h0M468.7 576.9h0M454.0 579.4h0M483.7 573.4h0M485.9 574.3h0M488.1 573.6h0M477.9 580.8h0M488.6 581.2h0M479.0 584.7h0M491.3 584.3h0M478.8 585.9h0M484.0 591.6h0M478.4 594.1h0M486.2 596.0h0" stroke="#dcdfe6" stroke-width="2.4" stroke-linecap="round"/>
<path d="M456.9 514.7h0M470.9 533.3h0M461.9 535.8h0M470.9 535.2h0M460.6 538.1h0M462.7 537.2h0M464.6 537.6h0M467.9 537.5h0M469.9 538.1h0M468.2 540.3h0M464.6 542.9h0M464.8 549.4h0M467.0 549.3h0M448.9 552.4h0M450.8 552.1h0M456.1 552.7h0M448.6 554.8h0M446.8 557.4h0M446.7 560.5h0M448.5 560.0h0M447.3 564.8h0M449.1 564.2h0M454.4 564.9h0M447.0 567.5h0M461.4 567.3h0M471.8 572.7h0M456.2 574.5h0M455.9 577.1h0M458.6 576.7h0M460.9 578.0h0M458.8 579.9h0M461.9 580.4h0M463.7 579.5h0M480.0 574.3h0M475.6 577.0h0M483.9 576.0h0M485.7 576.6h0M488.9 576.1h0M488.2 579.5h0M482.8 586.0h0M488.9 586.4h0M483.3 588.6h0" stroke="#e8a3a5" stroke-width="2.4" stroke-linecap="round"/>
<path d="M462.3 515.3h0M465.3 514.9h0M474.4 515.1h0M459.6 519.8h0M468.3 520.9h0M460.4 521.9h0M461.9 522.1h0M461.0 524.6h0M472.4 525.2h0M459.7 527.5h0M463.3 530.2h0M479.6 530.5h0M446.9 547.1h0M458.8 555.4h0M461.1 555.1h0M466.0 554.4h0M468.8 555.2h0M459.1 557.0h0M464.2 563.1h0M457.2 568.1h0M457.0 569.2h0M447.0 572.1h0M448.7 571.8h0M475.4 580.7h0M474.1 586.0h0M475.9 586.9h0M473.6 588.9h0M480.5 591.5h0M485.2 593.8h0M481.2 596.1h0" stroke="#d84045" stroke-width="2.4" stroke-linecap="round"/>
<path d="M469.6 514.3h0M454.7 517.3h0M459.8 517.2h0M466.9 517.7h0M471.8 517.9h0M474.9 518.0h0M455.2 519.5h0M457.5 519.7h0M461.9 520.5h0M454.6 521.8h0M470.1 523.3h0M477.0 521.8h0M469.3 525.1h0M456.9 527.1h0M470.3 528.0h0M472.4 530.8h0M475.6 530.5h0M475.6 532.5h0M477.1 531.7h0M478.1 534.8h0M469.7 540.5h0M473.1 540.4h0M475.4 540.0h0M470.5 541.7h0M448.1 550.4h0M446.4 551.7h0M452.2 554.5h0M454.4 554.0h0M456.4 555.3h0M464.0 555.3h0M451.5 557.2h0M461.3 557.8h0M463.8 558.0h0M466.0 557.3h0M461.9 559.3h0M463.4 559.8h0M458.1 562.8h0M462.0 561.7h0M472.0 561.6h0M473.5 562.3h0M450.6 565.3h0M464.0 564.9h0M474.3 564.4h0M459.6 567.8h0M468.3 567.6h0M449.3 569.8h0M451.4 569.1h0M463.7 570.4h0M468.7 569.3h0M471.6 570.1h0M453.3 572.0h0M456.3 572.3h0M459.2 572.7h0M466.6 573.0h0M453.5 574.8h0M463.1 575.0h0M466.0 574.0h0M469.1 575.2h0M453.6 577.0h0M463.3 576.7h0M466.8 577.4h0M456.2 579.0h0M475.8 578.5h0M485.4 581.4h0M485.6 583.3h0M488.1 584.5h0M480.1 586.3h0M478.0 595.7h0M487.5 596.7h0M480.9 599.1h0" stroke="#dcdfe6" stroke-width="3.0" stroke-linecap="round"/>
<path d="M457.7 517.5h0M473.1 533.1h0M457.3 535.0h0M460.3 535.7h0M466.9 535.8h0M472.2 534.4h0M475.0 534.3h0M451.5 547.1h0M452.0 550.5h0M454.4 550.1h0M457.0 550.5h0M447.0 555.1h0M449.4 557.1h0M448.9 561.9h0M451.3 562.3h0M454.6 562.2h0M461.2 564.3h0M461.7 569.2h0M471.0 574.1h0M451.5 579.9h0M478.6 573.4h0M472.8 575.7h0M478.8 579.2h0M483.7 579.2h0M485.9 579.3h0M481.4 581.5h0M483.4 580.6h0M480.5 583.4h0M483.2 583.1h0M485.3 586.0h0M490.5 586.3h0M485.7 590.7h0M478.1 598.7h0" stroke="#e8a3a5" stroke-width="3.0" stroke-linecap="round"/>
<path d="M462.4 526.9h0M464.7 529.4h0M449.6 574.1h0M473.8 583.6h0M474.9 584.1h0" stroke="#9cb5dc" stroke-width="3.0" stroke-linecap="round"/>
<path d="M462.7 539.9h0M465.3 540.6h0M462.9 542.1h0M456.7 547.3h0M463.4 547.5h0M458.6 549.4h0M480.9 578.3h0M488.4 589.6h0M487.6 590.6h0" stroke="#f0eeee" stroke-width="3.0" stroke-linecap="round"/>
<path d="M439.1 527.8h0M438.7 530.3h0M441.1 529.0h0M442.8 529.3h0M438.6 531.5h0M440.5 532.3h0M448.9 539.1h0" stroke="#dba19c" stroke-width="2.4" stroke-linecap="round"/>
<path d="M436.0 529.4h0M447.8 528.9h0M448.5 532.7h0M433.6 535.0h0M441.2 534.4h0M442.9 534.9h0M447.8 533.9h0M441.0 537.1h0M443.1 537.2h0M440.1 539.7h0M446.5 539.7h0M435.8 542.8h0" stroke="#c97570" stroke-width="2.4" stroke-linecap="round"/>
<path d="M445.1 529.1h0M436.4 532.2h0M443.4 532.1h0M445.0 532.0h0M435.4 535.1h0M438.3 534.2h0M445.0 534.1h0M451.3 534.7h0M435.8 536.4h0M445.2 537.8h0M438.9 540.1h0M443.8 538.8h0M438.0 542.4h0M440.7 542.8h0M442.5 542.0h0M445.0 541.6h0" stroke="#c97570" stroke-width="3.0" stroke-linecap="round"/>
<path d="M437.7 537.3h0M436.0 539.9h0" stroke="#b04d4b" stroke-width="2.4" stroke-linecap="round"/>
<path d="M448.6 536.3h0" stroke="#dba19c" stroke-width="3.0" stroke-linecap="round"/>
<path d="M440.6 544.7h0M435.5 547.0h0M440.6 546.2h0M436.0 548.6h0M438.1 548.5h0M440.7 548.9h0M442.7 549.3h0M427.8 551.1h0M433.1 551.5h0M443.5 550.9h0M431.0 556.2h0M430.7 559.6h0M435.9 559.0h0M437.6 558.7h0M440.7 559.8h0M438.6 561.1h0M440.4 561.3h0" stroke="#2c5ea7" stroke-width="2.4" stroke-linecap="round"/>
<path d="M431.2 546.8h0M430.7 548.7h0M436.1 551.1h0M435.6 553.5h0M441.6 554.2h0M443.6 559.6h0" stroke="#1f4f96" stroke-width="2.4" stroke-linecap="round"/>
<path d="M433.6 546.2h0M428.2 549.2h0M433.8 548.6h0M438.3 551.7h0M439.9 551.2h0M437.8 554.0h0M435.3 555.9h0M437.8 556.3h0M443.4 555.7h0" stroke="#1f4f96" stroke-width="3.0" stroke-linecap="round"/>
<path d="M437.5 546.6h0M443.5 546.6h0M430.1 551.3h0M428.6 553.4h0M430.2 553.7h0M432.5 554.4h0M443.5 553.6h0M428.7 556.3h0M432.5 556.3h0M441.4 557.1h0M428.8 558.8h0M434.0 559.4h0M428.5 560.8h0M430.1 561.3h0M432.4 561.4h0M435.1 561.1h0M433.5 564.1h0" stroke="#2c5ea7" stroke-width="3.0" stroke-linecap="round"/>
<path d="M458.9 547.9h0M460.8 547.2h0M462.1 549.9h0M479.1 576.6h0M480.6 576.1h0M485.2 588.8h0" stroke="#f0eeee" stroke-width="2.4" stroke-linecap="round"/>
<path d="M472.0 557.9h0M473.8 582.2h0M475.3 589.7h0M478.3 589.0h0" stroke="#9cb5dc" stroke-width="2.4" stroke-linecap="round"/>
<path d="M451.3 560.2h0M468.5 560.3h0M466.4 562.1h0M469.1 562.2h0" stroke="#cf2229" stroke-width="3.0" stroke-linecap="round"/>
<path d="M467.2 560.1h0M467.1 564.8h0M469.3 564.5h0M471.7 564.8h0M471.6 566.9h0" stroke="#cf2229" stroke-width="2.4" stroke-linecap="round"/>
<path d="M404.0 495.0h0M404.9 496.7h0M415.2 506.2h0M454.1 514.6h0M397.3 543.5h0M382.0 545.6h0M405.3 546.3h0M391.5 550.9h0M397.4 568.9h0M392.2 571.1h0M394.6 571.0h0M397.6 570.2h0M397.5 580.1h0M514.6 559.1h0M503.8 563.4h0" stroke="#687991" stroke-width="4.6" stroke-linecap="round"/>
<path d="M406.2 493.6h0M409.2 494.6h0M409.8 497.2h0M415.0 497.3h0M419.2 497.4h0M404.8 499.2h0M406.4 499.6h0M412.3 499.4h0M414.3 499.1h0M419.1 498.8h0M422.7 500.0h0M406.7 501.6h0M412.4 501.8h0M416.8 502.1h0M419.3 502.1h0M398.9 504.3h0M404.1 504.1h0M408.9 504.7h0M412.5 504.0h0M415.1 504.0h0M418.9 504.3h0M396.4 507.2h0M405.0 507.1h0M406.3 506.6h0M409.3 507.0h0M419.4 506.9h0M421.8 506.2h0M402.1 508.7h0M404.9 510.0h0M409.4 508.6h0M418.8 509.2h0M421.6 509.1h0M422.1 511.2h0M407.4 513.6h0M412.1 513.6h0M421.2 513.9h0M404.3 516.8h0M410.0 516.8h0M458.4 494.1h0M451.0 496.5h0M454.3 496.5h0M455.6 496.9h0M462.1 496.8h0M463.3 496.0h0M481.1 501.8h0M458.9 503.8h0M461.2 503.6h0M480.9 503.8h0M483.0 504.0h0M452.0 506.9h0M456.8 506.2h0M465.6 506.9h0M469.2 506.7h0M476.4 506.7h0M478.9 505.9h0M485.8 506.4h0M451.0 509.9h0M456.6 509.3h0M458.1 508.8h0M468.8 509.9h0M456.0 512.4h0M458.4 512.0h0M461.6 512.0h0M464.3 511.7h0M466.7 512.3h0M473.0 511.0h0M458.8 514.4h0M464.3 513.7h0M465.5 514.4h0M468.7 513.7h0M458.2 517.5h0M476.7 516.7h0M478.3 516.0h0M481.1 516.1h0M484.3 516.5h0M456.5 519.9h0M460.7 518.8h0M463.9 519.3h0M466.4 519.0h0M469.3 519.7h0M473.4 518.4h0M476.9 518.5h0M481.2 520.0h0M456.9 522.5h0M459.4 522.4h0M460.6 521.1h0M465.9 521.9h0M473.4 522.1h0M479.5 521.6h0M461.5 523.9h0M468.3 524.8h0M475.8 524.7h0M468.0 526.0h0M471.6 529.6h0M404.7 530.7h0M400.4 532.4h0M397.5 535.3h0M399.5 535.5h0M402.0 535.1h0M416.4 536.0h0M389.4 538.6h0M394.1 538.6h0M398.9 538.9h0M412.0 538.1h0M389.8 540.6h0M392.9 541.1h0M396.8 540.5h0M405.3 541.4h0M406.6 540.2h0M379.5 543.7h0M385.0 542.7h0M387.5 542.9h0M402.1 542.7h0M407.0 543.4h0M412.1 543.0h0M384.5 545.8h0M389.1 546.3h0M397.7 545.8h0M402.0 546.0h0M407.5 545.5h0M414.6 546.3h0M417.2 546.2h0M419.1 546.0h0M379.5 548.6h0M391.7 547.4h0M394.5 548.9h0M397.4 548.8h0M398.9 547.4h0M419.8 547.5h0M386.4 551.4h0M388.8 550.0h0M397.1 550.9h0M387.8 552.5h0M388.9 552.7h0M394.6 552.6h0M389.1 555.1h0M392.6 556.3h0M394.1 555.9h0M414.1 555.5h0M392.1 558.0h0M404.5 558.4h0M407.5 558.3h0M391.5 561.4h0M402.1 559.9h0M407.5 560.7h0M412.8 560.8h0M392.1 563.2h0M394.6 562.6h0M399.2 563.5h0M401.7 562.9h0M412.7 562.5h0M394.0 565.9h0M389.1 567.5h0M399.8 568.8h0M405.0 567.5h0M414.3 567.7h0M390.1 571.0h0M400.2 571.2h0M403.9 571.3h0M409.1 570.0h0M412.2 570.0h0M416.7 571.3h0M397.7 573.1h0M412.6 572.6h0M414.1 573.4h0M416.7 572.8h0M399.5 575.2h0M396.4 578.7h0M399.6 580.0h0M496.3 539.4h0M498.8 539.7h0M476.4 541.2h0M499.2 541.2h0M479.6 543.7h0M482.4 543.7h0M483.8 544.0h0M487.3 544.0h0M488.5 543.6h0M492.5 544.1h0M499.1 544.4h0M501.4 543.6h0M506.4 544.3h0M479.8 546.3h0M489.0 545.7h0M492.2 547.2h0M501.3 546.1h0M488.6 549.6h0M491.1 549.5h0M498.9 549.3h0M486.2 551.4h0M488.5 551.2h0M494.0 552.2h0M499.3 551.1h0M504.3 550.8h0M506.5 552.1h0M509.0 551.9h0M482.5 554.8h0M485.0 553.9h0M489.6 554.4h0M494.5 553.6h0M499.4 554.3h0M504.5 554.7h0M508.9 553.6h0M483.5 557.2h0M489.2 556.2h0M491.6 556.4h0M499.8 556.5h0M503.5 556.6h0M506.3 557.0h0M509.2 556.5h0M484.5 559.1h0M489.0 558.3h0M497.4 559.3h0M499.3 558.7h0M504.2 559.4h0M509.2 558.4h0M511.8 559.3h0M487.5 562.2h0M488.8 561.9h0M494.8 561.4h0M497.0 561.9h0M502.5 561.2h0M510.1 561.8h0M516.7 560.8h0M492.3 564.2h0M493.7 563.9h0M499.7 564.3h0M508.6 563.8h0M481.8 566.8h0M496.6 566.6h0M499.8 566.7h0M511.8 566.4h0M478.5 568.6h0M498.8 569.8h0M501.6 569.6h0M504.9 568.9h0M508.9 568.8h0M500.0 571.2h0M502.0 572.2h0M489.7 574.5h0M491.6 573.9h0M494.9 575.9h0" stroke="#891319" stroke-width="3.8" stroke-linecap="round"/>
<path d="M413.8 494.9h0M406.9 496.6h0M414.3 512.3h0M471.0 507.1h0M473.9 516.0h0M405.4 533.3h0M405.0 536.3h0M405.4 537.6h0M392.4 553.1h0M392.1 572.8h0M394.7 575.0h0" stroke="#9b6b6b" stroke-width="4.6" stroke-linecap="round"/>
<path d="M417.3 494.0h0M399.1 501.1h0M483.7 501.0h0M409.3 543.0h0M405.2 561.4h0M404.5 563.4h0M406.4 563.4h0M404.5 565.2h0M491.7 559.5h0" stroke="#99999d" stroke-width="4.6" stroke-linecap="round"/>
<path d="M411.8 497.1h0M417.1 497.2h0M401.5 499.1h0M409.0 498.8h0M416.9 498.8h0M402.4 501.5h0M404.7 502.4h0M409.5 501.9h0M414.1 502.3h0M422.1 501.6h0M401.7 504.8h0M407.2 503.6h0M421.3 505.0h0M399.0 506.8h0M402.2 506.1h0M411.8 506.2h0M417.2 507.1h0M424.3 507.0h0M397.3 509.4h0M407.0 508.7h0M412.2 509.4h0M413.8 509.8h0M416.3 509.8h0M396.7 512.1h0M404.9 511.9h0M407.3 511.9h0M408.8 511.6h0M411.7 511.4h0M408.8 514.8h0M407.6 517.0h0M411.7 516.6h0M478.4 495.0h0M458.0 497.1h0M473.9 497.0h0M475.7 497.4h0M478.3 496.9h0M451.4 499.7h0M453.2 498.7h0M455.5 499.5h0M458.3 499.8h0M460.6 499.9h0M463.1 499.2h0M478.7 498.8h0M480.6 499.8h0M450.8 501.9h0M454.1 501.9h0M456.3 502.0h0M458.0 501.0h0M462.0 501.0h0M463.0 501.4h0M451.2 504.0h0M453.2 503.7h0M455.7 504.5h0M463.9 504.5h0M466.3 504.7h0M478.4 505.0h0M453.7 507.1h0M459.2 506.6h0M480.9 506.3h0M484.2 506.1h0M466.9 509.9h0M473.1 509.9h0M476.4 509.8h0M478.7 508.7h0M480.8 508.4h0M484.2 508.9h0M486.2 508.5h0M468.0 512.0h0M471.4 512.5h0M477.0 511.5h0M479.4 511.9h0M481.0 511.4h0M455.7 513.7h0M461.6 514.3h0M476.3 513.8h0M478.6 513.8h0M456.7 516.4h0M461.0 516.8h0M463.3 516.7h0M467.0 516.6h0M458.4 519.2h0M470.9 519.9h0M478.7 519.5h0M463.8 521.2h0M469.0 521.1h0M471.9 521.9h0M475.7 521.8h0M456.6 524.4h0M458.5 524.6h0M463.2 524.3h0M466.7 523.9h0M471.0 524.2h0M474.2 523.9h0M458.1 526.9h0M465.9 526.1h0M471.5 526.3h0M397.2 533.3h0M401.4 532.8h0M407.6 533.4h0M409.3 532.7h0M409.0 536.4h0M412.8 535.4h0M387.7 538.5h0M396.8 537.9h0M402.9 537.9h0M407.8 538.8h0M409.7 538.8h0M385.1 539.9h0M387.4 540.0h0M394.9 540.1h0M402.0 539.9h0M410.2 540.2h0M412.6 541.2h0M382.2 543.3h0M389.1 543.7h0M391.8 543.9h0M394.2 542.7h0M400.4 543.6h0M403.9 543.3h0M377.3 545.5h0M380.2 546.3h0M387.7 545.8h0M395.0 545.7h0M400.2 545.8h0M409.8 545.7h0M411.6 546.1h0M376.7 547.6h0M384.3 547.7h0M387.0 548.4h0M389.2 548.0h0M401.9 548.3h0M404.3 548.8h0M407.3 547.5h0M409.0 548.1h0M411.5 548.0h0M417.2 547.5h0M379.4 550.3h0M381.7 551.0h0M385.4 550.6h0M393.9 550.2h0M382.7 553.7h0M383.9 553.3h0M397.4 552.5h0M414.1 553.8h0M387.6 555.3h0M411.7 555.7h0M416.4 555.2h0M409.5 558.3h0M411.4 557.6h0M414.3 558.7h0M394.5 560.5h0M409.4 560.0h0M389.2 565.8h0M391.4 565.6h0M396.6 566.1h0M399.6 565.9h0M412.6 565.8h0M414.5 566.2h0M386.5 568.4h0M392.6 567.4h0M394.4 568.8h0M402.5 568.7h0M407.0 568.8h0M409.1 567.9h0M412.2 568.0h0M417.5 567.8h0M402.7 570.3h0M407.8 570.0h0M415.3 570.2h0M398.9 573.8h0M401.9 572.7h0M407.9 572.5h0M409.3 573.4h0M389.1 575.1h0M392.9 575.6h0M396.5 576.0h0M399.5 577.9h0M481.6 539.6h0M484.6 539.1h0M478.9 541.0h0M481.7 541.8h0M484.0 541.1h0M486.4 541.4h0M488.5 541.8h0M496.7 540.8h0M477.1 543.3h0M497.4 544.6h0M503.9 543.5h0M476.0 546.5h0M494.3 545.9h0M499.8 546.3h0M503.6 546.9h0M487.0 548.4h0M502.1 549.0h0M504.9 548.9h0M506.1 549.4h0M509.2 548.6h0M491.6 551.4h0M497.2 551.3h0M501.4 550.9h0M486.2 554.5h0M491.0 554.2h0M497.5 553.4h0M502.1 554.3h0M506.0 553.5h0M486.1 556.8h0M493.9 556.3h0M496.4 556.0h0M502.0 557.1h0M486.5 559.0h0M494.8 558.4h0M502.2 558.9h0M484.2 560.8h0M492.1 561.0h0M499.3 561.7h0M503.6 561.5h0M506.5 562.2h0M512.5 561.8h0M513.5 561.4h0M483.6 564.8h0M486.2 564.2h0M488.9 564.1h0M497.1 563.7h0M507.0 563.5h0M511.1 564.4h0M514.7 563.3h0M509.4 565.9h0M497.5 568.9h0M506.8 568.5h0M491.5 571.8h0M504.6 571.0h0M506.3 571.6h0M486.6 573.6h0M493.5 573.4h0M503.6 573.7h0M489.9 577.0h0" stroke="#891319" stroke-width="4.6" stroke-linecap="round"/>
<path d="M417.7 504.9h0M454.2 516.1h0M381.6 547.5h0M380.3 558.9h0M402.6 566.2h0M395.2 572.6h0M493.7 538.3h0M486.3 546.7h0M506.4 565.7h0" stroke="#687991" stroke-width="3.8" stroke-linecap="round"/>
<path d="M398.9 509.6h0M417.2 512.0h0M404.4 514.5h0M417.7 513.7h0M456.4 495.0h0M475.5 499.3h0M466.3 501.6h0M471.7 502.1h0M475.9 504.3h0M474.3 506.2h0M454.0 508.9h0M472.0 509.8h0M451.8 511.2h0M453.3 511.7h0M470.9 514.3h0M471.9 517.1h0M406.9 536.2h0M414.4 537.7h0M417.3 537.9h0M416.4 541.0h0M415.4 542.9h0M401.8 550.3h0M405.4 550.5h0M409.1 550.9h0M377.5 554.0h0M400.3 553.0h0M402.5 553.9h0M404.6 552.8h0M377.7 556.1h0M400.0 555.9h0M401.6 555.0h0M404.6 556.3h0M407.4 555.2h0M389.7 558.7h0M396.9 558.8h0M381.9 561.1h0M390.1 560.0h0M397.4 560.3h0M399.3 561.1h0M396.4 562.5h0M384.3 566.2h0M387.5 565.4h0M406.8 576.4h0M404.3 578.5h0M410.0 578.4h0M414.3 577.6h0M501.5 542.1h0M513.6 549.6h0M513.7 551.3h0M516.0 552.2h0M511.7 554.7h0M514.3 553.8h0M514.1 555.9h0M487.1 565.8h0M488.8 566.3h0M491.3 566.9h0M494.2 566.0h0M481.2 569.5h0M486.7 568.4h0M478.7 571.6h0M481.8 572.0h0M484.6 571.1h0M488.8 570.7h0M493.8 571.4h0M497.1 571.0h0M497.5 574.4h0" stroke="#7a0e13" stroke-width="3.8" stroke-linecap="round"/>
<path d="M399.8 511.0h0M402.5 511.0h0M419.4 511.4h0M400.1 513.8h0M419.8 513.5h0M453.6 494.8h0M473.1 498.6h0M468.3 501.7h0M473.2 501.9h0M476.3 501.7h0M478.7 502.2h0M468.9 504.9h0M470.9 503.8h0M474.5 503.4h0M451.5 513.8h0M468.7 516.8h0M454.0 519.8h0M394.8 535.6h0M419.2 536.3h0M391.4 538.8h0M414.1 541.4h0M417.9 543.5h0M376.4 550.8h0M399.5 550.7h0M407.5 550.7h0M411.5 551.3h0M379.4 552.7h0M407.4 553.9h0M409.4 552.7h0M411.6 553.0h0M379.9 555.1h0M381.7 555.7h0M383.9 556.4h0M397.6 556.1h0M409.1 556.2h0M376.8 557.7h0M384.0 558.2h0M387.7 558.5h0M395.3 558.7h0M400.1 558.0h0M402.0 558.5h0M379.9 559.9h0M386.8 563.5h0M390.4 562.7h0M404.4 573.8h0M401.8 576.1h0M405.4 575.9h0M409.6 575.2h0M411.9 576.0h0M414.0 575.8h0M402.6 577.5h0M406.6 578.6h0M412.5 578.8h0M476.8 539.0h0M512.4 549.2h0M512.1 551.1h0M511.3 555.9h0M485.0 566.9h0M483.6 569.8h0M490.0 569.5h0M492.4 568.5h0M494.1 568.2h0M487.2 571.5h0M483.7 573.4h0M498.8 574.5h0M501.8 574.4h0" stroke="#7a0e13" stroke-width="4.6" stroke-linecap="round"/>
<path d="M402.5 513.7h0M497.1 548.5h0" stroke="#3b5881" stroke-width="4.6" stroke-linecap="round"/>
<path d="M414.6 514.0h0M461.6 528.8h0M421.7 556.2h0M419.4 557.5h0M419.2 559.9h0M422.7 566.2h0M419.9 570.3h0M479.7 551.1h0M481.0 550.8h0M484.1 551.2h0M476.5 553.4h0M478.9 555.7h0M482.1 557.0h0M481.0 561.6h0M478.6 563.5h0M479.0 567.0h0" stroke="#996566" stroke-width="3.8" stroke-linecap="round"/>
<path d="M401.8 516.6h0" stroke="#3b5881" stroke-width="3.8" stroke-linecap="round"/>
<path d="M414.8 517.2h0M468.8 529.6h0M420.4 556.3h0M422.0 560.5h0M414.6 563.1h0M479.2 554.2h0M479.4 562.2h0M481.1 564.2h0" stroke="#996566" stroke-width="4.6" stroke-linecap="round"/>
<path d="M486.2 501.7h0M399.2 541.4h0M392.9 546.0h0M491.2 539.2h0M491.9 542.0h0M507.1 559.5h0M501.9 566.4h0M504.3 566.5h0" stroke="#99999d" stroke-width="3.8" stroke-linecap="round"/>
<path d="M460.8 506.3h0M463.3 509.2h0M483.5 511.5h0M406.6 566.2h0M409.0 565.2h0M487.4 538.9h0M489.1 538.7h0M509.1 546.2h0" stroke="#952d30" stroke-width="4.6" stroke-linecap="round"/>
<path d="M463.8 506.9h0M461.9 508.8h0M485.6 511.5h0M482.0 513.8h0M484.0 513.5h0M409.3 563.7h0M494.5 542.2h0M494.7 543.4h0M507.3 547.1h0" stroke="#952d30" stroke-width="3.8" stroke-linecap="round"/>
<path d="M473.8 514.5h0M473.9 527.1h0M381.6 558.4h0M484.9 546.3h0M497.1 546.8h0M494.6 549.1h0M502.5 563.9h0" stroke="#9b6b6b" stroke-width="3.8" stroke-linecap="round"/>
<path d="M460.8 526.7h0M481.9 547.3h0M479.0 548.4h0M482.4 548.4h0M477.4 551.7h0M476.7 556.6h0M479.3 558.7h0M481.7 559.7h0" stroke="#848b97" stroke-width="4.6" stroke-linecap="round"/>
<path d="M463.9 527.1h0M463.9 528.7h0M466.8 528.8h0M422.3 558.2h0M484.4 549.2h0M477.5 565.9h0" stroke="#848b97" stroke-width="3.8" stroke-linecap="round"/>
<path d="M419.1 538.9h0M384.7 563.0h0" stroke="#650b10" stroke-width="4.6" stroke-linecap="round"/>
<path d="M418.9 539.9h0M384.3 560.5h0M386.5 560.0h0" stroke="#650b10" stroke-width="3.8" stroke-linecap="round"/>
<path d="M419.7 543.8h0M421.9 545.8h0" stroke="#6f7e95" stroke-width="3.8" stroke-linecap="round"/>
<path d="M415.3 549.0h0M415.3 550.8h0M422.7 550.8h0M424.8 550.1h0M416.8 553.0h0M420.3 553.8h0M415.2 561.2h0M425.4 560.1h0M422.3 563.1h0M416.4 566.0h0M419.7 567.4h0" stroke="#9d9d9d" stroke-width="4.6" stroke-linecap="round"/>
<path d="M421.6 548.1h0M423.9 548.1h0" stroke="#6f7e95" stroke-width="4.6" stroke-linecap="round"/>
<path d="M417.7 551.3h0M419.0 550.8h0M422.0 553.3h0M417.7 558.4h0M417.6 560.7h0M417.8 562.5h0M419.5 563.6h0M425.2 563.5h0M419.9 564.9h0" stroke="#9d9d9d" stroke-width="3.8" stroke-linecap="round"/>
<path d="M477.5 549.0h0" stroke="#89161c" stroke-width="3.8" stroke-linecap="round"/>
<path d="M460.3 492.6h0M452.6 497.9h0M462.3 497.5h0M460.3 498.9h0M450.7 502.9h0M455.2 501.6h0M458.1 502.3h0M460.7 502.6h0M450.0 504.3h0M452.4 504.5h0M455.9 505.3h0M459.7 504.7h0" stroke="#923b3e" stroke-width="4.6" stroke-linecap="round"/>
<path d="M455.6 495.3h0M454.7 497.6h0M453.4 499.4h0M453.2 502.4h0" stroke="#842428" stroke-width="3.8" stroke-linecap="round"/>
<path d="M458.3 494.3h0M450.0 496.9h0M458.2 497.7h0M459.9 497.1h0M450.7 499.9h0M457.4 500.3h0M455.0 507.8h0" stroke="#923b3e" stroke-width="3.8" stroke-linecap="round"/>
<path d="M460.7 494.6h0M462.1 494.9h0" stroke="#995c5d" stroke-width="4.6" stroke-linecap="round"/>
<path d="M454.6 499.2h0" stroke="#842428" stroke-width="4.6" stroke-linecap="round"/>
<path d="M458.4 503.9h0" stroke="#995c5d" stroke-width="3.8" stroke-linecap="round"/>
<path d="M403.3 494.2h0M404.1 496.0h0M414.5 505.5h0M453.4 513.8h0M396.6 542.7h0M381.3 544.9h0M404.6 545.6h0M390.7 550.1h0M396.6 568.2h0M391.5 570.4h0M393.9 570.3h0M396.8 569.4h0M396.7 579.4h0M513.9 558.3h0M503.1 562.6h0" stroke="#9fb8dd" stroke-width="3.0" stroke-linecap="round"/>
<path d="M405.6 493.0h0M408.6 494.0h0M409.2 496.6h0M414.4 496.7h0M418.6 496.8h0M404.2 498.6h0M405.8 499.0h0M411.7 498.8h0M413.7 498.5h0M418.4 498.2h0M422.0 499.4h0M406.1 501.0h0M411.8 501.2h0M416.2 501.5h0M418.7 501.5h0M398.3 503.7h0M403.4 503.5h0M408.2 504.0h0M411.9 503.4h0M414.5 503.4h0M418.3 503.7h0M395.8 506.6h0M404.3 506.5h0M405.7 506.0h0M408.6 506.4h0M418.8 506.3h0M421.2 505.6h0M401.5 508.1h0M404.3 509.4h0M408.8 508.0h0M418.2 508.6h0M421.0 508.5h0M421.5 510.6h0M406.8 513.0h0M411.5 513.0h0M420.6 513.3h0M403.7 516.2h0M409.4 516.2h0M457.8 493.5h0M450.4 495.9h0M453.7 495.8h0M455.0 496.3h0M461.4 496.2h0M462.7 495.3h0M480.5 501.2h0M458.3 503.2h0M460.6 503.0h0M480.3 503.2h0M482.4 503.4h0M451.4 506.3h0M456.2 505.6h0M464.9 506.3h0M468.6 506.1h0M475.8 506.1h0M478.3 505.3h0M485.2 505.8h0M450.4 509.3h0M456.0 508.7h0M457.5 508.2h0M468.2 509.3h0M455.4 511.8h0M457.8 511.4h0M461.0 511.4h0M463.7 511.0h0M466.1 511.7h0M472.4 510.4h0M458.2 513.8h0M463.7 513.1h0M464.9 513.8h0M468.1 513.1h0M457.6 516.9h0M476.1 516.1h0M477.7 515.4h0M480.5 515.5h0M483.7 515.9h0M455.9 519.3h0M460.1 518.2h0M463.3 518.7h0M465.8 518.3h0M468.7 519.1h0M472.7 517.8h0M476.3 517.9h0M480.6 519.4h0M456.3 521.9h0M458.8 521.8h0M459.9 520.5h0M465.3 521.3h0M472.8 521.5h0M478.8 521.0h0M460.9 523.3h0M467.7 524.2h0M475.2 524.1h0M467.4 525.3h0M470.9 529.0h0M404.1 530.1h0M399.8 531.8h0M396.9 534.7h0M398.8 534.9h0M401.4 534.5h0M415.8 535.4h0M388.8 538.0h0M393.5 538.0h0M398.3 538.3h0M411.4 537.4h0M389.2 540.0h0M392.3 540.5h0M396.2 539.9h0M404.7 540.8h0M406.0 539.6h0M378.8 543.1h0M384.4 542.1h0M386.9 542.3h0M401.5 542.0h0M406.4 542.8h0M411.5 542.4h0M383.9 545.2h0M388.5 545.7h0M397.1 545.2h0M401.4 545.4h0M406.9 544.9h0M414.0 545.7h0M416.6 545.6h0M418.5 545.4h0M378.9 548.0h0M391.1 546.8h0M393.9 548.3h0M396.8 548.1h0M398.3 546.8h0M419.2 546.9h0M385.8 550.8h0M388.2 549.4h0M396.5 550.3h0M387.2 551.9h0M388.3 552.1h0M394.0 552.0h0M388.5 554.5h0M392.0 555.7h0M393.5 555.3h0M413.5 554.8h0M391.4 557.4h0M403.9 557.8h0M406.9 557.7h0M390.9 560.8h0M401.5 559.3h0M406.9 560.1h0M412.2 560.2h0M391.5 562.6h0M394.0 562.0h0M398.6 562.9h0M401.1 562.3h0M412.1 561.9h0M393.4 565.3h0M388.5 566.9h0M399.2 568.2h0M404.4 566.8h0M413.6 567.1h0M389.5 570.4h0M399.6 570.6h0M403.3 570.7h0M408.5 569.4h0M411.6 569.4h0M416.1 570.7h0M397.0 572.5h0M412.0 571.9h0M413.5 572.8h0M416.1 572.2h0M398.9 574.6h0M395.8 578.1h0M399.0 579.4h0M495.7 538.8h0M498.2 539.1h0M475.8 540.6h0M498.6 540.6h0M479.0 543.1h0M481.8 543.1h0M483.2 543.4h0M486.6 543.4h0M487.9 543.0h0M491.9 543.5h0M498.4 543.8h0M500.8 543.0h0M505.8 543.7h0M479.2 545.6h0M488.4 545.1h0M491.5 546.6h0M500.7 545.5h0M487.9 549.0h0M490.5 548.9h0M498.3 548.7h0M485.6 550.8h0M487.9 550.6h0M493.4 551.5h0M498.7 550.5h0M503.7 550.1h0M505.9 551.5h0M508.3 551.3h0M481.9 554.2h0M484.4 553.3h0M489.0 553.8h0M493.9 552.9h0M498.8 553.7h0M503.9 554.1h0M508.3 553.0h0M482.9 556.6h0M488.6 555.6h0M491.0 555.8h0M499.2 555.9h0M502.9 556.0h0M505.7 556.4h0M508.5 555.9h0M483.8 558.5h0M488.4 557.7h0M496.8 558.6h0M498.7 558.1h0M503.6 558.8h0M508.6 557.8h0M511.2 558.7h0M486.9 561.6h0M488.2 561.3h0M494.2 560.7h0M496.4 561.3h0M501.8 560.6h0M509.4 561.2h0M516.1 560.1h0M491.7 563.6h0M493.1 563.3h0M499.1 563.7h0M508.0 563.2h0M481.2 566.2h0M496.0 565.9h0M499.2 566.1h0M511.2 565.8h0M477.9 568.0h0M498.2 569.1h0M501.0 569.0h0M504.3 568.3h0M508.3 568.2h0M499.4 570.6h0M501.4 571.6h0M489.1 573.9h0M491.0 573.3h0M494.3 575.3h0" stroke="#d01e26" stroke-width="2.4" stroke-linecap="round"/>
<path d="M413.1 494.2h0M406.2 495.8h0M413.6 511.6h0M470.3 506.4h0M473.2 515.3h0M404.7 532.5h0M404.3 535.6h0M404.7 536.9h0M391.7 552.4h0M391.4 572.1h0M394.0 574.2h0" stroke="#eba3a3" stroke-width="3.0" stroke-linecap="round"/>
<path d="M416.5 493.3h0M398.4 500.4h0M483.0 500.3h0M408.6 542.3h0M404.4 560.7h0M403.8 562.7h0M405.7 562.6h0M403.8 564.4h0M490.9 558.8h0" stroke="#e9e9ee" stroke-width="3.0" stroke-linecap="round"/>
<path d="M411.0 496.4h0M416.3 496.5h0M400.8 498.4h0M408.3 498.1h0M416.2 498.0h0M401.7 500.7h0M403.9 501.7h0M408.8 501.2h0M413.3 501.6h0M421.3 500.8h0M401.0 504.1h0M406.5 502.9h0M420.6 504.3h0M398.3 506.1h0M401.4 505.3h0M411.1 505.4h0M416.4 506.4h0M423.5 506.2h0M396.6 508.6h0M406.3 508.0h0M411.5 508.7h0M413.1 509.1h0M415.6 509.1h0M396.0 511.3h0M404.1 511.2h0M406.6 511.2h0M408.0 510.9h0M411.0 510.7h0M408.1 514.0h0M406.9 516.3h0M411.0 515.9h0M477.7 494.2h0M457.3 496.4h0M473.2 496.2h0M475.0 496.7h0M477.6 496.2h0M450.6 499.0h0M452.4 497.9h0M454.8 498.8h0M457.5 499.0h0M459.9 499.2h0M462.4 498.4h0M478.0 498.0h0M479.8 499.1h0M450.1 501.1h0M453.4 501.1h0M455.6 501.2h0M457.3 500.3h0M461.2 500.3h0M462.3 500.7h0M450.5 503.3h0M452.4 503.0h0M454.9 503.8h0M463.2 503.7h0M465.6 504.0h0M477.6 504.2h0M453.0 506.3h0M458.5 505.9h0M480.2 505.6h0M483.5 505.3h0M466.1 509.2h0M472.4 509.2h0M475.7 509.0h0M478.0 507.9h0M480.0 507.7h0M483.4 508.2h0M485.5 507.8h0M467.2 511.2h0M470.7 511.7h0M476.3 510.7h0M478.6 511.2h0M480.3 510.7h0M454.9 513.0h0M460.8 513.6h0M475.6 513.1h0M477.9 513.1h0M455.9 515.7h0M460.3 516.0h0M462.6 515.9h0M466.2 515.9h0M457.7 518.5h0M470.1 519.2h0M478.0 518.8h0M463.1 520.5h0M468.3 520.4h0M471.2 521.1h0M474.9 521.0h0M455.9 523.7h0M457.7 523.9h0M462.5 523.5h0M466.0 523.2h0M470.3 523.4h0M473.5 523.1h0M457.3 526.1h0M465.2 525.4h0M470.8 525.5h0M396.4 532.5h0M400.7 532.1h0M406.8 532.7h0M408.6 532.0h0M408.3 535.7h0M412.0 534.7h0M387.0 537.7h0M396.0 537.1h0M402.2 537.2h0M407.0 538.1h0M409.0 538.1h0M384.4 539.1h0M386.7 539.2h0M394.2 539.3h0M401.3 539.1h0M409.5 539.4h0M411.8 540.5h0M381.5 542.5h0M388.3 543.0h0M391.0 543.2h0M393.4 542.0h0M399.6 542.9h0M403.2 542.6h0M376.6 544.7h0M379.5 545.6h0M387.0 545.1h0M394.2 545.0h0M399.5 545.1h0M409.1 544.9h0M410.8 545.3h0M376.0 546.8h0M383.6 547.0h0M386.2 547.7h0M388.5 547.3h0M401.1 547.6h0M403.6 548.1h0M406.5 546.8h0M408.3 547.4h0M410.8 547.2h0M416.5 546.7h0M378.7 549.6h0M381.0 550.3h0M384.6 549.8h0M393.1 549.5h0M382.0 552.9h0M383.2 552.6h0M396.6 551.8h0M413.3 553.0h0M386.8 554.6h0M410.9 554.9h0M415.7 554.5h0M408.7 557.6h0M410.6 556.9h0M413.5 558.0h0M393.7 559.8h0M408.7 559.2h0M388.5 565.1h0M390.7 564.9h0M395.9 565.4h0M398.9 565.2h0M411.8 565.1h0M413.7 565.5h0M385.8 567.7h0M391.9 566.7h0M393.6 568.1h0M401.8 567.9h0M406.2 568.1h0M408.3 567.1h0M411.4 567.2h0M416.8 567.1h0M401.9 569.6h0M407.0 569.2h0M414.6 569.4h0M398.1 573.0h0M401.1 571.9h0M407.1 571.8h0M408.6 572.6h0M388.4 574.4h0M392.1 574.9h0M395.8 575.3h0M398.8 577.2h0M480.9 538.8h0M483.9 538.4h0M478.2 540.3h0M480.9 541.1h0M483.2 540.4h0M485.6 540.7h0M487.8 541.1h0M495.9 540.1h0M476.4 542.6h0M496.6 543.9h0M503.2 542.7h0M475.3 545.7h0M493.5 545.1h0M499.1 545.5h0M502.9 546.2h0M486.2 547.7h0M501.3 548.3h0M504.1 548.2h0M505.4 548.6h0M508.5 547.9h0M490.8 550.7h0M496.4 550.6h0M500.7 550.1h0M485.5 553.8h0M490.2 553.5h0M496.8 552.7h0M501.3 553.5h0M505.2 552.8h0M485.3 556.1h0M493.2 555.5h0M495.7 555.3h0M501.2 556.3h0M485.8 558.3h0M494.0 557.7h0M501.4 558.1h0M483.4 560.1h0M491.4 560.2h0M498.6 561.0h0M502.8 560.7h0M505.8 561.4h0M511.8 561.0h0M512.8 560.7h0M482.9 564.0h0M485.5 563.5h0M488.1 563.4h0M496.3 563.0h0M506.2 562.7h0M510.4 563.7h0M514.0 562.5h0M508.6 565.1h0M496.8 568.2h0M506.0 567.7h0M490.7 571.1h0M503.9 570.2h0M505.5 570.8h0M485.9 572.9h0M492.7 572.7h0M502.9 572.9h0M489.1 576.3h0" stroke="#d01e26" stroke-width="3.0" stroke-linecap="round"/>
<path d="M417.1 504.3h0M453.6 515.5h0M380.9 546.8h0M379.7 558.3h0M402.0 565.6h0M394.6 572.0h0M493.1 537.7h0M485.7 546.1h0M505.8 565.1h0" stroke="#9fb8dd" stroke-width="2.4" stroke-linecap="round"/>
<path d="M398.3 509.0h0M416.6 511.4h0M403.8 513.9h0M417.1 513.0h0M455.8 494.4h0M474.9 498.7h0M465.7 501.0h0M471.1 501.5h0M475.3 503.7h0M473.7 505.5h0M453.4 508.3h0M471.4 509.2h0M451.2 510.6h0M452.7 511.1h0M470.3 513.7h0M471.3 516.5h0M406.3 535.6h0M413.8 537.1h0M416.6 537.3h0M415.8 540.4h0M414.8 542.3h0M401.2 549.7h0M404.8 549.9h0M408.5 550.3h0M376.9 553.3h0M399.7 552.4h0M401.9 553.3h0M404.0 552.2h0M377.1 555.5h0M399.3 555.3h0M401.0 554.4h0M404.0 555.7h0M406.8 554.6h0M389.0 558.1h0M396.3 558.2h0M381.3 560.4h0M389.5 559.4h0M396.8 559.7h0M398.7 560.5h0M395.8 561.9h0M383.7 565.5h0M386.9 564.8h0M406.2 575.8h0M403.7 577.9h0M409.4 577.8h0M413.7 577.0h0M500.9 541.5h0M513.0 549.0h0M513.1 550.7h0M515.4 551.6h0M511.1 554.1h0M513.7 553.2h0M513.5 555.3h0M486.5 565.2h0M488.2 565.7h0M490.7 566.3h0M493.6 565.4h0M480.6 568.9h0M486.1 567.8h0M478.1 571.0h0M481.2 571.4h0M484.0 570.5h0M488.2 570.1h0M493.2 570.7h0M496.5 570.4h0M496.9 573.8h0" stroke="#b9161e" stroke-width="2.4" stroke-linecap="round"/>
<path d="M399.1 510.3h0M401.7 510.3h0M418.6 510.7h0M399.4 513.1h0M419.1 512.8h0M452.9 494.1h0M472.4 497.8h0M467.5 501.0h0M472.5 501.1h0M475.6 501.0h0M478.0 501.4h0M468.2 504.1h0M470.2 503.0h0M473.8 502.7h0M450.8 513.0h0M467.9 516.0h0M453.3 519.1h0M394.1 534.9h0M418.5 535.6h0M390.7 538.1h0M413.4 540.7h0M417.2 542.8h0M375.7 550.1h0M398.7 550.0h0M406.8 550.0h0M410.8 550.6h0M378.6 552.0h0M406.7 553.2h0M408.7 551.9h0M410.8 552.3h0M379.1 554.3h0M381.0 555.0h0M383.2 555.6h0M396.9 555.4h0M408.4 555.5h0M376.0 556.9h0M383.2 557.5h0M387.0 557.8h0M394.6 558.0h0M399.4 557.3h0M401.2 557.8h0M379.2 559.2h0M386.1 562.8h0M389.6 561.9h0M403.6 573.1h0M401.0 575.3h0M404.7 575.1h0M408.9 574.5h0M411.1 575.3h0M413.3 575.1h0M401.8 576.8h0M405.9 577.8h0M411.8 578.0h0M476.0 538.3h0M511.6 548.4h0M511.4 550.3h0M510.6 555.1h0M484.3 566.2h0M482.8 569.0h0M489.2 568.8h0M491.7 567.8h0M493.4 567.5h0M486.4 570.7h0M482.9 572.6h0M498.0 573.7h0M501.1 573.6h0" stroke="#b9161e" stroke-width="3.0" stroke-linecap="round"/>
<path d="M401.8 512.9h0M496.4 547.8h0" stroke="#5a86c4" stroke-width="3.0" stroke-linecap="round"/>
<path d="M414.0 513.4h0M460.9 528.2h0M421.1 555.6h0M418.8 556.9h0M418.6 559.3h0M422.0 565.6h0M419.3 569.7h0M479.1 550.5h0M480.4 550.2h0M483.5 550.6h0M475.9 552.8h0M478.3 555.1h0M481.5 556.4h0M480.4 561.0h0M478.0 562.9h0M478.4 566.4h0" stroke="#e89a9c" stroke-width="2.4" stroke-linecap="round"/>
<path d="M401.2 516.0h0" stroke="#5a86c4" stroke-width="2.4" stroke-linecap="round"/>
<path d="M414.0 516.5h0M468.1 528.8h0M419.6 555.6h0M421.2 559.7h0M413.9 562.4h0M478.5 553.5h0M478.7 561.4h0M480.4 563.4h0" stroke="#e89a9c" stroke-width="3.0" stroke-linecap="round"/>
<path d="M485.6 501.1h0M398.5 540.8h0M392.3 545.3h0M490.6 538.6h0M491.3 541.4h0M506.5 558.9h0M501.3 565.8h0M503.7 565.9h0" stroke="#e9e9ee" stroke-width="2.4" stroke-linecap="round"/>
<path d="M460.1 505.5h0M462.5 508.4h0M482.8 510.8h0M405.9 565.4h0M408.3 564.4h0M486.6 538.2h0M488.4 538.0h0M508.4 545.5h0" stroke="#e2454a" stroke-width="3.0" stroke-linecap="round"/>
<path d="M463.2 506.3h0M461.3 508.2h0M485.0 510.9h0M481.4 513.2h0M483.4 512.9h0M408.7 563.1h0M493.8 541.6h0M494.1 542.8h0M506.7 546.5h0" stroke="#e2454a" stroke-width="2.4" stroke-linecap="round"/>
<path d="M473.2 513.9h0M473.3 526.5h0M381.0 557.8h0M484.2 545.7h0M496.4 546.2h0M494.0 548.5h0M501.9 563.3h0" stroke="#eba3a3" stroke-width="2.4" stroke-linecap="round"/>
<path d="M460.0 525.9h0M481.1 546.6h0M478.3 547.7h0M481.7 547.7h0M476.6 550.9h0M475.9 555.8h0M478.5 558.0h0M481.0 558.9h0" stroke="#c9d4e6" stroke-width="3.0" stroke-linecap="round"/>
<path d="M463.3 526.5h0M463.3 528.1h0M466.2 528.2h0M421.7 557.6h0M483.8 548.5h0M476.9 565.3h0" stroke="#c9d4e6" stroke-width="2.4" stroke-linecap="round"/>
<path d="M418.3 538.1h0M384.0 562.3h0" stroke="#9a1219" stroke-width="3.0" stroke-linecap="round"/>
<path d="M418.3 539.3h0M383.6 559.9h0M385.9 559.4h0" stroke="#9a1219" stroke-width="2.4" stroke-linecap="round"/>
<path d="M419.1 543.2h0M421.3 545.2h0" stroke="#a9c0e2" stroke-width="2.4" stroke-linecap="round"/>
<path d="M414.6 548.2h0M414.5 550.1h0M422.0 550.0h0M424.1 549.4h0M416.0 552.3h0M419.5 553.0h0M414.5 560.5h0M424.7 559.4h0M421.5 562.4h0M415.6 565.2h0M419.0 566.7h0" stroke="#eeeeee" stroke-width="3.0" stroke-linecap="round"/>
<path d="M420.9 547.3h0M423.1 547.4h0" stroke="#a9c0e2" stroke-width="3.0" stroke-linecap="round"/>
<path d="M417.1 550.7h0M418.4 550.2h0M421.4 552.7h0M417.1 557.8h0M417.0 560.1h0M417.2 561.8h0M418.9 563.0h0M424.6 562.9h0M419.3 564.3h0" stroke="#eeeeee" stroke-width="2.4" stroke-linecap="round"/>
<path d="M476.9 548.3h0" stroke="#d0222b" stroke-width="2.4" stroke-linecap="round"/>
<path d="M459.5 491.9h0M451.8 497.2h0M461.5 496.8h0M459.6 498.2h0M449.9 502.2h0M454.4 500.9h0M457.4 501.5h0M459.9 501.9h0M449.2 503.6h0M451.6 503.8h0M455.2 504.5h0M458.9 504.0h0" stroke="#de5a5e" stroke-width="3.0" stroke-linecap="round"/>
<path d="M455.0 494.7h0M454.1 497.0h0M452.8 498.8h0M452.6 501.8h0" stroke="#c8383d" stroke-width="2.4" stroke-linecap="round"/>
<path d="M457.7 493.7h0M449.4 496.3h0M457.5 497.1h0M459.3 496.5h0M450.0 499.3h0M456.8 499.7h0M454.4 507.1h0" stroke="#de5a5e" stroke-width="2.4" stroke-linecap="round"/>
<path d="M460.0 493.8h0M461.4 494.1h0" stroke="#e98c8e" stroke-width="3.0" stroke-linecap="round"/>
<path d="M453.9 498.5h0" stroke="#c8383d" stroke-width="3.0" stroke-linecap="round"/>
<path d="M457.8 503.3h0" stroke="#e98c8e" stroke-width="2.4" stroke-linecap="round"/>
<path d="M588.3 511.8h0M588.4 514.0h0M593.5 513.3h0M589.4 515.8h0M589.7 518.1h0M583.2 521.6h0M582.0 523.3h0M589.3 523.2h0M589.3 526.3h0M606.7 525.7h0M588.8 529.3h0M591.9 529.2h0M593.2 528.6h0M594.4 531.2h0M613.6 530.5h0M616.3 530.7h0M590.9 533.2h0M622.3 534.1h0M611.5 535.9h0M619.7 535.8h0M623.7 536.2h0M591.2 539.3h0M619.7 539.4h0M624.8 538.4h0M626.9 538.7h0M601.6 540.5h0M614.1 540.7h0M617.3 540.5h0M624.6 541.6h0M626.3 540.6h0M610.8 544.0h0M623.8 542.9h0M626.9 543.3h0M629.4 543.2h0M631.3 544.1h0M603.5 546.2h0M626.2 546.9h0M629.4 546.7h0M630.8 545.7h0M591.7 549.3h0M594.1 548.3h0M624.8 548.6h0M627.0 548.8h0M633.6 549.2h0M591.8 553.5h0M634.3 553.2h0M638.5 554.3h0M586.5 555.5h0M588.3 556.0h0M619.1 556.7h0M629.4 556.6h0M586.5 558.9h0M588.4 558.7h0M596.1 557.9h0M613.8 558.0h0M618.8 557.9h0M589.3 561.4h0M614.3 561.4h0M616.5 560.7h0M583.3 563.2h0M589.5 566.6h0M592.1 568.5h0M598.4 568.4h0M609.3 568.0h0M620.7 568.1h0M586.8 570.8h0M589.3 570.8h0M619.7 571.4h0M646.3 570.6h0M589.7 573.7h0M616.1 573.2h0M576.6 576.7h0M593.5 575.4h0M596.7 576.1h0M613.8 575.5h0M616.7 575.8h0M619.3 575.9h0M626.8 575.4h0M654.0 576.0h0M656.4 575.4h0M606.5 579.3h0M611.7 578.8h0M621.1 579.3h0M657.3 579.4h0M661.9 578.0h0M557.2 580.7h0M558.2 581.8h0M561.8 581.0h0M609.3 580.6h0M614.3 581.8h0M616.1 580.5h0M620.9 580.8h0M623.3 581.0h0M561.2 583.6h0M607.1 583.3h0M610.8 583.5h0M614.0 583.8h0M626.4 583.7h0M638.7 584.1h0M658.8 583.6h0M601.6 586.0h0M603.5 586.4h0M616.0 586.0h0M630.9 586.5h0M641.2 586.8h0M658.4 585.7h0M660.9 586.3h0M663.3 585.6h0M667.3 586.8h0M554.6 588.4h0M564.1 588.9h0M565.9 588.9h0M608.9 588.4h0M611.8 591.3h0M614.8 591.5h0M624.3 591.8h0M660.7 591.0h0M621.9 594.0h0M646.5 593.8h0M663.5 593.5h0M668.5 593.7h0M670.9 594.3h0M607.2 596.5h0M624.0 596.5h0M639.7 595.9h0M644.5 596.7h0M658.4 595.9h0M660.9 596.8h0M663.2 596.0h0M666.7 596.3h0M669.5 595.4h0M671.1 595.7h0M674.5 595.9h0M558.7 598.9h0M581.7 598.4h0M604.7 597.9h0M606.9 598.9h0M629.7 598.8h0M637.0 598.5h0M561.6 601.3h0M582.3 601.3h0M601.2 600.7h0M631.6 600.5h0M578.5 603.1h0M628.5 603.6h0M647.3 603.8h0M564.4 606.8h0M566.4 605.7h0M614.2 606.3h0M628.3 605.9h0M667.0 606.3h0M668.3 606.0h0M671.8 606.5h0M616.0 608.2h0M572.2 611.2h0M574.8 611.2h0M593.9 610.6h0M596.2 611.4h0M608.6 611.0h0M660.8 611.6h0M599.6 613.2h0M611.6 613.7h0M616.1 613.6h0M611.1 615.9h0M629.6 616.8h0M631.9 615.9h0M562.2 618.4h0M563.4 617.9h0M573.4 618.7h0M624.0 618.5h0M566.6 620.9h0M576.5 621.0h0M578.7 621.8h0M558.8 623.0h0M574.4 624.2h0M623.4 623.6h0M561.1 626.9h0M566.5 626.7h0M568.7 626.7h0M571.0 625.7h0M624.3 626.1h0M559.5 628.3h0M562.0 629.2h0M563.7 627.9h0M566.9 627.9h0M631.8 628.2h0M576.0 631.0h0M567.3 634.0h0M571.7 634.2h0M573.3 634.3h0" stroke="#996566" stroke-width="3.8" stroke-linecap="round"/>
<path d="M593.8 510.9h0M587.3 517.9h0M591.6 519.2h0M581.9 521.1h0M589.1 521.6h0M591.7 521.8h0M601.9 520.9h0M592.1 523.7h0M587.2 526.8h0M587.2 528.5h0M606.5 528.2h0M612.1 530.4h0M594.1 533.7h0M612.0 533.3h0M613.6 532.9h0M616.6 533.3h0M619.4 533.2h0M623.3 533.3h0M588.4 536.3h0M592.1 535.5h0M621.8 535.9h0M588.2 537.8h0M609.2 538.5h0M621.7 538.6h0M629.6 541.9h0M631.9 540.6h0M596.4 544.4h0M601.1 545.7h0M628.4 549.0h0M624.0 550.7h0M633.6 551.3h0M586.8 553.5h0M629.3 554.0h0M631.9 553.0h0M636.2 554.2h0M596.6 556.2h0M615.9 556.7h0M631.0 555.9h0M634.5 556.2h0M629.1 558.6h0M631.6 558.6h0M582.2 560.5h0M584.3 561.2h0M586.6 560.8h0M611.6 561.5h0M639.3 561.4h0M581.9 563.0h0M588.5 562.9h0M612.1 563.1h0M584.7 568.7h0M589.4 568.0h0M596.3 568.1h0M619.6 569.3h0M591.9 570.9h0M622.1 571.0h0M619.0 573.2h0M621.2 573.9h0M574.8 575.3h0M599.7 576.4h0M602.0 576.3h0M603.3 575.7h0M576.8 578.2h0M579.0 578.8h0M609.4 579.3h0M616.5 579.2h0M628.5 579.3h0M634.6 579.0h0M607.1 581.0h0M618.4 580.6h0M627.1 581.4h0M636.2 581.8h0M656.9 580.4h0M559.7 583.5h0M615.7 583.6h0M609.4 585.6h0M586.8 588.9h0M589.6 588.8h0M653.5 588.2h0M660.9 589.2h0M666.5 588.1h0M668.5 589.0h0M555.9 590.4h0M566.2 591.2h0M616.4 590.9h0M626.5 591.8h0M636.4 590.5h0M638.3 591.6h0M654.0 591.6h0M666.2 590.5h0M624.5 593.1h0M629.5 593.5h0M641.6 593.9h0M651.4 594.3h0M656.4 593.0h0M661.5 593.9h0M667.1 593.8h0M558.9 596.5h0M562.1 596.4h0M564.0 595.9h0M586.2 596.8h0M591.1 596.2h0M608.6 596.9h0M629.4 596.0h0M634.4 595.8h0M635.9 595.8h0M642.1 596.4h0M646.1 595.9h0M649.1 596.6h0M652.2 596.6h0M676.4 596.7h0M564.5 598.3h0M578.8 598.3h0M584.5 598.8h0M585.8 599.2h0M588.9 598.2h0M609.7 598.6h0M625.9 599.1h0M639.4 597.8h0M651.3 598.5h0M653.7 598.0h0M664.6 598.8h0M676.1 598.7h0M559.7 600.8h0M570.9 601.8h0M585.8 601.1h0M588.9 601.5h0M604.0 601.6h0M627.3 600.5h0M629.3 600.8h0M654.4 600.7h0M601.1 602.9h0M603.4 604.3h0M623.5 603.1h0M632.3 603.1h0M656.5 603.5h0M658.3 603.6h0M599.2 606.3h0M600.8 605.7h0M616.5 605.6h0M632.3 605.5h0M656.0 606.3h0M658.3 605.8h0M662.3 606.0h0M595.8 608.6h0M598.7 609.1h0M601.0 608.7h0M604.4 607.8h0M606.3 608.9h0M656.7 609.0h0M662.0 608.7h0M599.4 611.7h0M600.7 611.5h0M651.7 611.2h0M576.1 613.9h0M590.7 613.4h0M597.1 612.9h0M614.1 613.9h0M564.0 616.9h0M594.4 616.6h0M613.4 615.4h0M617.3 615.9h0M576.5 618.2h0M578.4 618.7h0M631.0 618.1h0M557.1 621.4h0M558.6 620.6h0M573.7 621.7h0M631.0 620.7h0M556.9 623.8h0M627.0 624.3h0M559.0 625.7h0M564.3 626.8h0M573.7 626.8h0M627.0 625.9h0M572.1 629.1h0M574.0 628.2h0M627.0 628.1h0M561.8 630.5h0M564.2 630.4h0M573.5 631.4h0M577.1 632.8h0" stroke="#996566" stroke-width="4.6" stroke-linecap="round"/>
<path d="M597.2 511.7h0M591.1 513.4h0M601.0 513.7h0M604.1 513.9h0M591.7 516.0h0M593.5 516.5h0M596.8 516.4h0M593.3 518.4h0M599.3 519.4h0M587.0 520.7h0M593.5 521.7h0M597.3 521.3h0M604.0 521.8h0M600.9 523.4h0M603.3 523.9h0M606.1 523.0h0M583.6 526.4h0M604.2 526.6h0M608.5 528.3h0M586.1 530.5h0M603.6 530.8h0M607.0 530.4h0M583.8 536.3h0M609.0 536.7h0M626.9 536.1h0M628.7 536.9h0M601.3 539.0h0M631.1 538.1h0M590.9 541.4h0M596.2 541.8h0M619.5 541.0h0M614.5 542.9h0M586.6 546.3h0M590.8 545.5h0M633.7 546.4h0M589.7 547.9h0M621.1 548.0h0M632.1 548.2h0M618.5 551.0h0M620.9 550.4h0M626.5 550.5h0M608.4 554.2h0M618.6 553.3h0M604.1 555.4h0M611.0 555.8h0M614.4 555.5h0M621.0 556.0h0M624.0 555.9h0M621.3 558.1h0M596.6 561.8h0M619.3 561.2h0M594.8 563.9h0M608.3 563.6h0M592.0 566.1h0M593.8 565.5h0M599.8 566.8h0M609.2 566.3h0M617.3 566.5h0M640.8 566.3h0M644.7 565.9h0M604.2 569.0h0M644.3 568.1h0M646.1 569.1h0M581.1 571.9h0M602.2 571.0h0M603.4 571.7h0M609.6 571.1h0M616.9 571.2h0M630.9 570.5h0M573.5 573.8h0M576.3 573.1h0M578.7 574.0h0M581.2 574.0h0M584.6 573.8h0M606.3 572.9h0M626.7 573.8h0M644.4 573.5h0M647.0 574.0h0M584.7 576.5h0M588.8 576.2h0M591.2 576.9h0M646.7 576.1h0M658.6 576.0h0M581.1 579.0h0M589.2 578.6h0M599.3 579.3h0M647.2 578.2h0M649.2 578.4h0M651.2 578.5h0M564.3 581.4h0M569.3 581.7h0M579.0 581.4h0M581.1 581.1h0M586.4 580.6h0M591.7 581.5h0M611.5 581.8h0M638.5 580.9h0M643.8 581.6h0M648.7 581.6h0M563.3 583.8h0M567.0 584.2h0M581.1 583.4h0M591.6 583.5h0M599.1 583.3h0M603.3 583.3h0M609.5 583.0h0M618.9 582.8h0M621.1 583.0h0M623.8 583.5h0M641.7 584.4h0M643.2 583.6h0M651.7 584.0h0M654.2 583.0h0M656.0 583.4h0M669.4 584.0h0M554.0 586.4h0M555.9 585.7h0M561.4 586.1h0M564.8 585.8h0M591.3 585.6h0M593.6 585.8h0M598.6 585.6h0M619.3 585.5h0M622.0 586.3h0M623.4 586.2h0M649.2 586.5h0M651.6 586.7h0M653.6 586.1h0M656.4 585.5h0M556.8 589.3h0M559.7 588.7h0M568.9 589.0h0M573.3 589.2h0M584.6 589.4h0M592.0 588.0h0M594.5 588.5h0M596.9 588.8h0M599.1 588.3h0M606.7 588.5h0M625.9 588.2h0M631.8 588.7h0M651.1 588.6h0M663.5 588.4h0M563.3 591.6h0M568.7 591.1h0M573.6 591.7h0M594.3 591.8h0M602.3 591.5h0M603.7 591.7h0M606.6 590.3h0M621.1 591.3h0M641.8 591.8h0M646.8 591.7h0M651.9 590.4h0M558.2 593.1h0M562.2 593.8h0M566.3 594.3h0M571.8 593.9h0M606.8 593.5h0M616.1 594.3h0M631.8 594.2h0M633.7 593.8h0M636.2 593.3h0M639.7 593.2h0M569.2 596.9h0M578.4 596.0h0M602.3 596.6h0M604.5 595.5h0M611.1 595.7h0M618.5 595.5h0M631.1 596.2h0M654.3 596.7h0M568.6 599.4h0M576.0 599.4h0M591.0 598.9h0M613.6 599.2h0M631.1 598.8h0M642.2 598.3h0M659.6 599.2h0M661.5 599.4h0M668.2 598.5h0M671.4 598.2h0M565.9 600.5h0M576.4 601.7h0M607.2 601.8h0M608.7 600.7h0M610.8 600.7h0M621.8 601.2h0M623.3 600.5h0M634.1 601.5h0M636.0 601.8h0M645.9 600.5h0M659.1 600.8h0M664.7 600.8h0M677.0 601.8h0M561.1 604.0h0M563.8 604.0h0M567.1 604.2h0M571.6 603.0h0M573.5 603.6h0M576.1 603.8h0M584.7 604.1h0M587.2 604.1h0M588.7 603.3h0M622.0 603.1h0M626.1 604.0h0M644.7 603.1h0M649.0 603.8h0M652.2 603.8h0M663.3 603.2h0M668.5 603.5h0M674.5 603.4h0M562.0 606.6h0M572.3 606.9h0M595.7 606.5h0M603.7 605.9h0M625.9 606.5h0M633.8 606.9h0M639.2 606.1h0M648.8 605.6h0M663.7 606.2h0M674.2 605.7h0M676.4 606.7h0M576.3 609.4h0M612.2 608.6h0M614.4 609.0h0M634.0 608.3h0M635.8 608.3h0M654.2 609.2h0M664.6 608.4h0M671.8 609.4h0M577.2 611.9h0M589.3 610.6h0M616.1 611.9h0M654.5 611.8h0M663.6 610.7h0M666.3 610.6h0M588.3 612.8h0M625.9 614.4h0M649.0 613.0h0M557.1 615.9h0M559.2 616.4h0M566.1 615.5h0M591.7 616.6h0M624.6 616.5h0M581.3 618.7h0M591.7 617.8h0M619.5 618.8h0M633.4 618.8h0M589.0 621.6h0M621.2 621.5h0M633.4 621.6h0M563.8 623.6h0M565.8 624.0h0M578.4 623.9h0M584.5 623.3h0M622.1 623.0h0M633.4 626.1h0M568.4 628.6h0M557.2 630.6h0M571.6 630.5h0M569.0 632.9h0M579.1 633.0h0" stroke="#9d9d9d" stroke-width="4.6" stroke-linecap="round"/>
<path d="M586.8 513.4h0M586.2 515.9h0M591.4 530.7h0M611.0 538.8h0M614.5 537.9h0M604.4 541.7h0M609.0 540.9h0M599.6 543.5h0M603.4 544.1h0M605.9 544.1h0M597.3 546.7h0M599.2 546.0h0M598.4 549.1h0M592.1 551.3h0M593.6 553.0h0M591.8 556.5h0M636.2 556.6h0M636.9 559.1h0M593.5 561.0h0M599.5 570.6h0M591.1 573.1h0M601.0 574.4h0M624.2 574.3h0M619.8 578.5h0M624.3 579.1h0M626.0 578.2h0M629.6 581.0h0M633.8 580.6h0M658.7 580.7h0M661.6 580.5h0M666.2 581.1h0M663.6 583.5h0M666.4 584.3h0M613.5 586.8h0M614.6 588.4h0M638.7 589.0h0M591.3 590.9h0M658.4 591.3h0M587.1 592.8h0M675.8 594.0h0M562.3 598.2h0M578.9 601.9h0M606.5 610.4h0M659.4 610.7h0M571.1 614.2h0M594.8 614.0h0M608.4 613.9h0M569.3 616.7h0M556.0 617.9h0M558.3 619.4h0M571.5 618.9h0M627.0 618.0h0M628.8 619.1h0M554.5 624.4h0M629.3 623.2h0M629.0 625.6h0M631.1 626.2h0" stroke="#848b97" stroke-width="4.6" stroke-linecap="round"/>
<path d="M596.6 513.2h0M599.2 516.5h0M596.1 518.3h0M599.1 521.7h0M584.2 523.6h0M586.7 523.2h0M594.0 523.5h0M598.7 522.8h0M582.1 525.5h0M591.5 525.5h0M579.8 528.7h0M580.7 528.9h0M583.9 528.5h0M596.5 529.3h0M611.9 528.7h0M614.0 529.1h0M578.6 531.0h0M581.1 530.4h0M583.7 530.8h0M609.0 530.5h0M582.0 534.1h0M584.3 533.3h0M596.3 533.7h0M609.0 533.3h0M582.0 536.9h0M594.7 536.6h0M630.8 536.2h0M583.4 539.2h0M585.8 538.0h0M594.1 537.8h0M604.2 539.0h0M607.0 538.8h0M589.1 540.9h0M593.7 540.9h0M599.3 540.6h0M620.8 541.5h0M589.8 544.3h0M590.8 544.2h0M593.4 543.0h0M621.2 543.3h0M588.4 545.6h0M594.6 546.1h0M622.1 546.6h0M623.8 546.5h0M586.3 548.1h0M604.7 547.9h0M607.3 547.9h0M588.4 551.4h0M616.0 551.3h0M628.5 551.4h0M630.9 550.6h0M589.8 554.0h0M613.4 553.4h0M616.0 553.0h0M622.0 552.9h0M624.4 553.7h0M626.6 554.0h0M599.1 556.2h0M602.0 556.4h0M606.0 555.3h0M626.5 556.1h0M603.9 558.0h0M612.0 558.7h0M608.5 561.7h0M629.5 561.4h0M631.2 561.4h0M634.6 560.8h0M635.7 560.6h0M591.8 563.8h0M596.4 562.9h0M613.6 563.6h0M616.5 563.0h0M618.6 563.7h0M627.1 563.7h0M629.0 564.0h0M639.5 563.6h0M641.1 562.9h0M601.2 565.4h0M603.9 565.4h0M611.3 566.5h0M618.7 566.9h0M622.3 566.7h0M626.5 565.6h0M629.1 565.9h0M639.6 566.4h0M582.3 569.4h0M601.8 568.9h0M606.6 568.3h0M611.7 568.4h0M616.8 568.7h0M623.3 569.1h0M639.2 568.0h0M641.4 568.9h0M583.3 570.6h0M606.9 570.9h0M614.4 571.6h0M624.6 571.0h0M643.2 571.3h0M587.2 574.0h0M603.6 573.8h0M614.2 572.9h0M628.6 573.9h0M648.7 573.9h0M579.1 576.7h0M581.5 575.7h0M611.2 576.2h0M628.6 576.3h0M649.3 575.8h0M651.4 576.7h0M568.4 578.0h0M572.0 579.2h0M584.4 578.9h0M594.0 579.1h0M596.8 578.3h0M600.9 578.8h0M603.6 579.4h0M632.2 578.0h0M635.8 578.6h0M643.4 579.2h0M654.2 578.8h0M577.1 580.7h0M583.9 581.7h0M588.4 580.9h0M604.4 581.2h0M641.7 581.7h0M645.8 581.0h0M556.3 584.2h0M587.1 583.2h0M588.3 583.0h0M600.9 583.0h0M648.4 584.1h0M559.5 585.9h0M567.2 586.8h0M568.6 586.3h0M586.8 586.4h0M597.1 586.6h0M606.2 586.2h0M626.8 586.6h0M628.3 586.4h0M669.4 585.7h0M562.1 588.4h0M601.3 588.2h0M603.5 589.2h0M617.3 589.3h0M618.5 588.2h0M622.0 589.0h0M623.3 588.4h0M640.9 589.4h0M673.8 588.1h0M553.6 591.4h0M559.4 590.9h0M562.3 591.1h0M570.9 591.8h0M609.7 591.4h0M618.5 590.7h0M629.7 590.3h0M631.2 590.9h0M634.0 591.7h0M664.3 590.4h0M556.0 593.6h0M564.8 592.9h0M568.8 592.9h0M574.6 592.8h0M575.7 593.0h0M579.1 593.7h0M594.2 593.2h0M601.4 593.4h0M603.5 594.3h0M608.9 593.5h0M611.2 593.9h0M613.6 593.8h0M618.8 593.9h0M644.6 593.2h0M653.9 593.0h0M678.9 593.8h0M556.7 596.1h0M567.1 596.9h0M576.5 596.2h0M581.2 595.6h0M583.5 596.5h0M593.5 596.5h0M613.8 595.8h0M616.8 595.7h0M621.9 596.1h0M657.3 596.4h0M567.3 597.9h0M599.7 599.1h0M611.0 599.4h0M616.5 598.3h0M623.3 598.4h0M644.1 598.9h0M645.7 598.8h0M648.7 598.0h0M656.5 598.4h0M665.7 599.4h0M674.0 598.0h0M564.1 601.2h0M568.4 601.7h0M584.6 601.7h0M613.7 601.1h0M639.2 600.9h0M649.0 601.3h0M651.1 601.7h0M657.0 601.1h0M661.1 601.4h0M667.1 601.0h0M674.2 601.9h0M568.6 604.1h0M581.6 604.0h0M606.3 603.9h0M612.3 604.2h0M614.7 603.0h0M616.3 604.3h0M633.5 603.9h0M635.9 603.0h0M638.3 604.3h0M653.5 603.8h0M661.0 604.2h0M666.1 603.4h0M672.3 603.1h0M676.0 603.8h0M568.3 605.4h0M574.3 606.0h0M577.0 605.6h0M579.4 606.4h0M594.5 606.6h0M607.1 606.5h0M619.1 605.8h0M636.3 605.4h0M641.0 606.7h0M644.2 605.9h0M646.2 605.6h0M652.0 605.4h0M654.2 606.0h0M564.4 608.3h0M565.8 608.0h0M572.3 609.0h0M573.4 608.1h0M593.6 609.3h0M608.2 609.1h0M618.2 609.3h0M631.9 608.8h0M639.0 608.0h0M644.0 608.2h0M649.2 608.4h0M666.2 608.1h0M669.8 608.6h0M673.2 609.0h0M569.4 611.7h0M587.0 611.5h0M591.4 611.1h0M611.3 611.4h0M614.2 611.4h0M619.0 611.0h0M630.9 611.9h0M633.8 610.5h0M648.2 610.8h0M568.3 612.8h0M619.2 613.6h0M629.2 612.9h0M631.9 613.5h0M634.3 613.0h0M652.3 613.8h0M562.3 616.7h0M579.0 616.9h0M619.7 615.6h0M621.7 616.2h0M626.2 615.5h0M634.5 615.4h0M616.1 618.9h0M621.5 618.3h0M561.2 621.8h0M564.5 621.6h0M581.3 621.3h0M586.6 620.8h0M623.3 620.5h0M561.8 622.9h0M576.6 623.2h0M586.3 623.5h0M581.3 625.6h0M576.5 628.8h0M578.5 628.5h0M633.7 628.8h0M566.6 630.8h0M568.4 631.2h0M578.7 630.7h0" stroke="#9d9d9d" stroke-width="3.8" stroke-linecap="round"/>
<path d="M598.5 512.9h0M601.0 516.1h0M602.0 518.9h0M596.2 523.3h0M598.4 528.7h0M603.5 534.0h0M626.6 534.1h0M600.9 536.4h0M599.4 537.9h0M585.9 543.9h0M617.0 544.2h0M609.7 546.4h0M614.3 546.1h0M614.7 549.3h0M607.1 551.5h0M609.3 551.7h0M611.6 551.6h0M613.9 550.7h0M609.7 555.9h0M626.0 558.6h0M607.2 560.9h0M602.2 563.8h0M634.0 562.8h0M636.1 563.3h0M597.2 565.8h0M606.5 565.9h0M632.1 565.4h0M637.1 566.5h0M628.7 569.1h0M631.0 567.9h0M633.7 568.9h0M636.3 568.6h0M573.6 571.8h0M578.8 570.8h0M631.6 573.7h0M633.9 573.2h0M638.5 573.0h0M568.7 576.6h0M607.2 575.7h0M609.3 576.4h0M637.0 575.6h0M639.0 576.0h0M564.1 577.9h0M566.2 578.0h0M638.5 578.2h0M641.0 578.8h0M600.9 581.1h0M651.9 581.5h0M669.6 581.5h0M571.5 584.3h0M574.3 583.6h0M579.2 583.6h0M584.2 583.8h0M645.9 583.8h0M671.1 583.4h0M576.2 585.5h0M644.2 585.6h0M671.0 586.4h0M674.0 586.3h0M570.9 588.8h0M582.3 588.5h0M643.3 588.9h0M648.5 589.2h0M584.0 591.8h0M596.4 591.6h0M599.1 591.4h0M644.4 591.5h0M574.4 595.6h0M572.0 599.0h0M574.8 597.9h0M618.6 598.6h0M573.7 600.9h0M591.9 601.1h0M668.2 601.1h0M592.2 603.2h0M598.6 602.9h0M618.9 604.2h0M642.2 603.2h0M584.4 605.9h0M592.1 605.7h0M611.0 606.5h0M568.8 608.7h0M579.3 608.3h0M582.0 609.2h0M584.5 608.2h0M586.9 607.9h0M591.0 607.9h0M622.0 609.4h0M629.7 609.2h0M641.2 609.3h0M645.7 609.4h0M566.2 610.6h0M584.7 611.9h0M623.3 611.3h0M629.5 611.0h0M646.6 611.0h0M561.4 613.1h0M566.0 612.9h0M578.5 613.5h0M586.3 614.1h0M636.6 613.8h0M582.3 615.5h0M583.4 616.7h0M588.2 618.3h0M636.5 618.1h0M581.3 624.1h0M582.0 628.6h0M581.2 633.0h0" stroke="#6f7e95" stroke-width="4.6" stroke-linecap="round"/>
<path d="M604.4 516.1h0M604.5 518.2h0M594.6 526.1h0M597.0 526.4h0M599.2 525.8h0M601.6 526.0h0M601.4 529.1h0M603.4 527.8h0M596.8 531.0h0M598.7 531.4h0M602.3 531.3h0M601.4 533.7h0M607.2 533.7h0M596.6 536.3h0M604.7 536.9h0M606.4 536.0h0M596.2 539.0h0M619.5 543.4h0M611.3 546.4h0M617.2 546.4h0M619.7 546.2h0M616.3 549.2h0M618.3 548.5h0M607.1 553.5h0M611.2 553.5h0M599.3 558.8h0M600.8 559.2h0M606.9 558.2h0M609.6 557.9h0M623.3 558.4h0M598.9 561.1h0M626.2 560.8h0M599.6 564.1h0M606.0 564.3h0M631.9 563.5h0M614.6 566.6h0M624.8 565.9h0M614.2 569.2h0M626.1 568.1h0M611.6 571.3h0M626.8 571.3h0M628.8 570.9h0M633.9 571.2h0M636.1 570.9h0M641.2 571.2h0M612.1 572.8h0M641.1 573.5h0M566.3 576.7h0M570.7 576.6h0M631.3 575.4h0M633.8 575.8h0M641.6 576.0h0M643.7 575.8h0M561.5 578.4h0M574.8 579.4h0M590.8 578.8h0M566.8 581.3h0M571.5 581.6h0M573.7 580.5h0M594.7 580.6h0M596.8 581.2h0M599.3 580.5h0M653.6 581.0h0M554.1 583.1h0M569.7 583.4h0M577.2 583.7h0M594.3 584.1h0M595.8 583.9h0M572.0 585.5h0M574.2 586.0h0M583.2 586.0h0M588.9 585.8h0M646.6 586.9h0M576.9 588.3h0M646.3 589.0h0M577.1 591.3h0M649.2 590.3h0M582.1 593.9h0M583.9 593.3h0M597.1 594.3h0M599.0 593.0h0M571.5 596.8h0M596.6 596.9h0M593.9 597.9h0M595.8 599.1h0M599.0 601.1h0M616.4 601.6h0M619.7 600.8h0M640.9 601.7h0M644.7 601.3h0M670.8 601.4h0M608.7 603.9h0M581.5 606.6h0M587.0 606.6h0M589.3 605.8h0M609.3 606.4h0M621.2 605.4h0M623.5 606.7h0M562.3 608.1h0M589.7 607.9h0M623.3 609.3h0M625.8 608.4h0M578.3 610.9h0M581.9 610.4h0M621.5 611.6h0M627.3 611.5h0M636.9 611.1h0M639.2 611.2h0M563.8 614.2h0M583.8 613.2h0M621.7 613.9h0M623.5 613.2h0M645.9 613.0h0M588.6 616.8h0M636.8 615.6h0M584.3 618.0h0M584.2 620.7h0M577.1 626.0h0M579.8 625.6h0M584.2 625.9h0M581.5 630.6h0" stroke="#6f7e95" stroke-width="3.8" stroke-linecap="round"/>
<path d="M588.9 531.8h0M586.1 534.4h0M598.4 551.4h0M603.7 551.0h0M600.9 553.9h0M604.2 553.9h0M593.8 571.7h0M599.8 573.7h0M586.7 576.8h0M631.3 583.4h0M634.6 584.0h0M635.8 586.0h0M671.3 590.4h0M674.2 590.5h0M589.1 593.6h0M648.3 594.3h0M621.8 598.3h0M558.4 611.8h0M557.3 614.4h0M571.6 616.8h0M574.5 616.0h0M576.0 615.6h0M568.9 618.6h0" stroke="#89161c" stroke-width="3.8" stroke-linecap="round"/>
<path d="M588.4 532.9h0M586.2 535.5h0M628.9 538.0h0M601.3 549.0h0M596.2 551.5h0M601.0 551.3h0M592.1 559.2h0M587.1 566.3h0M596.8 573.8h0M586.5 578.6h0M631.4 581.4h0M634.8 586.2h0M628.5 588.3h0M589.2 590.7h0M673.7 593.1h0M598.8 596.6h0M601.0 597.8h0M651.8 608.3h0M558.7 613.8h0M573.5 613.8h0M568.7 620.7h0M571.3 620.8h0M628.8 628.2h0" stroke="#89161c" stroke-width="4.6" stroke-linecap="round"/>
<path d="M599.8 532.8h0M629.5 533.5h0M585.7 541.6h0M608.8 549.2h0M604.1 561.7h0M621.8 561.6h0M608.3 574.1h0M636.5 573.7h0M578.6 586.0h0M580.7 586.5h0M579.8 588.2h0M594.3 600.4h0M596.1 600.7h0M593.7 603.0h0M596.8 602.8h0M561.1 611.6h0M640.8 611.7h0M581.8 612.9h0M639.2 613.1h0M586.0 615.8h0M585.9 617.9h0M639.8 618.5h0M634.8 623.6h0M638.6 622.9h0M636.2 625.8h0M584.0 628.9h0" stroke="#3b5881" stroke-width="4.6" stroke-linecap="round"/>
<path d="M598.3 536.6h0M584.0 541.2h0M584.4 543.6h0M612.0 547.8h0M601.0 561.4h0M624.3 560.5h0M603.5 563.2h0M622.2 563.7h0M623.3 564.0h0M634.1 566.3h0M638.7 571.6h0M579.6 591.3h0M581.5 590.9h0M564.5 611.0h0M643.4 611.4h0M641.5 613.9h0M643.8 612.9h0M638.2 616.7h0M636.7 620.9h0M639.7 621.6h0M636.3 624.2h0" stroke="#3b5881" stroke-width="3.8" stroke-linecap="round"/>
<path d="M614.3 535.9h0M616.5 536.0h0M616.2 538.6h0M607.0 541.6h0M611.1 541.3h0M601.3 543.4h0M609.1 543.7h0M606.1 545.4h0M597.2 548.1h0M594.0 550.4h0M596.9 554.1h0M598.2 554.2h0M594.6 556.9h0M594.5 559.3h0M617.1 558.7h0M634.6 558.2h0M638.5 558.6h0M591.8 560.5h0M586.8 564.1h0M584.2 566.3h0M586.5 569.0h0M594.6 568.5h0M594.5 574.3h0M621.0 575.4h0M623.6 576.2h0M614.8 578.1h0M659.4 578.3h0M664.0 581.2h0M629.6 583.5h0M636.3 583.6h0M661.4 583.2h0M612.1 586.1h0M638.9 586.4h0M612.3 588.7h0M634.3 589.0h0M636.4 588.4h0M656.9 589.4h0M658.3 588.1h0M672.0 589.3h0M587.3 591.3h0M656.6 591.0h0M668.3 590.8h0M591.4 593.7h0M626.0 593.8h0M659.6 593.8h0M589.7 595.6h0M626.5 596.5h0M634.6 598.0h0M659.2 607.9h0M603.3 610.9h0M601.5 613.8h0M566.5 619.2h0M626.8 621.9h0M629.5 621.2h0M568.8 623.3h0M571.6 623.6h0M631.3 623.9h0M556.8 626.3h0M567.1 635.6h0" stroke="#848b97" stroke-width="3.8" stroke-linecap="round"/>
<path d="M596.3 571.3h0" stroke="#686f7a" stroke-width="4.6" stroke-linecap="round"/>
<path d="M587.7 511.2h0M587.8 513.4h0M592.9 512.7h0M588.7 515.2h0M589.0 517.5h0M582.6 521.0h0M581.4 522.7h0M588.7 522.6h0M588.7 525.7h0M606.0 525.1h0M588.2 528.7h0M591.3 528.6h0M592.6 528.0h0M593.8 530.6h0M613.0 529.9h0M615.7 530.1h0M590.3 532.6h0M621.7 533.5h0M610.9 535.3h0M619.1 535.2h0M623.0 535.6h0M590.6 538.7h0M619.1 538.8h0M624.1 537.8h0M626.3 538.1h0M601.0 539.9h0M613.5 540.1h0M616.6 539.9h0M624.0 541.0h0M625.7 540.0h0M610.2 543.3h0M623.2 542.3h0M626.3 542.7h0M628.8 542.6h0M630.7 543.5h0M602.9 545.5h0M625.6 546.3h0M628.7 546.1h0M630.2 545.0h0M591.1 548.7h0M593.5 547.7h0M624.2 548.0h0M626.4 548.2h0M633.0 548.6h0M591.2 552.9h0M633.7 552.6h0M637.8 553.7h0M585.9 554.9h0M587.7 555.4h0M618.5 556.1h0M628.8 556.0h0M585.8 558.3h0M587.8 558.1h0M595.5 557.3h0M613.2 557.4h0M618.2 557.2h0M588.7 560.8h0M613.7 560.8h0M615.9 560.1h0M582.7 562.6h0M588.9 566.0h0M591.5 567.9h0M597.8 567.8h0M608.7 567.4h0M620.1 567.5h0M586.2 570.1h0M588.7 570.2h0M619.1 570.8h0M645.6 570.0h0M589.1 573.1h0M615.5 572.6h0M576.0 576.1h0M592.9 574.8h0M596.1 575.5h0M613.2 574.9h0M616.1 575.2h0M618.7 575.3h0M626.2 574.8h0M653.4 575.4h0M655.8 574.8h0M605.9 578.7h0M611.0 578.2h0M620.5 578.7h0M656.7 578.8h0M661.3 577.4h0M556.6 580.0h0M557.6 581.2h0M561.2 580.4h0M608.6 580.0h0M613.7 581.2h0M615.5 579.9h0M620.3 580.2h0M622.7 580.4h0M560.6 583.0h0M606.4 582.7h0M610.2 582.9h0M613.4 583.2h0M625.8 583.1h0M638.1 583.5h0M658.2 583.0h0M601.0 585.4h0M602.9 585.8h0M615.4 585.3h0M630.3 585.9h0M640.6 586.2h0M657.8 585.1h0M660.3 585.7h0M662.7 585.0h0M666.7 586.2h0M554.0 587.8h0M563.5 588.3h0M565.3 588.3h0M608.3 587.8h0M611.2 590.7h0M614.2 590.9h0M623.7 591.2h0M660.1 590.3h0M621.3 593.4h0M645.9 593.2h0M662.9 592.9h0M667.9 593.1h0M670.3 593.7h0M606.5 595.9h0M623.4 595.9h0M639.1 595.3h0M643.9 596.1h0M657.8 595.3h0M660.3 596.1h0M662.6 595.4h0M666.1 595.7h0M668.9 594.8h0M670.5 595.1h0M673.9 595.3h0M558.1 598.3h0M581.1 597.8h0M604.1 597.2h0M606.3 598.3h0M629.1 598.2h0M636.4 597.9h0M561.0 600.7h0M581.7 600.7h0M600.6 600.1h0M631.0 599.9h0M577.9 602.5h0M627.9 603.0h0M646.7 603.2h0M563.8 606.2h0M565.8 605.1h0M613.6 605.7h0M627.7 605.3h0M666.4 605.7h0M667.7 605.4h0M671.2 605.9h0M615.4 607.6h0M571.6 610.5h0M574.2 610.6h0M593.3 610.0h0M595.5 610.7h0M608.0 610.4h0M660.2 611.0h0M599.0 612.6h0M611.0 613.1h0M615.5 613.0h0M610.5 615.3h0M629.0 616.2h0M631.3 615.3h0M561.6 617.8h0M562.8 617.3h0M572.8 618.1h0M623.4 617.9h0M566.0 620.3h0M575.9 620.4h0M578.1 621.2h0M558.1 622.4h0M573.8 623.6h0M622.8 623.0h0M560.5 626.3h0M565.9 626.1h0M568.1 626.1h0M570.4 625.1h0M623.7 625.5h0M558.9 627.7h0M561.4 628.6h0M563.1 627.3h0M566.3 627.3h0M631.2 627.6h0M575.4 630.4h0M566.6 633.4h0M571.1 633.6h0M572.7 633.7h0" stroke="#e89a9c" stroke-width="2.4" stroke-linecap="round"/>
<path d="M593.1 510.2h0M586.6 517.2h0M590.9 518.5h0M581.2 520.3h0M588.4 520.8h0M591.0 521.1h0M601.2 520.2h0M591.4 522.9h0M586.5 526.1h0M586.4 527.8h0M605.7 527.4h0M611.4 529.7h0M593.4 532.9h0M611.2 532.6h0M612.9 532.2h0M615.8 532.6h0M618.7 532.5h0M622.6 532.5h0M587.7 535.6h0M591.4 534.7h0M621.1 535.2h0M587.5 537.1h0M608.4 537.8h0M621.0 537.9h0M628.9 541.1h0M631.1 539.8h0M595.7 543.7h0M600.4 545.0h0M627.6 548.3h0M623.2 550.0h0M632.9 550.6h0M586.1 552.8h0M628.6 553.3h0M631.2 552.2h0M635.4 553.5h0M595.9 555.5h0M615.2 555.9h0M630.3 555.1h0M633.8 555.5h0M628.3 557.9h0M630.8 557.8h0M581.5 559.8h0M583.5 560.5h0M585.9 560.1h0M610.9 560.8h0M638.6 560.6h0M581.2 562.2h0M587.8 562.2h0M611.4 562.3h0M583.9 568.0h0M588.7 567.3h0M595.6 567.4h0M618.9 568.5h0M591.2 570.2h0M621.4 570.3h0M618.3 572.4h0M620.5 573.2h0M574.1 574.6h0M598.9 575.7h0M601.3 575.6h0M602.6 575.0h0M576.1 577.4h0M578.3 578.1h0M608.6 578.6h0M615.8 578.5h0M627.8 578.5h0M633.9 578.2h0M606.3 580.3h0M617.7 579.9h0M626.3 580.7h0M635.5 581.1h0M656.2 579.7h0M559.0 582.7h0M615.0 582.8h0M608.7 584.9h0M586.0 588.1h0M588.9 588.1h0M652.8 587.5h0M660.1 588.5h0M665.8 587.4h0M667.8 588.3h0M555.2 589.7h0M565.5 590.5h0M615.6 590.2h0M625.7 591.1h0M635.7 589.8h0M637.6 590.8h0M653.3 590.9h0M665.5 589.8h0M623.8 592.4h0M628.7 592.8h0M640.8 593.2h0M650.6 593.5h0M655.7 592.2h0M660.7 593.1h0M666.4 593.0h0M558.2 595.8h0M561.4 595.7h0M563.3 595.2h0M585.4 596.1h0M590.4 595.5h0M607.9 596.1h0M628.7 595.2h0M633.7 595.0h0M635.1 595.0h0M641.4 595.7h0M645.4 595.1h0M648.3 595.9h0M651.5 595.9h0M675.6 595.9h0M563.8 597.5h0M578.0 597.6h0M583.8 598.1h0M585.1 598.4h0M588.1 597.5h0M609.0 597.8h0M625.2 598.4h0M638.7 597.1h0M650.6 597.8h0M653.0 597.3h0M663.9 598.0h0M675.3 598.0h0M559.0 600.1h0M570.1 601.1h0M585.1 600.3h0M588.2 600.8h0M603.3 600.9h0M626.5 599.7h0M628.6 600.1h0M653.7 600.0h0M600.3 602.2h0M602.6 603.6h0M622.8 602.3h0M631.5 602.4h0M655.8 602.8h0M657.6 602.9h0M598.4 605.6h0M600.1 604.9h0M615.8 604.8h0M631.6 604.7h0M655.2 605.6h0M657.5 605.1h0M661.5 605.3h0M595.1 607.9h0M598.0 608.4h0M600.3 608.0h0M603.7 607.1h0M605.6 608.1h0M656.0 608.3h0M661.3 607.9h0M598.7 611.0h0M600.0 610.8h0M651.0 610.5h0M575.3 613.2h0M590.0 612.6h0M596.4 612.2h0M613.4 613.2h0M563.2 616.2h0M593.7 615.8h0M612.7 614.6h0M616.5 615.2h0M575.7 617.5h0M577.7 618.0h0M630.2 617.3h0M556.4 620.6h0M557.9 619.9h0M573.0 621.0h0M630.2 620.0h0M556.1 623.1h0M626.2 623.5h0M558.3 625.0h0M563.6 626.1h0M573.0 626.1h0M626.2 625.2h0M571.4 628.4h0M573.2 627.4h0M626.2 627.4h0M561.1 629.8h0M563.4 629.6h0M572.8 630.7h0M576.3 632.1h0" stroke="#e89a9c" stroke-width="3.0" stroke-linecap="round"/>
<path d="M596.4 510.9h0M590.4 512.7h0M600.3 513.0h0M603.3 513.2h0M591.0 515.3h0M592.7 515.8h0M596.1 515.6h0M592.5 517.7h0M598.6 518.6h0M586.3 520.0h0M592.7 521.0h0M596.5 520.5h0M603.2 521.1h0M600.1 522.6h0M602.6 523.2h0M605.4 522.2h0M582.8 525.7h0M603.5 525.9h0M607.7 527.6h0M585.3 529.8h0M602.9 530.1h0M606.3 529.6h0M583.0 535.6h0M608.3 536.0h0M626.2 535.4h0M628.0 536.1h0M600.5 538.3h0M630.4 537.4h0M590.2 540.7h0M595.5 541.1h0M618.8 540.2h0M613.8 542.1h0M585.9 545.6h0M590.1 544.7h0M633.0 545.7h0M588.9 547.1h0M620.4 547.3h0M631.4 547.4h0M617.8 550.2h0M620.1 549.7h0M625.8 549.7h0M607.6 553.4h0M617.9 552.5h0M603.4 554.7h0M610.3 555.1h0M613.7 554.8h0M620.3 555.2h0M623.3 555.2h0M620.6 557.4h0M595.9 561.1h0M618.6 560.4h0M594.0 563.2h0M607.6 562.8h0M591.3 565.4h0M593.1 564.7h0M599.1 566.1h0M608.5 565.6h0M616.5 565.8h0M640.0 565.6h0M644.0 565.2h0M603.4 568.3h0M643.6 567.3h0M645.4 568.3h0M580.4 571.2h0M601.5 570.2h0M602.7 570.9h0M608.8 570.4h0M616.2 570.5h0M630.1 569.8h0M572.8 573.1h0M575.6 572.4h0M578.0 573.2h0M580.4 573.2h0M583.9 573.1h0M605.5 572.2h0M626.0 573.1h0M643.7 572.8h0M646.2 573.3h0M583.9 575.8h0M588.1 575.5h0M590.4 576.2h0M645.9 575.4h0M657.8 575.3h0M580.4 578.3h0M588.4 577.8h0M598.6 578.5h0M646.5 577.4h0M648.5 577.7h0M650.5 577.7h0M563.6 580.7h0M568.5 581.0h0M578.3 580.6h0M580.3 580.4h0M585.7 579.9h0M590.9 580.8h0M610.8 581.0h0M637.8 580.2h0M643.0 580.8h0M648.0 580.9h0M562.5 583.1h0M566.2 583.5h0M580.3 582.7h0M590.9 582.8h0M598.4 582.6h0M602.6 582.5h0M608.8 582.2h0M618.2 582.1h0M620.3 582.3h0M623.0 582.8h0M641.0 583.7h0M642.5 582.9h0M651.0 583.3h0M653.5 582.3h0M655.3 582.6h0M668.7 583.3h0M553.3 585.7h0M555.2 584.9h0M560.7 585.4h0M564.1 585.1h0M590.6 584.8h0M592.8 585.1h0M597.8 584.9h0M618.5 584.8h0M621.3 585.5h0M622.7 585.4h0M648.5 585.8h0M650.9 586.0h0M652.8 585.4h0M655.7 584.8h0M556.0 588.5h0M558.9 588.0h0M568.2 588.3h0M572.6 588.5h0M583.8 588.7h0M591.3 587.3h0M593.8 587.7h0M596.1 588.1h0M598.4 587.6h0M606.0 587.8h0M625.1 587.5h0M631.1 587.9h0M650.3 587.8h0M662.8 587.6h0M562.6 590.8h0M567.9 590.4h0M572.9 590.9h0M593.6 591.0h0M601.5 590.8h0M602.9 591.0h0M605.9 589.6h0M620.3 590.5h0M641.1 591.1h0M646.1 591.0h0M651.2 589.7h0M557.5 592.4h0M561.5 593.0h0M565.5 593.6h0M571.1 593.1h0M606.1 592.8h0M615.3 593.6h0M631.1 593.5h0M633.0 593.0h0M635.5 592.6h0M639.0 592.5h0M568.4 596.1h0M577.7 595.3h0M601.5 595.8h0M603.7 594.8h0M610.3 595.0h0M617.8 594.7h0M630.4 595.5h0M653.5 596.0h0M567.9 598.7h0M575.3 598.6h0M590.2 598.1h0M612.8 598.5h0M630.4 598.1h0M641.5 597.6h0M658.8 598.4h0M660.8 598.7h0M667.5 597.7h0M670.7 597.4h0M565.1 599.8h0M575.6 601.0h0M606.4 601.1h0M607.9 599.9h0M610.1 600.0h0M621.1 600.5h0M622.6 599.8h0M633.3 600.8h0M635.3 601.1h0M645.1 599.8h0M658.4 600.0h0M663.9 600.1h0M676.3 601.1h0M560.4 603.3h0M563.1 603.3h0M566.4 603.5h0M570.9 602.3h0M572.8 602.9h0M575.3 603.1h0M583.9 603.4h0M586.5 603.3h0M588.0 602.6h0M621.3 602.4h0M625.4 603.2h0M644.0 602.4h0M648.3 603.1h0M651.4 603.1h0M662.6 602.5h0M667.7 602.8h0M673.7 602.7h0M561.3 605.9h0M571.5 606.2h0M595.0 605.8h0M603.0 605.1h0M625.2 605.7h0M633.1 606.2h0M638.5 605.4h0M648.0 604.9h0M662.9 605.5h0M673.5 605.0h0M675.6 606.0h0M575.5 608.7h0M611.5 607.8h0M613.7 608.3h0M633.3 607.6h0M635.1 607.6h0M653.4 608.4h0M663.8 607.7h0M671.0 608.6h0M576.5 611.2h0M588.6 609.8h0M615.4 611.1h0M653.8 611.1h0M662.8 609.9h0M665.6 609.9h0M587.5 612.1h0M625.2 613.7h0M648.3 612.2h0M556.4 615.2h0M558.5 615.7h0M565.4 614.8h0M590.9 615.9h0M623.9 615.7h0M580.6 618.0h0M591.0 617.1h0M618.7 618.1h0M632.7 618.1h0M588.3 620.9h0M620.5 620.8h0M632.6 620.9h0M563.1 622.9h0M565.0 623.3h0M577.7 623.2h0M583.7 622.5h0M621.4 622.3h0M632.7 625.4h0M567.7 627.8h0M556.5 629.9h0M570.8 629.7h0M568.3 632.1h0M578.4 632.3h0" stroke="#eeeeee" stroke-width="3.0" stroke-linecap="round"/>
<path d="M586.1 512.7h0M585.4 515.2h0M590.6 529.9h0M610.2 538.0h0M613.8 537.2h0M603.6 541.0h0M608.3 540.2h0M598.9 542.8h0M602.7 543.4h0M605.1 543.3h0M596.5 546.0h0M598.5 545.2h0M597.7 548.4h0M591.4 550.5h0M592.9 552.2h0M591.0 555.7h0M635.5 555.8h0M636.2 558.4h0M592.7 560.3h0M598.8 569.9h0M590.4 572.4h0M600.3 573.7h0M623.4 573.6h0M619.0 577.7h0M623.6 578.4h0M625.2 577.5h0M628.9 580.3h0M633.0 579.9h0M657.9 580.0h0M660.8 579.8h0M665.5 580.3h0M662.8 582.8h0M665.7 583.6h0M612.8 586.1h0M613.9 587.7h0M637.9 588.2h0M590.6 590.2h0M657.7 590.6h0M586.4 592.1h0M675.1 593.2h0M561.6 597.4h0M578.2 601.2h0M605.8 609.6h0M658.7 609.9h0M570.4 613.4h0M594.0 613.2h0M607.7 613.2h0M568.6 615.9h0M555.3 617.1h0M557.6 618.6h0M570.8 618.2h0M626.2 617.3h0M628.1 618.4h0M553.8 623.6h0M628.6 622.5h0M628.2 624.8h0M630.3 625.4h0" stroke="#c9d4e6" stroke-width="3.0" stroke-linecap="round"/>
<path d="M596.0 512.6h0M598.5 515.9h0M595.5 517.7h0M598.5 521.1h0M583.6 523.0h0M586.1 522.6h0M593.3 522.9h0M598.1 522.2h0M581.5 524.9h0M590.9 524.9h0M579.2 528.1h0M580.1 528.3h0M583.3 527.9h0M595.9 528.7h0M611.3 528.1h0M613.4 528.5h0M578.0 530.4h0M580.5 529.8h0M583.1 530.2h0M608.4 529.9h0M581.4 533.5h0M583.7 532.7h0M595.7 533.1h0M608.4 532.7h0M581.4 536.3h0M594.1 536.0h0M630.2 535.6h0M582.8 538.6h0M585.2 537.4h0M593.5 537.2h0M603.6 538.4h0M606.4 538.2h0M588.5 540.3h0M593.1 540.3h0M598.7 539.9h0M620.2 540.8h0M589.2 543.7h0M590.2 543.6h0M592.7 542.4h0M620.6 542.7h0M587.8 545.0h0M594.0 545.5h0M621.5 546.0h0M623.1 545.9h0M585.7 547.4h0M604.1 547.3h0M606.6 547.3h0M587.8 550.8h0M615.4 550.7h0M627.8 550.8h0M630.3 550.0h0M589.2 553.4h0M612.8 552.8h0M615.4 552.4h0M621.4 552.3h0M623.8 553.1h0M626.0 553.3h0M598.5 555.6h0M601.4 555.8h0M605.4 554.7h0M625.9 555.5h0M603.3 557.4h0M611.4 558.1h0M607.9 561.1h0M628.9 560.8h0M630.6 560.8h0M634.0 560.2h0M635.1 560.0h0M591.2 563.2h0M595.8 562.3h0M612.9 563.0h0M615.9 562.4h0M618.0 563.1h0M626.5 563.1h0M628.4 563.4h0M638.9 562.9h0M640.5 562.3h0M600.6 564.8h0M603.3 564.8h0M610.7 565.9h0M618.1 566.3h0M621.7 566.1h0M625.9 564.9h0M628.5 565.2h0M639.0 565.8h0M581.7 568.8h0M601.2 568.3h0M606.0 567.7h0M611.0 567.8h0M616.2 568.0h0M622.7 568.5h0M638.6 567.3h0M640.8 568.2h0M582.7 570.0h0M606.3 570.3h0M613.8 571.0h0M624.0 570.3h0M642.6 570.7h0M586.5 573.4h0M603.0 573.1h0M613.6 572.3h0M628.0 573.3h0M648.1 573.3h0M578.5 576.1h0M580.9 575.1h0M610.6 575.5h0M628.0 575.7h0M648.7 575.2h0M650.8 576.1h0M567.8 577.4h0M571.4 578.6h0M583.8 578.3h0M593.4 578.5h0M596.2 577.7h0M600.3 578.2h0M603.0 578.8h0M631.6 577.4h0M635.2 578.0h0M642.7 578.5h0M653.6 578.2h0M576.5 580.1h0M583.3 581.1h0M587.8 580.3h0M603.8 580.6h0M641.1 581.1h0M645.2 580.4h0M555.7 583.6h0M586.5 582.6h0M587.7 582.3h0M600.3 582.4h0M647.8 583.5h0M558.9 585.3h0M566.6 586.2h0M568.0 585.7h0M586.2 585.8h0M596.5 586.0h0M605.6 585.6h0M626.2 586.0h0M627.7 585.8h0M668.8 585.1h0M561.5 587.8h0M600.7 587.6h0M602.9 588.6h0M616.7 588.7h0M617.8 587.6h0M621.4 588.4h0M622.7 587.8h0M640.3 588.8h0M673.2 587.5h0M553.0 590.7h0M558.8 590.3h0M561.7 590.5h0M570.3 591.2h0M609.1 590.8h0M617.8 590.1h0M629.1 589.7h0M630.6 590.3h0M633.4 591.1h0M663.7 589.8h0M555.4 593.0h0M564.2 592.3h0M568.2 592.3h0M574.0 592.2h0M575.1 592.4h0M578.5 593.1h0M593.6 592.6h0M600.7 592.8h0M602.9 593.7h0M608.2 592.9h0M610.6 593.2h0M613.0 593.2h0M618.2 593.2h0M644.0 592.6h0M653.3 592.4h0M678.3 593.2h0M556.1 595.4h0M566.5 596.3h0M575.9 595.6h0M580.6 595.0h0M582.9 595.9h0M592.9 595.9h0M613.2 595.2h0M616.2 595.1h0M621.3 595.5h0M656.7 595.8h0M566.7 597.3h0M599.1 598.4h0M610.4 598.8h0M615.9 597.7h0M622.7 597.8h0M643.5 598.2h0M645.1 598.2h0M648.1 597.4h0M655.9 597.8h0M665.1 598.8h0M673.4 597.4h0M563.5 600.6h0M567.8 601.1h0M583.9 601.1h0M613.1 600.4h0M638.6 600.3h0M648.3 600.7h0M650.5 601.1h0M656.4 600.4h0M660.5 600.8h0M666.5 600.4h0M673.6 601.2h0M568.0 603.5h0M581.0 603.4h0M605.7 603.3h0M611.6 603.6h0M614.1 602.4h0M615.7 603.7h0M632.9 603.3h0M635.3 602.4h0M637.7 603.7h0M652.8 603.2h0M660.4 603.6h0M665.5 602.8h0M671.6 602.5h0M675.4 603.2h0M567.7 604.8h0M573.7 605.4h0M576.4 605.0h0M578.8 605.8h0M593.9 606.0h0M606.5 605.9h0M618.5 605.2h0M635.7 604.8h0M640.4 606.1h0M643.6 605.3h0M645.6 605.0h0M651.3 604.8h0M653.6 605.4h0M563.8 607.7h0M565.2 607.4h0M571.7 608.4h0M572.8 607.5h0M593.0 608.7h0M607.6 608.5h0M617.6 608.7h0M631.3 608.2h0M638.4 607.3h0M643.4 607.5h0M648.6 607.8h0M665.6 607.5h0M669.1 608.0h0M672.6 608.4h0M568.8 611.0h0M586.4 610.9h0M590.8 610.5h0M610.7 610.8h0M613.6 610.8h0M618.4 610.4h0M630.3 611.2h0M633.2 609.9h0M647.6 610.1h0M567.6 612.2h0M618.6 613.0h0M628.6 612.3h0M631.3 612.9h0M633.7 612.4h0M651.7 613.2h0M561.7 616.1h0M578.4 616.3h0M619.1 615.0h0M621.1 615.6h0M625.6 614.9h0M633.9 614.8h0M615.5 618.3h0M620.9 617.7h0M560.6 621.2h0M563.9 620.9h0M580.7 620.7h0M586.0 620.2h0M622.7 619.9h0M561.2 622.3h0M575.9 622.6h0M585.7 622.9h0M580.7 625.0h0M575.9 628.2h0M577.9 627.9h0M633.1 628.2h0M566.0 630.2h0M567.8 630.6h0M578.1 630.1h0" stroke="#eeeeee" stroke-width="2.4" stroke-linecap="round"/>
<path d="M597.8 512.2h0M600.2 515.3h0M601.3 518.1h0M595.4 522.5h0M597.6 528.0h0M602.8 533.2h0M625.9 533.3h0M600.2 535.6h0M598.7 537.2h0M585.1 543.1h0M616.3 543.4h0M608.9 545.6h0M613.6 545.3h0M614.0 548.6h0M606.4 550.7h0M608.6 551.0h0M610.8 550.8h0M613.1 549.9h0M609.0 555.1h0M625.2 557.9h0M606.5 560.1h0M601.4 563.1h0M633.3 562.1h0M635.4 562.6h0M596.5 565.0h0M605.8 565.2h0M631.4 564.7h0M636.3 565.7h0M628.0 568.3h0M630.2 567.2h0M633.0 568.2h0M635.6 567.9h0M572.9 571.0h0M578.0 570.0h0M630.9 572.9h0M633.2 572.5h0M637.8 572.2h0M568.0 575.9h0M606.5 575.0h0M608.5 575.6h0M636.3 574.8h0M638.3 575.3h0M563.3 577.1h0M565.5 577.3h0M637.8 577.5h0M640.3 578.0h0M600.2 580.3h0M651.2 580.7h0M668.8 580.8h0M570.8 583.6h0M573.6 582.9h0M578.4 582.9h0M583.5 583.1h0M645.2 583.1h0M670.3 582.7h0M575.5 584.8h0M643.4 584.8h0M670.3 585.7h0M673.2 585.6h0M570.2 588.1h0M581.5 587.8h0M642.6 588.1h0M647.7 588.4h0M583.3 591.0h0M595.7 590.9h0M598.4 590.7h0M643.7 590.8h0M573.6 594.9h0M571.2 598.3h0M574.0 597.2h0M617.9 597.8h0M572.9 600.2h0M591.2 600.4h0M667.5 600.4h0M591.5 602.5h0M597.9 602.2h0M618.1 603.5h0M641.4 602.4h0M583.6 605.1h0M591.3 605.0h0M610.3 605.7h0M568.1 608.0h0M578.6 607.5h0M581.3 608.4h0M583.7 607.5h0M586.1 607.1h0M590.3 607.2h0M621.3 608.6h0M628.9 608.4h0M640.4 608.6h0M645.0 608.7h0M565.5 609.9h0M584.0 611.2h0M622.6 610.6h0M628.8 610.3h0M645.8 610.2h0M560.7 612.3h0M565.3 612.1h0M577.8 612.8h0M585.6 613.4h0M635.9 613.1h0M581.5 614.8h0M582.6 615.9h0M587.5 617.6h0M635.8 617.4h0M580.6 623.4h0M581.2 627.9h0M580.5 632.3h0" stroke="#a9c0e2" stroke-width="3.0" stroke-linecap="round"/>
<path d="M603.8 515.5h0M603.9 517.6h0M594.0 525.5h0M596.4 525.7h0M598.6 525.2h0M601.0 525.4h0M600.8 528.5h0M602.8 527.2h0M596.2 530.4h0M598.1 530.8h0M601.7 530.7h0M600.8 533.1h0M606.6 533.1h0M596.0 535.7h0M604.1 536.3h0M605.8 535.4h0M595.5 538.4h0M618.9 542.8h0M610.7 545.7h0M616.6 545.8h0M619.1 545.6h0M615.7 548.6h0M617.7 547.9h0M606.5 552.9h0M610.6 552.9h0M598.7 558.2h0M600.2 558.6h0M606.3 557.6h0M609.0 557.3h0M622.7 557.8h0M598.3 560.5h0M625.6 560.2h0M599.0 563.5h0M605.4 563.7h0M631.3 562.9h0M614.0 566.0h0M624.2 565.3h0M613.6 568.6h0M625.5 567.5h0M610.9 570.7h0M626.2 570.7h0M628.2 570.3h0M633.3 570.6h0M635.5 570.3h0M640.6 570.6h0M611.5 572.2h0M640.5 572.9h0M565.7 576.1h0M570.1 576.0h0M630.7 574.7h0M633.2 575.2h0M640.9 575.4h0M643.1 575.2h0M560.9 577.8h0M574.1 578.8h0M590.2 578.2h0M566.2 580.7h0M570.9 581.0h0M573.1 579.9h0M594.1 580.0h0M596.2 580.6h0M598.7 579.9h0M653.0 580.4h0M553.5 582.5h0M569.0 582.8h0M576.6 583.1h0M593.7 583.5h0M595.2 583.3h0M571.4 584.9h0M573.6 585.3h0M582.6 585.4h0M588.3 585.2h0M646.0 586.3h0M576.3 587.7h0M645.7 588.4h0M576.5 590.7h0M648.6 589.7h0M581.5 593.3h0M583.3 592.7h0M596.5 593.7h0M598.4 592.4h0M570.9 596.2h0M595.9 596.3h0M593.3 597.3h0M595.2 598.5h0M598.4 600.5h0M615.8 601.0h0M619.1 600.1h0M640.3 601.1h0M644.1 600.6h0M670.2 600.8h0M608.1 603.3h0M580.9 606.0h0M586.3 606.0h0M588.7 605.2h0M608.7 605.8h0M620.6 604.8h0M622.9 606.1h0M561.7 607.5h0M589.1 607.3h0M622.7 608.7h0M625.1 607.8h0M577.6 610.3h0M581.3 609.7h0M620.9 611.0h0M626.7 610.9h0M636.3 610.5h0M638.6 610.6h0M563.2 613.5h0M583.2 612.5h0M621.1 613.3h0M622.9 612.6h0M645.3 612.4h0M588.0 616.2h0M636.2 615.0h0M583.7 617.4h0M583.6 620.1h0M576.5 625.4h0M579.2 625.0h0M583.6 625.3h0M580.9 630.0h0" stroke="#a9c0e2" stroke-width="2.4" stroke-linecap="round"/>
<path d="M588.3 531.2h0M585.5 533.8h0M597.8 550.8h0M603.1 550.4h0M600.3 553.3h0M603.5 553.3h0M593.2 571.1h0M599.2 573.0h0M586.1 576.2h0M630.7 582.8h0M634.0 583.4h0M635.2 585.4h0M670.7 589.8h0M673.6 589.9h0M588.5 593.0h0M647.7 593.7h0M621.2 597.7h0M557.8 611.1h0M556.6 613.8h0M570.9 616.1h0M573.9 615.4h0M575.4 615.0h0M568.3 618.0h0" stroke="#d0222b" stroke-width="2.4" stroke-linecap="round"/>
<path d="M587.7 532.1h0M585.5 534.8h0M628.2 537.2h0M600.6 548.3h0M595.5 550.8h0M600.3 550.6h0M591.4 558.5h0M586.4 565.6h0M596.1 573.0h0M585.8 577.8h0M630.7 580.6h0M634.0 585.5h0M627.7 587.6h0M588.5 589.9h0M673.0 592.4h0M598.0 595.8h0M600.3 597.1h0M651.0 607.6h0M558.0 613.1h0M572.8 613.1h0M568.0 620.0h0M570.5 620.1h0M628.1 627.5h0" stroke="#d0222b" stroke-width="3.0" stroke-linecap="round"/>
<path d="M599.0 532.1h0M628.7 532.7h0M585.0 540.8h0M608.0 548.5h0M603.3 561.0h0M621.0 560.8h0M607.5 573.4h0M635.8 572.9h0M577.9 585.3h0M580.0 585.8h0M579.0 587.4h0M593.5 599.6h0M595.3 600.0h0M593.0 602.3h0M596.1 602.1h0M560.3 610.9h0M640.1 611.0h0M581.1 612.2h0M638.5 612.3h0M585.3 615.0h0M585.2 617.1h0M639.1 617.8h0M634.0 622.9h0M637.9 622.1h0M635.5 625.1h0M583.3 628.1h0" stroke="#5a86c4" stroke-width="3.0" stroke-linecap="round"/>
<path d="M597.7 535.9h0M583.4 540.6h0M583.8 543.0h0M611.4 547.2h0M600.3 560.8h0M623.7 559.9h0M602.8 562.6h0M621.6 563.1h0M622.7 563.4h0M633.5 565.7h0M638.1 571.0h0M579.0 590.7h0M580.8 590.3h0M563.9 610.4h0M642.8 610.8h0M640.9 613.3h0M643.2 612.3h0M637.6 616.1h0M636.1 620.3h0M639.1 621.0h0M635.7 623.6h0" stroke="#5a86c4" stroke-width="2.4" stroke-linecap="round"/>
<path d="M613.7 535.3h0M615.9 535.4h0M615.6 538.0h0M606.4 541.0h0M610.5 540.7h0M600.7 542.8h0M608.5 543.1h0M605.5 544.8h0M596.6 547.4h0M593.4 549.7h0M596.3 553.5h0M597.6 553.6h0M594.0 556.3h0M593.9 558.7h0M616.5 558.1h0M634.0 557.6h0M637.9 558.0h0M591.2 559.9h0M586.2 563.5h0M583.6 565.7h0M585.9 568.4h0M594.0 567.9h0M593.9 573.7h0M620.4 574.8h0M623.0 575.6h0M614.2 577.5h0M658.8 577.7h0M663.4 580.6h0M629.0 582.9h0M635.7 583.0h0M660.8 582.6h0M611.5 585.5h0M638.3 585.8h0M611.7 588.1h0M633.7 588.4h0M635.8 587.8h0M656.3 588.8h0M657.7 587.5h0M671.4 588.7h0M586.7 590.6h0M656.0 590.4h0M667.7 590.2h0M590.8 593.1h0M625.4 593.2h0M659.0 593.2h0M589.1 595.0h0M625.9 595.9h0M634.0 597.4h0M658.6 607.3h0M602.7 610.3h0M600.9 613.2h0M565.9 618.6h0M626.2 621.2h0M628.9 620.6h0M568.2 622.7h0M571.0 623.0h0M630.6 623.3h0M556.2 625.7h0M566.5 635.0h0" stroke="#c9d4e6" stroke-width="2.4" stroke-linecap="round"/>
<path d="M595.6 570.5h0" stroke="#9fa9ba" stroke-width="3.0" stroke-linecap="round"/>
<path d="M587.1 513.5h0M606.1 525.5h0M608.3 527.6h0M658.6 579.3h0M650.4 585.5h0M671.4 592.8h0M571.6 613.3h0M573.4 612.9h0M571.0 617.2h0M575.6 635.9h0" stroke="#99999d" stroke-width="4.6" stroke-linecap="round"/>
<path d="M590.3 513.1h0M592.3 513.3h0M599.6 513.2h0M602.7 513.1h0M588.5 514.8h0M599.8 515.4h0M588.6 518.0h0M593.6 518.5h0M597.5 517.6h0M599.8 518.4h0M605.4 517.2h0M590.6 520.3h0M595.2 520.8h0M597.1 521.1h0M600.7 520.3h0M580.8 523.5h0M592.8 523.6h0M600.6 522.1h0M602.2 523.5h0M605.8 522.0h0M590.7 526.0h0M592.9 525.4h0M582.4 528.2h0M585.5 528.5h0M587.6 528.6h0M592.8 527.8h0M595.7 527.7h0M594.8 529.6h0M605.1 530.0h0M592.6 533.2h0M607.5 532.6h0M585.5 536.0h0M589.8 535.9h0M593.3 536.1h0M594.9 535.3h0M584.8 537.2h0M588.3 537.8h0M594.8 537.6h0M597.8 537.4h0M608.4 538.1h0M587.2 540.2h0M590.7 540.8h0M593.3 539.6h0M595.4 540.6h0M590.3 542.5h0M595.1 543.3h0M610.3 543.1h0M593.0 545.4h0M595.7 544.6h0M601.0 545.8h0M604.7 545.6h0M610.4 544.9h0M589.6 548.5h0M596.0 547.9h0M597.5 548.4h0M607.3 548.2h0M606.0 550.2h0M622.9 532.9h0M627.6 534.7h0M623.0 537.9h0M624.3 537.6h0M627.3 537.6h0M624.5 539.6h0M628.2 539.7h0M619.4 541.8h0M625.0 542.2h0M619.6 545.7h0M623.1 544.8h0M625.5 545.5h0M630.0 544.6h0M632.2 545.4h0M620.7 547.3h0M624.7 548.0h0M627.1 547.1h0M620.6 550.7h0M622.2 550.3h0M620.5 551.9h0M627.0 551.9h0M654.2 575.1h0M656.3 575.7h0M655.5 577.3h0M661.3 577.1h0M656.9 580.7h0M664.4 579.4h0M656.3 583.2h0M664.0 583.2h0M655.4 585.4h0M669.0 585.3h0M648.4 588.0h0M652.9 587.5h0M669.4 588.3h0M670.3 587.6h0M673.0 586.8h0M642.9 589.8h0M652.9 589.9h0M663.8 590.7h0M665.4 589.3h0M670.5 589.7h0M676.8 589.7h0M646.5 592.3h0M648.0 591.8h0M656.3 592.8h0M660.4 592.7h0M666.8 593.2h0M651.6 594.6h0M655.5 595.8h0M658.3 595.1h0M665.7 595.3h0M675.5 594.8h0M646.2 597.6h0M651.8 597.5h0M653.6 597.4h0M676.0 596.8h0M641.8 600.0h0M645.9 599.8h0M650.6 599.9h0M653.4 599.5h0M660.5 600.2h0M666.4 599.6h0M668.4 599.5h0M637.9 603.0h0M640.5 602.3h0M648.9 602.1h0M660.9 602.5h0M668.9 602.4h0M653.9 604.5h0M658.2 605.4h0M661.3 605.2h0M678.6 604.4h0M648.7 608.1h0M653.5 607.2h0M655.9 607.2h0M658.1 607.9h0M666.4 608.2h0M669.4 607.3h0M670.7 607.8h0M653.9 609.9h0M660.8 609.4h0M663.8 610.8h0M653.8 613.1h0M626.7 612.8h0M629.2 615.8h0M626.9 617.4h0M628.8 616.9h0M614.4 619.7h0M623.9 620.2h0M628.8 619.8h0M637.3 620.6h0M619.2 622.7h0M626.5 622.8h0M636.3 622.3h0M628.8 624.9h0M632.5 627.0h0M624.6 630.3h0M632.3 629.4h0M566.8 581.2h0M563.9 582.9h0M566.0 583.5h0M569.1 582.5h0M566.5 587.7h0M571.8 588.0h0M576.5 587.9h0M558.6 590.8h0M561.4 590.0h0M569.2 590.7h0M571.9 590.6h0M574.3 590.0h0M556.1 592.2h0M558.1 592.4h0M563.5 592.9h0M566.4 592.3h0M568.7 592.3h0M573.7 592.4h0M556.6 596.0h0M558.7 594.9h0M561.8 595.4h0M565.9 595.7h0M571.1 594.6h0M581.2 594.7h0M559.6 598.7h0M564.2 598.3h0M569.3 597.5h0M571.1 597.9h0M574.4 597.2h0M574.3 600.6h0M561.9 603.2h0M573.4 603.6h0M577.1 603.1h0M582.0 602.2h0M583.2 602.8h0M558.7 604.9h0M571.7 605.4h0M574.6 605.9h0M579.1 606.1h0M568.2 608.2h0M570.7 607.7h0M575.7 608.6h0M579.2 608.0h0M581.3 608.0h0M559.2 610.1h0M561.1 611.1h0M576.1 610.7h0M578.7 610.0h0M581.7 610.5h0M567.2 612.6h0M568.9 613.0h0M581.0 613.6h0M556.4 615.6h0M558.2 615.3h0M560.7 614.8h0M563.8 614.9h0M565.6 615.3h0M569.6 615.6h0M579.3 615.4h0M558.6 618.6h0M578.4 617.7h0M590.8 618.2h0M564.5 620.2h0M565.8 620.8h0M576.0 620.6h0M554.6 622.2h0M559.2 622.7h0M561.8 622.6h0M563.1 623.4h0M566.9 622.5h0M568.3 623.3h0M576.7 622.8h0M586.2 623.5h0M556.0 625.9h0M558.5 624.9h0M563.1 625.3h0M568.7 625.9h0M574.4 625.8h0M578.7 625.3h0M585.9 625.9h0M559.1 627.6h0M566.3 628.5h0M571.0 628.0h0M574.6 628.5h0M576.2 627.7h0M578.2 628.6h0M584.2 628.4h0M559.6 630.5h0M561.1 630.2h0M563.8 630.3h0M569.0 629.6h0M571.8 630.7h0M574.3 629.7h0M583.5 629.7h0M566.6 633.1h0M569.2 632.2h0M573.6 632.7h0M569.6 635.1h0" stroke="#891319" stroke-width="4.6" stroke-linecap="round"/>
<path d="M595.7 512.2h0M597.2 513.0h0M590.3 514.8h0M593.2 516.0h0M595.3 515.4h0M597.2 515.1h0M603.4 515.6h0M606.1 515.7h0M584.7 518.5h0M590.2 518.4h0M595.8 517.8h0M603.2 517.3h0M583.5 521.1h0M585.9 519.7h0M587.9 519.7h0M592.9 519.6h0M583.6 522.3h0M595.2 523.0h0M597.5 522.5h0M580.9 525.3h0M582.6 525.3h0M596.1 525.3h0M603.5 525.4h0M591.1 527.5h0M603.6 528.0h0M583.0 529.8h0M585.2 530.0h0M582.1 532.8h0M594.7 532.0h0M582.7 535.0h0M607.9 535.0h0M610.1 535.9h0M583.1 538.5h0M590.6 538.2h0M592.6 537.8h0M610.7 538.1h0M593.2 542.8h0M597.1 543.3h0M603.0 545.2h0M607.6 544.5h0M592.6 547.2h0M605.2 547.1h0M602.3 553.0h0M623.1 530.1h0M617.1 535.6h0M620.7 534.4h0M622.4 534.7h0M625.5 535.7h0M619.9 536.8h0M629.3 537.6h0M632.5 537.5h0M617.1 540.0h0M620.7 539.9h0M622.5 539.5h0M630.3 540.4h0M632.0 540.8h0M622.0 542.6h0M627.7 543.0h0M629.8 542.1h0M632.1 541.9h0M627.7 545.0h0M622.2 547.6h0M629.4 547.8h0M632.7 547.1h0M625.6 549.4h0M622.0 552.3h0M624.8 552.0h0M665.7 579.6h0M668.3 580.1h0M644.2 583.2h0M661.0 583.3h0M668.4 582.2h0M661.9 584.4h0M666.7 584.2h0M671.1 584.5h0M644.3 588.2h0M646.3 587.8h0M651.3 587.3h0M655.6 587.2h0M660.9 587.1h0M663.0 587.4h0M645.3 590.2h0M648.8 590.5h0M650.8 590.5h0M658.8 590.4h0M661.1 589.9h0M668.8 590.5h0M650.6 593.0h0M654.2 592.9h0M659.1 593.0h0M664.1 592.6h0M669.4 591.9h0M646.6 594.3h0M647.9 595.3h0M653.1 595.7h0M669.3 595.7h0M671.7 594.5h0M674.3 595.5h0M644.1 597.8h0M648.7 597.1h0M656.0 596.9h0M658.5 597.5h0M661.8 598.0h0M664.2 596.8h0M666.1 596.9h0M668.9 596.7h0M671.2 596.9h0M674.4 597.1h0M642.9 600.4h0M648.8 599.5h0M656.8 599.7h0M659.4 599.4h0M663.9 600.5h0M671.9 600.1h0M673.8 600.3h0M676.5 600.2h0M650.5 603.1h0M654.4 602.2h0M655.5 602.3h0M658.3 602.0h0M664.2 603.0h0M665.7 602.4h0M676.0 602.6h0M648.6 604.3h0M651.6 604.4h0M656.0 604.5h0M663.0 605.4h0M666.4 605.6h0M668.6 605.2h0M651.4 606.9h0M661.6 607.3h0M664.4 607.2h0M656.6 609.3h0M665.5 610.0h0M668.0 609.3h0M655.5 612.1h0M622.1 612.6h0M623.7 612.4h0M624.3 614.8h0M626.3 615.6h0M622.6 618.2h0M624.9 616.8h0M631.5 616.9h0M634.6 618.1h0M622.2 620.5h0M626.5 619.8h0M631.1 620.6h0M634.5 620.7h0M622.1 621.8h0M624.2 623.2h0M629.7 622.6h0M631.3 622.7h0M634.6 623.2h0M621.6 625.1h0M624.6 625.3h0M627.5 625.6h0M633.7 625.0h0M623.8 627.8h0M568.1 580.1h0M571.3 583.4h0M562.1 586.0h0M564.6 585.1h0M566.6 585.1h0M568.9 586.0h0M571.7 585.7h0M573.8 585.1h0M576.3 585.0h0M578.1 585.2h0M561.5 588.5h0M563.9 588.5h0M569.0 588.3h0M573.8 588.4h0M578.5 587.7h0M556.3 590.7h0M563.9 589.6h0M566.2 590.7h0M576.9 590.4h0M554.3 592.7h0M561.0 592.9h0M570.8 593.0h0M576.5 592.9h0M563.6 595.2h0M568.4 594.9h0M573.7 594.9h0M577.1 595.5h0M562.1 598.1h0M565.6 598.1h0M575.6 598.2h0M558.5 599.8h0M561.4 599.7h0M564.2 600.7h0M569.3 599.6h0M571.0 601.2h0M575.7 600.2h0M556.4 602.5h0M558.7 603.5h0M571.2 603.1h0M576.9 605.2h0M581.9 605.1h0M559.1 607.9h0M574.5 607.9h0M564.5 610.6h0M565.8 610.3h0M568.5 609.7h0M571.3 611.2h0M556.7 612.6h0M559.4 612.8h0M561.3 613.0h0M563.5 613.1h0M575.6 612.2h0M578.3 612.7h0M582.0 616.2h0M589.7 616.2h0M560.8 618.0h0M564.5 617.9h0M566.5 618.0h0M581.0 617.3h0M556.0 620.6h0M559.6 620.9h0M562.1 619.7h0M579.4 620.6h0M588.8 619.9h0M556.0 622.3h0M578.7 622.3h0M589.6 622.4h0M554.5 625.8h0M562.1 624.9h0M566.1 625.2h0M571.7 625.4h0M576.3 624.9h0M584.3 625.3h0M554.5 628.5h0M556.1 628.6h0M561.0 627.6h0M569.1 627.7h0M567.1 630.9h0M558.3 632.6h0M562.0 633.1h0M563.4 632.2h0M570.6 633.5h0M562.1 634.6h0M571.9 635.4h0" stroke="#891319" stroke-width="3.8" stroke-linecap="round"/>
<path d="M586.0 514.9h0M590.5 529.5h0M592.8 530.8h0M615.7 537.2h0M658.4 577.9h0M660.7 580.5h0M658.0 582.0h0M653.2 585.8h0M650.9 610.0h0M573.9 615.6h0M556.2 617.7h0M569.2 618.7h0M569.2 620.4h0M574.1 634.9h0" stroke="#99999d" stroke-width="3.8" stroke-linecap="round"/>
<path d="M602.7 520.5h0M588.3 523.0h0M587.3 525.0h0M597.5 525.4h0M600.8 527.9h0M599.8 530.4h0M581.0 532.2h0M598.0 532.1h0M605.1 532.0h0M599.8 536.0h0M602.6 535.7h0M604.6 537.7h0M584.6 540.2h0M597.7 539.8h0M599.7 539.8h0M602.9 539.8h0M585.7 542.2h0M589.8 545.7h0M610.1 548.5h0M625.6 532.6h0M627.0 532.2h0M648.5 577.7h0M650.4 578.3h0M654.0 576.8h0M651.7 580.8h0M653.3 582.4h0M671.5 583.3h0M645.7 585.2h0M645.4 601.9h0M643.7 605.2h0M676.4 604.9h0M640.8 608.1h0M646.9 607.3h0M673.1 607.2h0M648.2 609.8h0M646.2 612.9h0M621.4 615.0h0M636.3 614.6h0M638.7 614.8h0M642.2 615.8h0M640.1 617.6h0M637.4 624.6h0M571.0 576.1h0M559.3 580.4h0M560.7 580.9h0M564.0 579.7h0M574.1 580.5h0M576.0 580.5h0M561.4 582.3h0M553.4 585.2h0M556.6 585.9h0M559.1 586.0h0M556.4 587.2h0M578.3 592.8h0M563.8 602.1h0M569.1 602.3h0M564.1 605.3h0M563.4 607.7h0M583.4 611.1h0M586.4 613.7h0M583.5 616.2h0M586.4 617.9h0M586.3 620.7h0M581.5 622.8h0M583.2 623.4h0M579.4 632.6h0" stroke="#7a0e13" stroke-width="3.8" stroke-linecap="round"/>
<path d="M605.2 519.5h0M586.0 522.7h0M586.0 525.3h0M600.8 525.6h0M597.5 527.6h0M597.4 531.0h0M602.8 530.4h0M599.9 532.9h0M602.8 532.4h0M580.0 535.5h0M597.8 534.7h0M605.3 536.1h0M600.6 538.5h0M602.2 538.5h0M583.5 540.3h0M587.3 542.6h0M588.6 546.0h0M607.9 549.9h0M648.9 579.8h0M654.0 579.7h0M646.5 581.9h0M651.5 582.5h0M676.7 587.5h0M644.0 603.1h0M671.4 602.7h0M674.4 603.2h0M641.7 604.6h0M673.0 605.8h0M643.1 607.7h0M637.9 610.5h0M641.2 610.1h0M646.1 610.3h0M639.7 613.1h0M634.2 614.5h0M636.4 616.9h0M619.9 620.3h0M638.6 619.6h0M639.1 622.1h0M638.7 625.0h0M634.1 626.8h0M571.1 573.4h0M569.1 575.9h0M558.9 578.2h0M560.8 577.3h0M564.2 577.2h0M566.4 577.6h0M568.1 577.2h0M571.3 578.6h0M571.2 580.4h0M573.5 582.9h0M576.6 582.4h0M559.0 587.3h0M553.1 590.3h0M579.2 591.0h0M566.1 600.6h0M566.6 602.6h0M561.9 605.1h0M565.8 604.9h0M568.3 604.9h0M584.3 604.9h0M561.8 607.4h0M584.6 608.2h0M583.3 613.2h0M586.1 615.6h0M584.2 618.0h0M589.1 618.0h0M581.4 620.2h0M583.6 620.3h0M581.9 625.4h0M580.9 628.4h0M579.0 630.0h0M581.5 631.1h0" stroke="#7a0e13" stroke-width="4.6" stroke-linecap="round"/>
<path d="M590.8 522.3h0M600.7 542.8h0M603.2 542.7h0M674.1 589.9h0M675.5 593.2h0M664.2 595.8h0M645.8 604.9h0M671.2 604.9h0M648.8 613.0h0M554.6 588.5h0" stroke="#9b6b6b" stroke-width="3.8" stroke-linecap="round"/>
<path d="M605.9 528.5h0M607.3 540.9h0M610.2 540.9h0M597.5 545.9h0M588.0 547.3h0M649.3 585.0h0M673.5 593.0h0M660.9 594.5h0M658.1 610.6h0M565.7 608.0h0M563.4 627.2h0M577.0 633.0h0" stroke="#687991" stroke-width="3.8" stroke-linecap="round"/>
<path d="M587.8 530.9h0M585.9 533.3h0M587.5 534.7h0M600.2 548.3h0M600.6 550.2h0M630.6 550.5h0M632.4 550.2h0M630.6 551.8h0M627.0 627.6h0M628.7 627.9h0M571.0 615.2h0M575.8 615.2h0M573.7 618.6h0M576.4 617.7h0M571.7 620.4h0M573.5 622.1h0" stroke="#952d30" stroke-width="3.8" stroke-linecap="round"/>
<path d="M587.3 533.4h0M590.1 533.2h0M602.6 548.2h0M598.4 549.9h0M602.3 550.1h0M628.2 550.3h0M664.3 584.7h0M665.7 587.5h0M627.3 629.8h0M629.3 629.8h0M557.1 600.5h0M573.1 621.1h0M572.0 622.6h0" stroke="#952d30" stroke-width="4.6" stroke-linecap="round"/>
<path d="M605.4 541.0h0M612.4 540.3h0M604.8 542.6h0M608.3 542.1h0M617.3 536.9h0M656.0 589.2h0M651.0 613.3h0M632.3 615.6h0M631.3 624.3h0M574.1 611.2h0M576.4 631.1h0" stroke="#687991" stroke-width="4.6" stroke-linecap="round"/>
<path d="M593.6 550.7h0M638.6 585.7h0M588.4 595.0h0M579.5 600.9h0M572.5 611.7h0M571.5 612.9h0" stroke="#848b97" stroke-width="4.6" stroke-linecap="round"/>
<path d="M595.6 550.6h0M600.5 552.7h0M635.9 584.3h0" stroke="#89161c" stroke-width="4.6" stroke-linecap="round"/>
<path d="M596.0 552.8h0M635.9 587.5h0M589.3 593.1h0" stroke="#89161c" stroke-width="3.8" stroke-linecap="round"/>
<path d="M597.6 553.0h0M638.4 586.8h0M635.8 598.2h0M587.1 592.5h0M579.2 602.4h0M562.1 601.1h0M574.5 611.5h0M575.1 613.2h0M560.1 582.0h0" stroke="#848b97" stroke-width="3.8" stroke-linecap="round"/>
<path d="M605.8 553.4h0M619.7 612.4h0M578.8 583.6h0M581.1 585.6h0M583.6 590.5h0M581.6 592.6h0M589.7 607.7h0M585.0 606.8h0M587.6 606.7h0M562.6 608.4h0M568.9 608.8h0M585.2 609.0h0M584.5 610.3h0M567.6 581.5h0" stroke="#6f7e95" stroke-width="3.8" stroke-linecap="round"/>
<path d="M607.2 552.3h0M584.1 586.2h0M584.2 587.6h0M584.0 593.3h0M585.7 605.8h0M589.3 605.2h0M590.9 606.0h0M585.7 608.4h0M590.8 607.3h0M582.8 606.0h0M579.9 608.6h0M581.7 608.6h0M566.6 610.7h0M579.5 611.9h0M564.6 613.9h0M565.9 581.9h0M568.5 584.0h0" stroke="#6f7e95" stroke-width="4.6" stroke-linecap="round"/>
<path d="M602.3 555.2h0M645.6 580.2h0M640.9 583.1h0M643.2 584.5h0M633.4 592.7h0M636.7 592.5h0M639.2 592.5h0M641.5 593.2h0M643.5 593.1h0M636.9 595.1h0M635.3 602.0h0M628.7 612.2h0M619.1 615.5h0M613.8 617.6h0M617.5 618.1h0M620.1 617.6h0M616.9 619.5h0M574.2 577.2h0M579.2 580.8h0M581.3 580.9h0M580.8 582.8h0M583.5 583.2h0M585.7 609.7h0M572.8 601.3h0M575.2 601.8h0M562.2 604.1h0M564.0 603.7h0M567.7 604.4h0M569.1 603.4h0M571.6 603.3h0M574.5 603.1h0M583.9 603.4h0M565.1 607.9h0M570.0 611.1h0M563.3 582.1h0M562.9 585.1h0" stroke="#9d9d9d" stroke-width="3.8" stroke-linecap="round"/>
<path d="M643.7 579.3h0M641.4 587.9h0M640.5 590.4h0M639.2 594.6h0M636.6 604.5h0M638.7 605.6h0M578.8 575.6h0M581.4 575.3h0M581.8 578.5h0M583.5 577.4h0M584.0 581.0h0M586.0 585.7h0M586.9 587.4h0M579.0 594.9h0M583.9 594.6h0M588.9 610.2h0M591.5 610.8h0M588.7 613.2h0M582.4 603.2h0M586.3 603.7h0M569.1 605.4h0M572.0 605.5h0M576.7 605.9h0M579.6 606.1h0M566.8 608.9h0M572.0 607.9h0M576.9 608.6h0M576.9 610.4h0M587.2 610.8h0M567.8 614.0h0M560.8 580.0h0M562.7 579.4h0M565.0 584.3h0M562.9 586.6h0" stroke="#9d9d9d" stroke-width="4.6" stroke-linecap="round"/>
<path d="M636.4 581.8h0M643.3 595.0h0M636.3 599.5h0M586.2 589.8h0M581.0 598.1h0M583.8 598.5h0M578.1 600.6h0M580.8 600.9h0M586.1 602.4h0M591.4 613.1h0M577.3 601.8h0M581.5 601.9h0M576.7 602.9h0M566.4 605.5h0M574.4 606.9h0M569.2 614.1h0M576.5 613.8h0M557.8 582.7h0" stroke="#996566" stroke-width="3.8" stroke-linecap="round"/>
<path d="M638.0 583.3h0M640.9 585.8h0M635.9 590.4h0M638.8 589.5h0M641.1 595.2h0M637.9 596.9h0M641.5 597.0h0M638.1 599.6h0M617.1 615.5h0M573.9 575.9h0M576.6 576.0h0M575.9 577.5h0M578.3 577.2h0M586.4 595.1h0M579.1 598.5h0M586.6 597.4h0M588.3 598.4h0M584.3 600.8h0M586.9 599.9h0M589.3 599.8h0M588.4 602.4h0M580.1 603.1h0M564.8 606.2h0M575.0 608.7h0" stroke="#996566" stroke-width="4.6" stroke-linecap="round"/>
<path d="M648.0 581.8h0M665.6 581.9h0M658.3 585.3h0" stroke="#9b6b6b" stroke-width="4.6" stroke-linecap="round"/>
<path d="M658.7 587.7h0M581.7 587.2h0M561.6 611.8h0" stroke="#3b5881" stroke-width="4.6" stroke-linecap="round"/>
<path d="M643.7 609.3h0" stroke="#650b10" stroke-width="4.6" stroke-linecap="round"/>
<path d="M643.9 612.2h0" stroke="#650b10" stroke-width="3.8" stroke-linecap="round"/>
<path d="M559.3 582.2h0M581.7 591.2h0M564.5 611.3h0M582.1 611.8h0" stroke="#3b5881" stroke-width="3.8" stroke-linecap="round"/>
<path d="M633.5 559.9h0M638.4 564.3h0M640.9 564.7h0M642.1 563.5h0M638.4 566.2h0M642.1 567.1h0" stroke="#919397" stroke-width="4.6" stroke-linecap="round"/>
<path d="M636.2 561.8h0M636.0 566.1h0M634.8 571.9h0" stroke="#996b6c" stroke-width="4.6" stroke-linecap="round"/>
<path d="M641.0 561.5h0" stroke="#8e2a2d" stroke-width="4.6" stroke-linecap="round"/>
<path d="M643.3 562.5h0M644.7 563.6h0M640.3 566.0h0M643.3 569.0h0M645.6 568.7h0M643.7 571.5h0M645.4 571.7h0" stroke="#919397" stroke-width="3.8" stroke-linecap="round"/>
<path d="M634.7 564.8h0" stroke="#9e9d9d" stroke-width="3.8" stroke-linecap="round"/>
<path d="M645.8 566.5h0M634.6 569.8h0M637.6 568.8h0M639.8 569.5h0M639.9 571.3h0" stroke="#996b6c" stroke-width="3.8" stroke-linecap="round"/>
<path d="M638.4 572.1h0" stroke="#9e9d9d" stroke-width="4.6" stroke-linecap="round"/>
<path d="M586.4 512.7h0M605.3 524.7h0M607.6 526.9h0M657.9 578.5h0M649.7 584.7h0M670.7 592.0h0M570.9 612.6h0M572.6 612.2h0M570.3 616.5h0M574.9 635.1h0" stroke="#e9e9ee" stroke-width="3.0" stroke-linecap="round"/>
<path d="M589.6 512.4h0M591.5 512.5h0M598.9 512.5h0M601.9 512.4h0M587.8 514.1h0M599.0 514.6h0M587.9 517.3h0M592.8 517.7h0M596.8 516.9h0M599.1 517.6h0M604.7 516.4h0M589.8 519.5h0M594.5 520.1h0M596.4 520.3h0M599.9 519.6h0M580.1 522.8h0M592.1 522.8h0M599.8 521.3h0M601.5 522.7h0M605.1 521.3h0M589.9 525.3h0M592.2 524.7h0M581.7 527.4h0M584.8 527.8h0M586.9 527.8h0M592.1 527.1h0M594.9 526.9h0M594.0 528.8h0M604.4 529.3h0M591.9 532.5h0M606.8 531.9h0M584.8 535.2h0M589.0 535.2h0M592.6 535.3h0M594.1 534.6h0M584.1 536.5h0M587.6 537.1h0M594.0 536.9h0M597.1 536.6h0M607.7 537.4h0M586.4 539.4h0M590.0 540.1h0M592.5 538.9h0M594.7 539.8h0M589.6 541.8h0M594.4 542.6h0M609.5 542.4h0M592.2 544.7h0M595.0 543.9h0M600.3 545.0h0M604.0 544.8h0M609.7 544.1h0M588.9 547.7h0M595.2 547.2h0M596.8 547.7h0M606.5 547.5h0M605.3 549.5h0M622.1 532.2h0M626.9 534.0h0M622.3 537.1h0M623.6 536.9h0M626.6 536.9h0M623.8 538.9h0M627.4 539.0h0M618.7 541.0h0M624.3 541.5h0M618.8 545.0h0M622.4 544.1h0M624.8 544.7h0M629.2 543.8h0M631.5 544.7h0M620.0 546.6h0M623.9 547.2h0M626.4 546.4h0M619.8 550.0h0M621.5 549.5h0M619.8 551.2h0M626.2 551.2h0M653.5 574.4h0M655.6 574.9h0M654.8 576.5h0M660.6 576.4h0M656.2 579.9h0M663.7 578.7h0M655.6 582.4h0M663.3 582.4h0M654.7 584.7h0M668.2 584.6h0M647.6 587.2h0M652.2 586.8h0M668.7 587.6h0M669.6 586.8h0M672.2 586.1h0M642.2 589.1h0M652.2 589.2h0M663.1 589.9h0M664.7 588.6h0M669.7 589.0h0M676.1 589.0h0M645.8 591.6h0M647.3 591.1h0M655.6 592.1h0M659.6 591.9h0M666.0 592.4h0M650.9 593.9h0M654.8 595.0h0M657.6 594.4h0M665.0 594.6h0M674.8 594.1h0M645.4 596.8h0M651.0 596.8h0M652.9 596.7h0M675.2 596.0h0M641.0 599.2h0M645.1 599.1h0M649.9 599.2h0M652.7 598.8h0M659.8 599.5h0M665.7 598.8h0M667.7 598.8h0M637.1 602.3h0M639.8 601.6h0M648.1 601.4h0M660.2 601.7h0M668.2 601.7h0M653.2 603.8h0M657.4 604.7h0M660.5 604.5h0M677.9 603.7h0M647.9 607.4h0M652.8 606.5h0M655.1 606.5h0M657.4 607.1h0M665.6 607.4h0M668.6 606.6h0M670.0 607.1h0M653.1 609.1h0M660.1 608.6h0M663.1 610.1h0M653.0 612.4h0M625.9 612.1h0M628.5 615.0h0M626.2 616.6h0M628.0 616.1h0M613.7 618.9h0M623.2 619.4h0M628.1 619.0h0M636.6 619.9h0M618.4 622.0h0M625.7 622.1h0M635.5 621.5h0M628.0 624.2h0M631.7 626.3h0M623.9 629.6h0M631.6 628.7h0M566.0 580.4h0M563.2 582.2h0M565.3 582.8h0M568.4 581.8h0M565.8 586.9h0M571.0 587.3h0M575.8 587.2h0M557.9 590.1h0M560.7 589.3h0M568.4 589.9h0M571.2 589.8h0M573.5 589.2h0M555.4 591.5h0M557.4 591.6h0M562.8 592.1h0M565.6 591.6h0M568.0 591.5h0M572.9 591.6h0M555.8 595.2h0M558.0 594.2h0M561.1 594.7h0M565.2 594.9h0M570.3 593.9h0M580.5 594.0h0M558.9 598.0h0M563.5 597.5h0M568.6 596.8h0M570.4 597.1h0M573.6 596.4h0M573.6 599.9h0M561.1 602.4h0M572.7 602.9h0M576.4 602.4h0M581.3 601.5h0M582.5 602.1h0M558.0 604.2h0M570.9 604.6h0M573.9 605.2h0M578.4 605.3h0M567.5 607.5h0M569.9 607.0h0M574.9 607.9h0M578.4 607.3h0M580.6 607.3h0M558.4 609.3h0M560.3 610.4h0M575.4 610.0h0M577.9 609.2h0M580.9 609.7h0M566.4 611.9h0M568.2 612.3h0M580.2 612.8h0M555.6 614.9h0M557.5 614.6h0M559.9 614.1h0M563.1 614.2h0M564.9 614.6h0M568.9 614.8h0M578.6 614.7h0M557.9 617.8h0M577.6 617.0h0M590.0 617.4h0M563.8 619.5h0M565.0 620.1h0M575.3 619.9h0M553.9 621.4h0M558.5 621.9h0M561.1 621.8h0M562.4 622.7h0M566.1 621.8h0M567.6 622.6h0M575.9 622.1h0M585.5 622.7h0M555.2 625.2h0M557.7 624.1h0M562.4 624.5h0M568.0 625.1h0M573.7 625.0h0M578.0 624.6h0M585.2 625.1h0M558.3 626.8h0M565.6 627.8h0M570.3 627.3h0M573.9 627.8h0M575.5 626.9h0M577.4 627.8h0M583.4 627.7h0M558.8 629.7h0M560.3 629.5h0M563.1 629.5h0M568.3 628.9h0M571.0 629.9h0M573.5 629.0h0M582.8 629.0h0M565.9 632.3h0M568.4 631.5h0M572.8 632.0h0M568.9 634.4h0" stroke="#d01e26" stroke-width="3.0" stroke-linecap="round"/>
<path d="M595.1 511.6h0M596.6 512.4h0M589.7 514.2h0M592.6 515.4h0M594.7 514.8h0M596.6 514.5h0M602.8 515.0h0M605.5 515.0h0M584.1 517.9h0M589.6 517.8h0M595.2 517.2h0M602.6 516.7h0M582.9 520.5h0M585.3 519.1h0M587.3 519.1h0M592.3 519.0h0M583.0 521.7h0M594.6 522.4h0M596.9 521.9h0M580.3 524.7h0M582.0 524.7h0M595.5 524.6h0M602.9 524.8h0M590.5 526.9h0M603.0 527.4h0M582.4 529.2h0M584.6 529.4h0M581.5 532.2h0M594.1 531.4h0M582.1 534.4h0M607.3 534.4h0M609.5 535.3h0M582.5 537.9h0M590.0 537.6h0M592.0 537.2h0M610.1 537.5h0M592.6 542.2h0M596.5 542.7h0M602.4 544.6h0M607.0 543.9h0M592.0 546.6h0M604.6 546.5h0M601.7 552.4h0M622.5 529.5h0M616.5 535.0h0M620.1 533.8h0M621.8 534.1h0M624.9 535.0h0M619.3 536.2h0M628.7 537.0h0M631.9 536.9h0M616.4 539.4h0M620.1 539.3h0M621.9 538.9h0M629.7 539.8h0M631.4 540.2h0M621.4 542.0h0M627.1 542.4h0M629.2 541.5h0M631.5 541.3h0M627.1 544.4h0M621.6 547.0h0M628.8 547.2h0M632.1 546.4h0M625.0 548.8h0M621.4 551.6h0M624.2 551.4h0M665.0 579.0h0M667.7 579.5h0M643.6 582.5h0M660.4 582.7h0M667.8 581.6h0M661.3 583.8h0M666.1 583.6h0M670.5 583.9h0M643.7 587.6h0M645.7 587.2h0M650.6 586.7h0M655.0 586.6h0M660.3 586.5h0M662.4 586.8h0M644.7 589.6h0M648.2 589.9h0M650.2 589.9h0M658.2 589.7h0M660.4 589.2h0M668.1 589.9h0M650.0 592.4h0M653.6 592.3h0M658.5 592.4h0M663.5 592.0h0M668.8 591.3h0M646.0 593.6h0M647.3 594.7h0M652.5 595.1h0M668.7 595.0h0M671.1 593.9h0M673.7 594.9h0M643.4 597.2h0M648.1 596.5h0M655.4 596.3h0M657.9 596.9h0M661.2 597.4h0M663.5 596.2h0M665.5 596.3h0M668.3 596.1h0M670.6 596.3h0M673.8 596.5h0M642.3 599.7h0M648.2 598.9h0M656.2 599.1h0M658.8 598.8h0M663.3 599.9h0M671.2 599.5h0M673.2 599.7h0M675.9 599.6h0M649.9 602.5h0M653.8 601.6h0M654.9 601.7h0M657.7 601.4h0M663.6 602.3h0M665.1 601.8h0M675.4 602.0h0M648.0 603.7h0M651.0 603.8h0M655.4 603.9h0M662.4 604.8h0M665.7 605.0h0M668.0 604.6h0M650.7 606.3h0M660.9 606.7h0M663.8 606.6h0M656.0 608.7h0M664.9 609.4h0M667.4 608.7h0M654.9 611.5h0M621.5 612.0h0M623.1 611.8h0M623.7 614.1h0M625.7 615.0h0M622.0 617.5h0M624.3 616.2h0M630.9 616.3h0M634.0 617.5h0M621.6 619.9h0M625.9 619.2h0M630.5 620.0h0M633.8 620.1h0M621.5 621.1h0M623.5 622.6h0M629.1 622.0h0M630.7 622.1h0M634.0 622.6h0M621.0 624.4h0M624.0 624.7h0M626.9 625.0h0M633.1 624.4h0M623.2 627.2h0M567.5 579.5h0M570.7 582.8h0M561.5 585.4h0M564.0 584.5h0M566.0 584.5h0M568.3 585.4h0M571.1 585.1h0M573.2 584.5h0M575.7 584.4h0M577.5 584.6h0M560.9 587.9h0M563.3 587.9h0M568.4 587.7h0M573.2 587.8h0M577.9 587.1h0M555.6 590.1h0M563.3 589.0h0M565.6 590.1h0M576.3 589.8h0M553.7 592.1h0M560.3 592.3h0M570.2 592.4h0M575.8 592.3h0M563.0 594.6h0M567.8 594.3h0M573.1 594.3h0M576.5 594.9h0M561.5 597.5h0M565.0 597.5h0M575.0 597.6h0M557.9 599.2h0M560.8 599.1h0M563.6 600.1h0M568.7 599.0h0M570.4 600.6h0M575.1 599.6h0M555.8 601.9h0M558.0 602.9h0M570.6 602.5h0M576.3 604.6h0M581.3 604.4h0M558.5 607.3h0M573.9 607.3h0M563.9 610.0h0M565.2 609.7h0M567.9 609.1h0M570.7 610.6h0M556.1 612.0h0M558.8 612.2h0M560.7 612.4h0M562.9 612.5h0M575.0 611.6h0M577.7 612.1h0M581.4 615.5h0M589.1 615.6h0M560.2 617.4h0M563.9 617.3h0M565.9 617.4h0M580.4 616.7h0M555.4 620.0h0M559.0 620.3h0M561.5 619.1h0M578.8 620.0h0M588.2 619.3h0M555.4 621.7h0M578.1 621.7h0M589.0 621.8h0M553.9 625.2h0M561.5 624.3h0M565.4 624.6h0M571.1 624.8h0M575.7 624.2h0M583.7 624.6h0M553.9 627.9h0M555.5 628.0h0M560.4 627.0h0M568.5 627.1h0M566.5 630.3h0M557.7 632.0h0M561.4 632.5h0M562.7 631.6h0M570.0 632.9h0M561.5 634.0h0M571.3 634.8h0" stroke="#d01e26" stroke-width="2.4" stroke-linecap="round"/>
<path d="M585.4 514.3h0M589.9 528.9h0M592.2 530.2h0M615.1 536.6h0M657.8 577.2h0M660.1 579.9h0M657.4 581.4h0M652.6 585.2h0M650.2 609.4h0M573.3 615.0h0M555.6 617.1h0M568.6 618.0h0M568.6 619.7h0M573.5 634.3h0" stroke="#e9e9ee" stroke-width="2.4" stroke-linecap="round"/>
<path d="M602.0 519.9h0M587.7 522.4h0M586.6 524.4h0M596.9 524.8h0M600.2 527.3h0M599.1 529.8h0M580.4 531.5h0M597.4 531.5h0M604.5 531.4h0M599.2 535.4h0M602.0 535.1h0M604.0 537.1h0M584.0 539.6h0M597.0 539.2h0M599.1 539.2h0M602.3 539.2h0M585.1 541.6h0M589.2 545.1h0M609.5 547.9h0M624.9 532.0h0M626.4 531.6h0M647.9 577.1h0M649.8 577.7h0M653.4 576.2h0M651.1 580.2h0M652.7 581.8h0M670.8 582.7h0M645.1 584.6h0M644.8 601.3h0M643.1 604.6h0M675.8 604.3h0M640.2 607.5h0M646.3 606.7h0M672.5 606.6h0M647.6 609.2h0M645.5 612.3h0M620.8 614.4h0M635.7 614.0h0M638.1 614.2h0M641.6 615.2h0M639.4 617.0h0M636.8 623.9h0M570.4 575.4h0M558.7 579.8h0M560.1 580.3h0M563.4 579.1h0M573.5 579.9h0M575.4 579.9h0M560.8 581.6h0M552.8 584.5h0M556.0 585.3h0M558.5 585.3h0M555.8 586.6h0M577.7 592.2h0M563.2 601.5h0M568.5 601.7h0M563.5 604.7h0M562.8 607.1h0M582.8 610.5h0M585.8 613.1h0M582.9 615.5h0M585.8 617.3h0M585.7 620.1h0M580.9 622.2h0M582.6 622.8h0M578.8 632.0h0" stroke="#b9161e" stroke-width="2.4" stroke-linecap="round"/>
<path d="M604.5 518.8h0M585.3 522.0h0M585.3 524.5h0M600.1 524.9h0M596.8 526.8h0M596.6 530.3h0M602.1 529.7h0M599.2 532.2h0M602.0 531.7h0M579.3 534.7h0M597.1 534.0h0M604.5 535.3h0M599.9 537.7h0M601.5 537.7h0M582.7 539.6h0M586.6 541.9h0M587.9 545.2h0M607.1 549.2h0M648.2 579.1h0M653.2 578.9h0M645.8 581.1h0M650.7 581.7h0M676.0 586.8h0M643.3 602.4h0M670.6 601.9h0M673.7 602.5h0M641.0 603.9h0M672.3 605.0h0M642.4 607.0h0M637.1 609.8h0M640.5 609.3h0M645.4 609.5h0M639.0 612.4h0M633.5 613.8h0M635.6 616.2h0M619.2 619.5h0M637.9 618.9h0M638.4 621.4h0M638.0 624.3h0M633.3 626.1h0M570.4 572.6h0M568.3 575.2h0M558.2 577.5h0M560.1 576.6h0M563.5 576.5h0M565.7 576.8h0M567.4 576.4h0M570.6 577.9h0M570.5 579.7h0M572.8 582.2h0M575.8 581.6h0M558.3 586.5h0M552.4 589.6h0M578.5 590.2h0M565.4 599.9h0M565.8 601.9h0M561.1 604.3h0M565.1 604.2h0M567.5 604.2h0M583.5 604.2h0M561.1 606.7h0M583.9 607.4h0M582.5 612.4h0M585.3 614.9h0M583.4 617.3h0M588.4 617.3h0M580.7 619.4h0M582.9 619.6h0M581.1 624.7h0M580.2 627.7h0M578.3 629.3h0M580.8 630.4h0" stroke="#b9161e" stroke-width="3.0" stroke-linecap="round"/>
<path d="M590.2 521.7h0M600.1 542.2h0M602.6 542.1h0M673.5 589.3h0M674.9 592.5h0M663.6 595.2h0M645.2 604.3h0M670.6 604.3h0M648.2 612.4h0M554.0 587.8h0" stroke="#eba3a3" stroke-width="2.4" stroke-linecap="round"/>
<path d="M605.3 527.9h0M606.7 540.3h0M609.5 540.2h0M596.9 545.3h0M587.4 546.7h0M648.7 584.4h0M672.9 592.4h0M660.3 593.8h0M657.5 610.0h0M565.1 607.4h0M562.8 626.6h0M576.4 632.4h0" stroke="#9fb8dd" stroke-width="2.4" stroke-linecap="round"/>
<path d="M587.2 530.3h0M585.3 532.7h0M586.9 534.1h0M599.6 547.7h0M600.0 549.6h0M630.0 549.9h0M631.8 549.6h0M629.9 551.2h0M626.4 627.0h0M628.0 627.3h0M570.4 614.6h0M575.2 614.5h0M573.1 617.9h0M575.8 617.1h0M571.1 619.8h0M572.9 621.5h0" stroke="#e2454a" stroke-width="2.4" stroke-linecap="round"/>
<path d="M586.6 532.6h0M589.4 532.4h0M601.8 547.5h0M597.7 549.1h0M601.6 549.4h0M627.4 549.6h0M663.5 584.0h0M665.0 586.7h0M626.5 629.0h0M628.6 629.0h0M556.3 599.7h0M572.3 620.4h0M571.3 621.8h0" stroke="#e2454a" stroke-width="3.0" stroke-linecap="round"/>
<path d="M604.7 540.2h0M611.7 539.5h0M604.0 541.9h0M607.6 541.4h0M616.5 536.1h0M655.2 588.5h0M650.3 612.6h0M631.6 614.9h0M630.6 623.6h0M573.3 610.5h0M575.7 630.3h0" stroke="#9fb8dd" stroke-width="3.0" stroke-linecap="round"/>
<path d="M592.9 550.0h0M637.8 585.0h0M587.7 594.3h0M578.7 600.2h0M571.7 611.0h0M570.8 612.2h0" stroke="#c9d4e6" stroke-width="3.0" stroke-linecap="round"/>
<path d="M594.9 549.9h0M599.7 552.0h0M635.1 583.6h0" stroke="#d0222b" stroke-width="3.0" stroke-linecap="round"/>
<path d="M595.4 552.2h0M635.3 586.9h0M588.7 592.4h0" stroke="#d0222b" stroke-width="2.4" stroke-linecap="round"/>
<path d="M597.0 552.4h0M637.7 586.2h0M635.2 597.6h0M586.5 591.9h0M578.6 601.8h0M561.5 600.5h0M573.9 610.9h0M574.5 612.6h0M559.4 581.4h0" stroke="#c9d4e6" stroke-width="2.4" stroke-linecap="round"/>
<path d="M605.2 552.8h0M619.1 611.8h0M578.2 583.0h0M580.4 585.0h0M583.0 589.9h0M581.0 592.0h0M589.1 607.1h0M584.3 606.2h0M587.0 606.1h0M562.0 607.7h0M568.3 608.2h0M584.6 608.4h0M583.9 609.7h0M567.0 580.9h0" stroke="#a9c0e2" stroke-width="2.4" stroke-linecap="round"/>
<path d="M606.5 551.6h0M583.4 585.4h0M583.5 586.9h0M583.3 592.5h0M585.0 605.0h0M588.5 604.5h0M590.2 605.2h0M585.0 607.7h0M590.1 606.5h0M582.1 605.3h0M579.1 607.8h0M581.0 607.9h0M565.9 610.0h0M578.8 611.2h0M563.9 613.1h0M565.2 581.1h0M567.7 583.3h0" stroke="#a9c0e2" stroke-width="3.0" stroke-linecap="round"/>
<path d="M601.7 554.6h0M645.0 579.6h0M640.3 582.5h0M642.6 583.9h0M632.8 592.1h0M636.1 591.9h0M638.6 591.9h0M640.9 592.6h0M642.9 592.5h0M636.3 594.5h0M634.7 601.4h0M628.1 611.5h0M618.5 614.9h0M613.2 617.0h0M616.9 617.5h0M619.5 617.0h0M616.3 618.9h0M573.6 576.6h0M578.6 580.2h0M580.6 580.3h0M580.2 582.2h0M582.9 582.6h0M585.1 609.1h0M572.1 600.7h0M574.6 601.2h0M561.6 603.5h0M563.4 603.1h0M567.1 603.8h0M568.5 602.8h0M571.0 602.7h0M573.9 602.5h0M583.3 602.7h0M564.5 607.3h0M569.3 610.5h0M562.7 581.5h0M562.3 584.5h0" stroke="#eeeeee" stroke-width="2.4" stroke-linecap="round"/>
<path d="M642.9 578.6h0M640.6 587.2h0M639.8 589.7h0M638.5 593.8h0M635.8 603.7h0M638.0 604.9h0M578.0 574.8h0M580.6 574.6h0M581.1 577.8h0M582.8 576.7h0M583.3 580.3h0M585.3 584.9h0M586.2 586.6h0M578.2 594.1h0M583.2 593.9h0M588.2 609.4h0M590.7 610.1h0M588.0 612.5h0M581.6 602.5h0M585.6 603.0h0M568.4 604.7h0M571.2 604.8h0M576.0 605.1h0M578.8 605.4h0M566.1 608.1h0M571.2 607.1h0M576.1 607.8h0M576.2 609.7h0M586.4 610.1h0M567.1 613.3h0M560.0 579.3h0M562.0 578.7h0M564.3 583.6h0M562.2 585.8h0" stroke="#eeeeee" stroke-width="3.0" stroke-linecap="round"/>
<path d="M635.8 581.1h0M642.7 594.4h0M635.6 598.9h0M585.6 589.2h0M580.3 597.5h0M583.2 597.9h0M577.5 600.0h0M580.2 600.3h0M585.5 601.8h0M590.8 612.5h0M576.7 601.2h0M580.9 601.3h0M576.1 602.3h0M565.8 604.9h0M573.8 606.3h0M568.6 613.5h0M575.9 613.1h0M557.1 582.0h0" stroke="#e89a9c" stroke-width="2.4" stroke-linecap="round"/>
<path d="M637.3 582.6h0M640.2 585.1h0M635.2 589.7h0M638.0 588.8h0M640.4 594.4h0M637.2 596.2h0M640.7 596.3h0M637.3 598.8h0M616.4 614.8h0M573.2 575.2h0M575.8 575.3h0M575.1 576.8h0M577.5 576.4h0M585.7 594.4h0M578.4 597.8h0M585.9 596.7h0M587.6 597.7h0M583.6 600.0h0M586.2 599.2h0M588.6 599.1h0M587.7 601.7h0M579.4 602.3h0M564.0 605.5h0M574.3 608.0h0" stroke="#e89a9c" stroke-width="3.0" stroke-linecap="round"/>
<path d="M647.3 581.1h0M664.9 581.2h0M657.5 584.5h0" stroke="#eba3a3" stroke-width="3.0" stroke-linecap="round"/>
<path d="M658.0 586.9h0M581.0 586.5h0M560.9 611.1h0" stroke="#5a86c4" stroke-width="3.0" stroke-linecap="round"/>
<path d="M643.0 608.5h0" stroke="#9a1219" stroke-width="3.0" stroke-linecap="round"/>
<path d="M643.3 611.6h0" stroke="#9a1219" stroke-width="2.4" stroke-linecap="round"/>
<path d="M558.7 581.6h0M581.1 590.6h0M563.9 610.7h0M581.5 611.2h0" stroke="#5a86c4" stroke-width="2.4" stroke-linecap="round"/>
<path d="M632.8 559.2h0M637.7 563.6h0M640.1 563.9h0M641.4 562.8h0M637.7 565.5h0M641.4 566.4h0" stroke="#dcdfe6" stroke-width="3.0" stroke-linecap="round"/>
<path d="M635.4 561.1h0M635.2 565.3h0M634.0 571.2h0" stroke="#e8a3a5" stroke-width="3.0" stroke-linecap="round"/>
<path d="M640.2 560.7h0" stroke="#d84045" stroke-width="3.0" stroke-linecap="round"/>
<path d="M642.7 561.9h0M644.1 563.0h0M639.7 565.3h0M642.7 568.4h0M645.0 568.1h0M643.1 570.9h0M644.8 571.0h0" stroke="#dcdfe6" stroke-width="2.4" stroke-linecap="round"/>
<path d="M634.1 564.2h0" stroke="#f0eeee" stroke-width="2.4" stroke-linecap="round"/>
<path d="M645.1 565.9h0M634.0 569.1h0M636.9 568.2h0M639.2 568.9h0M639.2 570.7h0" stroke="#e8a3a5" stroke-width="2.4" stroke-linecap="round"/>
<path d="M637.7 571.4h0" stroke="#f0eeee" stroke-width="3.0" stroke-linecap="round"/>
<path d="M607.5 562.1h0M607.9 564.9h0M613.4 564.9h0M620.2 565.0h0M606.0 567.5h0M607.1 566.2h0M613.6 566.2h0M617.2 567.4h0M616.0 569.4h0M625.7 572.2h0M627.4 573.5h0M590.4 579.7h0M627.6 586.8h0M630.0 587.5h0M594.9 594.2h0M597.5 597.0h0M617.7 599.2h0M621.1 599.3h0M622.1 599.9h0M600.2 602.2h0M615.4 601.9h0M608.1 607.1h0" stroke="#5d7290" stroke-width="3.8" stroke-linecap="round"/>
<path d="M602.7 564.4h0M597.8 566.8h0M620.9 566.3h0M622.9 566.2h0M623.3 569.9h0M629.9 574.5h0M593.0 579.8h0M593.5 581.6h0M592.8 584.2h0M590.6 587.2h0M628.0 589.8h0M629.8 589.5h0M595.3 591.9h0M593.3 596.2h0M596.0 596.5h0M620.3 596.7h0M597.3 599.2h0M616.0 599.6h0M608.5 602.4h0M609.7 601.0h0M613.6 602.5h0M620.1 601.1h0M598.2 603.5h0M608.2 604.1h0M610.2 604.2h0M618.3 603.5h0M609.6 607.0h0M612.5 606.3h0" stroke="#5d7290" stroke-width="4.6" stroke-linecap="round"/>
<path d="M605.4 564.2h0M603.1 571.4h0M608.6 571.8h0M615.9 571.7h0M617.1 572.4h0M607.5 573.6h0M617.6 574.8h0M605.7 577.2h0M607.6 576.5h0M595.0 579.3h0M603.0 578.7h0M604.9 579.8h0M600.5 582.5h0M613.3 581.4h0M617.6 581.6h0M622.5 582.2h0M597.1 585.0h0M603.1 584.8h0M622.2 584.8h0M595.9 586.3h0M607.3 586.7h0M620.4 587.2h0M623.2 587.2h0M624.9 586.6h0M598.2 589.6h0M606.1 588.9h0M608.5 589.8h0M618.6 589.1h0M620.3 589.2h0M597.2 591.2h0M605.5 592.3h0M608.4 592.5h0M617.9 591.1h0M598.1 594.9h0M602.7 594.2h0M608.1 594.3h0M610.0 593.8h0M615.5 593.5h0M617.5 594.8h0M619.7 594.4h0M605.9 596.5h0M612.7 596.3h0M615.0 597.2h0M594.6 599.8h0M618.0 602.4h0" stroke="#2e4e7c" stroke-width="4.6" stroke-linecap="round"/>
<path d="M609.8 564.6h0M602.8 566.2h0M610.2 566.9h0M600.9 568.6h0M590.9 576.1h0M594.9 577.4h0M627.4 576.6h0M625.7 579.4h0M590.8 582.2h0M593.5 587.4h0M625.0 592.4h0M630.4 591.3h0M592.6 594.5h0M622.9 594.5h0M623.0 596.3h0M603.4 602.4h0M605.7 600.9h0M600.8 604.5h0M604.9 604.5h0M614.6 603.8h0" stroke="#828b9a" stroke-width="3.8" stroke-linecap="round"/>
<path d="M614.7 563.8h0M600.9 566.1h0M598.7 568.7h0M602.9 568.9h0M618.4 569.5h0M620.5 568.5h0M620.8 571.0h0M622.7 572.2h0M625.0 574.4h0M592.9 576.8h0M628.1 578.5h0M590.2 583.7h0M590.6 588.7h0M593.1 588.5h0M628.3 591.8h0M628.7 593.7h0M628.1 596.8h0M601.1 600.0h0M602.4 604.4h0M613.1 603.8h0" stroke="#828b9a" stroke-width="4.6" stroke-linecap="round"/>
<path d="M615.0 566.4h0M606.0 569.9h0M612.7 568.7h0M605.3 571.2h0M610.0 572.0h0M613.6 571.0h0M604.7 574.9h0M612.4 574.7h0M598.3 577.5h0M611.0 576.5h0M597.7 579.3h0M600.5 579.1h0M598.3 581.2h0M602.4 582.0h0M605.5 582.0h0M619.6 582.3h0M595.0 583.6h0M600.5 584.2h0M605.3 584.7h0M608.0 584.3h0M618.6 585.0h0M621.0 584.1h0M625.0 584.0h0M597.6 586.7h0M599.8 587.3h0M605.7 587.3h0M617.6 586.0h0M595.0 589.2h0M599.9 589.0h0M622.8 589.9h0M625.0 589.3h0M600.0 592.4h0M603.6 592.3h0M610.4 591.6h0M612.7 592.2h0M614.8 592.5h0M621.1 592.3h0M599.8 594.1h0M606.1 595.0h0M612.6 593.6h0M600.4 596.8h0M602.7 597.0h0M618.0 596.8h0M593.5 598.9h0M613.6 599.6h0M595.0 601.7h0M598.2 602.2h0" stroke="#2e4e7c" stroke-width="3.8" stroke-linecap="round"/>
<path d="M593.5 569.5h0M596.1 569.0h0M599.7 571.4h0M593.3 574.0h0M595.8 574.8h0M625.5 576.9h0M630.1 581.8h0M628.4 583.5h0M590.2 591.0h0M625.4 596.0h0" stroke="#9d9d9d" stroke-width="4.6" stroke-linecap="round"/>
<path d="M607.2 569.8h0M610.3 568.8h0M603.3 574.3h0M620.7 574.4h0M612.8 577.2h0M615.5 576.9h0M618.6 576.0h0M620.2 576.9h0M615.5 579.6h0M618.6 578.7h0M607.3 582.5h0M614.8 581.3h0M612.2 584.6h0M610.5 586.2h0M610.8 589.4h0M615.6 589.2h0M607.8 596.3h0M610.6 596.3h0M603.2 598.5h0M608.1 599.3h0M610.8 598.5h0" stroke="#51688a" stroke-width="3.8" stroke-linecap="round"/>
<path d="M592.7 572.0h0M622.7 573.7h0M627.4 582.0h0M630.3 584.5h0M592.4 592.1h0M625.3 594.9h0" stroke="#9d9d9d" stroke-width="3.8" stroke-linecap="round"/>
<path d="M595.2 572.0h0" stroke="#6e7480" stroke-width="3.8" stroke-linecap="round"/>
<path d="M597.8 571.5h0" stroke="#6e7480" stroke-width="4.6" stroke-linecap="round"/>
<path d="M598.5 575.0h0M622.4 576.9h0" stroke="#788497" stroke-width="4.6" stroke-linecap="round"/>
<path d="M599.8 573.6h0M613.3 586.4h0" stroke="#788497" stroke-width="3.8" stroke-linecap="round"/>
<path d="M610.0 574.9h0" stroke="#214270" stroke-width="3.8" stroke-linecap="round"/>
<path d="M614.6 574.0h0M600.3 576.9h0M603.7 576.5h0M608.0 579.2h0M610.5 578.9h0M612.7 580.0h0M621.1 578.7h0M623.6 578.5h0M610.3 581.1h0M625.2 581.4h0M610.6 584.0h0M615.1 584.1h0M602.7 586.9h0M615.3 586.3h0M603.4 588.9h0M613.6 589.2h0M623.5 591.9h0M606.0 598.5h0" stroke="#51688a" stroke-width="4.6" stroke-linecap="round"/>
<path d="M595.9 581.2h0" stroke="#214270" stroke-width="4.6" stroke-linecap="round"/>
<path d="M606.9 561.5h0M607.3 564.3h0M612.8 564.3h0M619.6 564.4h0M605.4 566.8h0M606.5 565.6h0M613.0 565.6h0M616.6 566.8h0M615.4 568.8h0M625.1 571.6h0M626.8 572.9h0M589.8 579.1h0M627.0 586.2h0M629.3 586.9h0M594.3 593.6h0M596.9 596.4h0M617.1 598.6h0M620.5 598.7h0M621.5 599.3h0M599.6 601.6h0M614.8 601.3h0M607.5 606.5h0" stroke="#8eaedb" stroke-width="2.4" stroke-linecap="round"/>
<path d="M602.0 563.7h0M597.0 566.0h0M620.1 565.6h0M622.2 565.4h0M622.6 569.2h0M629.1 573.7h0M592.3 579.0h0M592.7 580.9h0M592.1 583.5h0M589.9 586.5h0M627.3 589.1h0M629.0 588.8h0M594.6 591.2h0M592.6 595.5h0M595.3 595.8h0M619.6 596.0h0M596.5 598.5h0M615.3 598.9h0M607.8 601.7h0M608.9 600.2h0M612.9 601.7h0M619.4 600.4h0M597.5 602.7h0M607.4 603.4h0M609.5 603.5h0M617.5 602.7h0M608.9 606.2h0M611.8 605.6h0" stroke="#8eaedb" stroke-width="3.0" stroke-linecap="round"/>
<path d="M604.7 563.5h0M602.3 570.7h0M607.9 571.0h0M615.2 570.9h0M616.4 571.7h0M606.8 572.9h0M616.8 574.1h0M605.0 576.5h0M606.8 575.8h0M594.2 578.6h0M602.3 577.9h0M604.1 579.0h0M599.7 581.8h0M612.6 580.7h0M616.9 580.9h0M621.7 581.4h0M596.4 584.3h0M602.3 584.1h0M621.5 584.0h0M595.1 585.6h0M606.5 586.0h0M619.6 586.5h0M622.5 586.5h0M624.1 585.9h0M597.5 588.9h0M605.3 588.2h0M607.8 589.1h0M617.9 588.4h0M619.5 588.4h0M596.4 590.4h0M604.7 591.5h0M607.7 591.7h0M617.2 590.4h0M597.3 594.1h0M602.0 593.5h0M607.4 593.6h0M609.2 593.1h0M614.7 592.8h0M616.8 594.1h0M619.0 593.7h0M605.2 595.8h0M612.0 595.5h0M614.2 596.5h0M593.9 599.0h0M617.3 601.7h0" stroke="#4677bd" stroke-width="3.0" stroke-linecap="round"/>
<path d="M609.2 564.0h0M602.2 565.6h0M609.6 566.3h0M600.3 568.0h0M590.3 575.5h0M594.3 576.8h0M626.8 576.0h0M625.1 578.8h0M590.2 581.6h0M592.9 586.8h0M624.4 591.8h0M629.8 590.7h0M591.9 593.9h0M622.3 593.9h0M622.4 595.7h0M602.8 601.7h0M605.1 600.3h0M600.2 603.9h0M604.3 603.9h0M614.0 603.2h0" stroke="#c5d3ea" stroke-width="2.4" stroke-linecap="round"/>
<path d="M614.0 563.0h0M600.1 565.3h0M597.9 567.9h0M602.1 568.1h0M617.6 568.7h0M619.8 567.8h0M620.0 570.3h0M622.0 571.4h0M624.3 573.6h0M592.2 576.1h0M627.3 577.8h0M589.4 582.9h0M589.9 588.0h0M592.4 587.8h0M627.5 591.1h0M627.9 593.0h0M627.3 596.1h0M600.3 599.2h0M601.7 603.7h0M612.4 603.1h0" stroke="#c5d3ea" stroke-width="3.0" stroke-linecap="round"/>
<path d="M614.4 565.8h0M605.4 569.3h0M612.1 568.1h0M604.7 570.6h0M609.4 571.4h0M613.0 570.4h0M604.0 574.3h0M611.8 574.1h0M597.7 576.9h0M610.4 575.9h0M597.1 578.7h0M599.9 578.5h0M597.7 580.6h0M601.8 581.4h0M604.9 581.4h0M619.0 581.7h0M594.3 583.0h0M599.9 583.6h0M604.7 584.1h0M607.4 583.7h0M618.0 584.4h0M620.4 583.5h0M624.3 583.4h0M597.0 586.1h0M599.2 586.6h0M605.1 586.7h0M617.0 585.4h0M594.4 588.6h0M599.3 588.4h0M622.1 589.3h0M624.4 588.7h0M599.4 591.8h0M602.9 591.7h0M609.8 591.0h0M612.1 591.6h0M614.2 591.9h0M620.5 591.7h0M599.2 593.5h0M605.5 594.4h0M612.0 593.0h0M599.8 596.2h0M602.1 596.4h0M617.4 596.2h0M592.9 598.3h0M613.0 599.0h0M594.4 601.1h0M597.6 601.6h0" stroke="#4677bd" stroke-width="2.4" stroke-linecap="round"/>
<path d="M592.8 568.8h0M595.4 568.3h0M599.0 570.6h0M592.6 573.3h0M595.0 574.1h0M624.8 576.2h0M629.3 581.1h0M627.7 582.7h0M589.5 590.2h0M624.6 595.2h0" stroke="#eeeeee" stroke-width="3.0" stroke-linecap="round"/>
<path d="M606.6 569.2h0M609.7 568.2h0M602.7 573.6h0M620.1 573.8h0M612.2 576.6h0M614.9 576.3h0M618.0 575.4h0M619.6 576.3h0M614.9 579.0h0M618.0 578.1h0M606.7 581.9h0M614.2 580.7h0M611.6 584.0h0M609.9 585.6h0M610.1 588.7h0M614.9 588.5h0M607.1 595.7h0M610.0 595.7h0M602.6 597.9h0M607.5 598.7h0M610.2 597.9h0" stroke="#7c9fd2" stroke-width="2.4" stroke-linecap="round"/>
<path d="M592.1 571.4h0M622.1 573.0h0M626.8 581.4h0M629.7 583.9h0M591.8 591.5h0M624.7 594.3h0" stroke="#eeeeee" stroke-width="2.4" stroke-linecap="round"/>
<path d="M594.5 571.4h0" stroke="#a7b1c2" stroke-width="2.4" stroke-linecap="round"/>
<path d="M597.1 570.7h0" stroke="#a7b1c2" stroke-width="3.0" stroke-linecap="round"/>
<path d="M597.8 574.3h0M621.7 576.2h0" stroke="#b7c9e6" stroke-width="3.0" stroke-linecap="round"/>
<path d="M599.2 573.0h0M612.7 585.8h0" stroke="#b7c9e6" stroke-width="2.4" stroke-linecap="round"/>
<path d="M609.4 574.3h0" stroke="#3364ab" stroke-width="2.4" stroke-linecap="round"/>
<path d="M613.9 573.2h0M599.5 576.2h0M602.9 575.8h0M607.3 578.4h0M609.7 578.1h0M612.0 579.2h0M620.4 577.9h0M622.8 577.7h0M609.6 580.4h0M624.5 580.7h0M609.9 583.3h0M614.3 583.4h0M602.0 586.2h0M614.5 585.5h0M602.7 588.2h0M612.9 588.5h0M622.7 591.1h0M605.2 597.8h0" stroke="#7c9fd2" stroke-width="3.0" stroke-linecap="round"/>
<path d="M595.2 580.5h0" stroke="#3364ab" stroke-width="3.0" stroke-linecap="round"/>
<path d="M601.7 567.8h0M607.3 566.8h0M612.3 567.1h0M601.9 569.5h0M604.6 570.0h0M607.3 570.5h0M608.5 570.2h0M611.1 569.9h0M616.7 570.3h0M604.8 572.2h0M614.0 571.9h0M619.6 573.0h0M601.4 574.8h0M603.9 574.7h0M613.8 574.3h0M616.3 574.6h0M599.9 577.6h0M601.1 576.9h0M604.8 577.9h0M606.3 577.3h0M614.5 577.2h0M616.6 577.2h0M606.4 579.5h0M609.9 579.8h0M614.6 580.2h0M619.8 580.4h0M604.5 582.7h0M609.0 581.7h0M612.0 582.4h0M617.1 582.3h0M607.4 585.4h0M609.4 584.6h0M610.9 584.8h0M619.8 585.4h0M606.4 586.7h0" stroke="#1d3e6e" stroke-width="4.6" stroke-linecap="round"/>
<path d="M604.4 567.2h0M609.3 567.2h0M599.5 570.3h0M619.5 569.4h0M601.5 572.0h0M606.4 572.5h0M616.9 572.3h0M621.1 571.7h0M619.1 575.0h0M597.0 577.3h0M608.4 577.6h0M612.0 577.7h0M619.6 577.9h0M602.1 579.6h0M604.6 579.6h0M612.2 579.8h0M616.6 579.5h0M621.2 580.2h0M606.9 581.7h0M614.3 581.6h0M619.3 581.8h0M622.2 582.3h0M604.3 585.0h0M614.7 584.3h0M615.9 584.1h0M617.0 587.1h0" stroke="#1d3e6e" stroke-width="3.8" stroke-linecap="round"/>
<path d="M614.5 567.1h0M616.4 567.8h0M609.7 572.1h0M611.5 571.6h0M607.0 574.4h0M609.0 574.7h0M611.1 574.4h0M602.0 581.6h0" stroke="#143463" stroke-width="3.8" stroke-linecap="round"/>
<path d="M614.1 570.1h0" stroke="#143463" stroke-width="4.6" stroke-linecap="round"/>
<path d="M599.2 571.9h0" stroke="#30517e" stroke-width="3.8" stroke-linecap="round"/>
<path d="M598.8 574.2h0" stroke="#30517e" stroke-width="4.6" stroke-linecap="round"/>
<path d="M600.9 567.0h0M606.6 566.1h0M611.6 566.4h0M601.1 568.8h0M603.8 569.3h0M606.6 569.8h0M607.7 569.5h0M610.4 569.2h0M616.0 569.6h0M604.1 571.5h0M613.3 571.1h0M618.8 572.3h0M600.7 574.1h0M603.2 574.0h0M613.0 573.6h0M615.5 573.9h0M599.2 576.9h0M600.4 576.2h0M604.1 577.2h0M605.5 576.5h0M613.8 576.5h0M615.8 576.5h0M605.6 578.7h0M609.2 579.1h0M613.9 579.4h0M619.1 579.7h0M603.8 582.0h0M608.3 580.9h0M611.3 581.6h0M616.3 581.6h0M606.7 584.7h0M608.7 583.9h0M610.1 584.1h0M619.1 584.6h0M605.6 585.9h0" stroke="#2c5ea7" stroke-width="3.0" stroke-linecap="round"/>
<path d="M603.8 566.6h0M608.7 566.6h0M598.8 569.7h0M618.9 568.8h0M600.9 571.4h0M605.8 571.9h0M616.3 571.7h0M620.5 571.0h0M618.5 574.4h0M596.4 576.7h0M607.8 577.0h0M611.4 577.1h0M619.0 577.3h0M601.5 579.0h0M604.0 579.0h0M611.6 579.2h0M616.0 578.9h0M620.6 579.6h0M606.3 581.1h0M613.7 581.0h0M618.7 581.2h0M621.6 581.7h0M603.7 584.4h0M614.1 583.7h0M615.3 583.5h0M616.4 586.5h0" stroke="#2c5ea7" stroke-width="2.4" stroke-linecap="round"/>
<path d="M613.9 566.4h0M615.8 567.2h0M609.1 571.5h0M610.9 571.0h0M606.4 573.8h0M608.4 574.1h0M610.5 573.8h0M601.4 581.0h0" stroke="#1f4f96" stroke-width="2.4" stroke-linecap="round"/>
<path d="M613.4 569.3h0" stroke="#1f4f96" stroke-width="3.0" stroke-linecap="round"/>
<path d="M598.6 571.3h0" stroke="#4a7bbf" stroke-width="2.4" stroke-linecap="round"/>
<path d="M598.0 573.5h0" stroke="#4a7bbf" stroke-width="3.0" stroke-linecap="round"/>
<g fill="#33a243"><circle cx="611" cy="592.5" r="3.6"/><circle cx="615.5" cy="588" r="3.6"/><circle cx="614" cy="583.8" r="2.6"/><circle cx="608.6" cy="589" r="2.6"/><circle cx="616" cy="594" r="2.4"/></g>
<g fill="#58c86a"><circle cx="610.2" cy="591.5" r="2"/><circle cx="614.6" cy="587" r="2"/><circle cx="613.3" cy="583" r="1.4"/></g>
<circle cx="610" cy="584.4" r="25.4" fill="none" stroke="#000" stroke-width="3"/>
<line x1="609.10" y1="504.70" x2="609.10" y2="559.00" stroke="#000" stroke-width="3.1"/>
<text x="557.00" y="498.00" font-size="12.2" text-anchor="start" font-weight="bold" fill="#000" stroke="#000">Trimeric Interface</text>
<path d="M529.6,554.6 C540,556 545,566 542.5,572 C540,578 534,582 528.4,583.2" fill="none" stroke="#000" stroke-width="2.8" stroke-linecap="round"/>
<path d="M534.2,576.8 L528.2,583.2 L537.4,583.6" fill="none" stroke="#000" stroke-width="2.8" stroke-linecap="round" stroke-linejoin="round"/>
<text x="524.40" y="603.80" font-size="12.4" text-anchor="start" font-weight="normal" fill="#111" stroke="#111">90°</text>
<rect x="475.3" y="663.9" width="108.6" height="14.5" fill="url(#rb)" stroke="#2b3f6b" stroke-width="1"/>
<text x="449.60" y="690.60" font-size="11.9" text-anchor="start" font-weight="normal" fill="#111" stroke="#111">Variable</text>
<text x="549.80" y="690.60" font-size="12.3" text-anchor="start" font-weight="normal" fill="#111" stroke="#111">Conserved</text>
<text x="393.0" y="709.9" font-size="12.45" fill="#333" stroke="#333"><tspan fill="#3aa94c" stroke="#3aa94c">Residues</tspan> = Predicted overlapping binding epitope</text>
</svg>
</body></html>
